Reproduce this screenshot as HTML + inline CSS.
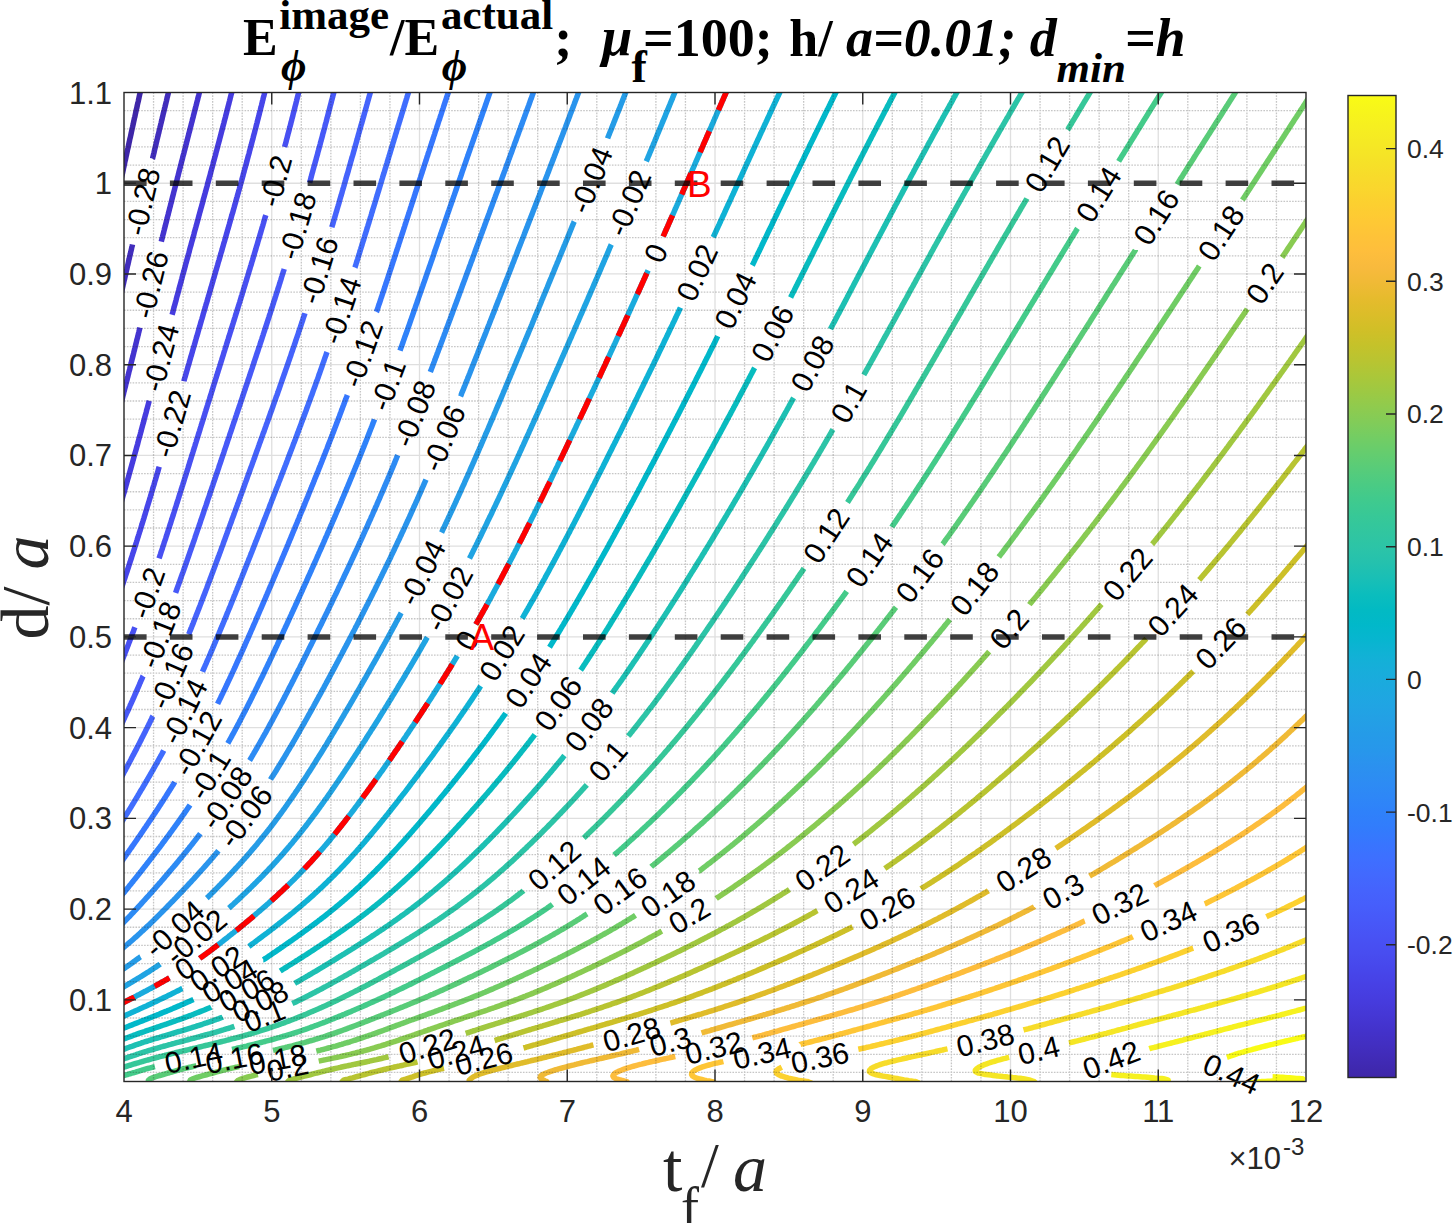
<!DOCTYPE html><html><head><meta charset="utf-8"><style>html,body{margin:0;padding:0;background:#fff;overflow:hidden;}svg{display:block;}.s{font-family:"Liberation Sans",sans-serif;}.r{font-family:"Liberation Serif",serif;}</style></head><body>
<svg width="1455" height="1223" viewBox="0 0 1455 1223">
<rect width="1455" height="1223" fill="#fff"/>
<defs><clipPath id="ax"><rect x="124.0" y="92.5" width="1182.0" height="989.0"/></clipPath>
<linearGradient id="cb" x1="0" y1="0" x2="0" y2="1"><stop offset="0.0000" stop-color="#f9fb15"/><stop offset="0.0159" stop-color="#f7f51b"/><stop offset="0.0317" stop-color="#f6ef20"/><stop offset="0.0476" stop-color="#f5e924"/><stop offset="0.0635" stop-color="#f5e327"/><stop offset="0.0794" stop-color="#f7dc2a"/><stop offset="0.0952" stop-color="#fad62d"/><stop offset="0.1111" stop-color="#fccf30"/><stop offset="0.1270" stop-color="#fec934"/><stop offset="0.1429" stop-color="#fec338"/><stop offset="0.1587" stop-color="#febe3c"/><stop offset="0.1746" stop-color="#f8ba3d"/><stop offset="0.1905" stop-color="#f0ba36"/><stop offset="0.2063" stop-color="#e6bb2d"/><stop offset="0.2222" stop-color="#dcbd29"/><stop offset="0.2381" stop-color="#d1bf27"/><stop offset="0.2540" stop-color="#c5c22a"/><stop offset="0.2698" stop-color="#b9c431"/><stop offset="0.2857" stop-color="#abc739"/><stop offset="0.3016" stop-color="#9dc943"/><stop offset="0.3175" stop-color="#8fcb4e"/><stop offset="0.3333" stop-color="#81cc59"/><stop offset="0.3492" stop-color="#72cd64"/><stop offset="0.3651" stop-color="#64cd6f"/><stop offset="0.3810" stop-color="#57cc7a"/><stop offset="0.3968" stop-color="#4acb84"/><stop offset="0.4127" stop-color="#3fca8e"/><stop offset="0.4286" stop-color="#37c897"/><stop offset="0.4444" stop-color="#31c69f"/><stop offset="0.4603" stop-color="#2cc4a7"/><stop offset="0.4762" stop-color="#24c1ae"/><stop offset="0.4921" stop-color="#19bfb6"/><stop offset="0.5079" stop-color="#0bbdbd"/><stop offset="0.5238" stop-color="#02bac3"/><stop offset="0.5397" stop-color="#01b8ca"/><stop offset="0.5556" stop-color="#08b5d0"/><stop offset="0.5714" stop-color="#12b1d6"/><stop offset="0.5873" stop-color="#18addb"/><stop offset="0.6032" stop-color="#1ca9df"/><stop offset="0.6190" stop-color="#20a5e3"/><stop offset="0.6349" stop-color="#23a0e5"/><stop offset="0.6508" stop-color="#259be8"/><stop offset="0.6667" stop-color="#2797eb"/><stop offset="0.6825" stop-color="#2b91ef"/><stop offset="0.6984" stop-color="#2d8cf3"/><stop offset="0.7143" stop-color="#2e87f7"/><stop offset="0.7302" stop-color="#2f81fa"/><stop offset="0.7460" stop-color="#327cfc"/><stop offset="0.7619" stop-color="#3875fe"/><stop offset="0.7778" stop-color="#3e6fff"/><stop offset="0.7937" stop-color="#4269fe"/><stop offset="0.8095" stop-color="#4563fd"/><stop offset="0.8254" stop-color="#465efb"/><stop offset="0.8413" stop-color="#4758f8"/><stop offset="0.8571" stop-color="#4852f4"/><stop offset="0.8730" stop-color="#484df0"/><stop offset="0.8889" stop-color="#4747eb"/><stop offset="0.9048" stop-color="#4741e5"/><stop offset="0.9206" stop-color="#463cde"/><stop offset="0.9365" stop-color="#4537d5"/><stop offset="0.9524" stop-color="#4332cb"/><stop offset="0.9683" stop-color="#422ec0"/><stop offset="0.9841" stop-color="#402ab4"/><stop offset="1.0000" stop-color="#3e26a8"/></linearGradient></defs>
<g clip-path="url(#ax)" fill="none" stroke-width="5.5" stroke-linecap="butt" stroke-linejoin="round"><path d="M114.0 212.5L114.2 211.5L114.5 210.1L114.8 208.6L115.1 207.2L115.5 205.8L115.8 204.3L116.1 202.9L116.4 201.5L116.4 201.3L116.7 200.0L117.0 198.6L117.3 197.2L117.6 195.7L117.9 194.3L118.2 192.9L118.5 191.4L118.8 190.1L118.8 190.0L119.2 188.6L119.5 187.1L119.8 185.7L120.1 184.3L120.4 182.8L120.7 181.4L121.0 180.0L121.2 179.0L121.3 178.5L121.6 177.1L121.9 175.7L122.3 174.2L122.6 172.8L122.9 171.4L123.2 169.9L123.5 168.5L123.6 167.8L123.8 167.1L124.1 165.6L124.4 164.2L124.7 162.8L125.0 161.3L125.4 159.9L125.7 158.5L126.0 157.0L126.0 156.7L126.3 155.6L126.6 154.2L126.9 152.7L127.2 151.3L127.5 149.9L127.9 148.4L128.2 147.0L128.5 145.7L128.5 145.6L128.8 144.1L129.1 142.7L129.4 141.3L129.7 139.8L130.0 138.4L130.4 137.0L130.7 135.5L130.9 134.6L131.0 134.1L131.3 132.7L131.6 131.2L131.9 129.8L132.2 128.4L132.6 126.9L132.9 125.5L133.2 124.1L133.3 123.7L133.5 122.6L133.8 121.2L134.1 119.8L134.4 118.3L134.8 116.9L135.1 115.5L135.4 114.0L135.7 112.7L135.7 112.6L136.0 111.2L136.3 109.7L136.7 108.3L137.0 106.9L137.3 105.4L137.6 104.0L137.9 102.6L138.1 101.9L138.3 101.1L138.6 99.7L138.9 98.3L139.2 96.8L139.5 95.4L139.8 94.0L140.2 92.5L140.5 91.1L140.5 91.0L140.8 89.7L141.1 88.2L141.4 86.8L141.8 85.4L142.1 83.9L142.4 82.5" stroke="#3e26a8"/><path d="M114.0 324.6L114.3 323.3L114.6 321.9L115.0 320.5L115.3 319.0L115.6 317.6L116.0 316.2L116.3 314.7L116.4 314.2L116.6 313.3L117.0 311.9L117.3 310.4L117.6 309.0L118.0 307.6L118.3 306.1L118.6 304.7L118.8 303.8L118.9 303.3L119.3 301.8L119.6 300.4L119.9 299.0L120.3 297.5L120.6 296.1L120.9 294.7L121.2 293.4L121.3 293.2L121.6 291.8L121.9 290.4L122.3 288.9L122.6 287.5L122.9 286.1L123.2 284.6L123.6 283.2L123.6 282.9L123.9 281.8L124.2 280.3L124.6 278.9L124.9 277.5L125.2 276.0L125.6 274.6L125.9 273.2L126.0 272.4L126.2 271.7L126.5 270.3L126.9 268.9L127.2 267.4L127.5 266.0L127.9 264.6L128.2 263.1L128.5 262.0L128.5 261.7L128.8 260.3L129.2 258.8L129.5 257.4L129.8 256.0L130.2 254.5L130.5 253.1L130.8 251.7L130.9 251.5L131.2 250.2L131.5 248.8L131.8 247.3L132.2 245.9L132.5 244.5M152.5 158.7L152.6 158.5L152.9 157.0L153.3 155.6L153.6 154.2L154.0 152.7L154.3 151.3L154.6 149.9L154.9 148.5L155.0 148.4L155.3 147.0L155.7 145.6L156.0 144.1L156.3 142.7L156.7 141.3L157.0 139.8L157.4 138.5L157.4 138.4L157.7 137.0L158.1 135.5L158.4 134.1L158.8 132.7L159.1 131.2L159.4 129.8L159.8 128.4L159.8 128.4L160.1 126.9L160.5 125.5L160.8 124.1L161.2 122.6L161.5 121.2L161.9 119.8L162.2 118.4L162.2 118.3L162.5 116.9L162.9 115.5L163.2 114.0L163.6 112.6L163.9 111.2L164.3 109.7L164.6 108.4L164.6 108.3L165.0 106.9L165.3 105.4L165.7 104.0L166.0 102.6L166.4 101.1L166.7 99.7L167.0 98.5L167.0 98.3L167.4 96.8L167.7 95.4L168.1 94.0L168.4 92.5L168.8 91.1L169.1 89.7L169.4 88.6L169.5 88.2L169.8 86.8L170.2 85.4L170.5 83.9L170.9 82.5" stroke="#412dbc"/><path d="M114.0 431.0L114.0 430.8L114.4 429.4L114.8 428.0L115.2 426.5L115.5 425.1L115.9 423.7L116.3 422.2L116.4 421.7L116.6 420.8L117.0 419.4L117.4 417.9L117.7 416.5L118.1 415.1L118.5 413.6L118.8 412.3L118.8 412.2L119.2 410.8L119.6 409.3L119.9 407.9L120.3 406.5L120.7 405.0L121.0 403.6L121.2 402.8L121.4 402.2L121.8 400.7L122.1 399.3L122.5 397.9L122.8 396.4L123.2 395.0L123.6 393.6L123.6 393.3L123.9 392.1L124.3 390.7L124.6 389.3L125.0 387.8L125.4 386.4L125.7 385.0L126.0 383.7L126.1 383.5L126.4 382.1L126.8 380.7L127.2 379.2L127.5 377.8L127.9 376.4L128.2 374.9L128.5 374.0L128.6 373.5L128.9 372.1L129.3 370.6L129.7 369.2L130.0 367.8L130.4 366.3L130.7 364.9L130.9 364.3L131.1 363.5L131.4 362.0L131.8 360.6L132.1 359.2L132.5 357.7L132.9 356.3L133.2 354.9L133.3 354.6L133.6 353.4L133.9 352.0L134.3 350.6L134.6 349.1L135.0 347.7L135.3 346.3L135.7 344.9L135.7 344.8L136.0 343.4L136.4 342.0L136.7 340.5L137.1 339.1L137.5 337.7L137.8 336.2L138.1 335.1L138.2 334.8L138.5 333.4L138.9 331.9L139.2 330.5L139.6 329.1L139.9 327.6M161.3 241.6L161.6 240.2L162.0 238.7L162.2 238.1L162.4 237.3L162.7 235.9L163.1 234.4L163.5 233.0L163.8 231.6L164.2 230.1L164.5 228.7L164.6 228.5L164.9 227.3L165.3 225.8L165.6 224.4L166.0 223.0L166.4 221.5L166.7 220.1L167.0 219.0L167.1 218.7L167.4 217.2L167.8 215.8L168.2 214.4L168.5 212.9L168.9 211.5L169.3 210.1L169.4 209.5L169.6 208.6L170.0 207.2L170.4 205.8L170.7 204.3L171.1 202.9L171.5 201.5L171.8 200.1L171.8 200.0L172.2 198.6L172.5 197.2L172.9 195.7L173.3 194.3L173.6 192.9L174.0 191.4L174.2 190.6L174.4 190.0L174.7 188.6L175.1 187.1L175.5 185.7L175.8 184.3L176.2 182.8L176.6 181.4L176.6 181.2L177.0 180.0L177.3 178.5L177.7 177.1L178.1 175.7L178.4 174.2L178.8 172.8L179.0 171.8L179.2 171.4L179.5 169.9L179.9 168.5L180.3 167.1L180.6 165.6L181.0 164.2L181.4 162.8L181.4 162.5L181.7 161.3L182.1 159.9L182.5 158.5L182.8 157.0L183.2 155.6L183.6 154.2L183.9 153.1L184.0 152.7L184.3 151.3L184.7 149.9L185.1 148.4L185.4 147.0L185.8 145.6L186.2 144.1L186.3 143.8L186.5 142.7L186.9 141.3L187.3 139.8L187.6 138.4L188.0 137.0L188.4 135.5L188.7 134.4L188.7 134.1L189.1 132.7L189.5 131.2L189.9 129.8L190.2 128.4L190.6 126.9L191.0 125.5L191.1 125.0L191.3 124.1L191.7 122.6L192.1 121.2L192.4 119.8L192.8 118.3L193.2 116.9L193.5 115.6L193.5 115.5L193.9 114.0L194.3 112.6L194.6 111.2L195.0 109.7L195.4 108.3L195.7 106.9L195.9 106.2L196.1 105.4L196.5 104.0L196.8 102.6L197.2 101.1L197.6 99.7L197.9 98.3L198.3 96.8L198.3 96.8L198.7 95.4L199.0 94.0L199.4 92.5L199.8 91.1L200.1 89.7L200.5 88.2L200.7 87.3L200.8 86.8L201.2 85.4L201.6 83.9L201.9 82.5" stroke="#4434cf"/><path d="M114.0 526.7L114.4 525.4L114.8 524.0L115.2 522.6L115.7 521.1L116.1 519.7L116.4 518.7L116.5 518.3L116.9 516.8L117.4 515.4L117.8 514.0L118.2 512.5L118.6 511.1L118.8 510.5L119.1 509.7L119.5 508.2L119.9 506.8L120.3 505.4L120.7 503.9L121.2 502.5L121.2 502.3L121.6 501.1L122.0 499.6L122.4 498.2L122.8 496.8L123.2 495.3L123.6 493.9L123.6 493.9L124.1 492.5L124.5 491.0L124.9 489.6L125.3 488.2L125.7 486.7L126.0 485.5L126.1 485.3L126.5 483.9L126.9 482.4L127.3 481.0L127.7 479.6L128.1 478.1L128.5 477.0L128.5 476.7L128.9 475.3L129.3 473.8L129.7 472.4L130.1 471.0L130.5 469.5L130.9 468.4L130.9 468.1L131.3 466.7L131.7 465.2L132.1 463.8L132.5 462.4L132.9 460.9L133.3 459.7L133.3 459.5L133.7 458.1L134.1 456.6L134.5 455.2L134.9 453.8L135.3 452.3L135.7 451.0L135.7 450.9L136.1 449.5L136.5 448.0L136.9 446.6L137.3 445.2L137.7 443.7L138.0 442.3L138.1 442.1L138.4 440.9L138.8 439.4L139.2 438.0L139.6 436.6L140.0 435.1L140.4 433.7L140.5 433.3L140.8 432.3L141.2 430.8L141.5 429.4L141.9 428.0L142.3 426.5L142.7 425.1L142.9 424.3L143.1 423.7L143.5 422.2L143.9 420.8L144.2 419.4L144.6 417.9L145.0 416.5L145.3 415.4L145.4 415.1L145.8 413.6L146.2 412.2L146.5 410.8L146.9 409.3L147.3 407.9L147.7 406.5L147.7 406.4L148.1 405.0L148.5 403.6L148.8 402.2L149.2 400.7M172.1 314.7L172.5 313.3L172.9 311.9L173.3 310.4L173.6 309.0L174.0 307.6L174.2 306.8L174.4 306.1L174.8 304.7L175.2 303.3L175.6 301.8L176.0 300.4L176.3 299.0L176.6 297.9L176.7 297.5L177.1 296.1L177.5 294.7L177.9 293.2L178.3 291.8L178.7 290.4L179.0 288.9L179.0 288.9L179.4 287.5L179.8 286.1L180.2 284.6L180.6 283.2L181.0 281.8L181.4 280.3L181.4 280.0L181.8 278.9L182.1 277.5L182.5 276.0L182.9 274.6L183.3 273.2L183.7 271.7L183.9 271.1L184.1 270.3L184.5 268.9L184.9 267.4L185.3 266.0L185.6 264.6L186.0 263.1L186.3 262.3L186.4 261.7L186.8 260.3L187.2 258.8L187.6 257.4L188.0 256.0L188.4 254.5L188.7 253.4L188.8 253.1L189.2 251.7L189.5 250.2L189.9 248.8L190.3 247.3L190.7 245.9L191.1 244.6L191.1 244.5L191.5 243.0L191.9 241.6L192.3 240.2L192.7 238.7L193.1 237.3L193.5 235.9L193.5 235.8L193.9 234.4L194.2 233.0L194.6 231.6L195.0 230.1L195.4 228.7L195.8 227.3L195.9 227.0L196.2 225.8L196.6 224.4L197.0 223.0L197.4 221.5L197.8 220.1L198.2 218.7L198.3 218.1L198.6 217.2L198.9 215.8L199.3 214.4L199.7 212.9L200.1 211.5L200.5 210.1L200.7 209.3L200.9 208.6L201.3 207.2L201.7 205.8L202.1 204.3L202.5 202.9L202.9 201.5L203.1 200.5L203.2 200.0L203.6 198.6L204.0 197.2L204.4 195.7L204.8 194.3L205.2 192.9L205.5 191.7L205.6 191.4L206.0 190.0L206.4 188.6L206.8 187.1L207.2 185.7L207.5 184.3L207.9 182.8L207.9 182.8L208.3 181.4L208.7 180.0L209.1 178.5L209.5 177.1L209.9 175.7L210.3 174.2L210.4 173.9L210.6 172.8L211.0 171.4L211.4 169.9L211.8 168.5L212.2 167.1L212.6 165.6L212.8 165.0L213.0 164.2L213.3 162.8L213.7 161.3L214.1 159.9L214.5 158.5L214.9 157.0L215.2 156.0L215.3 155.6L215.7 154.2L216.0 152.7L216.4 151.3L216.8 149.9L217.2 148.4L217.6 147.0L217.6 146.9L217.9 145.6L218.3 144.1L218.7 142.7L219.1 141.3L219.5 139.8L219.8 138.4L220.0 137.8L220.2 137.0L220.6 135.5L221.0 134.1L221.3 132.7L221.7 131.2L222.1 129.8L222.4 128.7L222.5 128.4L222.8 126.9L223.2 125.5L223.6 124.1L224.0 122.6L224.3 121.2L224.7 119.8L224.8 119.4L225.1 118.3L225.5 116.9L225.8 115.5L226.2 114.0L226.6 112.6L226.9 111.2L227.2 110.0L227.3 109.7L227.7 108.3L228.0 106.9L228.4 105.4L228.8 104.0L229.1 102.6L229.5 101.1L229.6 100.6L229.9 99.7L230.2 98.3L230.6 96.8L230.9 95.4L231.3 94.0L231.7 92.5L232.0 91.1L232.0 91.1L232.4 89.7L232.7 88.2L233.1 86.8L233.5 85.4L233.8 83.9L234.2 82.5" stroke="#463cdf"/><path d="M114.0 609.9L114.5 608.6L115.0 607.2L115.5 605.7L116.0 604.3L116.4 603.0L116.4 602.9L116.9 601.4L117.4 600.0L117.9 598.6L118.4 597.1L118.8 595.9L118.9 595.7L119.4 594.3L119.9 592.8L120.4 591.4L120.9 590.0L121.2 588.8L121.3 588.5L121.8 587.1L122.3 585.7L122.8 584.2L123.3 582.8L123.6 581.7L123.7 581.3L124.2 579.9L124.7 578.5L125.2 577.0L125.6 575.6L126.0 574.4L126.1 574.2L126.6 572.7L127.1 571.3L127.5 569.9L128.0 568.4L128.5 567.1L128.5 567.0L128.9 565.6L129.4 564.1L129.9 562.7L130.3 561.3L130.8 559.8L130.9 559.6L131.3 558.4L131.7 557.0L132.2 555.5L132.6 554.1L133.1 552.7L133.3 552.1L133.6 551.2L134.0 549.8L134.5 548.4L134.9 546.9L135.4 545.5L135.7 544.6L135.8 544.1L136.3 542.6L136.7 541.2L137.2 539.8L137.6 538.3L138.1 536.9L138.1 536.9L138.5 535.5L139.0 534.0L139.4 532.6L139.9 531.2L140.3 529.7L140.5 529.2L140.8 528.3L141.2 526.9L141.6 525.4L142.1 524.0L142.5 522.6L142.9 521.4L143.0 521.1L143.4 519.7L143.9 518.3L144.3 516.8L144.7 515.4L145.2 514.0L145.3 513.5L145.6 512.5L146.0 511.1L146.5 509.7L146.9 508.2L147.3 506.8L147.7 505.5L147.8 505.4L148.2 503.9L148.6 502.5L149.1 501.1L149.5 499.6L149.9 498.2L150.1 497.5L150.4 496.8L150.8 495.3L151.2 493.9L151.6 492.5L152.1 491.0L152.5 489.6L152.5 489.4L152.9 488.2L153.3 486.7L153.8 485.3L154.2 483.9L154.6 482.4L154.9 481.3L155.0 481.0L155.5 479.6L155.9 478.1L156.3 476.7L156.7 475.3L157.1 473.8L157.4 473.1L157.6 472.4L158.0 471.0L158.4 469.5L158.8 468.1L159.2 466.7M183.9 381.2L184.0 380.7L184.4 379.2L184.8 377.8L185.3 376.4L185.7 374.9L186.1 373.5L186.3 372.9L186.5 372.1L186.9 370.6L187.3 369.2L187.7 367.8L188.1 366.3L188.6 364.9L188.7 364.5L189.0 363.5L189.4 362.0L189.8 360.6L190.2 359.2L190.6 357.7L191.0 356.3L191.1 356.2L191.5 354.9L191.9 353.4L192.3 352.0L192.7 350.6L193.1 349.1L193.5 347.8L193.5 347.7L193.9 346.3L194.4 344.8L194.8 343.4L195.2 342.0L195.6 340.5L195.9 339.5L196.0 339.1L196.4 337.7L196.9 336.2L197.3 334.8L197.7 333.4L198.1 331.9L198.3 331.2L198.5 330.5L198.9 329.1L199.3 327.6L199.8 326.2L200.2 324.8L200.6 323.3L200.7 322.9L201.0 321.9L201.4 320.5L201.9 319.0L202.3 317.6L202.7 316.2L203.1 314.7L203.1 314.6L203.5 313.3L203.9 311.9L204.4 310.4L204.8 309.0L205.2 307.6L205.5 306.4L205.6 306.1L206.0 304.7L206.4 303.3L206.9 301.8L207.3 300.4L207.7 299.0L207.9 298.1L208.1 297.5L208.5 296.1L209.0 294.7L209.4 293.2L209.8 291.8L210.2 290.4L210.4 289.8L210.6 288.9L211.0 287.5L211.5 286.1L211.9 284.6L212.3 283.2L212.7 281.8L212.8 281.6L213.1 280.3L213.5 278.9L214.0 277.5L214.4 276.0L214.8 274.6L215.2 273.3L215.2 273.2L215.6 271.7L216.0 270.3L216.5 268.9L216.9 267.4L217.3 266.0L217.6 265.0L217.7 264.6L218.1 263.1L218.5 261.7L219.0 260.3L219.4 258.8L219.8 257.4L220.0 256.7L220.2 256.0L220.6 254.5L221.0 253.1L221.5 251.7L221.9 250.2L222.3 248.8L222.4 248.4L222.7 247.3L223.1 245.9L223.5 244.5L223.9 243.0L224.4 241.6L224.8 240.2L224.8 240.0L225.2 238.7L225.6 237.3L226.0 235.9L226.4 234.4L226.8 233.0L227.2 231.7L227.2 231.6L227.6 230.1L228.1 228.7L228.5 227.3L228.9 225.8L229.3 224.4L229.6 223.2L229.7 223.0L230.1 221.5L230.5 220.1L230.9 218.7L231.3 217.2L231.7 215.8L232.0 214.8L232.1 214.4L232.6 212.9L233.0 211.5L233.4 210.1L233.8 208.6L234.2 207.2L234.4 206.3L234.6 205.8L235.0 204.3L235.4 202.9L235.8 201.5L236.2 200.0L236.6 198.6L236.8 197.7L237.0 197.2L237.4 195.7L237.8 194.3L238.2 192.9L238.6 191.4L239.0 190.0L239.3 189.1L239.4 188.6L239.8 187.1L240.2 185.7L240.6 184.3L241.0 182.8L241.4 181.4L241.7 180.3L241.8 180.0L242.2 178.5L242.6 177.1L243.0 175.7L243.3 174.2L243.7 172.8L244.1 171.6L244.1 171.4L244.5 169.9L244.9 168.5L245.3 167.1L245.7 165.6L246.1 164.2L246.5 162.8L246.5 162.7L246.9 161.3L247.2 159.9L247.6 158.5L248.0 157.0L248.4 155.6L248.8 154.2L248.9 153.8L249.2 152.7L249.5 151.3L249.9 149.9L250.3 148.4L250.7 147.0L251.1 145.6L251.3 144.7L251.5 144.1L251.8 142.7L252.2 141.3L252.6 139.8L253.0 138.4L253.3 137.0L253.7 135.6L253.7 135.5L254.1 134.1L254.5 132.7L254.8 131.2L255.2 129.8L255.6 128.4L256.0 126.9L256.1 126.3L256.3 125.5L256.7 124.1L257.1 122.6L257.4 121.2L257.8 119.8L258.2 118.3L258.5 117.0L258.5 116.9L258.9 115.5L259.3 114.0L259.6 112.6L260.0 111.2L260.4 109.7L260.7 108.3L260.9 107.5L261.1 106.9L261.5 105.4L261.8 104.0L262.2 102.6L262.5 101.1L262.9 99.7L263.2 98.3L263.3 97.9L263.6 96.8L264.0 95.4L264.3 94.0L264.7 92.5L265.0 91.1L265.4 89.7L265.7 88.2L265.8 88.1L266.1 86.8L266.4 85.4L266.8 83.9L267.1 82.5" stroke="#4746ea"/><path d="M114.0 680.7L114.2 680.3L114.8 678.8L115.4 677.4L115.9 676.0L116.4 674.8L116.5 674.5L117.1 673.1L117.7 671.7L118.2 670.2L118.8 668.8L118.8 668.8L119.4 667.4L120.0 665.9L120.5 664.5L121.1 663.1L121.2 662.8L121.7 661.6L122.2 660.2L122.8 658.8L123.4 657.3L123.6 656.6L123.9 655.9L124.5 654.5L125.0 653.0L125.6 651.6L126.0 650.5L126.2 650.2L126.7 648.7L127.3 647.3L127.8 645.9L128.4 644.4L128.5 644.2L128.9 643.0L129.5 641.6L130.0 640.1L130.6 638.7L130.9 637.9L131.1 637.3L131.6 635.8L132.2 634.4L132.7 633.0L133.3 631.5L133.3 631.5L133.8 630.1L134.3 628.7L134.9 627.2M159.0 558.4L159.5 557.0L159.8 556.2L160.0 555.5L160.5 554.1L160.9 552.7L161.4 551.2L161.9 549.8L162.2 548.9L162.4 548.4L162.8 546.9L163.3 545.5L163.8 544.1L164.2 542.6L164.6 541.6L164.7 541.2L165.2 539.8L165.7 538.3L166.1 536.9L166.6 535.5L167.0 534.2L167.1 534.0L167.5 532.6L168.0 531.2L168.4 529.7L168.9 528.3L169.4 526.9L169.4 526.8L169.8 525.4L170.3 524.0L170.8 522.6L171.2 521.1L171.7 519.7L171.8 519.3L172.1 518.3L172.6 516.8L173.1 515.4L173.5 514.0L174.0 512.5L174.2 511.8L174.4 511.1L174.9 509.7L175.3 508.2L175.8 506.8L176.3 505.4L176.6 504.2L176.7 503.9L177.2 502.5L177.6 501.1L178.1 499.6L178.5 498.2L179.0 496.8L179.0 496.6L179.4 495.3L179.9 493.9L180.3 492.5L180.8 491.0L181.2 489.6L181.4 488.9L181.7 488.2L182.1 486.7L182.6 485.3L183.0 483.9L183.5 482.4L183.9 481.2L183.9 481.0L184.4 479.6L184.8 478.1L185.3 476.7L185.7 475.3L186.2 473.8L186.3 473.5L186.6 472.4L187.1 471.0L187.5 469.5L188.0 468.1L188.4 466.7L188.7 465.8L188.9 465.2L189.3 463.8L189.7 462.4L190.2 460.9L190.6 459.5L191.1 458.1L191.1 458.1L191.5 456.6L192.0 455.2L192.4 453.8L192.9 452.3L193.3 450.9L193.5 450.3L193.8 449.5L194.2 448.0L194.7 446.6L195.1 445.2L195.5 443.7L195.9 442.6L196.0 442.3L196.4 440.9L196.9 439.4L197.3 438.0L197.8 436.6L198.2 435.1L198.3 434.8L198.7 433.7L199.1 432.3L199.6 430.8L200.0 429.4L200.4 428.0L200.7 427.1L200.9 426.5L201.3 425.1L201.8 423.7L202.2 422.2L202.7 420.8L203.1 419.4L203.1 419.3L203.6 417.9L204.0 416.5L204.5 415.1L204.9 413.6L205.3 412.2L205.5 411.6L205.8 410.8L206.2 409.3L206.7 407.9L207.1 406.5L207.6 405.0L207.9 403.9L208.0 403.6L208.5 402.2L208.9 400.7L209.4 399.3L209.8 397.9L210.3 396.4L210.4 396.1L210.7 395.0L211.2 393.6L211.6 392.1L212.1 390.7L212.5 389.3L212.8 388.4L212.9 387.8L213.4 386.4L213.8 385.0L214.3 383.5L214.7 382.1L215.2 380.7L215.2 380.7L215.6 379.2L216.1 377.8L216.5 376.4L217.0 374.9L217.4 373.5L217.6 373.0L217.9 372.1L218.3 370.6L218.8 369.2L219.2 367.8L219.7 366.3L220.0 365.3L220.1 364.9L220.6 363.5L221.0 362.0L221.5 360.6L221.9 359.2L222.4 357.7L222.4 357.6L222.8 356.3L223.3 354.9L223.7 353.4L224.1 352.0L224.6 350.6L224.8 349.9L225.0 349.1L225.5 347.7L225.9 346.3L226.4 344.8L226.8 343.4L227.2 342.2L227.3 342.0L227.7 340.5L228.2 339.1L228.6 337.7L229.1 336.2L229.5 334.8L229.6 334.5L230.0 333.4L230.4 331.9L230.9 330.5L231.3 329.1L231.8 327.6L232.0 326.7L232.2 326.2L232.6 324.8L233.1 323.3L233.5 321.9L234.0 320.5L234.4 319.0L234.4 319.0L234.9 317.6L235.3 316.2L235.8 314.7L236.2 313.3L236.7 311.9L236.8 311.2L237.1 310.4L237.5 309.0L238.0 307.6L238.4 306.1L238.9 304.7L239.3 303.5L239.3 303.3L239.8 301.8L240.2 300.4L240.7 299.0L241.1 297.5L241.5 296.1L241.7 295.7L242.0 294.7L242.4 293.2L242.9 291.8L243.3 290.4L243.7 288.9L244.1 287.8L244.2 287.5L244.6 286.1L245.1 284.6L245.5 283.2L245.9 281.8L246.4 280.3L246.5 279.9L246.8 278.9L247.2 277.5L247.7 276.0L248.1 274.6L248.6 273.2L248.9 272.0L249.0 271.7L249.4 270.3L249.9 268.9L250.3 267.4L250.7 266.0L251.2 264.6L251.3 264.1L251.6 263.1L252.0 261.7L252.5 260.3L252.9 258.8L253.3 257.4L253.7 256.1L253.8 256.0L254.2 254.5L254.6 253.1L255.0 251.7L255.5 250.2L255.9 248.8L256.1 248.0L256.3 247.3L256.7 245.9L257.2 244.5L257.6 243.0L258.0 241.6L258.4 240.2L258.5 239.9L258.9 238.7L259.3 237.3L259.7 235.9L260.1 234.4L260.6 233.0L260.9 231.7L261.0 231.6L261.4 230.1L261.8 228.7L262.2 227.3L262.7 225.8L263.1 224.4L263.3 223.5L263.5 223.0L263.9 221.5L264.3 220.1L264.7 218.7L265.2 217.2L265.6 215.8L265.8 215.2M284.6 147.0L285.0 145.6L285.0 145.6L285.4 144.1L285.8 142.7L286.2 141.3L286.5 139.8L286.9 138.4L287.3 137.0L287.4 136.4L287.7 135.5L288.0 134.1L288.4 132.7L288.8 131.2L289.2 129.8L289.5 128.4L289.8 127.2L289.9 126.9L290.3 125.5L290.7 124.1L291.0 122.6L291.4 121.2L291.8 119.8L292.1 118.3L292.3 117.8L292.5 116.9L292.9 115.5L293.2 114.0L293.6 112.6L294.0 111.2L294.3 109.7L294.7 108.4L294.7 108.3L295.0 106.9L295.4 105.4L295.8 104.0L296.1 102.6L296.5 101.1L296.8 99.7L297.1 98.8L297.2 98.3L297.6 96.8L297.9 95.4L298.3 94.0L298.6 92.5L299.0 91.1L299.3 89.7L299.5 89.1L299.7 88.2L300.1 86.8L300.4 85.4L300.8 83.9L301.1 82.5" stroke="#4850f2"/><path d="M114.0 740.2L114.6 739.0L115.3 737.6L115.9 736.2L116.4 735.2L116.6 734.7L117.3 733.3L118.0 731.9L118.7 730.4L118.8 730.1L119.3 729.0L120.0 727.6L120.7 726.1L121.2 724.9L121.3 724.7L122.0 723.3L122.7 721.8L123.3 720.4L123.6 719.8L124.0 719.0L124.7 717.5L125.3 716.1L126.0 714.7L126.0 714.5L126.6 713.2L127.3 711.8L128.0 710.4L128.5 709.3L128.6 708.9L129.3 707.5L129.9 706.1L130.5 704.6L130.9 703.9L131.2 703.2L131.8 701.8L132.5 700.3L133.1 698.9L133.3 698.5L133.8 697.5L134.4 696.0L135.0 694.6L135.6 693.2L135.7 693.1L136.3 691.7L136.9 690.3L137.5 688.9L138.1 687.6L138.2 687.4L138.8 686.0L139.4 684.6L140.0 683.1L140.5 682.0L140.6 681.7L141.2 680.3L141.9 678.8L142.5 677.4L142.9 676.3L143.1 676.0M175.6 592.8L176.1 591.4L176.6 590.0L176.6 589.9L177.1 588.5L177.6 587.1L178.1 585.7L178.7 584.2L179.0 583.2L179.2 582.8L179.7 581.3L180.2 579.9L180.7 578.5L181.2 577.0L181.4 576.4L181.7 575.6L182.2 574.2L182.8 572.7L183.3 571.3L183.8 569.9L183.9 569.6L184.3 568.4L184.8 567.0L185.3 565.6L185.8 564.1L186.3 562.8L186.3 562.7L186.8 561.3L187.3 559.8L187.8 558.4L188.3 557.0L188.7 555.9L188.8 555.5L189.3 554.1L189.8 552.7L190.3 551.2L190.8 549.8L191.1 549.0L191.3 548.4L191.8 546.9L192.3 545.5L192.8 544.1L193.3 542.6L193.5 542.0L193.8 541.2L194.3 539.8L194.8 538.3L195.2 536.9L195.7 535.5L195.9 535.0L196.2 534.0L196.7 532.6L197.2 531.2L197.7 529.7L198.2 528.3L198.3 528.0L198.7 526.9L199.2 525.4L199.7 524.0L200.2 522.6L200.6 521.1L200.7 520.9L201.1 519.7L201.6 518.3L202.1 516.8L202.6 515.4L203.1 514.0L203.1 513.8L203.6 512.5L204.0 511.1L204.5 509.7L205.0 508.2L205.5 506.8L205.5 506.7L206.0 505.4L206.5 503.9L207.0 502.5L207.4 501.1L207.9 499.6L207.9 499.6L208.4 498.2L208.9 496.8L209.4 495.3L209.9 493.9L210.3 492.5L210.4 492.5L210.8 491.0L211.3 489.6L211.8 488.2L212.3 486.7L212.8 485.3L212.8 485.3L213.2 483.9L213.7 482.4L214.2 481.0L214.7 479.6L215.2 478.2L215.2 478.1L215.7 476.7L216.1 475.3L216.6 473.8L217.1 472.4L217.6 471.0L217.6 471.0L218.1 469.5L218.6 468.1L219.0 466.7L219.5 465.2L220.0 463.8L220.0 463.8L220.5 462.4L221.0 460.9L221.4 459.5L221.9 458.1L222.4 456.7L222.4 456.6L222.9 455.2L223.4 453.8L223.9 452.3L224.3 450.9L224.8 449.5L224.8 449.5L225.3 448.0L225.8 446.6L226.3 445.2L226.8 443.7L227.2 442.4L227.2 442.3L227.7 440.9L228.2 439.4L228.7 438.0L229.2 436.6L229.6 435.2L229.6 435.1L230.1 433.7L230.6 432.3L231.1 430.8L231.6 429.4L232.0 428.0L232.1 428.0L232.5 426.5L233.0 425.1L233.5 423.7L234.0 422.2L234.4 420.9L234.5 420.8L235.0 419.4L235.4 417.9L235.9 416.5L236.4 415.1L236.8 413.7L236.9 413.6L237.4 412.2L237.8 410.8L238.3 409.3L238.8 407.9L239.3 406.6L239.3 406.5L239.8 405.0L240.3 403.6L240.7 402.2L241.2 400.7L241.7 399.4L241.7 399.3L242.2 397.9L242.7 396.4L243.1 395.0L243.6 393.6L244.1 392.2L244.1 392.1L244.6 390.7L245.1 389.3L245.5 387.8L246.0 386.4L246.5 385.0L246.5 385.0L247.0 383.5L247.5 382.1L247.9 380.7L248.4 379.2L248.9 377.8L248.9 377.8L249.4 376.4L249.9 374.9L250.3 373.5L250.8 372.1L251.3 370.6L251.3 370.6L251.8 369.2L252.3 367.8L252.7 366.3L253.2 364.9L253.7 363.5L253.7 363.4L254.2 362.0L254.6 360.6L255.1 359.2L255.6 357.7L256.1 356.3L256.1 356.1L256.5 354.9L257.0 353.4L257.5 352.0L258.0 350.6L258.4 349.1L258.5 348.9L258.9 347.7L259.4 346.3L259.9 344.8L260.3 343.4L260.8 342.0L260.9 341.6L261.3 340.5L261.8 339.1L262.2 337.7L262.7 336.2L263.2 334.8L263.3 334.2L263.6 333.4L264.1 331.9L264.6 330.5L265.0 329.1L265.5 327.6L265.8 326.9L266.0 326.2L266.4 324.8L266.9 323.3L267.4 321.9L267.8 320.5L268.2 319.5L268.3 319.0L268.8 317.6L269.2 316.2L269.7 314.7L270.2 313.3L270.6 312.0L270.6 311.9L271.1 310.4L271.5 309.0L272.0 307.6L272.5 306.1L272.9 304.7L273.0 304.5L273.4 303.3L273.8 301.8L274.3 300.4L274.8 299.0L275.2 297.5L275.4 297.0L275.7 296.1L276.1 294.7L276.6 293.2L277.0 291.8L277.5 290.4L277.8 289.4L277.9 288.9L278.4 287.5L278.9 286.1L279.3 284.6L279.8 283.2L280.2 281.8L280.2 281.7L280.7 280.3L281.1 278.9L281.5 277.5L282.0 276.0L282.4 274.6L282.6 274.0L282.9 273.2L283.3 271.7L283.8 270.3L284.2 268.9M309.6 182.8L310.0 181.4L310.4 180.0L310.8 178.5L311.2 177.1L311.5 175.8L311.5 175.7L311.9 174.2L312.3 172.8L312.7 171.4L313.1 169.9L313.5 168.5L313.9 167.1L313.9 167.0L314.3 165.6L314.7 164.2L315.1 162.8L315.5 161.3L315.9 159.9L316.3 158.5L316.3 158.3L316.7 157.0L317.1 155.6L317.5 154.2L317.8 152.7L318.2 151.3L318.6 149.9L318.7 149.4L319.0 148.4L319.4 147.0L319.8 145.6L320.2 144.1L320.5 142.7L320.9 141.3L321.2 140.4L321.3 139.8L321.7 138.4L322.1 137.0L322.5 135.5L322.8 134.1L323.2 132.7L323.6 131.4L323.6 131.2L324.0 129.8L324.4 128.4L324.8 126.9L325.1 125.5L325.5 124.1L325.9 122.6L326.0 122.3L326.3 121.2L326.7 119.8L327.0 118.3L327.4 116.9L327.8 115.5L328.2 114.0L328.4 113.2L328.5 112.6L328.9 111.2L329.3 109.7L329.7 108.3L330.0 106.9L330.4 105.4L330.8 104.0L330.8 104.0L331.2 102.6L331.5 101.1L331.9 99.7L332.3 98.3L332.7 96.8L333.0 95.4L333.2 94.8L333.4 94.0L333.8 92.5L334.2 91.1L334.5 89.7L334.9 88.2L335.3 86.8L335.6 85.5L335.6 85.4L336.0 83.9L336.4 82.5" stroke="#4759f8"/><path d="M114.0 790.8L114.1 790.6L114.9 789.2L115.7 787.8L116.4 786.4L116.5 786.3L117.2 784.9L118.0 783.5L118.8 782.0L118.8 782.0L119.6 780.6L120.4 779.2L121.1 777.7L121.2 777.6L121.9 776.3L122.7 774.9L123.5 773.4L123.6 773.1L124.2 772.0L125.0 770.6L125.8 769.1L126.0 768.7L126.6 767.7L127.3 766.3L128.1 764.8L128.5 764.1L128.8 763.4L129.6 762.0L130.4 760.5L130.9 759.6L131.1 759.1L131.9 757.7L132.6 756.2L133.3 755.0L133.4 754.8L134.1 753.4L134.9 751.9L135.6 750.5L135.7 750.4L136.4 749.1L137.1 747.6L137.8 746.2L138.1 745.7L138.6 744.8L139.3 743.3L140.1 741.9L140.5 741.0L140.8 740.5L141.5 739.0L142.2 737.6L142.9 736.3L143.0 736.2L143.7 734.7L144.4 733.3L145.1 731.9L145.3 731.5L145.8 730.4L146.5 729.0L147.3 727.6L147.7 726.6L148.0 726.1L148.7 724.7L149.4 723.3L150.1 721.8L150.1 721.7L150.8 720.4L151.5 719.0L152.2 717.5L152.5 716.7L152.9 716.1M188.7 634.4L188.7 634.4L189.3 633.0L189.8 631.5L190.4 630.1L191.0 628.7L191.1 628.4L191.6 627.2L192.1 625.8L192.7 624.4L193.3 622.9L193.5 622.3L193.8 621.5L194.4 620.1L195.0 618.6L195.5 617.2L195.9 616.2L196.1 615.8L196.6 614.3L197.2 612.9L197.8 611.5L198.3 610.0L198.3 610.0L198.9 608.6L199.4 607.2L200.0 605.7L200.5 604.3L200.7 603.8L201.1 602.9L201.6 601.4L202.2 600.0L202.7 598.6L203.1 597.5L203.3 597.1L203.8 595.7L204.4 594.3L204.9 592.8L205.5 591.4L205.5 591.2L206.0 590.0L206.6 588.5L207.1 587.1L207.6 585.7L207.9 584.8L208.2 584.2L208.7 582.8L209.3 581.3L209.8 579.9L210.3 578.5L210.4 578.4L210.9 577.0L211.4 575.6L211.9 574.2L212.5 572.7L212.8 572.0L213.0 571.3L213.5 569.9L214.1 568.4L214.6 567.0L215.1 565.6L215.2 565.5L215.7 564.1L216.2 562.7L216.7 561.3L217.3 559.8L217.6 559.0L217.8 558.4L218.3 557.0L218.9 555.5L219.4 554.1L219.9 552.7L220.0 552.5L220.5 551.2L221.0 549.8L221.5 548.4L222.0 546.9L222.4 546.0L222.6 545.5L223.1 544.1L223.6 542.6L224.1 541.2L224.7 539.8L224.8 539.4L225.2 538.3L225.7 536.9L226.2 535.5L226.8 534.0L227.2 532.8L227.3 532.6L227.8 531.2L228.3 529.7L228.9 528.3L229.4 526.9L229.6 526.2L229.9 525.4L230.4 524.0L231.0 522.6L231.5 521.1L232.0 519.7L232.0 519.6L232.5 518.3L233.1 516.8L233.6 515.4L234.1 514.0L234.4 513.0L234.6 512.5L235.1 511.1L235.7 509.7L236.2 508.2L236.7 506.8L236.8 506.4L237.2 505.4L237.7 503.9L238.3 502.5L238.8 501.1L239.3 499.8L239.3 499.6L239.8 498.2L240.3 496.8L240.9 495.3L241.4 493.9L241.7 493.1L241.9 492.5L242.4 491.0L242.9 489.6L243.5 488.2L244.0 486.7L244.1 486.5L244.5 485.3L245.0 483.9L245.5 482.4L246.1 481.0L246.5 479.8L246.6 479.6L247.1 478.1L247.6 476.7L248.1 475.3L248.7 473.8L248.9 473.2L249.2 472.4L249.7 471.0L250.2 469.5L250.7 468.1L251.2 466.7L251.3 466.5L251.8 465.2L252.3 463.8L252.8 462.4L253.3 460.9L253.7 459.9L253.8 459.5L254.4 458.1L254.9 456.6L255.4 455.2L255.9 453.8L256.1 453.2L256.4 452.3L256.9 450.9L257.5 449.5L258.0 448.0L258.5 446.6L258.5 446.5L259.0 445.2L259.5 443.7L260.0 442.3L260.6 440.9L260.9 439.8L261.1 439.4L261.6 438.0L262.1 436.6L262.6 435.1L263.1 433.7L263.3 433.1L263.7 432.3L264.2 430.8L264.7 429.4L265.2 428.0L265.7 426.5L265.8 426.4L266.2 425.1L266.7 423.7L267.3 422.2L267.8 420.8L268.2 419.7L268.3 419.4L268.8 417.9L269.3 416.5L269.8 415.1L270.3 413.6L270.6 412.9L270.8 412.2L271.4 410.8L271.9 409.3L272.4 407.9L272.9 406.5L273.0 406.2L273.4 405.0L273.9 403.6L274.4 402.2L274.9 400.7L275.4 399.4L275.4 399.3L275.9 397.9L276.4 396.4L277.0 395.0L277.5 393.6L277.8 392.6L278.0 392.1L278.5 390.7L279.0 389.3L279.5 387.8L280.0 386.4L280.2 385.8L280.5 385.0L281.0 383.5L281.5 382.1L282.0 380.7L282.5 379.2L282.6 378.9L283.0 377.8L283.5 376.4L284.0 374.9L284.5 373.5L285.0 372.1L285.0 372.0L285.5 370.6L286.0 369.2L286.5 367.8L287.0 366.3L287.4 365.1L287.5 364.9L288.0 363.5L288.5 362.0L289.0 360.6L289.5 359.2L289.8 358.1L290.0 357.7L290.5 356.3L291.0 354.9L291.4 353.4L291.9 352.0L292.3 351.1L292.4 350.6L292.9 349.1L293.4 347.7L293.9 346.3L294.4 344.8L294.7 344.0L294.9 343.4L295.4 342.0L295.8 340.5L296.3 339.1L296.8 337.7L297.1 336.9L297.3 336.2L297.8 334.8L298.3 333.4L298.7 331.9L299.2 330.5L299.5 329.7L299.7 329.1L300.2 327.6L300.7 326.2L301.1 324.8L301.6 323.3L301.9 322.5L302.1 321.9L302.6 320.5L303.0 319.0L303.5 317.6L304.0 316.2L304.3 315.2L304.5 314.7L304.9 313.3M331.8 227.3L332.2 225.8L332.7 224.4L333.1 223.0L333.2 222.6L333.5 221.5L333.9 220.1L334.4 218.7L334.8 217.2L335.2 215.8L335.6 214.4L335.6 214.4L336.0 212.9L336.5 211.5L336.9 210.1L337.3 208.6L337.7 207.2L338.0 206.2L338.1 205.8L338.6 204.3L339.0 202.9L339.4 201.5L339.8 200.0L340.2 198.6L340.4 197.9L340.6 197.2L341.1 195.7L341.5 194.3L341.9 192.9L342.3 191.4L342.7 190.0L342.8 189.6L343.1 188.6L343.6 187.1L344.0 185.7L344.4 184.3L344.8 182.8L345.2 181.4L345.2 181.2L345.6 180.0L346.0 178.5L346.4 177.1L346.8 175.7L347.3 174.2L347.7 172.8L347.7 172.8L348.1 171.4L348.5 169.9L348.9 168.5L349.3 167.1L349.7 165.6L350.1 164.4L350.1 164.2L350.5 162.8L350.9 161.3L351.3 159.9L351.7 158.5L352.1 157.0L352.5 155.9L352.6 155.6L353.0 154.2L353.4 152.7L353.8 151.3L354.2 149.9L354.6 148.4L354.9 147.4L355.0 147.0L355.4 145.6L355.8 144.1L356.2 142.7L356.6 141.3L357.0 139.8L357.3 138.8L357.4 138.4L357.8 137.0L358.2 135.5L358.6 134.1L359.0 132.7L359.4 131.2L359.7 130.3L359.8 129.8L360.2 128.4L360.6 126.9L361.0 125.5L361.4 124.1L361.9 122.6L362.1 121.7L362.3 121.2L362.7 119.8L363.1 118.3L363.5 116.9L363.9 115.5L364.3 114.0L364.5 113.2L364.7 112.6L365.1 111.2L365.5 109.7L365.9 108.3L366.3 106.9L366.7 105.4L366.9 104.6L367.1 104.0L367.5 102.6L367.9 101.1L368.3 99.7L368.7 98.3L369.1 96.8L369.3 96.0L369.5 95.4L369.9 94.0L370.3 92.5L370.7 91.1L371.1 89.7L371.5 88.2L371.7 87.5L371.9 86.8L372.3 85.4L372.7 83.9L373.2 82.5" stroke="#4563fc"/><path d="M114.0 834.4L114.5 833.6L115.4 832.2L116.3 830.8L116.4 830.6L117.2 829.3L118.1 827.9L118.8 826.7L119.0 826.5L119.9 825.0L120.7 823.6L121.2 822.8L121.6 822.2L122.5 820.7L123.4 819.3L123.6 818.9L124.3 817.9L125.2 816.4L126.0 815.0L126.1 815.0L127.0 813.6L127.8 812.1L128.5 811.1L128.7 810.7L129.6 809.3L130.5 807.8L130.9 807.2L131.3 806.4L132.2 805.0L133.1 803.5L133.3 803.2L134.0 802.1L134.8 800.7L135.7 799.3L135.7 799.2L136.6 797.8L137.4 796.4L138.1 795.3L138.3 794.9L139.1 793.5L140.0 792.1L140.5 791.2L140.8 790.6L141.7 789.2L142.6 787.8L142.9 787.2L143.4 786.3L144.2 784.9L145.1 783.5L145.3 783.1L145.9 782.0L146.8 780.6L147.6 779.2L147.7 779.0L148.4 777.7L149.3 776.3L150.1 774.9L150.1 774.8L150.9 773.4L151.7 772.0L152.5 770.6L152.6 770.6L153.4 769.1L154.2 767.7L154.9 766.4L155.0 766.3L155.8 764.8L156.6 763.4L157.4 762.1L157.4 762.0L158.2 760.5L159.0 759.1L159.8 757.7L159.8 757.7L160.6 756.2L161.4 754.8L162.2 753.4L162.2 753.4L163.0 751.9L163.7 750.5M202.5 671.7L203.1 670.2L203.1 670.2L203.8 668.8L204.4 667.4L205.0 665.9L205.5 664.8L205.7 664.5L206.3 663.1L206.9 661.6L207.5 660.2L207.9 659.3L208.2 658.8L208.8 657.3L209.4 655.9L210.0 654.5L210.4 653.7L210.6 653.0L211.3 651.6L211.9 650.2L212.5 648.7L212.8 648.1L213.1 647.3L213.7 645.9L214.3 644.4L214.9 643.0L215.2 642.4L215.5 641.6L216.1 640.1L216.7 638.7L217.3 637.3L217.6 636.7L217.9 635.8L218.5 634.4L219.1 633.0L219.7 631.5L220.0 630.9L220.3 630.1L220.9 628.7L221.5 627.2L222.1 625.8L222.4 625.1L222.7 624.4L223.3 622.9L223.9 621.5L224.5 620.1L224.8 619.3L225.1 618.6L225.7 617.2L226.3 615.8L226.8 614.3L227.2 613.4L227.4 612.9L228.0 611.5L228.6 610.0L229.2 608.6L229.6 607.5L229.8 607.2L230.4 605.7L230.9 604.3L231.5 602.9L232.0 601.6L232.1 601.4L232.7 600.0L233.3 598.6L233.8 597.1L234.4 595.7L234.4 595.6L235.0 594.3L235.6 592.8L236.1 591.4L236.7 590.0L236.8 589.6L237.3 588.5L237.9 587.1L238.4 585.7L239.0 584.2L239.3 583.6L239.6 582.8L240.2 581.3L240.7 579.9L241.3 578.5L241.7 577.5L241.9 577.0L242.4 575.6L243.0 574.2L243.6 572.7L244.1 571.5L244.1 571.3L244.7 569.9L245.3 568.4L245.8 567.0L246.4 565.6L246.5 565.4L247.0 564.1L247.5 562.7L248.1 561.3L248.7 559.8L248.9 559.3L249.2 558.4L249.8 557.0L250.4 555.5L250.9 554.1L251.3 553.2L251.5 552.7L252.1 551.2L252.6 549.8L253.2 548.4L253.7 547.1L253.8 546.9L254.3 545.5L254.9 544.1L255.4 542.6L256.0 541.2L256.1 540.9L256.6 539.8L257.1 538.3L257.7 536.9L258.3 535.5L258.5 534.8L258.8 534.0L259.4 532.6L259.9 531.2L260.5 529.7L260.9 528.6L261.1 528.3L261.6 526.9L262.2 525.4L262.7 524.0L263.3 522.6L263.3 522.4L263.8 521.1L264.4 519.7L265.0 518.3L265.5 516.8L265.8 516.2L266.1 515.4L266.6 514.0L267.2 512.5L267.8 511.1L268.2 510.1L268.3 509.7L268.9 508.2L269.4 506.8L270.0 505.4L270.5 503.9L270.6 503.8L271.1 502.5L271.6 501.1L272.2 499.6L272.8 498.2L273.0 497.6L273.3 496.8L273.9 495.3L274.4 493.9L275.0 492.5L275.4 491.4L275.5 491.0L276.1 489.6L276.6 488.2L277.2 486.7L277.7 485.3L277.8 485.2L278.3 483.9L278.8 482.4L279.4 481.0L280.0 479.6L280.2 478.9L280.5 478.1L281.1 476.7L281.6 475.3L282.2 473.8L282.6 472.6L282.7 472.4L283.3 471.0L283.8 469.5L284.4 468.1L284.9 466.7L285.0 466.4L285.5 465.2L286.0 463.8L286.6 462.4L287.1 460.9L287.4 460.1L287.6 459.5L288.2 458.1L288.7 456.6L289.3 455.2L289.8 453.8L289.8 453.7L290.4 452.3L290.9 450.9L291.5 449.5L292.0 448.0L292.3 447.4L292.6 446.6L293.1 445.2L293.6 443.7L294.2 442.3L294.7 441.0L294.7 440.9L295.3 439.4L295.8 438.0L296.4 436.6L296.9 435.1L297.1 434.7L297.4 433.7L298.0 432.3L298.5 430.8L299.0 429.4L299.5 428.2L299.6 428.0L300.1 426.5L300.7 425.1L301.2 423.7L301.7 422.2L301.9 421.8L302.3 420.8L302.8 419.4L303.3 417.9L303.9 416.5L304.3 415.3L304.4 415.1L304.9 413.6L305.5 412.2L306.0 410.8L306.5 409.3L306.7 408.8L307.0 407.9L307.6 406.5L308.1 405.0L308.6 403.6L309.1 402.3L309.1 402.2L309.7 400.7L310.2 399.3L310.7 397.9L311.2 396.4L311.5 395.7L311.8 395.0L312.3 393.6L312.8 392.1L313.3 390.7L313.8 389.3L313.9 389.0L314.4 387.8L314.9 386.4L315.4 385.0L315.9 383.5L316.3 382.3L316.4 382.1L316.9 380.7L317.5 379.2L318.0 377.8L318.5 376.4L318.7 375.6L319.0 374.9L319.5 373.5L320.0 372.1L320.5 370.6L321.0 369.2L321.2 368.8L321.5 367.8L322.0 366.3L322.5 364.9L323.0 363.5L323.5 362.0L323.6 362.0L324.0 360.6L324.5 359.2L325.0 357.7L325.5 356.3L326.0 355.1L326.0 354.9L326.5 353.4L327.0 352.0M354.9 267.6L355.0 267.4L355.4 266.0L355.9 264.6L356.3 263.1L356.8 261.7L357.2 260.3L357.3 260.0L357.7 258.8L358.1 257.4L358.6 256.0L359.0 254.5L359.5 253.1L359.7 252.3L359.9 251.7L360.3 250.2L360.8 248.8L361.2 247.3L361.7 245.9L362.1 244.6L362.1 244.5L362.6 243.0L363.0 241.6L363.5 240.2L363.9 238.7L364.4 237.3L364.5 236.8L364.8 235.9L365.2 234.4L365.7 233.0L366.1 231.6L366.6 230.1L366.9 229.0L367.0 228.7L367.4 227.3L367.9 225.8L368.3 224.4L368.8 223.0L369.2 221.5L369.3 221.1L369.6 220.1L370.1 218.7L370.5 217.2L371.0 215.8L371.4 214.4L371.7 213.2L371.8 212.9L372.3 211.5L372.7 210.1L373.1 208.6L373.6 207.2L374.0 205.8L374.2 205.3L374.5 204.3L374.9 202.9L375.3 201.5L375.8 200.0L376.2 198.6L376.6 197.4L376.6 197.2L377.1 195.7L377.5 194.3L377.9 192.9L378.4 191.4L378.8 190.0L379.0 189.5L379.2 188.6L379.7 187.1L380.1 185.7L380.5 184.3L381.0 182.8L381.4 181.5L381.4 181.4L381.8 180.0L382.3 178.5L382.7 177.1L383.1 175.7L383.6 174.2L383.8 173.6L384.0 172.8L384.5 171.4L384.9 169.9L385.3 168.5L385.8 167.1L386.2 165.6L386.2 165.6L386.6 164.2L387.1 162.8L387.5 161.3L387.9 159.9L388.4 158.5L388.6 157.6L388.8 157.0L389.2 155.6L389.7 154.2L390.1 152.7L390.5 151.3L391.0 149.9L391.0 149.7L391.4 148.4L391.8 147.0L392.3 145.6L392.7 144.1L393.1 142.7L393.4 141.7L393.6 141.3L394.0 139.8L394.4 138.4L394.9 137.0L395.3 135.5L395.7 134.1L395.8 133.8L396.2 132.7L396.6 131.2L397.0 129.8L397.5 128.4L397.9 126.9L398.2 125.8L398.3 125.5L398.8 124.1L399.2 122.6L399.7 121.2L400.1 119.8L400.5 118.3L400.6 117.9L401.0 116.9L401.4 115.5L401.8 114.0L402.3 112.6L402.7 111.2L403.1 110.0L403.1 109.7L403.6 108.3L404.0 106.9L404.5 105.4L404.9 104.0L405.3 102.6L405.5 102.2L405.8 101.1L406.2 99.7L406.7 98.3L407.1 96.8L407.5 95.4L407.9 94.3L408.0 94.0L408.4 92.5L408.9 91.1L409.3 89.7L409.7 88.2L410.2 86.8L410.3 86.5L410.6 85.4L411.1 83.9L411.5 82.5" stroke="#406dfe"/><path d="M114.0 872.1L114.9 870.9L115.9 869.5L116.4 868.8L116.9 868.0L118.0 866.6L118.8 865.4L119.0 865.2L120.0 863.7L121.0 862.3L121.2 862.1L122.1 860.9L123.1 859.4L123.6 858.7L124.1 858.0L125.1 856.6L126.0 855.2L126.1 855.1L127.1 853.7L128.1 852.3L128.5 851.8L129.1 850.8L130.1 849.4L130.9 848.4L131.1 848.0L132.2 846.5L133.1 845.1L133.3 844.9L134.1 843.7L135.1 842.2L135.7 841.5L136.1 840.8L137.1 839.4L138.1 838.0L138.1 837.9L139.1 836.5L140.1 835.1L140.5 834.5L141.1 833.6L142.1 832.2L142.9 831.0L143.0 830.8L144.0 829.3L145.0 827.9L145.3 827.4L146.0 826.5L146.9 825.0L147.7 823.9L147.9 823.6L148.9 822.2L149.8 820.7L150.1 820.3L150.8 819.3L151.8 817.9L152.5 816.7L152.7 816.4L153.7 815.0L154.6 813.6L154.9 813.1L155.6 812.1L156.5 810.7L157.4 809.4L157.5 809.3L158.4 807.8L159.3 806.4L159.8 805.7L160.3 805.0L161.2 803.5L162.1 802.1L162.2 802.0L163.0 800.7L164.0 799.2L164.6 798.3L164.9 797.8L165.8 796.4L166.7 794.9L167.0 794.5L167.6 793.5L168.5 792.1L169.4 790.7L169.4 790.6L170.3 789.2L171.2 787.8L171.8 786.8L172.1 786.3L173.0 784.9L173.9 783.5L174.2 782.9L174.7 782.0M217.6 703.9L217.9 703.2L218.6 701.8L219.3 700.3L220.0 699.0L220.0 698.9L220.7 697.5L221.4 696.0L222.1 694.6L222.4 694.0L222.8 693.2L223.5 691.7L224.2 690.3L224.8 689.0L224.9 688.9L225.5 687.4L226.2 686.0L226.9 684.6L227.2 683.9L227.6 683.1L228.2 681.7L228.9 680.3L229.6 678.8L229.6 678.7L230.3 677.4L230.9 676.0L231.6 674.5L232.0 673.6L232.2 673.1L232.9 671.7L233.6 670.2L234.2 668.8L234.4 668.3L234.9 667.4L235.5 665.9L236.2 664.5L236.8 663.1L236.8 663.0L237.5 661.6L238.1 660.2L238.8 658.8L239.3 657.7L239.4 657.3L240.1 655.9L240.7 654.5L241.4 653.0L241.7 652.4L242.0 651.6L242.7 650.2L243.3 648.7L243.9 647.3L244.1 647.0L244.6 645.9L245.2 644.4L245.8 643.0L246.5 641.6L246.5 641.6L247.1 640.1L247.8 638.7L248.4 637.3L248.9 636.1L249.0 635.8L249.6 634.4L250.3 633.0L250.9 631.5L251.3 630.6L251.5 630.1L252.2 628.7L252.8 627.2L253.4 625.8L253.7 625.1L254.0 624.4L254.7 622.9L255.3 621.5L255.9 620.1L256.1 619.6L256.5 618.6L257.1 617.2L257.8 615.8L258.4 614.3L258.5 614.0L259.0 612.9L259.6 611.5L260.2 610.0L260.9 608.6L260.9 608.4L261.5 607.2L262.1 605.7L262.7 604.3L263.3 602.9L263.3 602.8L263.9 601.4L264.6 600.0L265.2 598.6L265.8 597.2L265.8 597.1L266.4 595.7L267.0 594.3L267.6 592.8L268.2 591.5L268.2 591.4L268.8 590.0L269.4 588.5L270.1 587.1L270.6 585.9L270.7 585.7L271.3 584.2L271.9 582.8L272.5 581.3L273.0 580.2L273.1 579.9L273.7 578.5L274.3 577.0L274.9 575.6L275.4 574.5L275.5 574.2L276.1 572.7L276.7 571.3L277.3 569.9L277.8 568.8L277.9 568.4L278.5 567.0L279.2 565.6L279.8 564.1L280.2 563.1L280.4 562.7L281.0 561.3L281.6 559.8L282.2 558.4L282.6 557.3L282.8 557.0L283.4 555.5L284.0 554.1L284.6 552.7L285.0 551.6L285.2 551.2L285.8 549.8L286.4 548.4L287.0 546.9L287.4 545.8L287.6 545.5L288.2 544.1L288.8 542.6L289.4 541.2L289.8 540.0L290.0 539.8L290.6 538.3L291.2 536.9L291.7 535.5L292.3 534.3L292.3 534.0L292.9 532.6L293.5 531.2L294.1 529.7L294.7 528.5L294.7 528.3L295.3 526.9L295.9 525.4L296.5 524.0L297.1 522.6L297.1 522.6L297.7 521.1L298.3 519.7L298.9 518.3L299.5 516.8L299.5 516.8L300.0 515.4L300.6 514.0L301.2 512.5L301.8 511.1L301.9 510.9L302.4 509.7L303.0 508.2L303.6 506.8L304.2 505.4L304.3 505.1L304.8 503.9L305.3 502.5L305.9 501.1L306.5 499.6L306.7 499.2L307.1 498.2L307.7 496.8L308.3 495.3L308.8 493.9L309.1 493.2L309.4 492.5L310.0 491.0L310.6 489.6L311.2 488.2L311.5 487.3L311.7 486.7L312.3 485.3L312.9 483.9L313.5 482.4L313.9 481.3L314.1 481.0L314.6 479.6L315.2 478.1L315.8 476.7L316.3 475.3L316.4 475.3L316.9 473.8L317.5 472.4L318.1 471.0L318.7 469.5L318.7 469.3L319.2 468.1L319.8 466.7L320.4 465.2L320.9 463.8L321.2 463.2L321.5 462.4L322.1 460.9L322.6 459.5L323.2 458.1L323.6 457.2L323.8 456.6L324.3 455.2L324.9 453.8L325.5 452.3L326.0 451.0L326.0 450.9L326.6 449.5L327.2 448.0L327.7 446.6L328.3 445.2L328.4 444.9L328.8 443.7L329.4 442.3L329.9 440.9L330.5 439.4L330.8 438.7L331.1 438.0L331.6 436.6L332.2 435.1L332.7 433.7L333.2 432.4L333.3 432.3L333.8 430.8L334.4 429.4L334.9 428.0L335.5 426.5L335.6 426.2L336.0 425.1L336.6 423.7L337.1 422.2L337.7 420.8L338.0 419.8L338.2 419.4L338.7 417.9L339.3 416.5L339.8 415.1L340.4 413.6L340.4 413.4L340.9 412.2L341.4 410.8L342.0 409.3L342.5 407.9L342.8 407.0L343.0 406.5L343.6 405.0L344.1 403.6L344.6 402.2L345.2 400.7L345.2 400.6L345.7 399.3L346.2 397.9L346.8 396.4L347.3 395.0M376.5 311.9L376.6 311.7L377.0 310.4L377.5 309.0L378.0 307.6L378.4 306.1L378.9 304.7L379.0 304.5L379.4 303.3L379.9 301.8L380.4 300.4L380.8 299.0L381.3 297.5L381.4 297.3L381.8 296.1L382.3 294.7L382.8 293.2L383.2 291.8L383.7 290.4L383.8 290.1L384.2 288.9L384.7 287.5L385.1 286.1L385.6 284.6L386.1 283.2L386.2 282.8L386.5 281.8L387.0 280.3L387.5 278.9L388.0 277.5L388.4 276.0L388.6 275.5L388.9 274.6L389.4 273.2L389.8 271.7L390.3 270.3L390.8 268.9L391.0 268.2L391.3 267.4L391.7 266.0L392.2 264.6L392.7 263.1L393.1 261.7L393.4 260.8L393.6 260.3L394.1 258.8L394.5 257.4L395.0 256.0L395.5 254.5L395.8 253.4L395.9 253.1L396.4 251.7L396.9 250.2L397.3 248.8L397.8 247.3L398.2 246.0L398.3 245.9L398.7 244.5L399.2 243.0L399.7 241.6L400.1 240.2L400.6 238.7L400.6 238.6L401.1 237.3L401.5 235.9L402.0 234.4L402.5 233.0L402.9 231.6L403.1 231.2L403.4 230.1L403.9 228.7L404.3 227.3L404.8 225.8L405.2 224.4L405.5 223.7L405.7 223.0L406.2 221.5L406.6 220.1L407.1 218.7L407.6 217.2L407.9 216.3L408.0 215.8L408.5 214.4L409.0 212.9L409.4 211.5L409.9 210.1L410.3 208.8L410.3 208.6L410.8 207.2L411.3 205.8L411.7 204.3L412.2 202.9L412.7 201.5L412.7 201.4L413.1 200.0L413.6 198.6L414.1 197.2L414.5 195.7L415.0 194.3L415.1 193.9L415.4 192.9L415.9 191.4L416.4 190.0L416.8 188.6L417.3 187.1L417.5 186.5L417.8 185.7L418.2 184.3L418.7 182.8L419.2 181.4L419.6 180.0L419.9 179.1L420.1 178.5L420.6 177.1L421.0 175.7L421.5 174.2L422.0 172.8L422.3 171.7L422.4 171.4L422.9 169.9L423.4 168.5L423.8 167.1L424.3 165.6L424.7 164.2L424.7 164.2L425.2 162.8L425.7 161.3L426.2 159.9L426.6 158.5L427.1 157.0L427.1 156.8L427.6 155.6L428.0 154.2L428.5 152.7L429.0 151.3L429.4 149.9L429.6 149.5L429.9 148.4L430.4 147.0L430.8 145.6L431.3 144.1L431.8 142.7L432.0 142.1L432.2 141.3L432.7 139.8L433.2 138.4L433.6 137.0L434.1 135.5L434.4 134.7L434.6 134.1L435.0 132.7L435.5 131.2L436.0 129.8L436.5 128.4L436.8 127.4L436.9 126.9L437.4 125.5L437.9 124.1L438.3 122.6L438.8 121.2L439.2 120.0L439.3 119.8L439.8 118.3L440.2 116.9L440.7 115.5L441.2 114.0L441.6 112.7L441.6 112.6L442.1 111.2L442.6 109.7L443.1 108.3L443.5 106.9L444.0 105.4L444.0 105.4L444.5 104.0L444.9 102.6L445.4 101.1L445.9 99.7L446.4 98.3L446.4 98.1L446.8 96.8L447.3 95.4L447.8 94.0L448.3 92.5L448.7 91.1L448.8 90.8L449.2 89.7L449.7 88.2L450.2 86.8L450.6 85.4L451.1 83.9L451.2 83.5L451.6 82.5" stroke="#3677fe"/><path d="M114.0 904.4L114.5 903.9L115.7 902.4L116.4 901.6L116.9 901.0L118.1 899.6L118.8 898.8L119.3 898.1L120.5 896.7L121.2 895.9L121.7 895.3L122.9 893.8L123.6 893.0L124.1 892.4L125.3 891.0L126.0 890.0L126.4 889.5L127.6 888.1L128.5 887.1L128.8 886.7L129.9 885.2L130.9 884.1L131.1 883.8L132.2 882.4L133.3 881.1L133.4 880.9L134.5 879.5L135.7 878.1L135.7 878.1L136.8 876.6L138.0 875.2L138.1 875.1L139.1 873.8L140.2 872.3L140.5 872.0L141.4 870.9L142.5 869.5L142.9 869.0L143.6 868.0L144.7 866.6L145.3 865.9L145.9 865.2L147.0 863.7L147.7 862.8L148.1 862.3L149.2 860.9L150.1 859.7L150.3 859.4L151.4 858.0L152.5 856.6L152.5 856.6L153.6 855.1L154.7 853.7L154.9 853.4L155.8 852.3L156.9 850.8L157.4 850.3L158.0 849.4L159.1 848.0L159.8 847.1L160.2 846.5L161.3 845.1L162.2 843.9L162.3 843.7L163.4 842.2L164.5 840.8L164.6 840.7L165.5 839.4L166.6 837.9L167.0 837.4L167.7 836.5L168.7 835.1L169.4 834.2L169.8 833.6L170.8 832.2L171.8 830.9L171.9 830.8L172.9 829.3L174.0 827.9L174.2 827.5L175.0 826.5L176.0 825.0L176.6 824.2L177.1 823.6L178.1 822.2L179.0 820.8L179.1 820.7L180.1 819.3L181.1 817.9L181.4 817.4L182.1 816.4L183.1 815.0L183.9 814.0L184.1 813.6L185.1 812.1L186.1 810.7L186.3 810.5L187.1 809.3L188.1 807.8L188.7 807.0L189.1 806.4L190.0 805.0M227.8 743.3L228.6 741.9L229.4 740.5L229.6 740.1L230.2 739.0L231.0 737.6L231.8 736.2L232.0 735.7L232.6 734.7L233.3 733.3L234.1 731.9L234.4 731.2L234.9 730.4L235.6 729.0L236.4 727.6L236.8 726.7L237.2 726.1L237.9 724.7L238.7 723.3L239.3 722.2L239.4 721.8L240.2 720.4L240.9 719.0L241.7 717.6L241.7 717.5L242.4 716.1L243.2 714.7L243.9 713.2L244.1 712.9L244.7 711.8L245.4 710.4L246.1 708.9L246.5 708.2L246.9 707.5L247.6 706.1L248.3 704.6L248.9 703.5L249.0 703.2L249.8 701.8L250.5 700.3L251.2 698.9L251.3 698.7L251.9 697.5L252.6 696.0L253.3 694.6L253.7 693.9L254.1 693.2L254.8 691.7L255.5 690.3L256.1 689.0L256.2 688.9L256.9 687.4L257.6 686.0L258.3 684.6L258.5 684.1L259.0 683.1L259.7 681.7L260.4 680.3L260.9 679.1L261.1 678.8L261.8 677.4L262.5 676.0L263.2 674.5L263.3 674.2L263.9 673.1L264.6 671.7L265.2 670.2L265.8 669.2L265.9 668.8L266.6 667.4L267.3 665.9L268.0 664.5L268.2 664.1L268.7 663.1L269.4 661.6L270.0 660.2L270.6 659.0L270.7 658.8L271.4 657.3L272.1 655.9L272.7 654.5L273.0 654.0L273.4 653.0L274.1 651.6L274.8 650.2L275.4 648.8L275.4 648.7L276.1 647.3L276.8 645.9L277.5 644.4L277.8 643.7L278.1 643.0L278.8 641.6L279.5 640.1L280.1 638.7L280.2 638.5L280.8 637.3L281.5 635.8L282.1 634.4L282.6 633.4L282.8 633.0L283.5 631.5L284.1 630.1L284.8 628.7L285.0 628.1L285.5 627.2L286.1 625.8L286.8 624.4L287.4 622.9L287.4 622.9L288.1 621.5L288.8 620.1L289.4 618.6L289.8 617.7L290.1 617.2L290.7 615.8L291.4 614.3L292.0 612.9L292.3 612.4L292.7 611.5L293.4 610.0L294.0 608.6L294.7 607.2L294.7 607.2L295.3 605.7L296.0 604.3L296.6 602.9L297.1 601.9L297.3 601.4L297.9 600.0L298.6 598.6L299.2 597.1L299.5 596.6L299.9 595.7L300.5 594.3L301.2 592.8L301.8 591.4L301.9 591.3L302.5 590.0L303.1 588.5L303.8 587.1L304.3 585.9L304.4 585.7L305.1 584.2L305.7 582.8L306.4 581.3L306.7 580.6L307.0 579.9L307.6 578.5L308.3 577.0L308.9 575.6L309.1 575.2L309.6 574.2L310.2 572.7L310.9 571.3L311.5 569.9L311.5 569.8L312.1 568.4L312.8 567.0L313.4 565.6L313.9 564.4L314.1 564.1L314.7 562.7L315.3 561.3L316.0 559.8L316.3 559.0L316.6 558.4L317.2 557.0L317.9 555.5L318.5 554.1L318.7 553.6L319.1 552.7L319.8 551.2L320.4 549.8L321.0 548.4L321.2 548.1L321.7 546.9L322.3 545.5L322.9 544.1L323.6 542.6L323.6 542.6L324.2 541.2L324.8 539.8L325.4 538.3L326.0 537.1L326.1 536.9L326.7 535.5L327.3 534.0L327.9 532.6L328.4 531.6L328.6 531.2L329.2 529.7L329.8 528.3L330.4 526.9L330.8 526.1L331.1 525.4L331.7 524.0L332.3 522.6L332.9 521.1L333.2 520.5L333.5 519.7L334.2 518.3L334.8 516.8L335.4 515.4L335.6 514.9L336.0 514.0L336.6 512.5L337.2 511.1L337.8 509.7L338.0 509.2L338.4 508.2L339.1 506.8L339.7 505.4L340.3 503.9L340.4 503.6L340.9 502.5L341.5 501.1L342.1 499.6L342.7 498.2L342.8 497.9L343.3 496.8L343.9 495.3L344.5 493.9L345.1 492.5L345.2 492.2L345.7 491.0L346.3 489.6L346.9 488.2L347.5 486.7L347.7 486.4L348.1 485.3L348.7 483.9L349.3 482.4L349.9 481.0L350.1 480.6L350.5 479.6L351.1 478.1L351.7 476.7L352.3 475.3L352.5 474.8L352.9 473.8L353.4 472.4L354.0 471.0L354.6 469.5L354.9 468.9L355.2 468.1L355.8 466.7L356.4 465.2L357.0 463.8L357.3 463.0L357.5 462.4L358.1 460.9L358.7 459.5L359.3 458.1L359.7 457.0L359.9 456.6L360.4 455.2L361.0 453.8L361.6 452.3L362.1 451.0L362.2 450.9L362.7 449.5L363.3 448.0L363.9 446.6L364.4 445.2L364.5 445.0L365.0 443.7L365.6 442.3L366.1 440.9L366.7 439.4L366.9 438.9L367.3 438.0L367.8 436.6L368.4 435.1L369.0 433.7L369.3 432.7L369.5 432.3L370.1 430.8L370.6 429.4L371.2 428.0L371.7 426.6L371.8 426.5L372.3 425.1L372.9 423.7L373.4 422.2L374.0 420.8L374.2 420.3L374.5 419.4M400.0 350.6L400.5 349.1L400.6 348.8L401.0 347.7L401.6 346.3L402.1 344.8L402.6 343.4L403.1 342.1L403.1 342.0L403.6 340.5L404.1 339.1L404.6 337.7L405.1 336.2L405.5 335.3L405.6 334.8L406.2 333.4L406.7 331.9L407.2 330.5L407.7 329.1L407.9 328.5L408.2 327.6L408.7 326.2L409.2 324.8L409.7 323.3L410.2 321.9L410.3 321.6L410.7 320.5L411.2 319.0L411.7 317.6L412.2 316.2L412.7 314.8L412.7 314.7L413.2 313.3L413.7 311.9L414.2 310.4L414.7 309.0L415.1 307.9L415.2 307.6L415.7 306.1L416.2 304.7L416.7 303.3L417.2 301.8L417.5 301.0L417.7 300.4L418.2 299.0L418.7 297.5L419.2 296.1L419.7 294.7L419.9 294.1L420.2 293.2L420.7 291.8L421.2 290.4L421.7 288.9L422.2 287.5L422.3 287.2L422.7 286.1L423.2 284.6L423.7 283.2L424.2 281.8L424.7 280.3L424.7 280.2L425.2 278.9L425.7 277.5L426.2 276.0L426.7 274.6L427.1 273.3L427.2 273.2L427.7 271.7L428.2 270.3L428.7 268.9L429.2 267.4L429.6 266.3L429.7 266.0L430.2 264.6L430.7 263.1L431.2 261.7L431.7 260.3L432.0 259.4L432.2 258.8L432.7 257.4L433.2 256.0L433.7 254.5L434.1 253.1L434.4 252.4L434.6 251.7L435.1 250.2L435.6 248.8L436.1 247.3L436.6 245.9L436.8 245.5L437.1 244.5L437.6 243.0L438.1 241.6L438.6 240.2L439.1 238.7L439.2 238.5L439.6 237.3L440.1 235.9L440.6 234.4L441.1 233.0L441.6 231.6L441.6 231.5L442.1 230.1L442.6 228.7L443.1 227.3L443.6 225.8L444.0 224.6L444.1 224.4L444.6 223.0L445.1 221.5L445.6 220.1L446.0 218.7L446.4 217.6L446.5 217.2L447.0 215.8L447.5 214.4L448.0 212.9L448.5 211.5L448.8 210.7L449.0 210.1L449.5 208.6L450.0 207.2L450.5 205.8L451.0 204.3L451.2 203.7L451.5 202.9L452.0 201.5L452.5 200.0L453.0 198.6L453.5 197.2L453.6 196.7L454.0 195.7L454.5 194.3L455.0 192.9L455.5 191.4L456.0 190.0L456.1 189.8L456.5 188.6L457.0 187.1L457.5 185.7L458.0 184.3L458.5 182.9L458.5 182.8L459.0 181.4L459.5 180.0L460.0 178.5L460.5 177.1L460.9 175.9L461.0 175.7L461.5 174.2L461.9 172.8L462.4 171.4L462.9 169.9L463.3 169.0L463.4 168.5L463.9 167.1L464.4 165.6L464.9 164.2L465.4 162.8L465.7 162.1L465.9 161.3L466.4 159.9L466.9 158.5L467.4 157.0L467.9 155.6L468.1 155.1L468.4 154.2L468.9 152.7L469.4 151.3L469.9 149.9L470.4 148.4L470.5 148.2L470.9 147.0L471.4 145.6L471.9 144.1L472.4 142.7L472.9 141.3L472.9 141.3L473.4 139.8L473.9 138.4L474.4 137.0L474.9 135.5L475.3 134.4L475.4 134.1L475.9 132.7L476.4 131.2L476.9 129.8L477.4 128.4L477.7 127.5L477.9 126.9L478.4 125.5L478.9 124.1L479.4 122.6L479.9 121.2L480.1 120.5L480.4 119.8L480.9 118.3L481.4 116.9L481.9 115.5L482.4 114.0L482.5 113.6L482.9 112.6L483.4 111.2L483.9 109.7L484.4 108.3L484.9 106.9L485.0 106.7L485.4 105.4L485.9 104.0L486.4 102.6L486.9 101.1L487.4 99.8L487.4 99.7L487.9 98.3L488.4 96.8L488.9 95.4L489.4 94.0L489.8 92.9L489.9 92.5L490.4 91.1L490.9 89.7L491.4 88.2L491.9 86.8L492.2 86.0L492.4 85.4L492.9 83.9L493.4 82.5" stroke="#2f82fa"/><path d="M114.0 931.8L114.8 931.1L116.2 929.7L116.4 929.5L117.7 928.3L118.8 927.2L119.2 926.8L120.6 925.4L121.2 924.8L122.1 924.0L123.5 922.5L123.6 922.4L124.9 921.1L126.0 919.9L126.3 919.7L127.7 918.2L128.5 917.4L129.1 916.8L130.5 915.3L130.9 914.9L131.8 913.9L133.2 912.5L133.3 912.4L134.5 911.0L135.7 909.8L135.9 909.6L137.2 908.2L138.1 907.2L138.5 906.7L139.8 905.3L140.5 904.6L141.1 903.9L142.4 902.4L142.9 901.9L143.7 901.0L145.0 899.6L145.3 899.3L146.3 898.1L147.6 896.7L147.7 896.6L148.9 895.3L150.1 893.9L150.2 893.8L151.5 892.4L152.5 891.2L152.7 891.0L154.0 889.5L154.9 888.5L155.3 888.1L156.5 886.7L157.4 885.7L157.8 885.2L159.0 883.8L159.8 883.0L160.3 882.4L161.5 880.9L162.2 880.2L162.8 879.5L164.0 878.1L164.6 877.4L165.2 876.6L166.5 875.2L167.0 874.6L167.7 873.8L168.9 872.3L169.4 871.8L170.1 870.9L171.3 869.5L171.8 868.9L172.5 868.0L173.8 866.6L174.2 866.1L175.0 865.2L176.2 863.7L176.6 863.2L177.4 862.3L178.5 860.9L179.0 860.3L179.7 859.4L180.9 858.0L181.4 857.4L182.1 856.6L183.3 855.1L183.9 854.4L184.4 853.7L185.6 852.3L186.3 851.5L186.8 850.8L187.9 849.4L188.7 848.5L189.1 848.0L190.2 846.5L191.1 845.5L191.4 845.1L192.5 843.7L193.5 842.4L193.6 842.2L194.8 840.8L195.9 839.4L195.9 839.4L197.0 837.9L198.1 836.5L198.3 836.3L199.2 835.1L200.3 833.6M249.6 760.5L250.5 759.1L251.3 757.7L251.3 757.7L252.1 756.2L253.0 754.8L253.7 753.5L253.8 753.4L254.6 751.9L255.5 750.5L256.1 749.4L256.3 749.1L257.1 747.6L257.9 746.2L258.5 745.2L258.8 744.8L259.6 743.3L260.4 741.9L260.9 740.9L261.2 740.5L262.0 739.0L262.8 737.6L263.3 736.6L263.6 736.2L264.4 734.7L265.2 733.3L265.8 732.3L266.0 731.9L266.8 730.4L267.6 729.0L268.2 727.9L268.4 727.6L269.1 726.1L269.9 724.7L270.6 723.5L270.7 723.3L271.5 721.8L272.3 720.4L273.0 719.0L273.0 719.0L273.8 717.5L274.6 716.1L275.3 714.7L275.4 714.6L276.1 713.2L276.9 711.8L277.6 710.4L277.8 710.0L278.4 708.9L279.1 707.5L279.9 706.1L280.2 705.5L280.6 704.6L281.4 703.2L282.2 701.8L282.6 700.9L282.9 700.3L283.7 698.9L284.4 697.5L285.0 696.3L285.1 696.0L285.9 694.6L286.6 693.2L287.4 691.7L287.4 691.6L288.1 690.3L288.8 688.9L289.6 687.4L289.8 686.9L290.3 686.0L291.1 684.6L291.8 683.1L292.3 682.2L292.5 681.7L293.3 680.3L294.0 678.8L294.7 677.5L294.7 677.4L295.4 676.0L296.2 674.5L296.9 673.1L297.1 672.8L297.6 671.7L298.3 670.2L299.1 668.8L299.5 668.0L299.8 667.4L300.5 665.9L301.2 664.5L301.9 663.2L302.0 663.1L302.7 661.6L303.4 660.2L304.1 658.8L304.3 658.4L304.8 657.3L305.5 655.9L306.3 654.5L306.7 653.6L307.0 653.0L307.7 651.6L308.4 650.2L309.1 648.7L309.1 648.7L309.8 647.3L310.5 645.9L311.3 644.4L311.5 643.9L312.0 643.0L312.7 641.6L313.4 640.1L313.9 639.0L314.1 638.7L314.8 637.3L315.5 635.8L316.2 634.4L316.3 634.1L316.9 633.0L317.6 631.5L318.3 630.1L318.7 629.2L319.0 628.7L319.7 627.2L320.4 625.8L321.1 624.4L321.2 624.3L321.8 622.9L322.5 621.5L323.2 620.1L323.6 619.4L323.9 618.6L324.6 617.2L325.3 615.8L326.0 614.4L326.0 614.3L326.7 612.9L327.4 611.5L328.1 610.0L328.4 609.4L328.8 608.6L329.5 607.2L330.2 605.7L330.8 604.4L330.9 604.3L331.6 602.9L332.2 601.4L332.9 600.0L333.2 599.4L333.6 598.6L334.3 597.1L335.0 595.7L335.6 594.4L335.7 594.3L336.4 592.8L337.1 591.4L337.7 590.0L338.0 589.4L338.4 588.5L339.1 587.1L339.8 585.7L340.4 584.3L340.5 584.2L341.1 582.8L341.8 581.3L342.5 579.9L342.8 579.2L343.2 578.5L343.9 577.0L344.5 575.6L345.2 574.2L345.2 574.1L345.9 572.7L346.6 571.3L347.2 569.9L347.7 569.0L347.9 568.4L348.6 567.0L349.2 565.6L349.9 564.1L350.1 563.8L350.6 562.7L351.2 561.3L351.9 559.8L352.5 558.6L352.6 558.4L353.2 557.0L353.9 555.5L354.6 554.1L354.9 553.4L355.2 552.7L355.9 551.2L356.5 549.8L357.2 548.4L357.3 548.2L357.9 546.9L358.5 545.5L359.2 544.1L359.7 542.9L359.8 542.6L360.5 541.2L361.1 539.8L361.8 538.3L362.1 537.6L362.4 536.9L363.1 535.5L363.7 534.0L364.4 532.6L364.5 532.3L365.0 531.2L365.7 529.7L366.3 528.3L366.9 526.9L367.0 526.9L367.6 525.4L368.2 524.0L368.9 522.6L369.3 521.6L369.5 521.1L370.2 519.7L370.8 518.3L371.4 516.8L371.7 516.1L372.1 515.4L372.7 514.0L373.3 512.5L374.0 511.1L374.2 510.7L374.6 509.7L375.2 508.2L375.8 506.8L376.5 505.4L376.6 505.2L377.1 503.9L377.7 502.5L378.3 501.1L379.0 499.6L379.0 499.6L379.6 498.2L380.2 496.8L380.8 495.3L381.4 494.1L381.4 493.9L382.1 492.5L382.7 491.0L383.3 489.6L383.8 488.4L383.9 488.2L384.5 486.7L385.1 485.3L385.7 483.9L386.2 482.8L386.3 482.4L387.0 481.0L387.6 479.6L388.2 478.1L388.6 477.1L388.8 476.7L389.4 475.3L390.0 473.8L390.6 472.4L391.0 471.4L391.2 471.0L391.8 469.5L392.4 468.1L393.0 466.7L393.4 465.6L393.6 465.2L394.2 463.8L394.8 462.4L395.3 460.9L395.8 459.8L395.9 459.5L396.5 458.1L397.1 456.6L397.7 455.2M430.3 372.1L430.9 370.6L431.4 369.2L431.9 367.8L432.0 367.7L432.5 366.3L433.0 364.9L433.6 363.5L434.1 362.0L434.4 361.3L434.6 360.6L435.2 359.2L435.7 357.7L436.3 356.3L436.8 354.9L436.8 354.9L437.3 353.4L437.9 352.0L438.4 350.6L439.0 349.1L439.2 348.5L439.5 347.7L440.0 346.3L440.6 344.8L441.1 343.4L441.6 342.0L441.6 342.0L442.2 340.5L442.7 339.1L443.2 337.7L443.8 336.2L444.0 335.6L444.3 334.8L444.8 333.4L445.4 331.9L445.9 330.5L446.4 329.1L446.4 329.1L447.0 327.6L447.5 326.2L448.0 324.8L448.6 323.3L448.8 322.6L449.1 321.9L449.6 320.5L450.2 319.0L450.7 317.6L451.2 316.2L451.2 316.1L451.8 314.7L452.3 313.3L452.8 311.9L453.3 310.4L453.6 309.6L453.9 309.0L454.4 307.6L454.9 306.1L455.5 304.7L456.0 303.3L456.1 303.1L456.5 301.8L457.1 300.4L457.6 299.0L458.1 297.5L458.5 296.6L458.6 296.1L459.2 294.7L459.7 293.2L460.2 291.8L460.8 290.4L460.9 290.1L461.3 288.9L461.8 287.5L462.3 286.1L462.9 284.6L463.3 283.5L463.4 283.2L463.9 281.8L464.5 280.3L465.0 278.9L465.5 277.5L465.7 277.0L466.0 276.0L466.6 274.6L467.1 273.2L467.6 271.7L468.1 270.4L468.2 270.3L468.7 268.9L469.2 267.4L469.7 266.0L470.3 264.6L470.5 263.9L470.8 263.1L471.3 261.7L471.9 260.3L472.4 258.8L472.9 257.4L472.9 257.4L473.4 256.0L474.0 254.5L474.5 253.1L475.0 251.7L475.3 250.8L475.5 250.2L476.1 248.8L476.6 247.3L477.1 245.9L477.7 244.5L477.7 244.3L478.2 243.0L478.7 241.6L479.2 240.2L479.8 238.7L480.1 237.7L480.3 237.3L480.8 235.9L481.3 234.4L481.9 233.0L482.4 231.6L482.5 231.2L482.9 230.1L483.5 228.7L484.0 227.3L484.5 225.8L485.0 224.6L485.0 224.4L485.6 223.0L486.1 221.5L486.6 220.1L487.1 218.7L487.4 218.1L487.7 217.2L488.2 215.8L488.7 214.4L489.3 212.9L489.8 211.5L489.8 211.5L490.3 210.1L490.8 208.6L491.4 207.2L491.9 205.8L492.2 205.0L492.4 204.3L492.9 202.9L493.5 201.5L494.0 200.0L494.5 198.6L494.6 198.4L495.1 197.2L495.6 195.7L496.1 194.3L496.6 192.9L497.0 191.9L497.2 191.4L497.7 190.0L498.2 188.6L498.7 187.1L499.3 185.7L499.4 185.3L499.8 184.3L500.3 182.8L500.9 181.4L501.4 180.0L501.8 178.8L501.9 178.5L502.4 177.1L503.0 175.7L503.5 174.2L504.0 172.8L504.2 172.2L504.5 171.4L505.1 169.9L505.6 168.5L506.1 167.1L506.6 165.7L506.6 165.6L507.2 164.2L507.7 162.8L508.2 161.3L508.7 159.9L509.0 159.1L509.3 158.5L509.8 157.0L510.3 155.6L510.8 154.2L511.4 152.7L511.5 152.5L511.9 151.3L512.4 149.9L512.9 148.4L513.5 147.0L513.9 145.9L514.0 145.6L514.5 144.1L515.0 142.7L515.6 141.3L516.1 139.8L516.3 139.4L516.6 138.4L517.1 137.0L517.7 135.5L518.2 134.1L518.7 132.8L518.7 132.7L519.2 131.2L519.8 129.8L520.3 128.4L520.8 126.9L521.1 126.2L521.3 125.5L521.9 124.1L522.4 122.6L522.9 121.2L523.4 119.8L523.5 119.6L524.0 118.3L524.5 116.9L525.0 115.5L525.5 114.0L525.9 113.0L526.0 112.6L526.6 111.2L527.1 109.7L527.6 108.3L528.1 106.9L528.3 106.4L528.7 105.4L529.2 104.0L529.7 102.6L530.2 101.1L530.7 99.7L530.7 99.7L531.3 98.3L531.8 96.8L532.3 95.4L532.8 94.0L533.1 93.1L533.3 92.5L533.9 91.1L534.4 89.7L534.9 88.2L535.4 86.8L535.5 86.4L535.9 85.4L536.5 83.9L537.0 82.5" stroke="#2d8bf4"/><path d="M114.0 955.2L115.5 954.1L116.4 953.3L117.3 952.6L118.8 951.4L119.1 951.2L120.8 949.8L121.2 949.4L122.6 948.3L123.6 947.5L124.3 946.9L126.0 945.5L126.1 945.5L127.8 944.0L128.5 943.4L129.4 942.6L130.9 941.4L131.1 941.2L132.8 939.7L133.3 939.3L134.4 938.3L135.7 937.1L136.0 936.9L137.6 935.4L138.1 935.0L139.2 934.0L140.5 932.8L140.7 932.6L142.3 931.1L142.9 930.6L143.8 929.7L145.3 928.3L145.4 928.3L146.9 926.8L147.7 926.0L148.4 925.4L149.9 924.0L150.1 923.7L151.4 922.5L152.5 921.4L152.9 921.1L154.3 919.7L154.9 919.0L155.8 918.2L157.2 916.8L157.4 916.7L158.7 915.3L159.8 914.3L160.1 913.9L161.5 912.5L162.2 911.8L163.0 911.0L164.4 909.6L164.6 909.4L165.8 908.2L167.0 907.0L167.2 906.7L168.6 905.3L169.4 904.5L170.0 903.9L171.4 902.4L171.8 902.0L172.8 901.0L174.2 899.6L174.2 899.5L175.6 898.1L176.6 897.0L176.9 896.7L178.3 895.3L179.0 894.5L179.7 893.8L181.1 892.4L181.4 892.0L182.4 891.0L183.8 889.5L183.9 889.4L185.1 888.1L186.3 886.9L186.5 886.7L187.8 885.2L188.7 884.3L189.1 883.8L190.5 882.4L191.1 881.7L191.8 880.9L193.1 879.5L193.5 879.1L194.4 878.1L195.7 876.6L195.9 876.5L197.0 875.2L198.3 873.8L198.3 873.8L199.6 872.3L200.7 871.1L200.9 870.9L202.2 869.5L203.1 868.5L203.5 868.0L204.8 866.6L205.5 865.7L206.0 865.2L207.3 863.7L207.9 863.0L208.5 862.3L209.8 860.9L210.4 860.2L211.0 859.4L212.3 858.0L212.8 857.4L213.5 856.6L214.7 855.1L215.2 854.6L215.9 853.7L217.2 852.3L217.6 851.8L218.4 850.8M270.6 779.4L270.7 779.2L271.6 777.7L272.5 776.3L273.0 775.6L273.5 774.9L274.4 773.4L275.3 772.0L275.4 771.8L276.2 770.6L277.0 769.1L277.8 767.9L277.9 767.7L278.8 766.3L279.7 764.8L280.2 764.0L280.6 763.4L281.5 762.0L282.3 760.5L282.6 760.0L283.2 759.1L284.1 757.7L284.9 756.2L285.0 756.1L285.8 754.8L286.6 753.4L287.4 752.0L287.5 751.9L288.3 750.5L289.2 749.1L289.8 748.0L290.0 747.6L290.9 746.2L291.7 744.8L292.3 743.9L292.6 743.3L293.4 741.9L294.2 740.5L294.7 739.7L295.1 739.0L295.9 737.6L296.7 736.2L297.1 735.5L297.5 734.7L298.4 733.3L299.2 731.9L299.5 731.3L300.0 730.4L300.8 729.0L301.6 727.6L301.9 727.1L302.4 726.1L303.3 724.7L304.1 723.3L304.3 722.9L304.9 721.8L305.7 720.4L306.5 719.0L306.7 718.6L307.3 717.5L308.1 716.1L308.9 714.7L309.1 714.3L309.7 713.2L310.5 711.8L311.3 710.4L311.5 709.9L312.1 708.9L312.9 707.5L313.7 706.1L313.9 705.6L314.5 704.6L315.2 703.2L316.0 701.8L316.3 701.2L316.8 700.3L317.6 698.9L318.4 697.5L318.7 696.8L319.2 696.0L320.0 694.6L320.7 693.2L321.2 692.4L321.5 691.7L322.3 690.3L323.1 688.9L323.6 688.0L323.9 687.4L324.6 686.0L325.4 684.6L326.0 683.5L326.2 683.1L327.0 681.7L327.7 680.3L328.4 679.0L328.5 678.8L329.3 677.4L330.0 676.0L330.8 674.6L330.8 674.5L331.6 673.1L332.4 671.7L333.1 670.2L333.2 670.1L333.9 668.8L334.7 667.4L335.4 665.9L335.6 665.6L336.2 664.5L336.9 663.1L337.7 661.6L338.0 661.0L338.5 660.2L339.2 658.8L340.0 657.3L340.4 656.5L340.7 655.9L341.5 654.5L342.3 653.0L342.8 651.9L343.0 651.6L343.8 650.2L344.5 648.7L345.2 647.3L345.3 647.3L346.0 645.9L346.8 644.4L347.5 643.0L347.7 642.8L348.3 641.6L349.0 640.1L349.8 638.7L350.1 638.1L350.5 637.3L351.3 635.8L352.0 634.4L352.5 633.5L352.8 633.0L353.5 631.5L354.3 630.1L354.9 628.9L355.0 628.7L355.7 627.2L356.5 625.8L357.2 624.4L357.3 624.2L358.0 622.9L358.7 621.5L359.4 620.1L359.7 619.5L360.2 618.6L360.9 617.2L361.6 615.8L362.1 614.8L362.4 614.3L363.1 612.9L363.8 611.5L364.5 610.1L364.6 610.0L365.3 608.6L366.0 607.2L366.7 605.7L366.9 605.3L367.5 604.3L368.2 602.9L368.9 601.4L369.3 600.6L369.6 600.0L370.4 598.6L371.1 597.1L371.7 595.8L371.8 595.7L372.5 594.3L373.2 592.8L373.9 591.4L374.2 591.0L374.7 590.0L375.4 588.5L376.1 587.1L376.6 586.1L376.8 585.7L377.5 584.2L378.2 582.8L378.9 581.3L379.0 581.2L379.6 579.9L380.3 578.5L381.0 577.0L381.4 576.3L381.7 575.6L382.4 574.2L383.1 572.7L383.8 571.4L383.8 571.3L384.5 569.9L385.2 568.4L385.9 567.0L386.2 566.4L386.6 565.6L387.3 564.1L388.0 562.7L388.6 561.5L388.7 561.3L389.4 559.8L390.1 558.4L390.8 557.0L391.0 556.4L391.4 555.5L392.1 554.1L392.8 552.7L393.4 551.4L393.5 551.2L394.2 549.8L394.8 548.4L395.5 546.9L395.8 546.3L396.2 545.5L396.9 544.1L397.5 542.6L398.2 541.2L398.2 541.2L398.9 539.8L399.6 538.3L400.2 536.9L400.6 536.0L400.9 535.5L401.6 534.0L402.2 532.6L402.9 531.2L403.1 530.8L403.6 529.7L404.2 528.3L404.9 526.9L405.5 525.6L405.5 525.4L406.2 524.0L406.9 522.6L407.5 521.1L407.9 520.3L408.2 519.7L408.8 518.3L409.5 516.8L410.1 515.4L410.3 515.0L410.8 514.0L411.4 512.5L412.1 511.1L412.7 509.7L412.7 509.7L413.3 508.2L414.0 506.8L414.6 505.4L415.1 504.3L415.3 503.9L415.9 502.5L416.5 501.1L417.2 499.6L417.5 498.9L417.8 498.2L418.5 496.8L419.1 495.3L419.7 493.9L419.9 493.5L420.4 492.5L421.0 491.0L421.6 489.6L422.2 488.2L422.3 488.0L422.9 486.7L423.5 485.3L424.1 483.9L424.7 482.4L424.7 482.4L425.4 481.0L426.0 479.6M460.5 396.4L460.9 395.5L461.1 395.0L461.6 393.6L462.2 392.1L462.8 390.7L463.3 389.5L463.4 389.3L463.9 387.8L464.5 386.4L465.1 385.0L465.7 383.5L465.7 383.4L466.2 382.1L466.8 380.7L467.4 379.2L467.9 377.8L468.1 377.4L468.5 376.4L469.1 374.9L469.7 373.5L470.2 372.1L470.5 371.4L470.8 370.6L471.4 369.2L471.9 367.8L472.5 366.3L472.9 365.3L473.1 364.9L473.6 363.5L474.2 362.0L474.8 360.6L475.3 359.2L475.3 359.2L475.9 357.7L476.5 356.3L477.0 354.9L477.6 353.4L477.7 353.1L478.2 352.0L478.7 350.6L479.3 349.1L479.9 347.7L480.1 347.0L480.4 346.3L481.0 344.8L481.6 343.4L482.1 342.0L482.5 340.9L482.7 340.5L483.3 339.1L483.8 337.7L484.4 336.2L485.0 334.8L485.0 334.8L485.5 333.4L486.1 331.9L486.6 330.5L487.2 329.1L487.4 328.6L487.8 327.6L488.3 326.2L488.9 324.8L489.5 323.3L489.8 322.5L490.0 321.9L490.6 320.5L491.1 319.0L491.7 317.6L492.2 316.4L492.3 316.2L492.8 314.7L493.4 313.3L494.0 311.9L494.5 310.4L494.6 310.2L495.1 309.0L495.6 307.6L496.2 306.1L496.8 304.7L497.0 304.1L497.3 303.3L497.9 301.8L498.4 300.4L499.0 299.0L499.4 297.9L499.6 297.5L500.1 296.1L500.7 294.7L501.3 293.2L501.8 291.8L501.8 291.8L502.4 290.4L502.9 288.9L503.5 287.5L504.1 286.1L504.2 285.6L504.6 284.6L505.2 283.2L505.7 281.8L506.3 280.3L506.6 279.4L506.9 278.9L507.4 277.5L508.0 276.0L508.5 274.6L509.0 273.3L509.1 273.2L509.7 271.7L510.2 270.3L510.8 268.9L511.3 267.4L511.5 267.1L511.9 266.0L512.4 264.6L513.0 263.1L513.6 261.7L513.9 260.9L514.1 260.3L514.7 258.8L515.2 257.4L515.8 256.0L516.3 254.7L516.4 254.5L516.9 253.1L517.5 251.7L518.0 250.2L518.6 248.8L518.7 248.5L519.1 247.3L519.7 245.9L520.3 244.5L520.8 243.0L521.1 242.4L521.4 241.6L521.9 240.2L522.5 238.7L523.1 237.3L523.5 236.2L523.6 235.9L524.2 234.4L524.7 233.0L525.3 231.6L525.8 230.1L525.9 230.0L526.4 228.7L527.0 227.3L527.5 225.8L528.1 224.4L528.3 223.8L528.6 223.0L529.2 221.5L529.7 220.1L530.3 218.7L530.7 217.6L530.8 217.2L531.4 215.8L532.0 214.4L532.5 212.9L533.1 211.5L533.1 211.3L533.6 210.1L534.2 208.6L534.7 207.2L535.3 205.8L535.5 205.1L535.8 204.3L536.4 202.9L536.9 201.5L537.5 200.0L538.0 198.9L538.1 198.6L538.6 197.2L539.2 195.7L539.7 194.3L540.3 192.9L540.4 192.6L540.8 191.4L541.4 190.0L541.9 188.6L542.5 187.1L542.8 186.4L543.0 185.7L543.6 184.3L544.1 182.8L544.7 181.4L545.2 180.2L545.2 180.0L545.8 178.5L546.4 177.1L546.9 175.7L547.5 174.2L547.6 173.9L548.0 172.8L548.6 171.4L549.1 169.9L549.7 168.5L550.0 167.6L550.2 167.1L550.8 165.6L551.3 164.2L551.9 162.8L552.4 161.4L552.4 161.3L553.0 159.9L553.5 158.5L554.1 157.0L554.6 155.6L554.8 155.1L555.2 154.2L555.7 152.7L556.3 151.3L556.8 149.9L557.2 148.8L557.3 148.4L557.9 147.0L558.4 145.6L559.0 144.1L559.5 142.7L559.6 142.5L560.1 141.3L560.6 139.8L561.2 138.4L561.7 137.0L562.0 136.2L562.3 135.5L562.8 134.1L563.4 132.7L563.9 131.2L564.4 129.8L564.5 129.8L565.0 128.4L565.6 126.9L566.1 125.5L566.6 124.1L566.9 123.5L567.2 122.6L567.7 121.2L568.3 119.8L568.8 118.3L569.3 117.2L569.4 116.9L569.9 115.5L570.4 114.0L571.0 112.6L571.5 111.2L571.7 110.8L572.1 109.7L572.6 108.3L573.2 106.9L573.7 105.4L574.1 104.4L574.2 104.0L574.8 102.6L575.3 101.1L575.9 99.7L576.4 98.3L576.5 98.1L577.0 96.8L577.5 95.4L578.0 94.0L578.6 92.5L578.9 91.7L579.1 91.1L579.7 89.7L580.2 88.2L580.7 86.8L581.3 85.4L581.3 85.3L581.8 83.9L582.4 82.5" stroke="#2994ed"/><path d="M114.0 975.3L115.7 974.1L116.4 973.7L117.9 972.7L118.8 972.0L120.0 971.3L121.2 970.4L122.1 969.8L123.6 968.8L124.2 968.4L126.0 967.1L126.3 967.0L128.4 965.5L128.5 965.5L130.4 964.1L130.9 963.8L132.4 962.7L133.3 962.1L134.4 961.2L135.7 960.3L136.4 959.8L138.1 958.6L138.4 958.4L140.3 956.9L140.5 956.8M206.8 898.1L207.9 897.1L208.3 896.7L209.7 895.3L210.4 894.7L211.2 893.8L212.6 892.4L212.8 892.3L214.1 891.0L215.2 889.9L215.5 889.5L216.9 888.1L217.6 887.4L218.3 886.7L219.7 885.2L220.0 885.0L221.1 883.8L222.4 882.5L222.5 882.4L223.9 880.9L224.8 880.0L225.3 879.5L226.7 878.1L227.2 877.5L228.0 876.6L229.4 875.2L229.6 875.0L230.7 873.8L232.0 872.4L232.1 872.3L233.4 870.9L234.4 869.8L234.7 869.5L236.1 868.0L236.8 867.2L237.4 866.6L238.7 865.2L239.3 864.5L240.0 863.7L241.3 862.3L241.7 861.9L242.6 860.9L243.8 859.4L244.1 859.2L245.1 858.0L246.4 856.6L246.5 856.4L247.6 855.1L248.9 853.7L248.9 853.7L250.1 852.3L251.3 850.9L251.3 850.8L252.5 849.4L253.7 848.0L253.8 848.0L255.0 846.5L256.1 845.2L256.2 845.1L257.4 843.7L258.5 842.2L258.5 842.2L259.7 840.8L260.9 839.4L260.9 839.3L262.0 837.9L263.2 836.5L263.3 836.3L264.3 835.1L265.5 833.6L265.8 833.3L266.6 832.2L267.7 830.8L268.2 830.2L268.9 829.3L270.0 827.9L270.6 827.1L271.1 826.5L272.2 825.0L273.0 824.0L273.3 823.6L274.4 822.2L275.4 820.8L275.4 820.7L276.5 819.3L277.6 817.9L277.8 817.6L278.6 816.4L279.7 815.0L280.2 814.3L280.7 813.6L281.8 812.1L282.6 811.0L282.8 810.7L283.8 809.3L284.9 807.8L285.0 807.6L285.9 806.4L286.9 805.0L287.4 804.2L287.9 803.5L288.9 802.1L289.8 800.8L289.9 800.7L290.9 799.2L291.9 797.8L292.3 797.3L292.9 796.4L293.9 794.9L294.7 793.8L294.9 793.5L295.8 792.1L296.8 790.6L297.1 790.3L297.8 789.2L298.7 787.8L299.5 786.7L299.7 786.3L300.6 784.9L301.6 783.5L301.9 783.0L302.5 782.0L303.5 780.6L304.3 779.4L304.4 779.2L305.4 777.7L306.3 776.3L306.7 775.7L307.2 774.9L308.1 773.4L309.1 772.0L309.1 771.9L310.0 770.6L310.9 769.1L311.5 768.2L311.8 767.7L312.7 766.3L313.6 764.8L313.9 764.4L314.5 763.4L315.4 762.0L316.3 760.5L316.3 760.5L317.2 759.1L318.1 757.7L318.7 756.7L319.0 756.2L319.9 754.8L320.8 753.4L321.2 752.8L321.7 751.9L322.6 750.5L323.5 749.1L323.6 748.9L324.3 747.6L325.2 746.2L326.0 745.0L326.1 744.8L327.0 743.3L327.8 741.9L328.4 741.0L328.7 740.5L329.6 739.0L330.4 737.6L330.8 737.0L331.3 736.2L332.2 734.7L333.0 733.3L333.2 733.0L333.9 731.9L334.8 730.4L335.6 729.0L335.6 729.0L336.5 727.6L337.3 726.1L338.0 724.9L338.2 724.7L339.0 723.3L339.9 721.8L340.4 720.9L340.7 720.4L341.6 719.0L342.4 717.5L342.8 716.8L343.3 716.1L344.1 714.7L344.9 713.2L345.2 712.7L345.8 711.8L346.6 710.4L347.5 708.9L347.7 708.6L348.3 707.5L349.1 706.1L350.0 704.6L350.1 704.5L350.8 703.2L351.6 701.8L352.5 700.3L352.5 700.3L353.3 698.9L354.1 697.5L354.9 696.2L355.0 696.0L355.8 694.6L356.6 693.2L357.3 692.0L357.4 691.7L358.3 690.3L359.1 688.9L359.7 687.8L359.9 687.4L360.7 686.0L361.6 684.6L362.1 683.6L362.4 683.1L363.2 681.7L364.0 680.3L364.5 679.4L364.8 678.8L365.7 677.4L366.5 676.0L366.9 675.1L367.3 674.5L368.1 673.1L368.9 671.7L369.3 670.9L369.7 670.2L370.5 668.8L371.3 667.4L371.7 666.6L372.1 665.9L372.9 664.5L373.8 663.1L374.2 662.3L374.6 661.6L375.4 660.2L376.2 658.8L376.6 658.0L377.0 657.3L377.8 655.9L378.6 654.5L379.0 653.7L379.4 653.0L380.2 651.6L381.0 650.2L381.4 649.4L381.7 648.7L382.5 647.3L383.3 645.9L383.8 645.0L384.1 644.4L384.9 643.0L385.7 641.6L386.2 640.6L386.5 640.1L387.3 638.7L388.1 637.3L388.6 636.2L388.8 635.8L389.6 634.4L390.4 633.0L391.0 631.8L391.2 631.5L392.0 630.1L392.7 628.7L393.4 627.4L393.5 627.2L394.3 625.8L395.1 624.4L395.8 622.9L395.8 622.9L396.6 621.5L397.4 620.1L398.1 618.6L398.2 618.4L398.9 617.2L399.7 615.8L400.4 614.3L400.6 613.9L401.2 612.9M441.5 532.6L441.6 532.4L442.2 531.2L442.9 529.7L443.5 528.3L444.0 527.3L444.2 526.9L444.9 525.4L445.6 524.0L446.2 522.6L446.4 522.2L446.9 521.1L447.6 519.7L448.2 518.3L448.8 517.0L448.9 516.8L449.6 515.4L450.2 514.0L450.9 512.5L451.2 511.8L451.6 511.1L452.2 509.7L452.9 508.2L453.6 506.8L453.6 506.6L454.2 505.4L454.9 503.9L455.5 502.5L456.1 501.4L456.2 501.1L456.8 499.6L457.5 498.2L458.1 496.8L458.5 496.1L458.8 495.3L459.4 493.9L460.1 492.5L460.7 491.0L460.9 490.7L461.4 489.6L462.0 488.2L462.7 486.7L463.3 485.4L463.3 485.3L464.0 483.9L464.6 482.4L465.2 481.0L465.7 480.0L465.9 479.6L466.5 478.1L467.2 476.7L467.8 475.3L468.1 474.6L468.4 473.8L469.1 472.4L469.7 471.0L470.3 469.5L470.5 469.1L471.0 468.1L471.6 466.7L472.2 465.2L472.9 463.8L472.9 463.7L473.5 462.4L474.1 460.9L474.7 459.5L475.3 458.2L475.4 458.1L476.0 456.6L476.6 455.2L477.2 453.8L477.7 452.7L477.9 452.3L478.5 450.9L479.1 449.5L479.7 448.0L480.1 447.1L480.4 446.6L481.0 445.2L481.6 443.7L482.2 442.3L482.5 441.5L482.8 440.9L483.5 439.4L484.1 438.0L484.7 436.6L485.0 436.0L485.3 435.1L485.9 433.7L486.5 432.3L487.2 430.8L487.4 430.4L487.8 429.4L488.4 428.0L489.0 426.5L489.6 425.1L489.8 424.7L490.2 423.7L490.8 422.2L491.5 420.8L492.1 419.4L492.2 419.1L492.7 417.9L493.3 416.5L493.9 415.1L494.5 413.6L494.6 413.4L495.1 412.2L495.7 410.8L496.3 409.3L496.9 407.9L497.0 407.8L497.5 406.5L498.2 405.0L498.8 403.6L499.4 402.2L499.4 402.1L500.0 400.7L500.6 399.3L501.2 397.9L501.8 396.4L501.8 396.4L502.4 395.0L503.0 393.6L503.6 392.1L504.2 390.7L504.2 390.7L504.8 389.3L505.4 387.8L506.0 386.4L506.6 385.0L506.6 384.9L507.2 383.5L507.8 382.1L508.4 380.7L509.0 379.2L509.0 379.2L509.6 377.8L510.2 376.4L510.8 374.9L511.4 373.5L511.5 373.5L512.0 372.1L512.6 370.6L513.2 369.2L513.8 367.8L513.9 367.7L514.4 366.3L515.0 364.9L515.6 363.5L516.2 362.0L516.3 361.9L516.8 360.6L517.4 359.2L518.0 357.7L518.6 356.3L518.7 356.2L519.2 354.9L519.8 353.4L520.4 352.0L521.0 350.6L521.1 350.4L521.6 349.1L522.2 347.7L522.8 346.3L523.4 344.8L523.5 344.6L524.0 343.4L524.6 342.0L525.2 340.5L525.8 339.1L525.9 338.8L526.4 337.7L527.0 336.2L527.6 334.8L528.2 333.4L528.3 333.0L528.8 331.9L529.4 330.5L530.0 329.1L530.6 327.6L530.7 327.2L531.2 326.2L531.8 324.8L532.4 323.3L532.9 321.9L533.1 321.4L533.5 320.5L534.1 319.0L534.7 317.6L535.3 316.2L535.5 315.6L535.9 314.7L536.5 313.3L537.1 311.9L537.7 310.4L538.0 309.8L538.3 309.0L538.9 307.6L539.5 306.1L540.1 304.7L540.4 304.0L540.7 303.3L541.3 301.8L541.8 300.4L542.4 299.0L542.8 298.2L543.0 297.5L543.6 296.1L544.2 294.7L544.8 293.2L545.2 292.3L545.4 291.8L546.0 290.4L546.6 288.9L547.2 287.5L547.6 286.5L547.8 286.1L548.4 284.6L548.9 283.2L549.5 281.8L550.0 280.6L550.1 280.3L550.7 278.9L551.3 277.5L551.9 276.0L552.4 274.8L552.5 274.6L553.1 273.2L553.7 271.7L554.2 270.3L554.8 268.9L554.8 268.9L555.4 267.4L556.0 266.0L556.6 264.6L557.2 263.1L557.2 263.0L557.8 261.7L558.4 260.3L559.0 258.8L559.5 257.4L559.6 257.2L560.1 256.0L560.7 254.5L561.3 253.1L561.9 251.7L562.0 251.3L562.5 250.2L563.1 248.8L563.6 247.3L564.2 245.9L564.4 245.4L564.8 244.5L565.4 243.0L566.0 241.6L566.6 240.2L566.9 239.5L567.2 238.7L567.7 237.3L568.3 235.9L568.9 234.4L569.3 233.6L569.5 233.0L570.1 231.6L570.7 230.1L571.2 228.7L571.7 227.7L571.8 227.3L572.4 225.8L573.0 224.4L573.6 223.0L574.1 221.7L574.2 221.5M607.6 138.4L607.8 137.8L608.1 137.0L608.7 135.5L609.3 134.1L609.8 132.7L610.2 131.7L610.4 131.2L611.0 129.8L611.6 128.4L612.1 126.9L612.6 125.7L612.7 125.5L613.3 124.1L613.8 122.6L614.4 121.2L615.0 119.8L615.0 119.6L615.5 118.3L616.1 116.9L616.7 115.5L617.2 114.0L617.4 113.5L617.8 112.6L618.4 111.2L618.9 109.7L619.5 108.3L619.9 107.4L620.1 106.9L620.6 105.4L621.2 104.0L621.7 102.6L622.3 101.3L622.3 101.1L622.9 99.7L623.4 98.3L624.0 96.8L624.6 95.4L624.7 95.1L625.1 94.0L625.7 92.5L626.3 91.1L626.8 89.7L627.1 89.0L627.4 88.2L627.9 86.8L628.5 85.4L629.1 83.9L629.5 82.9L629.6 82.5" stroke="#259ce7"/><path d="M114.0 992.6L116.2 991.3L116.4 991.2L118.6 989.9L118.8 989.8L121.0 988.5L121.2 988.3L123.5 987.0L123.6 986.9L125.9 985.6L126.0 985.5L128.3 984.2L128.5 984.1L130.7 982.7L130.9 982.6L133.1 981.3L133.3 981.2L135.5 979.9L135.7 979.8L137.9 978.4L138.1 978.3L140.2 977.0L140.5 976.8L142.5 975.6L142.9 975.3L144.8 974.1L145.3 973.8L147.1 972.7L147.7 972.3L149.4 971.3L150.1 970.8L151.6 969.8L152.5 969.2L153.8 968.4L154.9 967.6L156.0 967.0L157.4 966.0L158.1 965.5L159.8 964.4L160.2 964.1M228.9 908.2L229.6 907.6L230.5 906.7L232.0 905.4L232.1 905.3L233.6 903.9L234.4 903.1L235.2 902.4L236.7 901.0L236.8 900.9L238.3 899.6L239.3 898.7L239.8 898.1L241.3 896.7L241.7 896.4L242.8 895.3L244.1 894.1L244.4 893.8L245.9 892.4L246.5 891.8L247.3 891.0L248.8 889.5L248.9 889.5L250.3 888.1L251.3 887.1L251.8 886.7L253.2 885.2L253.7 884.8L254.7 883.8L256.1 882.4L256.1 882.4L257.5 880.9L258.5 879.9L259.0 879.5L260.4 878.1L260.9 877.5L261.8 876.6L263.2 875.2L263.3 875.0L264.5 873.8L265.8 872.5L265.9 872.3L267.3 870.9L268.2 870.0L268.6 869.5L270.0 868.0L270.6 867.4L271.3 866.6L272.7 865.2L273.0 864.8L274.0 863.7L275.3 862.3L275.4 862.2L276.6 860.9L277.8 859.5L277.9 859.4L279.2 858.0L280.2 856.8L280.4 856.6L281.7 855.1L282.6 854.1L283.0 853.7L284.2 852.3L285.0 851.3L285.5 850.8L286.7 849.4L287.4 848.5L287.9 848.0L289.1 846.5L289.8 845.7L290.3 845.1L291.5 843.7L292.3 842.8L292.7 842.2L293.9 840.8L294.7 839.9L295.1 839.4L296.3 837.9L297.1 837.0L297.4 836.5L298.6 835.1L299.5 834.0L299.7 833.6L300.9 832.2L301.9 831.0L302.0 830.8L303.2 829.3L304.3 827.9L304.3 827.9L305.4 826.5L306.5 825.0L306.7 824.8L307.6 823.6L308.7 822.2L309.1 821.6L309.8 820.7L310.9 819.3L311.5 818.5L312.0 817.9L313.0 816.4L313.9 815.2L314.1 815.0L315.2 813.6L316.2 812.1L316.3 812.0L317.3 810.7L318.3 809.3L318.7 808.7L319.4 807.8L320.4 806.4L321.2 805.4L321.5 805.0L322.5 803.5L323.5 802.1L323.6 802.0L324.5 800.7L325.6 799.2L326.0 798.6L326.6 797.8L327.6 796.4L328.4 795.2L328.6 794.9L329.6 793.5L330.6 792.1L330.8 791.8L331.6 790.6L332.6 789.2L333.2 788.3L333.6 787.8L334.6 786.3L335.5 784.9L335.6 784.8L336.5 783.5L337.5 782.0L338.0 781.3L338.5 780.6L339.4 779.2L340.4 777.7L340.4 777.7L341.4 776.3L342.3 774.9L342.8 774.1L343.3 773.4L344.3 772.0L345.2 770.6L345.2 770.5L346.2 769.1L347.1 767.7L347.7 766.9L348.1 766.3L349.0 764.8L350.0 763.4L350.1 763.3L350.9 762.0L351.9 760.5L352.5 759.6L352.8 759.1L353.7 757.7L354.7 756.2L354.9 755.9L355.6 754.8L356.5 753.4L357.3 752.2L357.5 751.9L358.4 750.5L359.3 749.1L359.7 748.5L360.3 747.6L361.2 746.2L362.1 744.8L362.1 744.8L363.0 743.3L363.9 741.9L364.5 741.0L364.9 740.5L365.8 739.0L366.7 737.6L366.9 737.2L367.6 736.2L368.5 734.7L369.3 733.4L369.4 733.3L370.3 731.9L371.2 730.4L371.7 729.6L372.2 729.0L373.1 727.6L374.0 726.1L374.2 725.8L374.9 724.7L375.8 723.3L376.6 722.0L376.7 721.8L377.6 720.4L378.5 719.0L379.0 718.2L379.4 717.5L380.3 716.1L381.1 714.7L381.4 714.3L382.0 713.2L382.9 711.8L383.8 710.4L383.8 710.4L384.7 708.9L385.6 707.5L386.2 706.5L386.5 706.1L387.4 704.6L388.2 703.2L388.6 702.6L389.1 701.8L390.0 700.3L390.9 698.9L391.0 698.7L391.8 697.5L392.6 696.0L393.4 694.8L393.5 694.6L394.4 693.2L395.3 691.7L395.8 690.8L396.1 690.3L397.0 688.9L397.9 687.4L398.2 686.8L398.7 686.0L399.6 684.6L400.5 683.1L400.6 682.8L401.3 681.7L402.2 680.3L403.1 678.8L403.1 678.8L403.9 677.4L404.8 676.0L405.5 674.8L405.6 674.5L406.5 673.1L407.3 671.7L407.9 670.8L408.2 670.2L409.0 668.8L409.9 667.4L410.3 666.7L410.7 665.9L411.6 664.5L412.4 663.1L412.7 662.6L413.3 661.6L414.1 660.2L415.0 658.8L415.1 658.5L415.8 657.3L416.6 655.9L417.5 654.5L417.5 654.4L418.3 653.0L419.1 651.6L419.9 650.2L420.0 650.2L420.8 648.7L421.6 647.3L422.3 646.0L422.4 645.9L423.3 644.4L424.1 643.0L424.7 641.8L424.9 641.6L425.7 640.1L426.5 638.7L427.1 637.6L427.3 637.3M469.5 558.4L470.2 557.0L470.5 556.4L471.0 555.5L471.7 554.1L472.4 552.7L472.9 551.6L473.1 551.2L473.8 549.8L474.5 548.4L475.2 546.9L475.3 546.8L476.0 545.5L476.7 544.1L477.4 542.6L477.7 541.9L478.1 541.2L478.8 539.8L479.5 538.3L480.1 537.0L480.2 536.9L480.9 535.5L481.6 534.0L482.3 532.6L482.5 532.1L483.0 531.2L483.7 529.7L484.4 528.3L485.0 527.1L485.1 526.9L485.8 525.4L486.5 524.0L487.2 522.6L487.4 522.1L487.8 521.1L488.5 519.7L489.2 518.3L489.8 517.1L489.9 516.8L490.6 515.4L491.3 514.0L492.0 512.5L492.2 512.1L492.6 511.1L493.3 509.7L494.0 508.2L494.6 507.0L494.7 506.8L495.4 505.4L496.0 503.9L496.7 502.5L497.0 501.9L497.4 501.1L498.1 499.6L498.8 498.2L499.4 496.8L499.4 496.8L500.1 495.3L500.8 493.9L501.4 492.5L501.8 491.7L502.1 491.0L502.8 489.6L503.4 488.2L504.1 486.7L504.2 486.5L504.8 485.3L505.4 483.9L506.1 482.4L506.6 481.3L506.8 481.0L507.4 479.6L508.1 478.1L508.8 476.7L509.0 476.1L509.4 475.3L510.1 473.8L510.7 472.4L511.4 471.0L511.5 470.9L512.1 469.5L512.7 468.1L513.4 466.7L513.9 465.6L514.0 465.2L514.7 463.8L515.4 462.4L516.0 460.9L516.3 460.4L516.7 459.5L517.3 458.1L518.0 456.6L518.6 455.2L518.7 455.1L519.3 453.8L519.9 452.3L520.6 450.9L521.1 449.8L521.2 449.5L521.9 448.0L522.5 446.6L523.2 445.2L523.5 444.5L523.8 443.7L524.5 442.3L525.1 440.9L525.8 439.4L525.9 439.1L526.4 438.0L527.1 436.6L527.7 435.1L528.3 433.8L528.4 433.7L529.0 432.3L529.6 430.8L530.3 429.4L530.7 428.4L530.9 428.0L531.6 426.5L532.2 425.1L532.9 423.7L533.1 423.1L533.5 422.2L534.2 420.8L534.8 419.4L535.4 417.9L535.5 417.7L536.1 416.5L536.7 415.1L537.4 413.6L538.0 412.3L538.0 412.2L538.6 410.8L539.3 409.3L539.9 407.9L540.4 406.9L540.6 406.5L541.2 405.0L541.8 403.6L542.5 402.2L542.8 401.5L543.1 400.7L543.8 399.3L544.4 397.9L545.0 396.4L545.2 396.1L545.7 395.0L546.3 393.6L546.9 392.1L547.6 390.7L547.6 390.7L548.2 389.3L548.8 387.8L549.5 386.4L550.0 385.2L550.1 385.0L550.8 383.5L551.4 382.1L552.0 380.7L552.4 379.8L552.7 379.2L553.3 377.8L553.9 376.4L554.6 374.9L554.8 374.4L555.2 373.5L555.8 372.1L556.5 370.6L557.1 369.2L557.2 368.9L557.7 367.8L558.4 366.3L559.0 364.9L559.6 363.5L559.6 363.4L560.3 362.0L560.9 360.6L561.5 359.2L562.0 358.0L562.1 357.7L562.8 356.3L563.4 354.9L564.0 353.4L564.4 352.5L564.7 352.0L565.3 350.6L565.9 349.1L566.6 347.7L566.9 347.0L567.2 346.3L567.8 344.8L568.4 343.4L569.1 342.0L569.3 341.5L569.7 340.5L570.3 339.1L571.0 337.7L571.6 336.2L571.7 336.0L572.2 334.8L572.8 333.4L573.5 331.9L574.1 330.5L574.1 330.5L574.7 329.1L575.3 327.6L576.0 326.2L576.5 325.0L576.6 324.8L577.2 323.3L577.8 321.9L578.5 320.5L578.9 319.5L579.1 319.0L579.7 317.6L580.3 316.2L581.0 314.7L581.3 313.9L581.6 313.3L582.2 311.9L582.8 310.4L583.5 309.0L583.7 308.4L584.1 307.6L584.7 306.1L585.3 304.7L586.0 303.3L586.1 302.9L586.6 301.8L587.2 300.4L587.8 299.0L588.4 297.5L588.5 297.3L589.1 296.1L589.7 294.7L590.3 293.2L590.9 291.8L590.9 291.7L591.5 290.4L592.2 288.9L592.8 287.5L593.4 286.2L593.4 286.1L594.0 284.6L594.6 283.2L595.3 281.8L595.8 280.6L595.9 280.3L596.5 278.9L597.1 277.5L597.7 276.0L598.2 275.0L598.3 274.6L599.0 273.2L599.6 271.7L600.2 270.3L600.6 269.4L600.8 268.9L601.4 267.4L602.0 266.0L602.7 264.6L603.0 263.8L603.3 263.1L603.9 261.7L604.5 260.3L605.1 258.8L605.4 258.2L605.7 257.4L606.4 256.0L607.0 254.5L607.6 253.1L607.8 252.5L608.2 251.7L608.8 250.2L609.4 248.8L610.0 247.3L610.2 246.9L610.6 245.9L611.3 244.5M646.3 161.3L646.3 161.3L646.9 159.9L647.5 158.5L648.1 157.0L648.7 155.6L648.8 155.5L649.3 154.2L649.9 152.7L650.5 151.3L651.1 149.9L651.2 149.7L651.7 148.4L652.3 147.0L652.9 145.6L653.5 144.1L653.6 143.9L654.1 142.7L654.7 141.3L655.3 139.8L655.9 138.4L656.0 138.1L656.5 137.0L657.0 135.5L657.6 134.1L658.2 132.7L658.4 132.3L658.8 131.2L659.4 129.8L660.0 128.4L660.6 126.9L660.8 126.5L661.2 125.5L661.8 124.1L662.4 122.6L663.0 121.2L663.2 120.6L663.6 119.8L664.2 118.3L664.8 116.9L665.4 115.5L665.6 114.8L665.9 114.0L666.5 112.6L667.1 111.2L667.7 109.7L668.0 109.0L668.3 108.3L668.9 106.9L669.5 105.4L670.1 104.0L670.4 103.2L670.7 102.6L671.3 101.1L671.9 99.7L672.5 98.3L672.8 97.3L673.0 96.8L673.6 95.4L674.2 94.0L674.8 92.5L675.3 91.5L675.4 91.1L676.0 89.7L676.6 88.2L677.2 86.8L677.7 85.7L677.8 85.4L678.4 83.9L679.0 82.5" stroke="#20a4e3"/><path d="M114.0 1007.6L115.0 1007.1L116.4 1006.3L117.7 1005.7L118.8 1005.1L120.5 1004.2L121.2 1003.8L123.2 1002.8L123.6 1002.6L126.0 1001.4L126.0 1001.3L128.5 1000.1L128.8 999.9L130.9 998.8L131.5 998.5L133.3 997.6L134.3 997.1L135.7 996.3L137.0 995.6L138.1 995.1L139.8 994.2L140.5 993.8L142.5 992.8L142.9 992.5L145.2 991.3L145.3 991.3L147.7 990.0L147.9 989.9L150.1 988.7L150.6 988.5L152.5 987.4L153.2 987.0L154.9 986.1L155.8 985.6L157.4 984.7L158.4 984.2L159.8 983.4L161.0 982.7L162.2 982.0L163.5 981.3L164.6 980.7L166.0 979.9L167.0 979.3L168.5 978.4L169.4 977.9M199.7 958.4L200.7 957.6L201.7 956.9L203.1 955.9L203.7 955.5L205.5 954.2L205.7 954.1L207.6 952.6L207.9 952.4L209.6 951.2L210.4 950.6L211.5 949.8L212.8 948.8L213.4 948.3L215.2 947.0L215.3 946.9L217.2 945.5L217.6 945.1L219.1 944.0L220.0 943.3L220.9 942.6L222.4 941.4L222.8 941.2L224.6 939.7L224.8 939.5L226.4 938.3L227.2 937.7L228.2 936.9L229.6 935.7L230.0 935.4L231.8 934.0L232.0 933.8L233.6 932.6L234.4 931.9L235.4 931.1L236.8 930.0L237.2 929.7L239.0 928.3L239.3 928.0L240.7 926.8L241.7 926.0L242.5 925.4L244.1 924.1L244.2 924.0L245.9 922.5L246.5 922.1L247.7 921.1L248.9 920.1L249.4 919.7L251.1 918.2L251.3 918.1L252.8 916.8L253.7 916.0L254.5 915.3L256.1 914.0L256.2 913.9L257.9 912.5L258.5 911.9L259.6 911.0L260.9 909.9L261.2 909.6L262.9 908.2L263.3 907.8L264.5 906.7L265.8 905.7L266.2 905.3L267.8 903.9L268.2 903.6L269.4 902.4L270.6 901.4L271.0 901.0L272.6 899.6L273.0 899.3L274.2 898.1L275.4 897.1L275.8 896.7L277.4 895.3L277.8 894.9L278.9 893.8L280.2 892.6L280.4 892.4L282.0 891.0L282.6 890.4L283.5 889.5L285.0 888.1L285.0 888.1L286.5 886.7L287.4 885.8L288.0 885.2L289.5 883.8L289.8 883.5L290.9 882.4L292.3 881.1L292.4 880.9L293.9 879.5L294.7 878.7L295.3 878.1L296.7 876.6L297.1 876.3L298.1 875.2L299.5 873.8L299.5 873.8L300.9 872.3L301.9 871.3L302.3 870.9L303.7 869.5L304.3 868.8L305.0 868.0L306.4 866.6L306.7 866.3L307.7 865.2L309.1 863.7L309.1 863.7L310.4 862.3L311.5 861.1L311.7 860.9L313.0 859.4L313.9 858.4L314.3 858.0L315.6 856.6L316.3 855.7L316.9 855.1L318.1 853.7L318.7 853.0L319.4 852.3L320.6 850.8L321.2 850.2L321.9 849.4L323.1 848.0L323.6 847.4L324.3 846.5L325.6 845.1L326.0 844.6L326.8 843.7L328.0 842.2L328.4 841.7L329.2 840.8L330.4 839.4L330.8 838.8L331.5 837.9L332.7 836.5L333.2 835.9L333.9 835.1L335.1 833.6L335.6 833.0L336.2 832.2L337.4 830.8L338.0 830.0L338.5 829.3L339.7 827.9L340.4 826.9L340.8 826.5L341.9 825.0L342.8 823.9L343.0 823.6L344.2 822.2L345.2 820.8L345.3 820.7L346.4 819.3L347.5 817.9L347.7 817.7L348.6 816.4L349.7 815.0L350.1 814.5L350.8 813.6L351.9 812.1L352.5 811.4L353.0 810.7L354.1 809.3L354.9 808.2L355.1 807.8L356.2 806.4L357.3 805.0L357.3 805.0L358.4 803.5L359.4 802.1L359.7 801.7L360.5 800.7L361.5 799.2L362.1 798.5L362.6 797.8L363.6 796.4L364.5 795.2L364.7 794.9L365.7 793.5L366.8 792.1L366.9 791.9L367.8 790.6L368.9 789.2L369.3 788.6L369.9 787.8L370.9 786.3L371.7 785.2L372.0 784.9L373.0 783.5L374.0 782.0L374.2 781.9L375.0 780.6L376.1 779.2L376.6 778.5L377.1 777.7L378.1 776.3L379.0 775.1L379.1 774.9L380.1 773.4L381.1 772.0L381.4 771.7L382.2 770.6L383.2 769.1L383.8 768.2L384.2 767.7L385.2 766.3L386.2 764.8L386.2 764.8L387.2 763.4L388.2 762.0L388.6 761.3L389.2 760.5L390.2 759.1L391.0 757.9L391.2 757.7L392.2 756.2L393.1 754.8L393.4 754.4L394.1 753.4L395.1 751.9L395.8 750.9L396.1 750.5L397.1 749.1L398.1 747.6L398.2 747.4L399.0 746.2L400.0 744.8L400.6 743.9L401.0 743.3L402.0 741.9L403.0 740.5L403.1 740.3L403.9 739.0L404.9 737.6L405.5 736.8L405.9 736.2L406.8 734.7L407.8 733.3L407.9 733.2L408.8 731.9L409.7 730.4L410.3 729.6L410.7 729.0L411.6 727.6L412.6 726.1L412.7 726.0L413.6 724.7L414.5 723.3L415.1 722.4L415.5 721.8L416.4 720.4L417.4 719.0L417.5 718.7L418.3 717.5L419.3 716.1L419.9 715.1L420.2 714.7L421.2 713.2L422.1 711.8L422.3 711.4L423.0 710.4L424.0 708.9L424.7 707.8L424.9 707.5L425.8 706.1L426.8 704.6L427.1 704.1L427.7 703.2L428.6 701.8L429.6 700.3L429.6 700.3L430.5 698.9L431.4 697.5L432.0 696.6L432.3 696.0L433.3 694.6L434.2 693.2L434.4 692.9L435.1 691.7L436.0 690.3L436.8 689.1L436.9 688.9L437.8 687.4L438.7 686.0L439.2 685.3L439.6 684.6L440.5 683.1L441.5 681.7L441.6 681.5L442.4 680.3L443.2 678.8L444.0 677.6L444.1 677.4L445.0 676.0L445.9 674.5L446.4 673.7L446.8 673.1L447.7 671.7L448.6 670.2L448.8 669.9L449.5 668.8L450.4 667.4L451.2 665.9L451.2 665.9L452.1 664.5L453.0 663.1L453.6 662.0L453.9 661.6L454.7 660.2L455.6 658.8L456.1 658.0L456.5 657.3L457.3 655.9M475.8 624.4L476.7 622.9L477.5 621.5L477.7 621.0L478.3 620.1L479.1 618.6L479.9 617.2L480.1 616.8L480.7 615.8L481.5 614.3L482.3 612.9L482.5 612.5L483.1 611.5L483.9 610.0L484.7 608.6L485.0 608.2L485.5 607.2L486.3 605.7L487.1 604.3L487.4 603.8L487.9 602.9L488.7 601.4L489.5 600.0L489.8 599.4L490.3 598.6L491.1 597.1L491.8 595.7L492.2 595.0L492.6 594.3L493.4 592.8L494.2 591.4L494.6 590.6L494.9 590.0L495.7 588.5L496.5 587.1L497.0 586.1L497.3 585.7L498.0 584.2L498.8 582.8L499.4 581.6L499.6 581.3L500.3 579.9L501.1 578.5L501.8 577.1L501.9 577.0L502.6 575.6L503.4 574.2L504.1 572.7L504.2 572.6L504.9 571.3L505.6 569.9L506.4 568.4L506.6 568.0L507.1 567.0L507.9 565.6L508.6 564.1L509.0 563.4L509.4 562.7L510.1 561.3L510.9 559.8L511.5 558.7L511.6 558.4L512.4 557.0L513.1 555.5L513.8 554.1L513.9 554.1L514.6 552.7L515.3 551.2L516.0 549.8L516.3 549.4L516.8 548.4L517.5 546.9L518.2 545.5L518.7 544.6L519.0 544.1L519.7 542.6L520.4 541.2L521.1 539.9L521.2 539.8L521.9 538.3L522.6 536.9L523.3 535.5L523.5 535.1L524.1 534.0L524.8 532.6L525.5 531.2L525.9 530.4L526.2 529.7L526.9 528.3L527.6 526.9L528.3 525.5L528.4 525.4L529.1 524.0L529.8 522.6L530.5 521.1L530.7 520.7L531.2 519.7L531.9 518.3L532.6 516.8L533.1 515.9L533.4 515.4L534.1 514.0L534.8 512.5L535.5 511.1L535.5 511.0L536.2 509.7L536.9 508.2L537.6 506.8L538.0 506.1L538.3 505.4L539.0 503.9L539.7 502.5L540.4 501.2L540.4 501.1L541.1 499.6L541.8 498.2L542.5 496.8L542.8 496.3L543.2 495.3L543.9 493.9L544.6 492.5L545.2 491.3L545.3 491.0L546.0 489.6L546.7 488.2L547.4 486.7L547.6 486.3L548.1 485.3L548.8 483.9L549.5 482.4L550.0 481.4L550.2 481.0L550.9 479.6L551.6 478.1L552.2 476.7L552.4 476.4L552.9 475.3L553.6 473.8L554.3 472.4L554.8 471.4L555.0 471.0L555.7 469.5L556.4 468.1L557.1 466.7L557.2 466.4L557.8 465.2L558.4 463.8L559.1 462.4L559.6 461.3L559.8 460.9L560.5 459.5L561.2 458.1L561.9 456.6L562.0 456.3L562.6 455.2L563.2 453.8L563.9 452.3L564.4 451.2L564.6 450.9L565.3 449.5L566.0 448.0L566.7 446.6L566.9 446.2L567.3 445.2L568.0 443.7L568.7 442.3L569.3 441.1L569.4 440.9L570.1 439.4L570.7 438.0L571.4 436.6L571.7 436.0L572.1 435.1L572.8 433.7L573.5 432.3L574.1 430.9L574.1 430.8L574.8 429.4L575.5 428.0L576.2 426.5L576.5 425.8L576.8 425.1L577.5 423.7L578.2 422.2L578.9 420.8L578.9 420.7L579.5 419.4L580.2 417.9L580.9 416.5L581.3 415.6L581.6 415.1L582.2 413.6L582.9 412.2L583.6 410.8L583.7 410.5L584.3 409.3L584.9 407.9L585.6 406.5L586.1 405.4L586.3 405.0L587.0 403.6L587.6 402.2L588.3 400.7L588.5 400.2L589.0 399.3L589.6 397.9L590.3 396.4L590.9 395.1L591.0 395.0L591.6 393.6L592.3 392.1L593.0 390.7L593.4 389.9L593.7 389.3L594.3 387.8L595.0 386.4L595.7 385.0L595.8 384.7L596.3 383.5L597.0 382.1L597.7 380.7L598.2 379.6L598.3 379.2L599.0 377.8L599.7 376.4L600.3 374.9L600.6 374.4L601.0 373.5L601.7 372.1L602.3 370.6L603.0 369.2L603.0 369.2L603.6 367.8L604.3 366.3L605.0 364.9L605.4 364.0L605.6 363.5L606.3 362.0L607.0 360.6L607.6 359.2L607.8 358.8L608.3 357.7L609.0 356.3L609.6 354.9L610.2 353.6L610.3 353.4L610.9 352.0L611.6 350.6L612.3 349.1L612.6 348.3L612.9 347.7L613.6 346.3L614.2 344.8L614.9 343.4L615.0 343.1L615.6 342.0L616.2 340.5L616.9 339.1L617.4 337.8L617.5 337.7L618.2 336.2L618.8 334.8L619.5 333.4L619.9 332.6L620.2 331.9L620.8 330.5L621.5 329.1L622.1 327.6L622.3 327.3L622.8 326.2L623.4 324.8L624.1 323.3L624.7 322.1L624.7 321.9L625.4 320.5L626.1 319.0L626.7 317.6L627.1 316.8L627.4 316.2L628.0 314.7L628.7 313.3L629.3 311.9L629.5 311.5L630.0 310.4L630.6 309.0L631.3 307.6L631.9 306.2L631.9 306.1L632.6 304.7L633.2 303.3L633.9 301.8L634.3 300.9L634.5 300.4L635.2 299.0L635.8 297.5L636.5 296.1L636.7 295.6L637.1 294.7L637.8 293.2L638.4 291.8L639.1 290.4L639.1 290.2L639.7 288.9L640.4 287.5L641.0 286.1L641.5 284.9L641.7 284.6L642.3 283.2L642.9 281.8L643.6 280.3L643.9 279.5L644.2 278.9L644.9 277.5L645.5 276.0L646.2 274.6L646.3 274.2L646.8 273.2L647.5 271.7L648.1 270.3M663.2 236.4L663.4 235.9L664.1 234.4L664.7 233.0L665.3 231.6L665.6 230.9L666.0 230.1L666.6 228.7L667.2 227.3L667.9 225.8L668.0 225.5L668.5 224.4L669.1 223.0L669.8 221.5L670.4 220.1L670.4 220.0L671.0 218.7L671.7 217.2L672.3 215.8L672.8 214.6L672.9 214.4L673.6 212.9L674.2 211.5L674.8 210.1L675.3 209.1L675.4 208.6L676.1 207.2L676.7 205.8L677.3 204.3L677.7 203.6L678.0 202.9L678.6 201.5L679.2 200.0L679.9 198.6L680.1 198.1L680.5 197.2L681.1 195.7L681.7 194.3L682.4 192.9L682.5 192.6L683.0 191.4L683.6 190.0L684.2 188.6L684.9 187.1L684.9 187.1L685.5 185.7L686.1 184.3L686.8 182.8L687.3 181.6L687.4 181.4L688.0 180.0L688.6 178.5L689.3 177.1L689.7 176.1L689.9 175.7L690.5 174.2L691.1 172.8L691.8 171.4L692.1 170.6L692.4 169.9L693.0 168.5L693.6 167.1L694.3 165.6L694.5 165.0L694.9 164.2L695.5 162.8L696.1 161.3L696.8 159.9L696.9 159.5L697.4 158.5L698.0 157.0L698.6 155.6L699.3 154.2L699.3 154.0L699.9 152.7L700.5 151.3L701.1 149.9L701.7 148.4L701.8 148.4L702.4 147.0L703.0 145.6L703.6 144.1L704.2 142.9L704.2 142.7L704.9 141.3L705.5 139.8L706.1 138.4L706.6 137.4L706.7 137.0L707.4 135.5L708.0 134.1L708.6 132.7L709.0 131.8L709.2 131.2L709.9 129.8L710.5 128.4L711.1 126.9L711.4 126.3L711.7 125.5L712.3 124.1L713.0 122.6L713.6 121.2L713.8 120.7L714.2 119.8L714.8 118.3L715.5 116.9L716.1 115.5L716.2 115.2L716.7 114.0L717.3 112.6L718.0 111.2L718.6 109.7L718.6 109.7L719.2 108.3L719.8 106.9L720.5 105.4L721.0 104.1L721.1 104.0L721.7 102.6L722.3 101.1L723.0 99.7L723.4 98.6L723.6 98.3L724.2 96.8L724.8 95.4L725.5 94.0L725.8 93.1L726.1 92.5L726.7 91.1L727.3 89.7L728.0 88.2L728.2 87.6L728.6 86.8L729.2 85.4L729.9 83.9L730.5 82.5" stroke="#1aabdd"/><path d="M114.0 1020.6L115.4 1020.0L116.4 1019.5L118.5 1018.6L118.8 1018.4L121.2 1017.3L121.7 1017.1L123.6 1016.2L124.8 1015.7L126.0 1015.1L128.0 1014.3L128.5 1014.0L130.9 1013.0L131.1 1012.8L133.3 1011.9L134.3 1011.4L135.7 1010.8L137.5 1010.0L138.1 1009.7L140.5 1008.6L140.6 1008.5L142.9 1007.5L143.8 1007.1L145.3 1006.4L146.9 1005.7L147.7 1005.3L150.0 1004.2L150.1 1004.2L152.5 1003.0L153.1 1002.8L154.9 1001.9L156.1 1001.4L157.4 1000.8L159.2 999.9L159.8 999.6L162.2 998.5L162.2 998.5L164.6 997.3L165.2 997.1L167.0 996.2L168.1 995.6L169.4 995.0L171.1 994.2L171.8 993.8L173.9 992.8L174.2 992.6L176.6 991.4L176.8 991.3L179.0 990.2L179.6 989.9L181.4 988.9L182.4 988.5M248.9 946.4L250.2 945.5L251.3 944.6L252.1 944.0L253.7 942.9L254.1 942.6L256.0 941.2L256.1 941.1L257.9 939.7L258.5 939.3L259.9 938.3L260.9 937.5L261.8 936.9L263.3 935.7L263.7 935.4L265.6 934.0L265.8 933.9L267.5 932.6L268.2 932.0L269.4 931.1L270.6 930.2L271.2 929.7L273.0 928.3L273.1 928.3L274.9 926.8L275.4 926.5L276.8 925.4L277.8 924.6L278.6 924.0L280.2 922.7L280.5 922.5L282.3 921.1L282.6 920.8L284.1 919.7L285.0 918.9L285.9 918.2L287.4 917.0L287.7 916.8L289.5 915.3L289.8 915.0L291.2 913.9L292.3 913.1L293.0 912.5L294.7 911.1L294.7 911.0L296.4 909.6L297.1 909.1L298.2 908.2L299.5 907.1L299.9 906.7L301.6 905.3L301.9 905.0L303.2 903.9L304.3 903.0L304.9 902.4L306.6 901.0L306.7 900.9L308.2 899.6L309.1 898.8L309.8 898.1L311.4 896.7L311.5 896.6L313.0 895.3L313.9 894.5L314.6 893.8L316.2 892.4L316.3 892.3L317.7 891.0L318.7 890.0L319.3 889.5L320.8 888.1L321.2 887.8L322.3 886.7L323.6 885.5L323.8 885.2L325.3 883.8L326.0 883.2L326.8 882.4L328.3 880.9L328.4 880.8L329.7 879.5L330.8 878.5L331.2 878.1L332.6 876.6L333.2 876.1L334.1 875.2L335.5 873.8L335.6 873.6L336.9 872.3L338.0 871.2L338.3 870.9L339.7 869.5L340.4 868.7L341.0 868.0L342.4 866.6L342.8 866.1L343.8 865.2L345.1 863.7L345.2 863.6L346.4 862.3L347.7 861.0L347.8 860.9L349.1 859.4L350.1 858.4L350.4 858.0L351.7 856.6L352.5 855.7L353.0 855.1L354.3 853.7L354.9 853.1L355.6 852.3L356.9 850.8L357.3 850.3L358.1 849.4L359.4 848.0L359.7 847.6L360.6 846.5L361.9 845.1L362.1 844.8L363.1 843.7L364.4 842.2L364.5 842.1L365.6 840.8L366.8 839.4L366.9 839.2L368.0 837.9L369.2 836.5L369.3 836.4L370.4 835.1L371.7 833.6L371.7 833.5L372.8 832.2L374.0 830.8L374.2 830.6L375.2 829.3L376.4 827.9L376.6 827.7L377.6 826.5L378.8 825.0L379.0 824.8L379.9 823.6L381.1 822.2L381.4 821.8L382.3 820.7L383.4 819.3L383.8 818.9L384.6 817.9L385.7 816.4L386.2 815.9L386.9 815.0L388.0 813.6L388.6 812.8L389.2 812.1L390.3 810.7L391.0 809.8L391.4 809.3L392.6 807.8L393.4 806.8L393.7 806.4L394.8 805.0L395.8 803.7L396.0 803.5L397.1 802.1L398.2 800.7L398.2 800.6L399.3 799.2L400.4 797.8L400.6 797.5L401.5 796.4L402.6 794.9L403.1 794.4L403.8 793.5L404.9 792.1L405.5 791.3L406.0 790.6L407.1 789.2L407.9 788.1L408.2 787.8L409.3 786.3L410.3 785.0L410.4 784.9L411.4 783.5L412.5 782.0L412.7 781.8L413.6 780.6L414.7 779.2L415.1 778.6L415.8 777.7L416.9 776.3L417.5 775.5L418.0 774.9L419.0 773.4L419.9 772.2L420.1 772.0L421.2 770.6L422.2 769.1L422.3 769.0L423.3 767.7L424.4 766.3L424.7 765.8L425.5 764.8L426.5 763.4L427.1 762.6L427.6 762.0L428.6 760.5L429.6 759.3L429.7 759.1L430.8 757.7L431.8 756.2L432.0 756.0L432.9 754.8L433.9 753.4L434.4 752.7L435.0 751.9L436.0 750.5L436.8 749.4L437.0 749.1L438.1 747.6L439.1 746.2L439.2 746.1L440.2 744.8L441.2 743.3L441.6 742.8L442.2 741.9L443.3 740.5L444.0 739.4L444.3 739.0L445.3 737.6L446.3 736.2L446.4 736.1L447.4 734.7L448.4 733.3L448.8 732.7L449.4 731.9L450.4 730.4L451.2 729.3L451.4 729.0L452.4 727.6L453.4 726.1L453.6 725.9L454.5 724.7L455.5 723.3L456.1 722.4L456.5 721.8L457.5 720.4L458.5 719.0L458.5 719.0L459.4 717.5L460.4 716.1L460.9 715.5L461.4 714.7L462.4 713.2L463.3 712.0L463.4 711.8L464.4 710.4L465.4 708.9L465.7 708.5L466.3 707.5L467.3 706.1L468.1 704.9L468.3 704.6L469.3 703.2L470.2 701.8L470.5 701.3L471.2 700.3L472.2 698.9L472.9 697.8L473.1 697.5L474.1 696.0L475.0 694.6L475.3 694.2L476.0 693.2L476.9 691.7L477.7 690.5L477.9 690.3L478.8 688.9L479.8 687.4L480.1 686.9L480.7 686.0M522.1 618.6L523.0 617.2L523.5 616.2L523.8 615.8L524.6 614.3L525.4 612.9L525.9 612.0L526.2 611.5L527.1 610.0L527.9 608.6L528.3 607.8L528.7 607.2L529.5 605.7L530.3 604.3L530.7 603.6L531.1 602.9L531.9 601.4L532.8 600.0L533.1 599.3L533.6 598.6L534.4 597.1L535.2 595.7L535.5 595.0L536.0 594.3L536.8 592.8L537.6 591.4L538.0 590.7L538.4 590.0L539.2 588.5L539.9 587.1L540.4 586.3L540.7 585.7L541.5 584.2L542.3 582.8L542.8 581.9L543.1 581.3L543.9 579.9L544.7 578.5L545.2 577.5L545.5 577.0L546.2 575.6L547.0 574.2L547.6 573.1L547.8 572.7L548.6 571.3L549.3 569.9L550.0 568.7L550.1 568.4L550.9 567.0L551.7 565.6L552.4 564.2L552.4 564.1L553.2 562.7L554.0 561.3L554.7 559.8L554.8 559.7L555.5 558.4L556.3 557.0L557.0 555.5L557.2 555.2L557.8 554.1L558.6 552.7L559.3 551.2L559.6 550.7L560.1 549.8L560.8 548.4L561.6 546.9L562.0 546.1L562.4 545.5L563.1 544.1L563.9 542.6L564.4 541.6L564.6 541.2L565.4 539.8L566.1 538.3L566.9 537.0L566.9 536.9L567.6 535.5L568.4 534.0L569.1 532.6L569.3 532.4L569.9 531.2L570.6 529.7L571.4 528.3L571.7 527.7L572.1 526.9L572.9 525.4L573.6 524.0L574.1 523.1L574.4 522.6L575.1 521.1L575.8 519.7L576.5 518.5L576.6 518.3L577.3 516.8L578.1 515.4L578.8 514.0L578.9 513.8L579.5 512.5L580.3 511.1L581.0 509.7L581.3 509.1L581.8 508.2L582.5 506.8L583.2 505.4L583.7 504.4L584.0 503.9L584.7 502.5L585.4 501.1L586.1 499.7L586.2 499.6L586.9 498.2L587.6 496.8L588.4 495.3L588.5 495.0L589.1 493.9L589.8 492.5L590.6 491.0L590.9 490.3L591.3 489.6L592.0 488.2L592.7 486.7L593.4 485.5L593.5 485.3L594.2 483.9L594.9 482.4L595.6 481.0L595.8 480.8L596.4 479.6L597.1 478.1L597.8 476.7L598.2 476.0L598.5 475.3L599.3 473.8L600.0 472.4L600.6 471.2L600.7 471.0L601.4 469.5L602.2 468.1L602.9 466.7L603.0 466.4L603.6 465.2L604.3 463.8L605.0 462.4L605.4 461.6L605.8 460.9L606.5 459.5L607.2 458.1L607.8 456.8L607.9 456.6L608.6 455.2L609.3 453.8L610.1 452.3L610.2 452.0L610.8 450.9L611.5 449.5L612.2 448.0L612.6 447.2L612.9 446.6L613.6 445.2L614.4 443.7L615.0 442.4L615.1 442.3L615.8 440.9L616.5 439.4L617.2 438.0L617.4 437.5L617.9 436.6L618.6 435.1L619.4 433.7L619.9 432.7L620.1 432.3L620.8 430.8L621.5 429.4L622.2 428.0L622.3 427.8L622.9 426.5L623.6 425.1L624.3 423.7L624.7 423.0L625.0 422.2L625.7 420.8L626.5 419.4L627.1 418.1L627.2 417.9L627.9 416.5L628.6 415.1L629.3 413.6L629.5 413.2L630.0 412.2L630.7 410.8L631.4 409.3L631.9 408.3L632.1 407.9L632.8 406.5L633.5 405.0L634.2 403.6L634.3 403.4L634.9 402.2L635.6 400.7L636.3 399.3L636.7 398.5L637.0 397.9L637.7 396.4L638.4 395.0L639.1 393.6L639.1 393.6L639.8 392.1L640.5 390.7L641.2 389.3L641.5 388.7L641.9 387.8L642.6 386.4L643.3 385.0L643.9 383.8L644.0 383.5L644.7 382.1L645.4 380.7L646.1 379.2L646.3 378.8L646.8 377.8L647.5 376.4L648.2 374.9L648.8 373.8L648.9 373.5L649.6 372.1L650.3 370.6L651.0 369.2L651.2 368.9L651.7 367.8L652.4 366.3L653.1 364.9L653.6 363.9L653.8 363.5L654.5 362.0L655.2 360.6L655.9 359.2L656.0 358.9L656.6 357.7L657.3 356.3L657.9 354.9L658.4 353.9L658.6 353.4L659.3 352.0L660.0 350.6L660.7 349.1L660.8 348.9L661.4 347.7L662.1 346.3L662.8 344.8L663.2 343.9L663.5 343.4L664.1 342.0L664.8 340.5L665.5 339.1L665.6 338.9L666.2 337.7L666.9 336.2L667.6 334.8L668.0 333.8L668.3 333.4L668.9 331.9L669.6 330.5L670.3 329.1L670.4 328.8L671.0 327.6L671.7 326.2L672.4 324.8L672.8 323.7L673.0 323.3L673.7 321.9L674.4 320.5L675.1 319.0L675.3 318.6L675.8 317.6L676.4 316.2L677.1 314.7L677.7 313.6L677.8 313.3L678.5 311.9L679.1 310.4L679.8 309.0L680.1 308.5L680.5 307.6M713.2 237.3L713.8 236.1L713.9 235.9L714.5 234.4L715.2 233.0L715.9 231.6L716.2 230.8L716.5 230.1L717.2 228.7L717.8 227.3L718.5 225.8L718.6 225.6L719.2 224.4L719.8 223.0L720.5 221.5L721.0 220.3L721.1 220.1L721.8 218.7L722.4 217.2L723.1 215.8L723.4 215.1L723.8 214.4L724.4 212.9L725.1 211.5L725.7 210.1L725.8 209.8L726.4 208.6L727.0 207.2L727.7 205.8L728.2 204.6L728.3 204.3L729.0 202.9L729.7 201.5L730.3 200.0L730.7 199.3L731.0 198.6L731.6 197.2L732.3 195.7L732.9 194.3L733.1 194.0L733.6 192.9L734.2 191.4L734.9 190.0L735.5 188.8L735.6 188.6L736.2 187.1L736.9 185.7L737.5 184.3L737.9 183.5L738.2 182.8L738.8 181.4L739.5 180.0L740.1 178.5L740.3 178.2L740.8 177.1L741.5 175.7L742.1 174.2L742.7 172.9L742.8 172.8L743.4 171.4L744.1 169.9L744.7 168.5L745.1 167.7L745.4 167.1L746.0 165.6L746.7 164.2L747.3 162.8L747.5 162.4L748.0 161.3L748.7 159.9L749.3 158.5L749.9 157.1L750.0 157.0L750.6 155.6L751.3 154.2L751.9 152.7L752.3 151.9L752.6 151.3L753.2 149.9L753.9 148.4L754.6 147.0L754.7 146.6L755.2 145.6L755.9 144.1L756.5 142.7L757.2 141.3L757.2 141.3L757.8 139.8L758.5 138.4L759.2 137.0L759.6 136.1L759.8 135.5L760.5 134.1L761.1 132.7L761.8 131.2L762.0 130.9L762.5 129.8L763.1 128.4L763.8 126.9L764.4 125.6L764.4 125.5L765.1 124.1L765.8 122.6L766.4 121.2L766.8 120.4L767.1 119.8L767.7 118.3L768.4 116.9L769.1 115.5L769.2 115.2L769.7 114.0L770.4 112.6L771.0 111.2L771.6 110.0L771.7 109.7L772.4 108.3L773.0 106.9L773.7 105.4L774.0 104.8L774.4 104.0L775.0 102.6L775.7 101.1L776.4 99.7L776.4 99.6L777.0 98.3L777.7 96.8L778.4 95.4L778.8 94.4L779.0 94.0L779.7 92.5L780.4 91.1L781.0 89.7L781.2 89.2L781.7 88.2L782.4 86.8L783.0 85.4L783.7 84.1L783.7 83.9L784.4 82.5" stroke="#0fb2d5"/><path d="M114.0 1032.2L115.7 1031.5L116.4 1031.2L118.8 1030.2L119.1 1030.0L121.2 1029.2L122.6 1028.6L123.6 1028.2L126.0 1027.2L126.2 1027.2L128.5 1026.3L129.8 1025.7L130.9 1025.3L133.3 1024.4L133.5 1024.3L135.7 1023.4L137.1 1022.9L138.1 1022.5L140.5 1021.5L140.8 1021.4L142.9 1020.6L144.4 1020.0L145.3 1019.6L147.7 1018.7L148.1 1018.6L150.1 1017.7L151.7 1017.1L152.5 1016.8L154.9 1015.8L155.3 1015.7L157.4 1014.9L158.9 1014.3L159.8 1013.9L162.2 1012.9L162.4 1012.8L164.6 1011.9L165.9 1011.4L167.0 1010.9L169.4 1010.0L169.4 1010.0L171.8 1008.9L172.8 1008.5L174.2 1007.9L176.2 1007.1L176.6 1006.9L179.0 1005.9L179.5 1005.7L181.4 1004.8L182.8 1004.2L183.9 1003.8L186.0 1002.8L186.3 1002.7L188.7 1001.6L189.2 1001.4L191.1 1000.5L192.4 999.9L193.5 999.4M263.3 959.8L263.4 959.8L265.5 958.4L265.8 958.2L267.7 956.9L268.2 956.6L269.8 955.5L270.6 955.0L271.9 954.1L273.0 953.3L274.0 952.6L275.4 951.7L276.1 951.2L277.8 950.0L278.2 949.8L280.2 948.4L280.3 948.3L282.4 946.9L282.6 946.7L284.4 945.5L285.0 945.0L286.5 944.0L287.4 943.4L288.6 942.6L289.8 941.7L290.6 941.2L292.3 940.0L292.6 939.7L294.7 938.3L294.7 938.3L296.7 936.9L297.1 936.6L298.7 935.4L299.5 934.8L300.7 934.0L301.9 933.1L302.7 932.6L304.3 931.4L304.6 931.1L306.6 929.7L306.7 929.6L308.6 928.3L309.1 927.9L310.5 926.8L311.5 926.1L312.4 925.4L313.9 924.3L314.4 924.0L316.3 922.5L316.3 922.5L318.2 921.1L318.7 920.6L320.0 919.7L321.2 918.8L321.9 918.2L323.6 916.9L323.8 916.8L325.6 915.3L326.0 915.1L327.4 913.9L328.4 913.1L329.2 912.5L330.8 911.2L331.0 911.0L332.8 909.6L333.2 909.3L334.6 908.2L335.6 907.3L336.3 906.7L338.0 905.3L338.0 905.3L339.7 903.9L340.4 903.3L341.4 902.4L342.8 901.3L343.1 901.0L344.8 899.6L345.2 899.2L346.4 898.1L347.7 897.1L348.1 896.7L349.7 895.3L350.1 895.0L351.3 893.8L352.5 892.8L352.9 892.4L354.5 891.0L354.9 890.6L356.1 889.5L357.3 888.4L357.6 888.1L359.2 886.7L359.7 886.2L360.7 885.2L362.1 884.0L362.3 883.8L363.8 882.4L364.5 881.7L365.3 880.9L366.8 879.5L366.9 879.4L368.2 878.1L369.3 877.0L369.7 876.6L371.2 875.2L371.7 874.7L372.6 873.8L374.1 872.3L374.2 872.3L375.5 870.9L376.6 869.8L376.9 869.5L378.3 868.0L379.0 867.4L379.7 866.6L381.1 865.2L381.4 864.9L382.5 863.7L383.8 862.4L383.9 862.3L385.3 860.9L386.2 859.9L386.6 859.4L388.0 858.0L388.6 857.4L389.4 856.6L390.7 855.1L391.0 854.8L392.0 853.7L393.4 852.3L393.4 852.2L394.7 850.8L395.8 849.6L396.0 849.4L397.3 848.0L398.2 847.0L398.6 846.5L399.9 845.1L400.6 844.3L401.2 843.7L402.5 842.2L403.1 841.6L403.8 840.8L405.1 839.4L405.5 838.9L406.4 837.9L407.6 836.5L407.9 836.2L408.9 835.1L410.1 833.6L410.3 833.5L411.4 832.2L412.7 830.8L412.7 830.7L413.9 829.3L415.1 828.0L415.2 827.9L416.4 826.5L417.5 825.2L417.6 825.0L418.9 823.6L419.9 822.4L420.1 822.2L421.3 820.7L422.3 819.6L422.6 819.3L423.8 817.9L424.7 816.8L425.0 816.4L426.2 815.0L427.1 813.9L427.4 813.6L428.7 812.1L429.6 811.1L429.9 810.7L431.1 809.3L432.0 808.2L432.3 807.8L433.5 806.4L434.4 805.3L434.7 805.0L435.9 803.5L436.8 802.4L437.1 802.1L438.3 800.7L439.2 799.5L439.4 799.2L440.6 797.8L441.6 796.6L441.8 796.4L443.0 794.9L444.0 793.7L444.2 793.5L445.3 792.1L446.4 790.8L446.5 790.6L447.7 789.2L448.8 787.8L448.8 787.8L450.0 786.3L451.2 784.9L451.2 784.8L452.3 783.5L453.5 782.0L453.6 781.8L454.6 780.6L455.8 779.2L456.1 778.8L456.9 777.7L458.1 776.3L458.5 775.8L459.2 774.9L460.4 773.4L460.9 772.8L461.5 772.0L462.6 770.6L463.3 769.8L463.8 769.1L464.9 767.7L465.7 766.7L466.0 766.3L467.1 764.8L468.1 763.6L468.3 763.4L469.4 762.0L470.5 760.5L470.5 760.5L471.6 759.1L472.7 757.7L472.9 757.4L473.8 756.2L474.9 754.8L475.3 754.3L476.0 753.4L477.1 751.9L477.7 751.2L478.2 750.5L479.3 749.1L480.1 748.0L480.4 747.6L481.5 746.2L482.5 744.8L482.6 744.8L483.7 743.3L484.7 741.9L485.0 741.6L485.8 740.5L486.9 739.0L487.4 738.4L488.0 737.6L489.0 736.2L489.8 735.2L490.1 734.7L491.2 733.3L492.2 731.9L492.2 731.9L493.3 730.4L494.3 729.0L494.6 728.6L495.4 727.6L496.4 726.1L497.0 725.3L497.5 724.7L498.5 723.3L499.4 722.0L499.5 721.8L500.6 720.4L501.6 719.0L501.8 718.7L502.6 717.5L503.7 716.1L504.2 715.3L504.7 714.7L505.7 713.2M549.5 647.3L550.0 646.5L550.4 645.9L551.3 644.4L552.1 643.0L552.4 642.6L553.0 641.6L553.9 640.1L554.8 638.7L554.8 638.6L555.7 637.3L556.5 635.8L557.2 634.7L557.4 634.4L558.3 633.0L559.2 631.5L559.6 630.7L560.0 630.1L560.9 628.7L561.8 627.2L562.0 626.7L562.6 625.8L563.5 624.4L564.3 622.9L564.4 622.7L565.2 621.5L566.0 620.1L566.9 618.7L566.9 618.6L567.7 617.2L568.6 615.8L569.3 614.6L569.4 614.3L570.3 612.9L571.1 611.5L571.7 610.5L572.0 610.0L572.8 608.6L573.7 607.2L574.1 606.4L574.5 605.7L575.3 604.3L576.2 602.9L576.5 602.3L577.0 601.4L577.8 600.0L578.7 598.6L578.9 598.1L579.5 597.1L580.3 595.7L581.1 594.3L581.3 594.0L582.0 592.8L582.8 591.4L583.6 590.0L583.7 589.8L584.4 588.5L585.3 587.1L586.1 585.7L586.1 585.6L586.9 584.2L587.7 582.8L588.5 581.3L588.5 581.3L589.3 579.9L590.2 578.5L590.9 577.1L591.0 577.0L591.8 575.6L592.6 574.2L593.4 572.8L593.4 572.7L594.2 571.3L595.0 569.9L595.8 568.5L595.8 568.4L596.6 567.0L597.4 565.6L598.2 564.2L598.2 564.1L599.0 562.7L599.8 561.3L600.6 559.9L600.6 559.8L601.4 558.4L602.2 557.0L603.0 555.6L603.0 555.5L603.8 554.1L604.6 552.7L605.4 551.2L605.4 551.2L606.2 549.8L607.0 548.4L607.8 546.9L607.8 546.9L608.6 545.5L609.3 544.1L610.1 542.6L610.2 542.5L610.9 541.2L611.7 539.8L612.5 538.3L612.6 538.1L613.3 536.9L614.1 535.5L614.8 534.0L615.0 533.7L615.6 532.6L616.4 531.2L617.2 529.7L617.4 529.3L618.0 528.3L618.8 526.9L619.5 525.4L619.9 524.9L620.3 524.0L621.1 522.6L621.9 521.1L622.3 520.4L622.6 519.7L623.4 518.3L624.2 516.8L624.7 516.0L625.0 515.4L625.7 514.0L626.5 512.5L627.1 511.5L627.3 511.1L628.1 509.7L628.8 508.2L629.5 507.0L629.6 506.8L630.4 505.4L631.2 503.9L631.9 502.6L631.9 502.5L632.7 501.1L633.5 499.6L634.2 498.2L634.3 498.1L635.0 496.8L635.8 495.3L636.5 493.9L636.7 493.6L637.3 492.5L638.1 491.0L638.8 489.6L639.1 489.0L639.6 488.2L640.4 486.7L641.1 485.3L641.5 484.5L641.9 483.9L642.6 482.4L643.4 481.0L643.9 480.0L644.2 479.6L644.9 478.1L645.7 476.7L646.3 475.4L646.4 475.3L647.2 473.8L648.0 472.4L648.7 471.0L648.8 470.9L649.5 469.5L650.2 468.1L651.0 466.7L651.2 466.3L651.7 465.2L652.5 463.8L653.3 462.4L653.6 461.8L654.0 460.9L654.8 459.5L655.5 458.1L656.0 457.2L656.3 456.6L657.0 455.2L657.8 453.8L658.4 452.6L658.5 452.3L659.3 450.9L660.0 449.5L660.8 448.0L660.8 448.0L661.5 446.6L662.3 445.2L663.0 443.7L663.2 443.4L663.8 442.3L664.5 440.9L665.3 439.4L665.6 438.8L666.0 438.0L666.8 436.6L667.5 435.1L668.0 434.2L668.3 433.7L669.0 432.3L669.8 430.8L670.4 429.5L670.5 429.4L671.2 428.0L672.0 426.5L672.7 425.1L672.8 424.9L673.5 423.7L674.2 422.2L675.0 420.8L675.3 420.2L675.7 419.4L676.4 417.9L677.2 416.5L677.7 415.5L677.9 415.1L678.7 413.6L679.4 412.2L680.1 410.9L680.1 410.8L680.9 409.3L681.6 407.9L682.3 406.5L682.5 406.2L683.1 405.0L683.8 403.6L684.5 402.2L684.9 401.5L685.3 400.7L686.0 399.3L686.7 397.9L687.3 396.8L687.5 396.4L688.2 395.0L688.9 393.6L689.7 392.1L689.7 392.0L690.4 390.7L691.1 389.3L691.9 387.8L692.1 387.3L692.6 386.4L693.3 385.0L694.0 383.5L694.5 382.6L694.8 382.1L695.5 380.7L696.2 379.2L696.9 377.8L696.9 377.8L697.7 376.4L698.4 374.9L699.1 373.5L699.3 373.0L699.8 372.1L700.6 370.6L701.3 369.2L701.8 368.3L702.0 367.8L702.7 366.3L703.4 364.9L704.2 363.5L704.2 363.5L704.9 362.0L705.6 360.6L706.3 359.2L706.6 358.7L707.0 357.7L707.8 356.3L708.5 354.9L709.0 353.8L709.2 353.4L709.9 352.0L710.6 350.6L711.3 349.1L711.4 349.0L712.0 347.7L712.8 346.3L713.5 344.8L713.8 344.2L714.2 343.4L714.9 342.0L715.6 340.5L716.2 339.3L716.3 339.1L717.0 337.7L717.7 336.2M752.3 265.3L752.7 264.6L753.4 263.1L754.1 261.7L754.7 260.3L754.8 260.3L755.4 258.8L756.1 257.4L756.8 256.0L757.2 255.3L757.5 254.5L758.2 253.1L758.9 251.7L759.6 250.3L759.6 250.2L760.3 248.8L761.0 247.3L761.6 245.9L762.0 245.2L762.3 244.5L763.0 243.0L763.7 241.6L764.4 240.2L764.4 240.2L765.1 238.7L765.8 237.3L766.5 235.9L766.8 235.2L767.1 234.4L767.8 233.0L768.5 231.6L769.2 230.2L769.2 230.1L769.9 228.7L770.6 227.3L771.3 225.8L771.6 225.1L772.0 224.4L772.6 223.0L773.3 221.5L774.0 220.1L774.0 220.1L774.7 218.7L775.4 217.2L776.1 215.8L776.4 215.1L776.8 214.4L777.4 212.9L778.1 211.5L778.8 210.1L778.8 210.0L779.5 208.6L780.2 207.2L780.9 205.8L781.2 205.0L781.6 204.3L782.2 202.9L782.9 201.5L783.6 200.0L783.7 200.0L784.3 198.6L785.0 197.2L785.7 195.7L786.1 195.0L786.4 194.3L787.1 192.9L787.7 191.4L788.4 190.0L788.5 189.9L789.1 188.6L789.8 187.1L790.5 185.7L790.9 184.9L791.2 184.3L791.9 182.8L792.6 181.4L793.2 180.0L793.3 179.9L793.9 178.5L794.6 177.1L795.3 175.7L795.7 174.9L796.0 174.2L796.7 172.8L797.4 171.4L798.1 169.9L798.1 169.9L798.8 168.5L799.5 167.1L800.1 165.6L800.5 164.9L800.8 164.2L801.5 162.8L802.2 161.3L802.9 159.9L802.9 159.9L803.6 158.5L804.3 157.0L805.0 155.6L805.3 154.9L805.7 154.2L806.4 152.7L807.1 151.3L807.7 149.9L807.8 149.9L808.5 148.4L809.1 147.0L809.8 145.6L810.1 144.9L810.5 144.1L811.2 142.7L811.9 141.3L812.6 140.0L812.6 139.8L813.3 138.4L814.0 137.0L814.7 135.5L815.0 135.0L815.4 134.1L816.1 132.7L816.8 131.2L817.4 130.1L817.5 129.8L818.2 128.4L818.9 126.9L819.6 125.5L819.8 125.2L820.3 124.1L821.0 122.6L821.7 121.2L822.2 120.2L822.4 119.8L823.1 118.3L823.8 116.9L824.5 115.5L824.6 115.3L825.2 114.0L825.9 112.6L826.6 111.2L827.0 110.4L827.3 109.7L828.1 108.3L828.8 106.9L829.4 105.5L829.5 105.4L830.2 104.0L830.9 102.6L831.6 101.1L831.8 100.7L832.3 99.7L833.0 98.3L833.7 96.8L834.2 95.8L834.4 95.4L835.1 94.0L835.9 92.5L836.6 91.1L836.6 91.0L837.3 89.7L838.0 88.2L838.7 86.8L839.1 86.1L839.4 85.4L840.1 83.9L840.9 82.5" stroke="#01b8ca"/><path d="M114.0 1042.9L116.4 1041.9L117.4 1041.5L118.8 1040.9L120.9 1040.1L121.2 1039.9L123.6 1039.0L124.6 1038.6L126.0 1038.1L128.4 1037.2L128.5 1037.2L130.9 1036.3L132.4 1035.8L133.3 1035.4L135.7 1034.6L136.4 1034.3L138.1 1033.7L140.5 1032.9L140.5 1032.9L142.9 1032.1L144.6 1031.5L145.3 1031.2L147.7 1030.4L148.9 1030.0L150.1 1029.6L152.5 1028.8L153.1 1028.6L154.9 1028.0L157.3 1027.2L157.4 1027.1L159.8 1026.3L161.5 1025.7L162.2 1025.5L164.6 1024.7L165.7 1024.3L167.0 1023.9L169.4 1023.0L169.9 1022.9L171.8 1022.2L174.0 1021.4L174.2 1021.3L176.6 1020.5L178.0 1020.0L179.0 1019.6L181.4 1018.8L182.0 1018.6L183.9 1017.9L185.9 1017.1L186.3 1017.0L188.7 1016.1L189.8 1015.7L191.1 1015.2L193.5 1014.3L193.5 1014.3L195.9 1013.3L197.2 1012.8L198.3 1012.4L200.7 1011.4L200.8 1011.4L203.1 1010.5L204.4 1010.0L205.5 1009.5L207.8 1008.5L207.9 1008.5L210.4 1007.5L211.2 1007.1M280.2 971.0L282.1 969.8L282.6 969.5L284.5 968.4L285.0 968.0L286.8 967.0L287.4 966.5L289.0 965.5L289.8 965.0L291.3 964.1L292.3 963.5L293.6 962.7L294.7 962.0L295.8 961.2L297.1 960.4L298.1 959.8L299.5 958.9L300.3 958.4L301.9 957.4L302.6 956.9L304.3 955.8L304.8 955.5L306.7 954.3L307.0 954.1L309.1 952.7L309.2 952.6L311.4 951.2L311.5 951.1L313.6 949.8L313.9 949.6L315.8 948.3L316.3 948.0L318.0 946.9L318.7 946.4L320.2 945.5L321.2 944.8L322.3 944.0L323.6 943.2L324.5 942.6L326.0 941.6L326.6 941.2L328.4 940.0L328.8 939.7L330.8 938.4L330.9 938.3L333.0 936.9L333.2 936.7L335.1 935.4L335.6 935.1L337.2 934.0L338.0 933.4L339.3 932.6L340.4 931.7L341.3 931.1L342.8 930.1L343.4 929.7L345.2 928.4L345.4 928.3L347.4 926.8L347.7 926.6L349.4 925.4L350.1 924.9L351.4 924.0L352.5 923.2L353.4 922.5L354.9 921.4L355.3 921.1L357.3 919.7L357.3 919.7L359.2 918.2L359.7 917.9L361.1 916.8L362.1 916.0L363.0 915.3L364.5 914.2L364.9 913.9L366.8 912.5L366.9 912.4L368.6 911.0L369.3 910.5L370.5 909.6L371.7 908.6L372.3 908.2L374.1 906.7L374.2 906.7L375.9 905.3L376.6 904.7L377.6 903.9L379.0 902.8L379.4 902.4L381.1 901.0L381.4 900.8L382.8 899.6L383.8 898.8L384.5 898.1L386.2 896.8L386.2 896.7L387.9 895.3L388.6 894.7L389.6 893.8L391.0 892.6L391.2 892.4L392.9 891.0L393.4 890.5L394.5 889.5L395.8 888.4L396.1 888.1L397.7 886.7L398.2 886.2L399.3 885.2L400.6 884.0L400.9 883.8L402.5 882.4L403.1 881.9L404.0 880.9L405.5 879.6L405.6 879.5L407.1 878.1L407.9 877.4L408.7 876.6L410.2 875.2L410.3 875.1L411.7 873.8L412.7 872.8L413.2 872.3L414.7 870.9L415.1 870.5L416.2 869.5L417.5 868.2L417.7 868.0L419.1 866.6L419.9 865.9L420.6 865.2L422.1 863.7L422.3 863.5L423.5 862.3L424.7 861.1L425.0 860.9L426.4 859.4L427.1 858.7L427.8 858.0L429.2 856.6L429.6 856.3L430.7 855.1L432.0 853.8L432.1 853.7L433.5 852.3L434.4 851.4L434.9 850.8L436.3 849.4L436.8 848.9L437.7 848.0L439.0 846.5L439.2 846.4L440.4 845.1L441.6 843.9L441.8 843.7L443.1 842.2L444.0 841.3L444.5 840.8L445.9 839.4L446.4 838.8L447.2 837.9L448.5 836.5L448.8 836.2L449.9 835.1L451.2 833.6L451.2 833.6L452.6 832.2L453.6 831.0L453.9 830.8L455.2 829.3L456.1 828.4L456.5 827.9L457.8 826.5L458.5 825.8L459.1 825.0L460.5 823.6L460.9 823.1L461.8 822.2L463.1 820.7L463.3 820.5L464.3 819.3L465.6 817.9L465.7 817.8L466.9 816.4L468.1 815.1L468.2 815.0L469.5 813.6L470.5 812.4L470.8 812.1L472.0 810.7L472.9 809.7L473.3 809.3L474.6 807.8L475.3 807.0L475.8 806.4L477.1 805.0L477.7 804.3L478.4 803.5L479.6 802.1L480.1 801.5L480.9 800.7L482.1 799.2L482.5 798.7L483.4 797.8L484.6 796.4L485.0 796.0L485.8 794.9L487.1 793.5L487.4 793.2L488.3 792.1L489.5 790.6L489.8 790.4L490.8 789.2L492.0 787.8L492.2 787.5L493.2 786.3L494.4 784.9L494.6 784.7L495.6 783.5L496.8 782.0L497.0 781.8L498.0 780.6L499.2 779.2L499.4 779.0L500.4 777.7L501.6 776.3L501.8 776.1L502.8 774.9L504.0 773.4L504.2 773.2L505.2 772.0L506.4 770.6L506.6 770.2L507.5 769.1L508.7 767.7L509.0 767.3L509.9 766.3L511.1 764.8L511.5 764.3L512.2 763.4L513.4 762.0L513.9 761.4L514.5 760.5L515.7 759.1L516.3 758.4L516.8 757.7L518.0 756.2L518.7 755.4L519.1 754.8L520.3 753.4L521.1 752.3L521.4 751.9L522.5 750.5L523.5 749.3L523.7 749.1L524.8 747.6L525.9 746.2L525.9 746.2L527.0 744.8L528.1 743.3L528.3 743.1L529.3 741.9L530.4 740.5L530.7 740.0L531.5 739.0L532.6 737.6L533.1 736.9L533.7 736.2L534.8 734.7M580.6 670.2L581.3 669.2L581.6 668.8L582.6 667.4L583.5 665.9L583.7 665.6L584.4 664.5L585.4 663.1L586.1 661.9L586.3 661.6L587.3 660.2L588.2 658.8L588.5 658.2L589.1 657.3L590.1 655.9L590.9 654.5L591.0 654.5L591.9 653.0L592.9 651.6L593.4 650.8L593.8 650.2L594.7 648.7L595.6 647.3L595.8 647.1L596.5 645.9L597.4 644.4L598.2 643.3L598.4 643.0L599.3 641.6L600.2 640.1L600.6 639.5L601.1 638.7L602.0 637.3L602.9 635.8L603.0 635.7L603.8 634.4L604.7 633.0L605.4 631.8L605.6 631.5L606.5 630.1L607.4 628.7L607.8 628.0L608.3 627.2L609.2 625.8L610.1 624.4L610.2 624.1L611.0 622.9L611.8 621.5L612.6 620.2L612.7 620.1L613.6 618.6L614.5 617.2L615.0 616.3L615.4 615.8L616.3 614.3L617.1 612.9L617.4 612.4L618.0 611.5L618.9 610.0L619.8 608.6L619.9 608.4L620.6 607.2L621.5 605.7L622.3 604.5L622.4 604.3L623.2 602.9L624.1 601.4L624.7 600.5L625.0 600.0L625.8 598.6L626.7 597.1L627.1 596.5L627.6 595.7L628.4 594.3L629.3 592.8L629.5 592.5L630.1 591.4L631.0 590.0L631.9 588.5L631.9 588.5L632.7 587.1L633.6 585.7L634.3 584.4L634.4 584.2L635.3 582.8L636.1 581.3L636.7 580.4L637.0 579.9L637.8 578.5L638.7 577.0L639.1 576.3L639.5 575.6L640.4 574.2L641.2 572.7L641.5 572.2L642.1 571.3L642.9 569.9L643.7 568.4L643.9 568.1L644.6 567.0L645.4 565.6L646.3 564.1L646.3 564.0L647.1 562.7L647.9 561.3L648.8 559.9L648.8 559.8L649.6 558.4L650.5 557.0L651.2 555.8L651.3 555.5L652.1 554.1L653.0 552.7L653.6 551.6L653.8 551.2L654.6 549.8L655.4 548.4L656.0 547.5L656.3 546.9L657.1 545.5L657.9 544.1L658.4 543.3L658.8 542.6L659.6 541.2L660.4 539.8L660.8 539.1L661.2 538.3L662.1 536.9L662.9 535.5L663.2 534.9L663.7 534.0L664.5 532.6L665.4 531.2L665.6 530.7L666.2 529.7L667.0 528.3L667.8 526.9L668.0 526.5L668.6 525.4L669.5 524.0L670.3 522.6L670.4 522.3L671.1 521.1L671.9 519.7L672.7 518.3L672.8 518.0L673.5 516.8L674.3 515.4L675.2 514.0L675.3 513.8L676.0 512.5L676.8 511.1L677.6 509.7L677.7 509.6L678.4 508.2L679.2 506.8L680.0 505.4L680.1 505.3L680.8 503.9L681.6 502.5L682.4 501.1L682.5 501.0L683.3 499.6L684.1 498.2L684.9 496.8L684.9 496.7L685.7 495.3L686.5 493.9L687.3 492.5L687.3 492.4L688.1 491.0L688.9 489.6L689.7 488.2L689.7 488.1L690.5 486.7L691.3 485.3L692.1 483.9L692.1 483.8L692.9 482.4L693.7 481.0L694.5 479.6L694.5 479.5L695.3 478.1L696.1 476.7L696.9 475.3L696.9 475.2L697.7 473.8L698.5 472.4L699.3 471.0L699.3 470.8L700.1 469.5L700.9 468.1L701.6 466.7L701.8 466.5L702.4 465.2L703.2 463.8L704.0 462.4L704.2 462.1L704.8 460.9L705.6 459.5L706.4 458.1L706.6 457.7L707.2 456.6L708.0 455.2L708.7 453.8L709.0 453.3L709.5 452.3L710.3 450.9L711.1 449.5L711.4 448.9L711.9 448.0L712.7 446.6L713.4 445.2L713.8 444.5L714.2 443.7L715.0 442.3L715.8 440.9L716.2 440.1L716.6 439.4L717.4 438.0L718.1 436.6L718.6 435.7L718.9 435.1L719.7 433.7L720.5 432.3L721.0 431.2L721.2 430.8L722.0 429.4L722.8 428.0L723.4 426.8L723.6 426.5L724.3 425.1L725.1 423.7L725.8 422.3L725.9 422.2L726.6 420.8L727.4 419.4L728.2 417.9L728.2 417.8L728.9 416.5L729.7 415.1L730.5 413.6L730.7 413.3L731.2 412.2L732.0 410.8L732.8 409.3L733.1 408.8L733.5 407.9L734.3 406.5L735.1 405.0L735.5 404.3L735.8 403.6L736.6 402.2L737.4 400.7L737.9 399.7L738.1 399.3L738.9 397.9L739.6 396.4L740.3 395.2L740.4 395.0L741.1 393.6L741.9 392.1L742.7 390.7L742.7 390.6L743.4 389.3L744.2 387.8L744.9 386.4L745.1 386.0L745.7 385.0L746.4 383.5L747.2 382.1L747.5 381.4L747.9 380.7L748.7 379.2L749.4 377.8L749.9 376.8L750.2 376.4L750.9 374.9L751.7 373.5L752.3 372.2L752.4 372.1L753.2 370.6L753.9 369.2L754.7 367.8M790.6 297.5L790.9 296.9L791.3 296.1L792.0 294.7L792.7 293.2L793.3 292.1L793.5 291.8L794.2 290.4L794.9 288.9L795.6 287.5L795.7 287.4L796.3 286.1L797.1 284.6L797.8 283.2L798.1 282.6L798.5 281.8L799.2 280.3L800.0 278.9L800.5 277.8L800.7 277.5L801.4 276.0L802.1 274.6L802.8 273.2L802.9 273.0L803.5 271.7L804.3 270.3L805.0 268.9L805.3 268.2L805.7 267.4L806.4 266.0L807.1 264.6L807.7 263.4L807.9 263.1L808.6 261.7L809.3 260.3L810.0 258.8L810.1 258.6L810.7 257.4L811.5 256.0L812.2 254.5L812.6 253.8L812.9 253.1L813.6 251.7L814.3 250.2L815.0 248.9L815.0 248.8L815.8 247.3L816.5 245.9L817.2 244.5L817.4 244.1L817.9 243.0L818.6 241.6L819.4 240.2L819.8 239.3L820.1 238.7L820.8 237.3L821.5 235.9L822.2 234.5L822.2 234.4L822.9 233.0L823.7 231.6L824.4 230.1L824.6 229.7L825.1 228.7L825.8 227.3L826.5 225.8L827.0 224.9L827.3 224.4L828.0 223.0L828.7 221.5L829.4 220.1L829.4 220.1L830.1 218.7L830.9 217.2L831.6 215.8L831.8 215.3L832.3 214.4L833.0 212.9L833.7 211.5L834.2 210.5L834.5 210.1L835.2 208.6L835.9 207.2L836.6 205.8L836.6 205.7L837.3 204.3L838.1 202.9L838.8 201.5L839.1 201.0L839.5 200.0L840.2 198.6L841.0 197.2L841.5 196.2L841.7 195.7L842.4 194.3L843.1 192.9L843.9 191.4L843.9 191.4L844.6 190.0L845.3 188.6L846.0 187.1L846.3 186.6L846.8 185.7L847.5 184.3L848.2 182.8L848.7 181.9L848.9 181.4L849.7 180.0L850.4 178.5L851.1 177.1L851.1 177.1L851.8 175.7L852.6 174.2L853.3 172.8L853.5 172.4L854.0 171.4L854.8 169.9L855.5 168.5L855.9 167.7L856.2 167.1L856.9 165.6L857.7 164.2L858.3 162.9L858.4 162.8L859.1 161.3L859.9 159.9L860.6 158.5L860.7 158.2L861.3 157.0L862.1 155.6L862.8 154.2L863.1 153.5L863.5 152.7L864.3 151.3L865.0 149.9L865.6 148.8L865.7 148.4L866.5 147.0L867.2 145.6L868.0 144.1L868.0 144.1L868.7 142.7L869.4 141.3L870.2 139.8L870.4 139.5L870.9 138.4L871.6 137.0L872.4 135.5L872.8 134.8L873.1 134.1L873.9 132.7L874.6 131.2L875.2 130.1L875.4 129.8L876.1 128.4L876.8 126.9L877.6 125.5L877.6 125.5L878.3 124.1L879.1 122.6L879.8 121.2L880.0 120.8L880.6 119.8L881.3 118.3L882.1 116.9L882.4 116.2L882.8 115.5L883.6 114.0L884.3 112.6L884.8 111.6L885.1 111.2L885.8 109.7L886.6 108.3L887.2 107.0L887.3 106.9L888.1 105.4L888.8 104.0L889.6 102.6L889.6 102.4L890.3 101.1L891.1 99.7L891.8 98.3L892.0 97.8L892.6 96.8L893.3 95.4L894.1 94.0L894.5 93.3L894.8 92.5L895.6 91.1L896.4 89.7L896.9 88.7L897.1 88.2L897.9 86.8L898.6 85.4L899.3 84.2L899.4 83.9L900.2 82.5" stroke="#08bcbf"/><path d="M114.0 1053.3L114.9 1053.0L116.4 1052.3L118.3 1051.5L118.8 1051.3L121.2 1050.3L121.8 1050.1L123.6 1049.4L125.5 1048.7L126.0 1048.4L128.5 1047.5L129.3 1047.2L130.9 1046.7L133.3 1045.8L133.3 1045.8L135.7 1044.9L137.4 1044.4L138.1 1044.1L140.5 1043.3L141.6 1042.9L142.9 1042.5L145.3 1041.7L146.0 1041.5L147.7 1041.0L150.1 1040.2L150.6 1040.1L152.5 1039.4L154.9 1038.7L155.2 1038.6L157.4 1038.0L159.8 1037.3L160.0 1037.2L162.2 1036.5L164.6 1035.8L164.8 1035.8L167.0 1035.1L169.4 1034.4L169.6 1034.3L171.8 1033.7L174.2 1033.0L174.4 1032.9L176.6 1032.2L179.0 1031.5L179.2 1031.5L181.4 1030.8L183.9 1030.1L184.0 1030.0L186.3 1029.3L188.7 1028.6L188.7 1028.6L191.1 1027.9L193.3 1027.2L193.5 1027.1L195.9 1026.4L197.9 1025.7L198.3 1025.6L200.7 1024.8L202.3 1024.3L203.1 1024.0L205.5 1023.2L206.6 1022.9L207.9 1022.4L210.4 1021.6L210.8 1021.4L212.8 1020.8L214.9 1020.0L215.2 1019.9L217.6 1019.0L218.9 1018.6L220.0 1018.2L222.4 1017.3L222.8 1017.1M294.7 983.4L295.8 982.7L297.1 982.0L298.3 981.3L299.5 980.6L300.8 979.9L301.9 979.2L303.3 978.4L304.3 977.9L305.8 977.0L306.7 976.4L308.2 975.6L309.1 975.0L310.7 974.1L311.5 973.6L313.1 972.7L313.9 972.2L315.5 971.3L316.3 970.8L317.9 969.8L318.7 969.3L320.3 968.4L321.2 967.9L322.7 967.0L323.6 966.4L325.0 965.5L326.0 965.0L327.4 964.1L328.4 963.5L329.8 962.7L330.8 962.0L332.1 961.2L333.2 960.6L334.5 959.8L335.6 959.1L336.8 958.4L338.0 957.6L339.2 956.9L340.4 956.1L341.5 955.5L342.8 954.7L343.8 954.1L345.2 953.2L346.2 952.6L347.7 951.7L348.5 951.2L350.1 950.2L350.8 949.8L352.5 948.7L353.1 948.3L354.9 947.2L355.3 946.9L357.3 945.7L357.6 945.5L359.7 944.1L359.9 944.0L362.1 942.6L362.1 942.6L364.4 941.2L364.5 941.1L366.6 939.7L366.9 939.5L368.8 938.3L369.3 938.0L371.0 936.9L371.7 936.4L373.2 935.4L374.2 934.8L375.4 934.0L376.6 933.2L377.6 932.6L379.0 931.6L379.7 931.1L381.4 930.0L381.9 929.7L383.8 928.4L384.0 928.3L386.1 926.8L386.2 926.8L388.2 925.4L388.6 925.1L390.3 924.0L391.0 923.4L392.3 922.5L393.4 921.8L394.4 921.1L395.8 920.1L396.4 919.7L398.2 918.3L398.4 918.2L400.4 916.8L400.6 916.6L402.4 915.3L403.1 914.9L404.4 913.9L405.5 913.1L406.3 912.5L407.9 911.3L408.2 911.0L410.2 909.6L410.3 909.5L412.1 908.2L412.7 907.7L413.9 906.7L415.1 905.9L415.8 905.3L417.5 904.0L417.7 903.9L419.5 902.4L419.9 902.1L421.3 901.0L422.3 900.2L423.1 899.6L424.7 898.3L424.9 898.1L426.7 896.7L427.1 896.3L428.4 895.3L429.6 894.4L430.2 893.8L431.9 892.4L432.0 892.4L433.7 891.0L434.4 890.4L435.4 889.5L436.8 888.4L437.1 888.1L438.8 886.7L439.2 886.3L440.4 885.2L441.6 884.3L442.1 883.8L443.8 882.4L444.0 882.2L445.4 880.9L446.4 880.1L447.0 879.5L448.7 878.1L448.8 877.9L450.3 876.6L451.2 875.8L451.9 875.2L453.5 873.8L453.6 873.6L455.1 872.3L456.1 871.4L456.6 870.9L458.2 869.5L458.5 869.2L459.8 868.0L460.9 867.0L461.3 866.6L462.8 865.2L463.3 864.8L464.4 863.7L465.7 862.5L465.9 862.3L467.4 860.9L468.1 860.2L468.9 859.4L470.4 858.0L470.5 857.9L471.9 856.6L472.9 855.6L473.4 855.1L474.9 853.7L475.3 853.3L476.3 852.3L477.7 850.9L477.8 850.8L479.3 849.4L480.1 848.5L480.7 848.0L482.2 846.5L482.5 846.1L483.6 845.1L485.0 843.7L485.0 843.7L486.4 842.2L487.4 841.3L487.9 840.8L489.3 839.4L489.8 838.9L490.7 837.9L492.1 836.5L492.2 836.4L493.5 835.1L494.6 833.9L494.9 833.6L496.3 832.2L497.0 831.5L497.7 830.8L499.0 829.3L499.4 829.0L500.4 827.9L501.8 826.5L501.8 826.4L503.2 825.0L504.2 823.9L504.5 823.6L505.9 822.2L506.6 821.4L507.2 820.7L508.6 819.3L509.0 818.8L509.9 817.9L511.3 816.4L511.5 816.2L512.6 815.0L513.9 813.6L513.9 813.6L515.3 812.1L516.3 811.0L516.6 810.7L517.9 809.3L518.7 808.4L519.2 807.8L520.5 806.4L521.1 805.8L521.8 805.0L523.1 803.5L523.5 803.1L524.4 802.1L525.7 800.7L525.9 800.5L527.0 799.2L528.3 797.8L528.3 797.8L529.6 796.4L530.7 795.1L530.9 794.9L532.2 793.5L533.1 792.4L533.4 792.1L534.7 790.6L535.5 789.7L536.0 789.2L537.2 787.8L538.0 786.9L538.5 786.3L539.7 784.9L540.4 784.2L541.0 783.5L542.2 782.0L542.8 781.4L543.5 780.6L544.7 779.2L545.2 778.6L545.9 777.7L547.1 776.3L547.6 775.8L548.4 774.9L549.6 773.4L550.0 773.0L550.8 772.0L552.0 770.6L552.4 770.1L553.2 769.1L554.4 767.7L554.8 767.3L555.6 766.3L556.8 764.8L557.2 764.4L558.0 763.4L559.2 762.0L559.6 761.5L560.4 760.5L561.6 759.1L562.0 758.5L562.8 757.7L563.9 756.2L564.4 755.6M612.2 693.2L612.6 692.6L613.2 691.7L614.3 690.3L615.0 689.2L615.3 688.9L616.3 687.4L617.3 686.0L617.4 685.8L618.3 684.6L619.4 683.1L619.9 682.4L620.4 681.7L621.4 680.3L622.3 679.0L622.4 678.8L623.4 677.4L624.4 676.0L624.7 675.5L625.4 674.5L626.4 673.1L627.1 672.0L627.3 671.7L628.3 670.2L629.3 668.8L629.5 668.6L630.3 667.4L631.3 665.9L631.9 665.0L632.3 664.5L633.2 663.1L634.2 661.6L634.3 661.5L635.2 660.2L636.2 658.8L636.7 658.0L637.1 657.3L638.1 655.9L639.1 654.5L639.1 654.4L640.0 653.0L641.0 651.6L641.5 650.8L642.0 650.2L642.9 648.7L643.9 647.3L643.9 647.2L644.8 645.9L645.8 644.4L646.3 643.6L646.7 643.0L647.7 641.6L648.6 640.1L648.8 639.9L649.6 638.7L650.5 637.3L651.2 636.3L651.5 635.8L652.4 634.4L653.3 633.0L653.6 632.6L654.3 631.5L655.2 630.1L656.0 628.9L656.1 628.7L657.1 627.2L658.0 625.8L658.4 625.2L658.9 624.4L659.9 622.9L660.8 621.5L660.8 621.5L661.7 620.1L662.6 618.6L663.2 617.7L663.6 617.2L664.5 615.8L665.4 614.3L665.6 614.0L666.3 612.9L667.3 611.5L668.0 610.2L668.2 610.0L669.1 608.6L670.0 607.2L670.4 606.5L670.9 605.7L671.8 604.3L672.7 602.9L672.8 602.7L673.6 601.4L674.6 600.0L675.3 598.9L675.5 598.6L676.4 597.1L677.3 595.7L677.7 595.1L678.2 594.3L679.1 592.8L680.0 591.4L680.1 591.2L680.9 590.0L681.8 588.5L682.5 587.4L682.7 587.1L683.6 585.7L684.5 584.2L684.9 583.6L685.4 582.8L686.3 581.3L687.2 579.9L687.3 579.7L688.1 578.5L688.9 577.0L689.7 575.8L689.8 575.6L690.7 574.2L691.6 572.7L692.1 571.9L692.5 571.3L693.4 569.9L694.3 568.4L694.5 568.1L695.2 567.0L696.1 565.6L696.9 564.1L696.9 564.1L697.8 562.7L698.7 561.3L699.3 560.2L699.6 559.8L700.5 558.4L701.3 557.0L701.8 556.3L702.2 555.5L703.1 554.1L704.0 552.7L704.2 552.4L704.8 551.2L705.7 549.8L706.6 548.4L706.6 548.4L707.5 546.9L708.3 545.5L709.0 544.5L709.2 544.1L710.1 542.6L711.0 541.2L711.4 540.5L711.8 539.8L712.7 538.3L713.6 536.9L713.8 536.5L714.4 535.5L715.3 534.0L716.2 532.6L716.2 532.5L717.0 531.2L717.9 529.7L718.6 528.5L718.7 528.3L719.6 526.9L720.5 525.4L721.0 524.5L721.3 524.0L722.2 522.6L723.0 521.1L723.4 520.5L723.9 519.7L724.8 518.3L725.6 516.8L725.8 516.5L726.5 515.4L727.3 514.0L728.2 512.5L728.2 512.4L729.0 511.1L729.9 509.7L730.7 508.4L730.7 508.2L731.6 506.8L732.4 505.4L733.1 504.3L733.3 503.9L734.1 502.5L735.0 501.1L735.5 500.2L735.8 499.6L736.7 498.2L737.5 496.8L737.9 496.1L738.3 495.3L739.2 493.9L740.0 492.5L740.3 492.0L740.9 491.0L741.7 489.6L742.5 488.2L742.7 487.9L743.4 486.7L744.2 485.3L745.0 483.9L745.1 483.8L745.9 482.4L746.7 481.0L747.5 479.6L747.5 479.6L748.4 478.1L749.2 476.7L749.9 475.5L750.0 475.3L750.9 473.8L751.7 472.4L752.3 471.3L752.5 471.0L753.4 469.5L754.2 468.1L754.7 467.1L755.0 466.7L755.8 465.2L756.7 463.8L757.2 462.9L757.5 462.4L758.3 460.9L759.1 459.5L759.6 458.7L759.9 458.1L760.8 456.6L761.6 455.2L762.0 454.5L762.4 453.8L763.2 452.3L764.0 450.9L764.4 450.3L764.8 449.5L765.7 448.0L766.5 446.6L766.8 446.0L767.3 445.2L768.1 443.7L768.9 442.3L769.2 441.8L769.7 440.9L770.5 439.4L771.3 438.0L771.6 437.5L772.1 436.6L772.9 435.1L773.7 433.7L774.0 433.2L774.5 432.3L775.3 430.8L776.1 429.4L776.4 428.9L776.9 428.0L777.7 426.5L778.5 425.1L778.8 424.6L779.3 423.7L780.1 422.2L780.9 420.8L781.2 420.2L781.7 419.4L782.5 417.9L783.3 416.5L783.7 415.9L784.1 415.1L784.9 413.6L785.7 412.2L786.1 411.5L786.5 410.8L787.3 409.3L788.1 407.9L788.5 407.2L788.9 406.5L789.6 405.0L790.4 403.6L790.9 402.8L791.2 402.2L792.0 400.7L792.8 399.3L793.3 398.4L793.6 397.9M830.5 329.1L831.2 327.6L831.8 326.5L832.0 326.2L832.7 324.8L833.5 323.3L834.2 321.9L834.3 321.9L835.0 320.5L835.8 319.0L836.5 317.6L836.6 317.4L837.3 316.2L838.0 314.7L838.8 313.3L839.1 312.8L839.5 311.9L840.3 310.4L841.0 309.0L841.5 308.2L841.8 307.6L842.6 306.1L843.3 304.7L843.9 303.6L844.1 303.3L844.8 301.8L845.6 300.4L846.3 299.0L846.3 299.0L847.1 297.5L847.8 296.1L848.6 294.7L848.7 294.4L849.3 293.2L850.1 291.8L850.8 290.4L851.1 289.8L851.6 288.9L852.3 287.5L853.1 286.1L853.5 285.3L853.8 284.6L854.6 283.2L855.3 281.8L855.9 280.7L856.1 280.3L856.8 278.9L857.6 277.5L858.3 276.1L858.3 276.0L859.1 274.6L859.9 273.2L860.6 271.7L860.7 271.5L861.4 270.3L862.1 268.9L862.9 267.4L863.1 266.9L863.6 266.0L864.4 264.6L865.1 263.1L865.6 262.3L865.9 261.7L866.6 260.3L867.4 258.8L868.0 257.7L868.1 257.4L868.9 256.0L869.6 254.5L870.4 253.1L870.4 253.1L871.1 251.7L871.9 250.2L872.6 248.8L872.8 248.5L873.4 247.3L874.2 245.9L874.9 244.5L875.2 243.9L875.7 243.0L876.4 241.6L877.2 240.2L877.6 239.4L877.9 238.7L878.7 237.3L879.4 235.9L880.0 234.8L880.2 234.4L880.9 233.0L881.7 231.6L882.4 230.2L882.5 230.1L883.2 228.7L884.0 227.3L884.7 225.8L884.8 225.7L885.5 224.4L886.2 223.0L887.0 221.5L887.2 221.1L887.8 220.1L888.5 218.7L889.3 217.2L889.6 216.5L890.0 215.8L890.8 214.4L891.5 212.9L892.0 212.0L892.3 211.5L893.1 210.1L893.8 208.6L894.5 207.5L894.6 207.2L895.3 205.8L896.1 204.3L896.9 202.9L896.9 202.9L897.6 201.5L898.4 200.0L899.2 198.6L899.3 198.4L899.9 197.2L900.7 195.7L901.4 194.3L901.7 193.9L902.2 192.9L903.0 191.4L903.7 190.0L904.1 189.4L904.5 188.6L905.3 187.1L906.0 185.7L906.5 184.8L906.8 184.3L907.6 182.8L908.3 181.4L908.9 180.3L909.1 180.0L909.9 178.5L910.6 177.1L911.3 175.9L911.4 175.7L912.2 174.2L913.0 172.8L913.7 171.4L913.7 171.4L914.5 169.9L915.3 168.5L916.0 167.1L916.1 166.9L916.8 165.6L917.6 164.2L918.4 162.8L918.5 162.4L919.1 161.3L919.9 159.9L920.7 158.5L921.0 158.0L921.5 157.0L922.2 155.6L923.0 154.2L923.4 153.5L923.8 152.7L924.6 151.3L925.3 149.9L925.8 149.1L926.1 148.4L926.9 147.0L927.7 145.6L928.2 144.6L928.4 144.1L929.2 142.7L930.0 141.3L930.6 140.2L930.8 139.8L931.6 138.4L932.4 137.0L933.0 135.8L933.1 135.5L933.9 134.1L934.7 132.7L935.4 131.4L935.5 131.2L936.3 129.8L937.1 128.4L937.8 127.0L937.8 126.9L938.6 125.5L939.4 124.1L940.2 122.6L940.2 122.6L941.0 121.2L941.8 119.8L942.6 118.3L942.6 118.2L943.3 116.9L944.1 115.5L944.9 114.0L945.0 113.8L945.7 112.6L946.5 111.2L947.3 109.7L947.5 109.5L948.1 108.3L948.9 106.9L949.7 105.4L949.9 105.1L950.5 104.0L951.3 102.6L952.1 101.1L952.3 100.7L952.8 99.7L953.6 98.3L954.4 96.8L954.7 96.4L955.2 95.4L956.0 94.0L956.8 92.5L957.1 92.1L957.6 91.1L958.4 89.7L959.2 88.2L959.5 87.7L960.0 86.8L960.8 85.4L961.6 83.9L961.9 83.4L962.4 82.5" stroke="#1dc0b3"/><path d="M114.0 1062.4L116.4 1061.6L116.4 1061.6L118.8 1060.7L120.3 1060.1L121.2 1059.8L123.6 1058.9L124.2 1058.7L126.0 1058.0L128.3 1057.3L128.5 1057.2L130.9 1056.4L132.5 1055.8L133.3 1055.6L135.7 1054.8L136.8 1054.4L138.1 1054.0L140.5 1053.2L141.2 1053.0L142.9 1052.4L145.3 1051.7L145.8 1051.5L147.7 1050.9L150.1 1050.2L150.5 1050.1L152.5 1049.5L154.9 1048.8L155.3 1048.7L157.4 1048.1L159.8 1047.4L160.3 1047.2L162.2 1046.7L164.6 1046.0L165.4 1045.8L167.0 1045.4L169.4 1044.7L170.6 1044.4L171.8 1044.0L174.2 1043.4L175.9 1042.9L176.6 1042.7L179.0 1042.1L181.3 1041.5L181.4 1041.5L183.9 1040.8L186.3 1040.2L186.7 1040.1L188.7 1039.5L191.1 1038.9L192.1 1038.6L193.5 1038.3L195.9 1037.6L197.5 1037.2L198.3 1037.0L200.7 1036.3L202.8 1035.8L203.1 1035.7L205.5 1035.0L207.9 1034.3L208.0 1034.3L210.4 1033.7L212.8 1033.0L213.1 1032.9L215.2 1032.3L217.6 1031.6L218.1 1031.5L220.0 1030.9L222.4 1030.2L222.9 1030.0L224.8 1029.4L227.2 1028.7L227.6 1028.6L229.6 1028.0L232.0 1027.2L232.1 1027.2L234.4 1026.4M292.3 1003.5L293.8 1002.8L294.7 1002.4L296.8 1001.4L297.1 1001.2L299.5 1000.1L299.8 999.9L301.9 998.9L302.7 998.5L304.3 997.7L305.6 997.1L306.7 996.5L308.4 995.6L309.1 995.3L311.2 994.2L311.5 994.0L313.9 992.8L314.0 992.8L316.3 991.5L316.8 991.3L318.7 990.3L319.5 989.9L321.2 989.0L322.2 988.5L323.6 987.7L324.8 987.0L326.0 986.4L327.5 985.6L328.4 985.1L330.1 984.2L330.8 983.8L332.7 982.7L333.2 982.4L335.3 981.3L335.6 981.1L337.9 979.9L338.0 979.8L340.4 978.4L340.4 978.4L342.8 977.1L343.0 977.0L345.2 975.7L345.5 975.6L347.7 974.3L348.0 974.1L350.1 973.0L350.5 972.7L352.5 971.6L353.1 971.3L354.9 970.2L355.6 969.8L357.3 968.8L358.0 968.4L359.7 967.4L360.5 967.0L362.1 966.0L363.0 965.5L364.5 964.7L365.5 964.1L366.9 963.3L368.0 962.7L369.3 961.9L370.5 961.2L371.7 960.5L372.9 959.8L374.2 959.1L375.4 958.4L376.6 957.7L377.9 956.9L379.0 956.3L380.3 955.5L381.4 954.9L382.8 954.1L383.8 953.5L385.2 952.6L386.2 952.0L387.6 951.2L388.6 950.6L390.1 949.8L391.0 949.2L392.5 948.3L393.4 947.8L394.9 946.9L395.8 946.3L397.3 945.5L398.2 944.9L399.7 944.0L400.6 943.4L402.0 942.6L403.1 942.0L404.4 941.2L405.5 940.5L406.8 939.7L407.9 939.0L409.1 938.3L410.3 937.6L411.4 936.9L412.7 936.1L413.7 935.4L415.1 934.6L416.0 934.0L417.5 933.1L418.3 932.6L419.9 931.5L420.6 931.1L422.3 930.0L422.8 929.7L424.7 928.5L425.1 928.3L427.1 926.9L427.3 926.8L429.5 925.4L429.6 925.3L431.7 924.0L432.0 923.8L433.9 922.5L434.4 922.2L436.0 921.1L436.8 920.6L438.2 919.7L439.2 919.0L440.3 918.2L441.6 917.3L442.4 916.8L444.0 915.7L444.5 915.3L446.4 914.0L446.5 913.9L448.6 912.5L448.8 912.3L450.6 911.0L451.2 910.6L452.7 909.6L453.6 908.9L454.6 908.2L456.1 907.2L456.6 906.7L458.5 905.4L458.6 905.3L460.5 903.9L460.9 903.6L462.5 902.4L463.3 901.8L464.4 901.0L465.7 900.0L466.3 899.6L468.1 898.2L468.1 898.1L470.0 896.7L470.5 896.3L471.8 895.3L472.9 894.4L473.7 893.8L475.3 892.5L475.5 892.4L477.3 891.0L477.7 890.6L479.1 889.5L480.1 888.7L480.8 888.1L482.5 886.7L482.6 886.7L484.3 885.2L485.0 884.7L486.1 883.8L487.4 882.7L487.8 882.4L489.5 880.9L489.8 880.7L491.2 879.5L492.2 878.7L492.9 878.1L494.6 876.6L494.6 876.6L496.2 875.2L497.0 874.5L497.9 873.8L499.4 872.4L499.5 872.3L501.1 870.9L501.8 870.3L502.8 869.5L504.2 868.2L504.4 868.0L506.0 866.6L506.6 866.0L507.6 865.2L509.0 863.8L509.2 863.7L510.7 862.3L511.5 861.7L512.3 860.9L513.9 859.4L513.9 859.4L515.4 858.0L516.3 857.2L517.0 856.6L518.5 855.1L518.7 855.0L520.0 853.7L521.1 852.7L521.5 852.3L523.0 850.8L523.5 850.4L524.6 849.4L525.9 848.1L526.1 848.0L527.5 846.5L528.3 845.8L529.0 845.1L530.5 843.7L530.7 843.5L532.0 842.2L533.1 841.1L533.4 840.8L534.9 839.4L535.5 838.7L536.4 837.9L537.8 836.5L538.0 836.4L539.2 835.1L540.4 834.0L540.7 833.6L542.1 832.2L542.8 831.5L543.5 830.8L545.0 829.3L545.2 829.1L546.4 827.9L547.6 826.7L547.8 826.5L549.2 825.0L550.0 824.2L550.6 823.6L552.0 822.2L552.4 821.7L553.4 820.7L554.8 819.3L554.8 819.3L556.2 817.9L557.2 816.8L557.5 816.4L558.9 815.0L559.6 814.2L560.3 813.6L561.6 812.1L562.0 811.7L563.0 810.7L564.4 809.3L564.4 809.2L565.7 807.8L566.9 806.6L567.1 806.4L568.4 805.0L569.3 804.1L569.8 803.5L571.1 802.1L571.7 801.5L572.4 800.7L573.7 799.2L574.1 798.9L575.1 797.8L576.4 796.4L576.5 796.3L577.7 794.9L578.9 793.6L579.0 793.5L580.3 792.1L581.3 791.0L581.6 790.6L582.9 789.2L583.7 788.3L584.2 787.8L585.5 786.3L586.1 785.7L586.8 784.9M628.3 736.2L629.4 734.7L629.5 734.7L630.6 733.3L631.7 731.9L631.9 731.7L632.9 730.4L634.0 729.0L634.3 728.6L635.2 727.6L636.3 726.1L636.7 725.6L637.4 724.7L638.6 723.3L639.1 722.5L639.7 721.8L640.8 720.4L641.5 719.5L641.9 719.0L643.1 717.5L643.9 716.4L644.2 716.1L645.3 714.7L646.3 713.3L646.4 713.2L647.5 711.8L648.6 710.4L648.8 710.1L649.7 708.9L650.8 707.5L651.2 707.0L651.9 706.1L653.0 704.6L653.6 703.8L654.1 703.2L655.2 701.8L656.0 700.7L656.2 700.3L657.3 698.9L658.4 697.5L658.4 697.5L659.5 696.0L660.5 694.6L660.8 694.2L661.6 693.2L662.7 691.7L663.2 691.0L663.7 690.3L664.8 688.9L665.6 687.8L665.9 687.4L666.9 686.0L668.0 684.6L668.0 684.5L669.0 683.1L670.1 681.7L670.4 681.2L671.1 680.3L672.2 678.8L672.8 677.9L673.2 677.4L674.3 676.0L675.3 674.6L675.3 674.5L676.3 673.1L677.4 671.7L677.7 671.3L678.4 670.2L679.4 668.8L680.1 667.9L680.5 667.4L681.5 665.9L682.5 664.5L682.5 664.5L683.5 663.1L684.6 661.6L684.9 661.2L685.6 660.2L686.6 658.8L687.3 657.8L687.6 657.3L688.6 655.9L689.6 654.5L689.7 654.4L690.6 653.0L691.7 651.6L692.1 650.9L692.7 650.2L693.7 648.7L694.5 647.5L694.7 647.3L695.7 645.9L696.7 644.4L696.9 644.0L697.7 643.0L698.7 641.6L699.3 640.6L699.7 640.1L700.7 638.7L701.6 637.3L701.8 637.1L702.6 635.8L703.6 634.4L704.2 633.6L704.6 633.0L705.6 631.5L706.6 630.1L706.6 630.1L707.6 628.7L708.5 627.2L709.0 626.6L709.5 625.8L710.5 624.4L711.4 623.1L711.5 622.9L712.5 621.5L713.4 620.1L713.8 619.5L714.4 618.6L715.4 617.2L716.2 616.0L716.3 615.8L717.3 614.3L718.3 612.9L718.6 612.4L719.3 611.5L720.2 610.0L721.0 608.8L721.2 608.6L722.1 607.2L723.1 605.7L723.4 605.2L724.1 604.3L725.0 602.9L725.8 601.6L726.0 601.4L726.9 600.0L727.9 598.6L728.2 598.0L728.9 597.1L729.8 595.7L730.7 594.4L730.8 594.3L731.7 592.8L732.7 591.4L733.1 590.8L733.6 590.0L734.6 588.5L735.5 587.1L735.5 587.1L736.4 585.7L737.4 584.2L737.9 583.5L738.3 582.8L739.3 581.3L740.2 579.9L740.3 579.8L741.2 578.5L742.1 577.0L742.7 576.1L743.0 575.6L744.0 574.2L744.9 572.7L745.1 572.4L745.8 571.3L746.8 569.9L747.5 568.7L747.7 568.4L748.6 567.0L749.6 565.6L749.9 565.0L750.5 564.1L751.4 562.7L752.3 561.3L752.3 561.3L753.3 559.8L754.2 558.4L754.7 557.6L755.1 557.0L756.0 555.5L757.0 554.1L757.2 553.8L757.9 552.7L758.8 551.2L759.6 550.1L759.7 549.8L760.6 548.4L761.6 546.9L762.0 546.3L762.5 545.5L763.4 544.1L764.3 542.6L764.4 542.5L765.2 541.2L766.1 539.8L766.8 538.7L767.0 538.3L767.9 536.9L768.8 535.5L769.2 534.9L769.7 534.0L770.6 532.6L771.6 531.2L771.6 531.1L772.5 529.7L773.4 528.3L774.0 527.3L774.3 526.9L775.2 525.4L776.1 524.0L776.4 523.4L777.0 522.6L777.8 521.1L778.7 519.7L778.8 519.6L779.6 518.3L780.5 516.8L781.2 515.7L781.4 515.4L782.3 514.0L783.2 512.5L783.7 511.8L784.1 511.1L785.0 509.7L785.9 508.2L786.1 507.9L786.8 506.8L787.6 505.4L788.5 504.0L788.5 503.9L789.4 502.5L790.3 501.1L790.9 500.1L791.2 499.6L792.0 498.2L792.9 496.8L793.3 496.2L793.8 495.3L794.7 493.9L795.6 492.5L795.7 492.2L796.4 491.0L797.3 489.6L798.1 488.3L798.2 488.2L799.0 486.7L799.9 485.3L800.5 484.3L800.8 483.9L801.6 482.4L802.5 481.0L802.9 480.3L803.4 479.6L804.2 478.1L805.1 476.7L805.3 476.3L806.0 475.3L806.8 473.8L807.7 472.4L807.7 472.3L808.5 471.0L809.4 469.5L810.1 468.3L810.3 468.1L811.1 466.7L812.0 465.2L812.6 464.2L812.8 463.8L813.7 462.4L814.5 460.9L815.0 460.2L815.4 459.5L816.2 458.1L817.1 456.6L817.4 456.1L817.9 455.2L818.8 453.8L819.6 452.3L819.8 452.0L820.4 450.9L821.3 449.5L822.1 448.0L822.2 447.9L823.0 446.6L823.8 445.2L824.6 443.8L824.6 443.7L825.5 442.3L826.3 440.9L827.0 439.7L827.2 439.4L828.0 438.0L828.8 436.6L829.4 435.5L829.7 435.1L830.5 433.7L831.3 432.3L831.8 431.4L832.1 430.8L833.0 429.4M863.8 374.9L864.6 373.5L865.4 372.1L865.6 371.9L866.2 370.6L867.0 369.2L867.8 367.8L868.0 367.6L868.6 366.3L869.4 364.9L870.2 363.5L870.4 363.2L871.0 362.0L871.8 360.6L872.6 359.2L872.8 358.9L873.4 357.7L874.2 356.3L875.0 354.9L875.2 354.5L875.8 353.4L876.6 352.0L877.4 350.6L877.6 350.2L878.2 349.1L879.0 347.7L879.8 346.3L880.0 345.8L880.6 344.8L881.3 343.4L882.1 342.0L882.4 341.5L882.9 340.5L883.7 339.1L884.5 337.7L884.8 337.1L885.3 336.2L886.1 334.8L886.9 333.4L887.2 332.7L887.7 331.9L888.5 330.5L889.2 329.1L889.6 328.3L890.0 327.6L890.8 326.2L891.6 324.8L892.0 324.0L892.4 323.3L893.2 321.9L894.0 320.5L894.5 319.6L894.8 319.0L895.6 317.6L896.3 316.2L896.9 315.2L897.1 314.7L897.9 313.3L898.7 311.9L899.3 310.8L899.5 310.4L900.3 309.0L901.1 307.6L901.7 306.4L901.9 306.1L902.6 304.7L903.4 303.3L904.1 302.1L904.2 301.8L905.0 300.4L905.8 299.0L906.5 297.7L906.6 297.5L907.4 296.1L908.2 294.7L908.9 293.3L908.9 293.2L909.7 291.8L910.5 290.4L911.3 288.9L911.3 288.9L912.1 287.5L912.9 286.1L913.7 284.6L913.7 284.5L914.5 283.2L915.3 281.8L916.0 280.3L916.1 280.1L916.8 278.9L917.6 277.5L918.4 276.0L918.5 275.8L919.2 274.6L920.0 273.2L920.8 271.7L921.0 271.4L921.6 270.3L922.4 268.9L923.1 267.4L923.4 267.0L923.9 266.0L924.7 264.6L925.5 263.1L925.8 262.6L926.3 261.7L927.1 260.3L927.9 258.8L928.2 258.3L928.7 257.4L929.5 256.0L930.3 254.5L930.6 253.9L931.0 253.1L931.8 251.7L932.6 250.2L933.0 249.6L933.4 248.8L934.2 247.3L935.0 245.9L935.4 245.2L935.8 244.5L936.6 243.0L937.4 241.6L937.8 240.8L938.2 240.2L939.0 238.7L939.8 237.3L940.2 236.5L940.6 235.9L941.4 234.4L942.2 233.0L942.6 232.1L942.9 231.6L943.7 230.1L944.5 228.7L945.0 227.8L945.3 227.3L946.1 225.8L946.9 224.4L947.5 223.5L947.7 223.0L948.5 221.5L949.3 220.1L949.9 219.1L950.1 218.7L950.9 217.2L951.7 215.8L952.3 214.8L952.5 214.4L953.3 212.9L954.1 211.5L954.7 210.5L954.9 210.1L955.7 208.6L956.5 207.2L957.1 206.2L957.3 205.8L958.1 204.3L958.9 202.9L959.5 201.9L959.7 201.5L960.5 200.0L961.3 198.6L961.9 197.6L962.1 197.2L962.9 195.7L963.7 194.3L964.3 193.3L964.5 192.9L965.4 191.4L966.2 190.0L966.7 189.0L967.0 188.6L967.8 187.1L968.6 185.7L969.1 184.7L969.4 184.3L970.2 182.8L971.0 181.4L971.5 180.4L971.8 180.0L972.6 178.5L973.4 177.1L973.9 176.2L974.2 175.7L975.0 174.2L975.9 172.8L976.4 171.9L976.7 171.4L977.5 169.9L978.3 168.5L978.8 167.7L979.1 167.1L979.9 165.6L980.7 164.2L981.2 163.4L981.5 162.8L982.3 161.3L983.2 159.9L983.6 159.2L984.0 158.5L984.8 157.0L985.6 155.6L986.0 154.9L986.4 154.2L987.2 152.7L988.0 151.3L988.4 150.7L988.9 149.9L989.7 148.4L990.5 147.0L990.8 146.5L991.3 145.6L992.1 144.1L993.0 142.7L993.2 142.2L993.8 141.3L994.6 139.8L995.4 138.4L995.6 138.0L996.2 137.0L997.1 135.5L997.9 134.1L998.0 133.8L998.7 132.7L999.5 131.2L1000.3 129.8L1000.4 129.6L1001.2 128.4L1002.0 126.9L1002.8 125.5L1002.9 125.4L1003.6 124.1L1004.5 122.6L1005.3 121.2L1005.3 121.2L1006.1 119.8L1006.9 118.3L1007.7 117.1L1007.8 116.9L1008.6 115.5L1009.4 114.0L1010.1 112.9L1010.2 112.6L1011.1 111.2L1011.9 109.7L1012.5 108.7L1012.7 108.3L1013.6 106.9L1014.4 105.4L1014.9 104.5L1015.2 104.0L1016.0 102.6L1016.9 101.1L1017.3 100.4L1017.7 99.7L1018.5 98.3L1019.4 96.8L1019.7 96.2L1020.2 95.4L1021.0 94.0L1021.9 92.5L1022.1 92.1L1022.7 91.1L1023.5 89.7L1024.4 88.2L1024.5 87.9L1025.2 86.8L1026.0 85.4L1026.9 83.9L1026.9 83.8L1027.7 82.5" stroke="#2cc4a7"/><path d="M114.0 1070.2L114.0 1070.2L116.4 1069.4L118.7 1068.7L118.8 1068.7L121.2 1068.0L123.3 1067.3L123.6 1067.2L126.0 1066.5L127.9 1065.9L128.5 1065.7L130.9 1065.0L132.6 1064.4L133.3 1064.2L135.7 1063.5L137.3 1063.0L138.1 1062.8L140.5 1062.0L142.1 1061.6L142.9 1061.3L145.3 1060.6L147.2 1060.1L147.7 1060.0L150.1 1059.3L152.3 1058.7L152.5 1058.6L154.9 1058.0L157.4 1057.4L157.7 1057.3L159.8 1056.7L162.2 1056.1L163.2 1055.8L164.6 1055.5L167.0 1054.9L168.9 1054.4L169.4 1054.3L171.8 1053.7L174.2 1053.1L174.7 1053.0L176.6 1052.5L179.0 1051.9L180.6 1051.5L181.4 1051.3L183.9 1050.7L186.3 1050.2L186.5 1050.1L188.7 1049.6L191.1 1049.0L192.5 1048.7L193.5 1048.4L195.9 1047.9L198.3 1047.3L198.5 1047.2L200.7 1046.7L203.1 1046.1L204.5 1045.8L205.5 1045.5L207.9 1045.0L210.4 1044.4L210.4 1044.4L212.8 1043.8L215.2 1043.2L216.3 1042.9L217.6 1042.6L220.0 1042.0L222.0 1041.5L222.4 1041.4L224.8 1040.8L227.2 1040.2L227.6 1040.1L229.6 1039.5L232.0 1038.9L233.1 1038.6L234.4 1038.3L236.8 1037.6L238.5 1037.2L239.3 1037.0L241.7 1036.3L243.7 1035.8L244.1 1035.6L246.5 1035.0L248.7 1034.3L248.9 1034.3L251.3 1033.6L253.6 1032.9L253.7 1032.9L256.1 1032.1L258.3 1031.5L258.5 1031.4L260.9 1030.7L262.9 1030.0L263.3 1029.9L265.8 1029.1L267.4 1028.6L268.2 1028.3L270.6 1027.5L271.7 1027.2L273.0 1026.7L275.4 1025.9L275.9 1025.7L277.8 1025.1L279.9 1024.3L280.2 1024.2L282.6 1023.3L283.9 1022.9L285.0 1022.4L287.4 1021.5L287.8 1021.4L289.8 1020.6L291.5 1020.0L292.3 1019.7L294.7 1018.8L295.2 1018.6L297.1 1017.8L298.8 1017.1L299.5 1016.8L301.9 1015.9L302.3 1015.7L304.3 1014.9L305.8 1014.3L306.7 1013.9L309.1 1012.8L309.2 1012.8L311.5 1011.8L312.5 1011.4L313.9 1010.8L315.8 1010.0L316.3 1009.7L318.7 1008.7L319.0 1008.5L321.2 1007.6L322.2 1007.1L323.6 1006.5L325.4 1005.7L326.0 1005.4L328.4 1004.3L328.5 1004.2L330.8 1003.2L331.6 1002.8L333.2 1002.0L334.7 1001.4L335.6 1000.9L337.7 999.9L338.0 999.8L340.4 998.6L340.6 998.5L342.8 997.4L343.6 997.1L345.2 996.2L346.5 995.6L347.7 995.0L349.4 994.2L350.1 993.8L352.2 992.8L352.5 992.6L354.9 991.4L355.1 991.3L357.3 990.2L357.9 989.9L359.7 988.9L360.7 988.5L362.1 987.7L363.4 987.0L364.5 986.5L366.2 985.6L366.9 985.2L368.9 984.2L369.3 983.9L371.6 982.7L371.7 982.7L374.2 981.4L374.3 981.3L376.6 980.1L377.0 979.9L379.0 978.8L379.7 978.4L381.4 977.5L382.4 977.0L383.8 976.2L385.1 975.6L386.2 974.9L387.7 974.1L388.6 973.6L390.4 972.7L391.0 972.3L393.0 971.3L393.4 971.0L395.6 969.8L395.8 969.7L398.2 968.4L398.3 968.4L400.6 967.1L400.9 967.0L403.1 965.8L403.5 965.5L405.5 964.5L406.2 964.1L407.9 963.2L408.8 962.7L410.3 961.8L411.4 961.2L412.7 960.5L414.0 959.8L415.1 959.2L416.6 958.4L417.5 957.9L419.3 956.9L419.9 956.6L421.9 955.5L422.3 955.2L424.5 954.1L424.7 953.9L427.1 952.6L427.1 952.6L429.6 951.2L429.6 951.2L432.0 949.9L432.2 949.8L434.4 948.5L434.8 948.3L436.8 947.2L437.3 946.9L439.2 945.8L439.9 945.5L441.6 944.5L442.4 944.0L444.0 943.1L444.9 942.6L446.4 941.7L447.4 941.2L448.8 940.3L449.9 939.7L451.2 938.9L452.4 938.3L453.6 937.5L454.8 936.9L456.1 936.1L457.2 935.4L458.5 934.7L459.7 934.0L460.9 933.3L462.1 932.6L463.3 931.8L464.4 931.1L465.7 930.4L466.8 929.7L468.1 928.9L469.2 928.3L470.5 927.4L471.5 926.8L472.9 925.9L473.8 925.4L475.3 924.4L476.1 924.0L477.7 922.9L478.3 922.5L480.1 921.4L480.6 921.1L482.5 919.8L482.8 919.7L485.0 918.3L485.0 918.2L487.2 916.8L487.4 916.7L489.4 915.3L489.8 915.1L491.5 913.9L492.2 913.5L493.7 912.5L494.6 911.8L495.8 911.0L497.0 910.2L497.8 909.6L499.4 908.5L499.9 908.2L501.8 906.8L501.9 906.7L504.0 905.3L504.2 905.1L506.0 903.9L506.6 903.4L507.9 902.4L509.0 901.6L509.9 901.0L511.5 899.9L511.9 899.6L513.8 898.1L513.9 898.1L515.7 896.7L516.3 896.3L517.6 895.3L518.7 894.4L519.5 893.8L521.1 892.6L521.3 892.4L523.2 891.0L523.5 890.7M583.7 838.0L583.8 837.9L585.3 836.5L586.1 835.7L586.8 835.1L588.2 833.6L588.5 833.3L589.7 832.2L590.9 831.0L591.2 830.8L592.7 829.3L593.4 828.7L594.1 827.9L595.6 826.5L595.8 826.3L597.0 825.0L598.2 823.9L598.5 823.6L599.9 822.2L600.6 821.5L601.4 820.7L602.8 819.3L603.0 819.1L604.2 817.9L605.4 816.7L605.7 816.4L607.1 815.0L607.8 814.3L608.5 813.6L609.9 812.1L610.2 811.8L611.3 810.7L612.6 809.4L612.7 809.3L614.1 807.8L615.0 806.9L615.5 806.4L616.9 805.0L617.4 804.4L618.3 803.5L619.7 802.1L619.9 801.9L621.1 800.7L622.3 799.4L622.4 799.2L623.8 797.8L624.7 796.9L625.2 796.4L626.5 794.9L627.1 794.4L627.9 793.5L629.2 792.1L629.5 791.8L630.6 790.6L631.9 789.2L631.9 789.2L633.3 787.8L634.3 786.7L634.6 786.3L635.9 784.9L636.7 784.1L637.3 783.5L638.6 782.0L639.1 781.5L639.9 780.6L641.2 779.2L641.5 778.8L642.5 777.7L643.9 776.3L643.9 776.2L645.2 774.9L646.3 773.6L646.5 773.4L647.7 772.0L648.8 770.9L649.0 770.6L650.3 769.1L651.2 768.2L651.6 767.7L652.9 766.3L653.6 765.5L654.2 764.8L655.4 763.4L656.0 762.8L656.7 762.0L658.0 760.5L658.4 760.1L659.2 759.1L660.5 757.7L660.8 757.3L661.7 756.2L663.0 754.8L663.2 754.5L664.2 753.4L665.5 751.9L665.6 751.8L666.7 750.5L668.0 749.1L668.0 749.0L669.2 747.6L670.4 746.2L670.4 746.2L671.6 744.8L672.8 743.3L672.9 743.3L674.1 741.9L675.3 740.5L675.3 740.5L676.5 739.0L677.7 737.7L677.7 737.6L678.9 736.2L680.1 734.8L680.1 734.7L681.3 733.3L682.5 731.9L682.5 731.9L683.7 730.4L684.9 729.0L684.9 729.0L686.1 727.6L687.3 726.1L687.3 726.1L688.4 724.7L689.6 723.3L689.7 723.1L690.8 721.8L692.0 720.4L692.1 720.2L693.1 719.0L694.3 717.5L694.5 717.2L695.5 716.1L696.6 714.7L696.9 714.3L697.8 713.2L698.9 711.8L699.3 711.3L700.1 710.4L701.2 708.9L701.8 708.3L702.4 707.5L703.5 706.1L704.2 705.2L704.6 704.6L705.8 703.2L706.6 702.2L706.9 701.8L708.1 700.3L709.0 699.2L709.2 698.9L710.3 697.5L711.4 696.1L711.4 696.0L712.6 694.6L713.7 693.2L713.8 693.0L714.8 691.7L715.9 690.3L716.2 689.9L717.0 688.9L718.1 687.4L718.6 686.8L719.2 686.0L720.3 684.6L721.0 683.7L721.4 683.1L722.5 681.7L723.4 680.5L723.6 680.3L724.7 678.8L725.8 677.4L725.8 677.4L726.9 676.0L728.0 674.5L728.2 674.2L729.1 673.1L730.2 671.7L730.7 671.0L731.3 670.2L732.4 668.8L733.1 667.8L733.4 667.4L734.5 665.9L735.5 664.6L735.6 664.5L736.7 663.1L737.7 661.6L737.9 661.4L738.8 660.2L739.9 658.8L740.3 658.2L740.9 657.3L742.0 655.9L742.7 655.0L743.1 654.5L744.1 653.0L745.1 651.7L745.2 651.6L746.2 650.2L747.3 648.7L747.5 648.4L748.4 647.3L749.4 645.9L749.9 645.1L750.5 644.4L751.5 643.0L752.3 641.9L752.6 641.6L753.6 640.1L754.6 638.7L754.7 638.6L755.7 637.3L756.7 635.8L757.2 635.2L757.8 634.4L758.8 633.0L759.6 631.9L759.8 631.5L760.9 630.1L761.9 628.7L762.0 628.6L762.9 627.2L764.0 625.8L764.4 625.2L765.0 624.4L766.0 622.9L766.8 621.9L767.1 621.5L768.1 620.1L769.1 618.6L769.2 618.5L770.1 617.2L771.1 615.8L771.6 615.1L772.2 614.3L773.2 612.9L774.0 611.7L774.2 611.5L775.2 610.0L776.2 608.6L776.4 608.3L777.2 607.2L778.2 605.7L778.8 604.9L779.2 604.3L780.3 602.9L781.2 601.4L781.3 601.4L782.3 600.0L783.3 598.6L783.7 598.0L784.3 597.1L785.3 595.7L786.1 594.5L786.3 594.3L787.3 592.8L788.3 591.4L788.5 591.1L789.3 590.0L790.2 588.5L790.9 587.6L791.2 587.1L792.2 585.7L793.2 584.2L793.3 584.1L794.2 582.8L795.2 581.3L795.7 580.6L796.2 579.9L797.2 578.5L798.1 577.1L798.1 577.0L799.1 575.6L800.1 574.2L800.5 573.6L801.1 572.7L802.1 571.3L802.9 570.1L803.0 569.9L804.0 568.4M847.5 502.5L848.4 501.1L848.7 500.6L849.3 499.6L850.2 498.2L851.1 496.8L851.1 496.8L852.0 495.3L852.9 493.9L853.5 493.0L853.8 492.5L854.7 491.0L855.6 489.6L855.9 489.2L856.5 488.2L857.5 486.7L858.3 485.4L858.4 485.3L859.3 483.9L860.2 482.4L860.7 481.5L861.0 481.0L861.9 479.6L862.8 478.1L863.1 477.7L863.7 476.7L864.6 475.3L865.5 473.8L865.6 473.8L866.4 472.4L867.3 471.0L868.0 469.9L868.2 469.5L869.1 468.1L870.0 466.7L870.4 466.0L870.8 465.2L871.7 463.8L872.6 462.4L872.8 462.1L873.5 460.9L874.4 459.5L875.2 458.2L875.2 458.1L876.1 456.6L877.0 455.2L877.6 454.2L877.9 453.8L878.7 452.3L879.6 450.9L880.0 450.3L880.5 449.5L881.4 448.0L882.2 446.6L882.4 446.3L883.1 445.2L884.0 443.7L884.8 442.3L884.8 442.3L885.7 440.9L886.6 439.4L887.2 438.3L887.4 438.0L888.3 436.6L889.1 435.1L889.6 434.3L890.0 433.7L890.9 432.3L891.7 430.8L892.0 430.3L892.6 429.4L893.4 428.0L894.3 426.5L894.5 426.3L895.1 425.1L896.0 423.7L896.9 422.2L896.9 422.2L897.7 420.8L898.6 419.4L899.3 418.2L899.4 417.9L900.3 416.5L901.1 415.1L901.7 414.1L902.0 413.6L902.8 412.2L903.7 410.8L904.1 410.0L904.5 409.3L905.3 407.9L906.2 406.5L906.5 405.9L907.0 405.0L907.9 403.6L908.7 402.2L908.9 401.8L909.6 400.7L910.4 399.3L911.2 397.9L911.3 397.7L912.1 396.4L912.9 395.0L913.7 393.6L913.8 393.6L914.6 392.1L915.4 390.7L916.1 389.5L916.3 389.3L917.1 387.8L918.0 386.4L918.5 385.4L918.8 385.0L919.6 383.5L920.5 382.1L921.0 381.3L921.3 380.7L922.1 379.2L923.0 377.8L923.4 377.1L923.8 376.4L924.6 374.9L925.5 373.5L925.8 373.0L926.3 372.1L927.1 370.6L928.0 369.2L928.2 368.8L928.8 367.8L929.6 366.3L930.5 364.9L930.6 364.7L931.3 363.5L932.1 362.0L933.0 360.6L933.0 360.5L933.8 359.2L934.6 357.7L935.4 356.4L935.4 356.3L936.3 354.9L937.1 353.4L937.8 352.2L937.9 352.0L938.8 350.6L939.6 349.1L940.2 348.0L940.4 347.7L941.2 346.3L942.1 344.8L942.6 343.9L942.9 343.4L943.7 342.0L944.6 340.5L945.0 339.7L945.4 339.1L946.2 337.7L947.0 336.2L947.5 335.5L947.9 334.8L948.7 333.4L949.5 331.9L949.9 331.3L950.3 330.5L951.2 329.1L952.0 327.6L952.3 327.2L952.8 326.2L953.7 324.8L954.5 323.3L954.7 323.0L955.3 321.9L956.1 320.5L957.0 319.0L957.1 318.8L957.8 317.6L958.6 316.2L959.4 314.7L959.5 314.6L960.3 313.3L961.1 311.9L961.9 310.4L961.9 310.4L962.7 309.0L963.6 307.6L964.3 306.3L964.4 306.1L965.2 304.7L966.0 303.3L966.7 302.1L966.9 301.8L967.7 300.4L968.5 299.0L969.1 297.9L969.3 297.5L970.2 296.1L971.0 294.7L971.5 293.7L971.8 293.2L972.7 291.8L973.5 290.4L973.9 289.5L974.3 288.9L975.1 287.5L976.0 286.1L976.4 285.4L976.8 284.6L977.6 283.2L978.4 281.8L978.8 281.2L979.3 280.3L980.1 278.9L980.9 277.5L981.2 277.0L981.8 276.0L982.6 274.6L983.4 273.2L983.6 272.9L984.2 271.7L985.1 270.3L985.9 268.9L986.0 268.7L986.7 267.4L987.6 266.0L988.4 264.6L988.4 264.5L989.2 263.1L990.1 261.7L990.8 260.4L990.9 260.3L991.7 258.8L992.5 257.4L993.2 256.2L993.4 256.0L994.2 254.5L995.0 253.1L995.6 252.1L995.9 251.7L996.7 250.2L997.5 248.8L998.0 247.9L998.4 247.3L999.2 245.9L1000.0 244.5L1000.4 243.8L1000.9 243.0L1001.7 241.6L1002.5 240.2L1002.9 239.6L1003.4 238.7L1004.2 237.3L1005.0 235.9L1005.3 235.5L1005.9 234.4L1006.7 233.0L1007.5 231.6L1007.7 231.4L1008.4 230.1L1009.2 228.7L1010.1 227.3L1010.1 227.2L1010.9 225.8L1011.7 224.4L1012.5 223.1L1012.6 223.0L1013.4 221.5L1014.2 220.1L1014.9 219.0L1015.1 218.7L1015.9 217.2L1016.8 215.8L1017.3 214.9L1017.6 214.4L1018.4 212.9L1019.3 211.5L1019.7 210.7L1020.1 210.1L1020.9 208.6L1021.8 207.2L1022.1 206.6L1022.6 205.8L1023.5 204.3L1024.3 202.9L1024.5 202.5L1025.2 201.5L1026.0 200.0L1026.8 198.6L1026.9 198.4M1067.6 129.8L1067.9 129.4L1068.5 128.4L1069.3 126.9L1070.2 125.5L1070.3 125.3L1071.1 124.1L1071.9 122.6L1072.7 121.3L1072.8 121.2L1073.6 119.8L1074.5 118.3L1075.1 117.3L1075.3 116.9L1076.2 115.5L1077.1 114.0L1077.5 113.3L1077.9 112.6L1078.8 111.2L1079.6 109.7L1079.9 109.2L1080.5 108.3L1081.4 106.9L1082.2 105.4L1082.3 105.2L1083.1 104.0L1083.9 102.6L1084.8 101.2L1084.8 101.1L1085.7 99.7L1086.5 98.3L1087.2 97.2L1087.4 96.8L1088.3 95.4L1089.1 94.0L1089.6 93.2L1090.0 92.5L1090.9 91.1L1091.7 89.7L1092.0 89.2L1092.6 88.2L1093.4 86.8L1094.3 85.4L1094.4 85.2L1095.2 83.9L1096.0 82.5" stroke="#36c799"/><path d="M120.4 1084.5L120.4 1083.1L118.8 1081.8L118.6 1081.6L116.4 1080.7L115.2 1080.2L116.1 1078.8L116.4 1078.6L118.8 1077.4L118.9 1077.3L121.2 1076.5L122.9 1075.9L123.6 1075.7L126.0 1074.9L127.5 1074.5L128.5 1074.2L130.9 1073.5L132.4 1073.0L133.3 1072.8L135.7 1072.1L137.2 1071.6L138.1 1071.3L140.5 1070.6L142.1 1070.2L142.9 1069.9L145.3 1069.2L147.0 1068.7L147.7 1068.5L150.1 1067.9L152.2 1067.3L152.5 1067.2L154.9 1066.6M232.0 1049.4L234.4 1048.9L235.3 1048.7L236.8 1048.3L239.3 1047.8L241.6 1047.2L241.7 1047.2L244.1 1046.6L246.5 1046.1L247.6 1045.8L248.9 1045.5L251.3 1044.9L253.5 1044.4L253.7 1044.3L256.1 1043.7L258.5 1043.1L259.3 1042.9L260.9 1042.5L263.3 1041.9L264.8 1041.5L265.8 1041.2L268.2 1040.6L270.2 1040.1L270.6 1040.0L273.0 1039.3L275.4 1038.6L275.4 1038.6L277.8 1037.9L280.2 1037.3L280.4 1037.2L282.6 1036.5L285.0 1035.8L285.3 1035.8L287.4 1035.1L289.8 1034.4L290.0 1034.3L292.3 1033.6L294.5 1032.9L294.7 1032.9L297.1 1032.1L298.9 1031.5L299.5 1031.3L301.9 1030.5L303.2 1030.0L304.3 1029.7L306.7 1028.8L307.4 1028.6L309.1 1028.0L311.4 1027.2L311.5 1027.1L313.9 1026.2L315.3 1025.7L316.3 1025.4L318.7 1024.5L319.2 1024.3L321.2 1023.5L322.9 1022.9L323.6 1022.6L326.0 1021.7L326.6 1021.4L328.4 1020.7L330.3 1020.0L330.8 1019.8L333.2 1018.8L333.9 1018.6L335.6 1017.8L337.4 1017.1L338.0 1016.9L340.4 1015.9L340.9 1015.7L342.8 1014.9L344.3 1014.3L345.2 1013.9L347.7 1012.9L347.8 1012.8L350.1 1011.9L351.2 1011.4L352.5 1010.8L354.5 1010.0L354.9 1009.8L357.3 1008.8L357.9 1008.5L359.7 1007.7L361.2 1007.1L362.1 1006.7L364.4 1005.7L364.5 1005.6L366.9 1004.6L367.7 1004.2L369.3 1003.5L370.9 1002.8L371.7 1002.4L374.1 1001.4L374.2 1001.3L376.6 1000.2L377.3 999.9L379.0 999.1L380.4 998.5L381.4 998.0L383.5 997.1L383.8 996.9L386.2 995.8L386.6 995.6L388.6 994.7L389.6 994.2L391.0 993.5L392.7 992.8L393.4 992.4L395.7 991.3L395.8 991.2L398.2 990.1L398.6 989.9L400.6 988.9L401.6 988.5L403.1 987.7L404.5 987.0L405.5 986.6L407.5 985.6L407.9 985.4L410.3 984.2L410.4 984.2L412.7 983.0L413.3 982.7L415.1 981.8L416.1 981.3L417.5 980.6L419.0 979.9L419.9 979.4L421.9 978.4L422.3 978.2L424.7 977.0L424.7 977.0L427.1 975.8L427.6 975.6L429.6 974.5L430.4 974.1L432.0 973.3L433.2 972.7L434.4 972.1L436.0 971.3L436.8 970.9L438.9 969.8L439.2 969.7L441.6 968.4L441.7 968.4L444.0 967.2L444.5 967.0L446.4 966.0L447.3 965.5L448.8 964.7L450.0 964.1L451.2 963.5L452.8 962.7L453.6 962.2L455.6 961.2L456.1 961.0L458.4 959.8L458.5 959.8L460.9 958.5L461.2 958.4L463.3 957.3L463.9 956.9L465.7 956.0L466.7 955.5L468.1 954.7L469.4 954.1L470.5 953.5L472.1 952.6L472.9 952.2L474.8 951.2L475.3 950.9L477.5 949.8L477.7 949.6L480.1 948.4L480.2 948.3L482.5 947.1L482.9 946.9L485.0 945.8L485.5 945.5L487.4 944.4L488.2 944.0L489.8 943.1L490.8 942.6L492.2 941.8L493.4 941.2L494.6 940.5L495.9 939.7L497.0 939.1L498.5 938.3L499.4 937.8L501.0 936.9L501.8 936.4L503.5 935.4L504.2 935.0L506.0 934.0L506.6 933.6L508.5 932.6L509.0 932.2L510.9 931.1L511.5 930.8L513.4 929.7L513.9 929.4L515.8 928.3L516.3 928.0L518.2 926.8L518.7 926.5L520.5 925.4L521.1 925.0L522.9 924.0L523.5 923.6L525.2 922.5L525.9 922.1L527.5 921.1L528.3 920.5L529.7 919.7L530.7 919.0L532.0 918.2L533.1 917.5L534.2 916.8L535.5 915.9L536.4 915.3L538.0 914.3L538.6 913.9L540.4 912.7L540.7 912.5L542.8 911.1L542.9 911.0L545.0 909.6L545.2 909.5L547.1 908.2L547.6 907.8L549.1 906.7L550.0 906.1L551.2 905.3L552.4 904.4M614.1 855.1L615.0 854.3L615.7 853.7L617.4 852.3L617.4 852.2L619.0 850.8L619.9 850.1L620.6 849.4L622.2 848.0L622.3 847.9L623.8 846.5L624.7 845.8L625.4 845.1L627.0 843.7L627.1 843.6L628.5 842.2L629.5 841.4L630.1 840.8L631.7 839.4L631.9 839.2L633.3 837.9L634.3 837.0L634.8 836.5L636.4 835.1L636.7 834.7L637.9 833.6L639.1 832.5L639.4 832.2L641.0 830.8L641.5 830.3L642.5 829.3L643.9 828.0L644.0 827.9L645.6 826.5L646.3 825.7L647.1 825.0L648.6 823.6L648.8 823.4L650.1 822.2L651.2 821.1L651.6 820.7L653.1 819.3L653.6 818.8L654.6 817.9L656.0 816.5L656.1 816.4L657.6 815.0L658.4 814.2L659.0 813.6L660.5 812.1L660.8 811.8L662.0 810.7L663.2 809.5L663.4 809.3L664.9 807.8L665.6 807.1L666.3 806.4L667.8 805.0L668.0 804.7L669.2 803.5L670.4 802.3L670.7 802.1L672.1 800.7L672.8 799.9L673.5 799.2L675.0 797.8L675.3 797.5L676.4 796.4L677.7 795.1L677.8 794.9L679.2 793.5L680.1 792.6L680.6 792.1L682.0 790.6L682.5 790.2L683.4 789.2L684.8 787.8L684.9 787.7L686.2 786.3L687.3 785.2L687.6 784.9L689.0 783.5L689.7 782.7L690.4 782.0L691.7 780.6L692.1 780.2L693.1 779.2L694.5 777.7L694.5 777.7L695.8 776.3L696.9 775.1L697.2 774.9L698.5 773.4L699.3 772.6L699.9 772.0L701.2 770.6L701.8 770.0L702.6 769.1L703.9 767.7L704.2 767.4L705.2 766.3L706.6 764.8L706.6 764.8L707.9 763.4L709.0 762.2L709.2 762.0L710.5 760.5L711.4 759.6L711.8 759.1L713.2 757.7L713.8 757.0L714.5 756.2L715.8 754.8L716.2 754.3L717.1 753.4L718.4 751.9L718.6 751.6L719.6 750.5L720.9 749.1L721.0 749.0L722.2 747.6L723.4 746.3L723.5 746.2L724.8 744.8L725.8 743.6L726.0 743.3L727.3 741.9L728.2 740.8L728.6 740.5L729.8 739.0L730.7 738.1L731.1 737.6L732.4 736.2L733.1 735.4L733.6 734.7L734.9 733.3L735.5 732.6L736.1 731.9L737.4 730.4L737.9 729.8L738.6 729.0L739.8 727.6L740.3 727.0L741.1 726.1L742.3 724.7L742.7 724.2L743.5 723.3L744.8 721.8L745.1 721.4L746.0 720.4L747.2 719.0L747.5 718.6L748.4 717.5L749.6 716.1L749.9 715.7L750.8 714.7L752.0 713.2L752.3 712.9L753.2 711.8L754.5 710.4L754.7 710.0L755.7 708.9L756.8 707.5L757.2 707.1L758.0 706.1L759.2 704.6L759.6 704.2L760.4 703.2L761.6 701.8L762.0 701.3L762.8 700.3L764.0 698.9L764.4 698.4L765.2 697.5L766.3 696.0L766.8 695.5L767.5 694.6L768.7 693.2L769.2 692.5L769.8 691.7L771.0 690.3L771.6 689.6L772.2 688.9L773.3 687.4L774.0 686.6L774.5 686.0L775.6 684.6L776.4 683.6L776.8 683.1L778.0 681.7L778.8 680.6L779.1 680.3L780.3 678.8L781.2 677.6L781.4 677.4L782.5 676.0L783.7 674.6L783.7 674.5L784.8 673.1L786.0 671.7L786.1 671.5L787.1 670.2L788.2 668.8L788.5 668.5L789.4 667.4L790.5 665.9L790.9 665.4L791.6 664.5L792.7 663.1L793.3 662.4L793.9 661.6L795.0 660.2L795.7 659.3L796.1 658.8L797.2 657.3L798.1 656.2L798.3 655.9L799.5 654.5L800.5 653.1L800.6 653.0L801.7 651.6L802.8 650.2L802.9 650.0L803.9 648.7L805.0 647.3L805.3 646.8L806.1 645.9L807.2 644.4L807.7 643.7L808.3 643.0L809.4 641.6L810.1 640.6L810.5 640.1L811.6 638.7L812.6 637.4L812.7 637.3L813.8 635.8L814.8 634.4L815.0 634.2L815.9 633.0L817.0 631.5L817.4 631.0L818.1 630.1L819.2 628.7L819.8 627.9L820.3 627.2L821.3 625.8L822.2 624.6L822.4 624.4L823.5 622.9L824.6 621.5L824.6 621.4L825.6 620.1L826.7 618.6L827.0 618.2L827.8 617.2L828.8 615.8L829.4 615.0L829.9 614.3L831.0 612.9L831.8 611.7L832.0 611.5L833.1 610.0L834.1 608.6L834.2 608.5L835.2 607.2L836.3 605.7L836.6 605.2L837.3 604.3L838.4 602.9L839.1 601.9L839.4 601.4L840.5 600.0L841.5 598.6L841.5 598.6L842.6 597.1L843.6 595.7L843.9 595.3L844.6 594.3L845.7 592.8L846.3 592.0L846.7 591.4M891.9 526.9L892.0 526.7L892.9 525.4L893.8 524.0L894.5 523.1L894.8 522.6L895.8 521.1L896.8 519.7L896.9 519.5L897.7 518.3L898.7 516.8L899.3 516.0L899.6 515.4L900.6 514.0L901.6 512.5L901.7 512.4L902.5 511.1L903.5 509.7L904.1 508.7L904.4 508.2L905.4 506.8L906.3 505.4L906.5 505.1L907.3 503.9L908.2 502.5L908.9 501.5L909.2 501.1L910.1 499.6L911.1 498.2L911.3 497.8L912.0 496.8L913.0 495.3L913.7 494.2L913.9 493.9L914.9 492.5L915.8 491.0L916.1 490.5L916.7 489.6L917.7 488.2L918.5 486.8L918.6 486.7L919.5 485.3L920.5 483.9L921.0 483.1L921.4 482.4L922.3 481.0L923.3 479.6L923.4 479.4L924.2 478.1L925.1 476.7L925.8 475.7L926.1 475.3L927.0 473.8L927.9 472.4L928.2 472.0L928.8 471.0L929.8 469.5L930.6 468.2L930.7 468.1L931.6 466.7L932.5 465.2L933.0 464.5L933.4 463.8L934.3 462.4L935.3 460.9L935.4 460.7L936.2 459.5L937.1 458.1L937.8 456.9L938.0 456.6L938.9 455.2L939.8 453.8L940.2 453.1L940.7 452.3L941.6 450.9L942.5 449.5L942.6 449.3L943.5 448.0L944.4 446.6L945.0 445.5L945.3 445.2L946.2 443.7L947.1 442.3L947.5 441.7L948.0 440.9L948.9 439.4L949.8 438.0L949.9 437.8L950.7 436.6L951.6 435.1L952.3 434.0L952.5 433.7L953.3 432.3L954.2 430.8L954.7 430.1L955.1 429.4L956.0 428.0L956.9 426.5L957.1 426.3L957.8 425.1L958.7 423.7L959.5 422.4L959.6 422.2L960.5 420.8L961.4 419.4L961.9 418.5L962.3 417.9L963.1 416.5L964.0 415.1L964.3 414.6L964.9 413.6L965.8 412.2L966.7 410.8L966.7 410.7L967.6 409.3L968.5 407.9L969.1 406.8L969.3 406.5L970.2 405.0L971.1 403.6L971.5 402.9L972.0 402.2L972.9 400.7L973.7 399.3L973.9 399.0L974.6 397.9L975.5 396.4L976.4 395.0L976.4 395.0L977.3 393.6L978.1 392.1L978.8 391.1L979.0 390.7L979.9 389.3L980.8 387.8L981.2 387.2L981.6 386.4L982.5 385.0L983.4 383.5L983.6 383.2L984.3 382.1L985.1 380.7L986.0 379.3L986.0 379.2L986.9 377.8L987.8 376.4L988.4 375.3L988.6 374.9L989.5 373.5L990.4 372.1L990.8 371.3L991.2 370.6L992.1 369.2L993.0 367.8L993.2 367.4L993.9 366.3L994.7 364.9L995.6 363.5L995.6 363.4L996.5 362.0L997.3 360.6L998.0 359.4L998.2 359.2L999.1 357.7L999.9 356.3L1000.4 355.5L1000.8 354.9L1001.7 353.4L1002.6 352.0L1002.9 351.5L1003.4 350.6L1004.3 349.1L1005.2 347.7L1005.3 347.5L1006.0 346.3L1006.9 344.8L1007.7 343.6L1007.8 343.4L1008.6 342.0L1009.5 340.5L1010.1 339.6L1010.4 339.1L1011.2 337.7L1012.1 336.2L1012.5 335.6L1013.0 334.8L1013.8 333.4L1014.7 331.9L1014.9 331.6L1015.6 330.5L1016.4 329.1L1017.3 327.6L1017.3 327.6L1018.2 326.2L1019.0 324.8L1019.7 323.6L1019.9 323.3L1020.8 321.9L1021.6 320.5L1022.1 319.7L1022.5 319.0L1023.4 317.6L1024.2 316.2L1024.5 315.7L1025.1 314.7L1026.0 313.3L1026.8 311.9L1026.9 311.7L1027.7 310.4L1028.6 309.0L1029.4 307.7L1029.4 307.6L1030.3 306.1L1031.2 304.7L1031.8 303.7L1032.1 303.3L1032.9 301.8L1033.8 300.4L1034.2 299.8L1034.7 299.0L1035.5 297.5L1036.4 296.1L1036.6 295.8L1037.3 294.7L1038.1 293.2L1039.0 291.8L1039.0 291.8L1039.9 290.4L1040.7 288.9L1041.4 287.8L1041.6 287.5L1042.5 286.1L1043.3 284.6L1043.8 283.8L1044.2 283.2L1045.1 281.8L1045.9 280.3L1046.2 279.9L1046.8 278.9L1047.7 277.5L1048.5 276.0L1048.6 275.9L1049.4 274.6L1050.3 273.2L1051.0 271.9L1051.2 271.7L1052.0 270.3L1052.9 268.9L1053.4 268.0L1053.8 267.4L1054.6 266.0L1055.5 264.6L1055.8 264.0L1056.4 263.1L1057.2 261.7L1058.1 260.3L1058.3 260.0L1059.0 258.8L1059.9 257.4L1060.7 256.1L1060.7 256.0L1061.6 254.5L1062.5 253.1L1063.1 252.1L1063.3 251.7L1064.2 250.2L1065.1 248.8L1065.5 248.1L1066.0 247.3L1066.8 245.9L1067.7 244.5L1067.9 244.2L1068.6 243.0L1069.5 241.6L1070.3 240.2L1070.3 240.2L1071.2 238.7L1072.1 237.3L1072.7 236.3L1073.0 235.9L1073.8 234.4L1074.7 233.0L1075.1 232.3L1075.6 231.6L1076.4 230.1L1077.3 228.7L1077.5 228.4M1118.7 161.3L1119.5 159.9L1120.4 158.5L1120.9 157.7L1121.3 157.0L1122.2 155.6L1123.1 154.2L1123.3 153.8L1124.0 152.7L1124.8 151.3L1125.7 149.9L1125.7 149.9L1126.6 148.4L1127.5 147.0L1128.1 146.0L1128.4 145.6L1129.3 144.1L1130.2 142.7L1130.5 142.1L1131.0 141.3L1131.9 139.8L1132.8 138.4L1132.9 138.2L1133.7 137.0L1134.6 135.5L1135.3 134.3L1135.5 134.1L1136.4 132.7L1137.2 131.2L1137.7 130.4L1138.1 129.8L1139.0 128.4L1139.9 126.9L1140.2 126.5L1140.8 125.5L1141.7 124.1L1142.6 122.6L1142.6 122.6L1143.4 121.2L1144.3 119.8L1145.0 118.7L1145.2 118.3L1146.1 116.9L1147.0 115.5L1147.4 114.8L1147.9 114.0L1148.8 112.6L1149.7 111.2L1149.8 110.9L1150.5 109.7L1151.4 108.3L1152.2 107.1L1152.3 106.9L1153.2 105.4L1154.1 104.0L1154.6 103.2L1155.0 102.6L1155.9 101.1L1156.8 99.7L1157.0 99.3L1157.6 98.3L1158.5 96.8L1159.4 95.4L1159.4 95.4L1160.3 94.0L1161.2 92.5L1161.8 91.5L1162.1 91.1L1163.0 89.7L1163.9 88.2L1164.2 87.6L1164.8 86.8L1165.6 85.4L1166.5 83.9L1166.7 83.7L1167.4 82.5" stroke="#44cb8a"/><path d="M150.6 1084.5L150.6 1083.1L150.1 1082.2L149.9 1081.6L148.5 1080.2L150.1 1078.8L150.2 1078.8L152.5 1077.8L153.8 1077.3L154.9 1077.0L157.4 1076.2L158.3 1075.9L159.8 1075.5L162.2 1074.8L163.2 1074.5L164.6 1074.1L167.0 1073.4L168.1 1073.0L169.4 1072.7L171.8 1072.0L173.1 1071.6L174.2 1071.3L176.6 1070.6L178.2 1070.2L179.0 1069.9L181.4 1069.3L183.6 1068.7L183.9 1068.7L186.3 1068.1L188.7 1067.5L189.6 1067.3L191.1 1067.0L193.5 1066.4L195.9 1065.9L196.0 1065.9M273.0 1050.4L274.3 1050.1L275.4 1049.9L277.8 1049.3L280.2 1048.7L280.5 1048.7L282.6 1048.2L285.0 1047.6L286.4 1047.2L287.4 1047.0L289.8 1046.4L292.2 1045.8L292.3 1045.8L294.7 1045.1L297.1 1044.5L297.7 1044.4L299.5 1043.9L301.9 1043.2L303.0 1042.9L304.3 1042.6L306.7 1041.9L308.0 1041.5L309.1 1041.2L311.5 1040.5L313.0 1040.1L313.9 1039.8L316.3 1039.0L317.7 1038.6L318.7 1038.3L321.2 1037.5L322.3 1037.2L323.6 1036.8L326.0 1036.0L326.7 1035.8L328.4 1035.2L330.8 1034.4L331.0 1034.3L333.2 1033.6L335.2 1032.9L335.6 1032.8L338.0 1031.9L339.3 1031.5L340.4 1031.1L342.8 1030.2L343.3 1030.0L345.2 1029.3L347.2 1028.6L347.7 1028.4L350.1 1027.5L351.1 1027.2L352.5 1026.6L354.9 1025.7L354.9 1025.7L357.3 1024.8L358.6 1024.3L359.7 1023.9L362.1 1023.0L362.4 1022.9L364.5 1022.0L366.1 1021.4L366.9 1021.1L369.3 1020.2L369.8 1020.0L371.7 1019.2L373.4 1018.6L374.2 1018.3L376.6 1017.3L377.1 1017.1L379.0 1016.4L380.7 1015.7L381.4 1015.4L383.8 1014.5L384.3 1014.3L386.2 1013.5L388.0 1012.8L388.6 1012.6L391.0 1011.6L391.6 1011.4L393.4 1010.6L395.1 1010.0L395.8 1009.7L398.2 1008.7L398.7 1008.5L400.6 1007.7L402.3 1007.1L403.1 1006.8L405.5 1005.8L405.8 1005.7L407.9 1004.8L409.3 1004.2L410.3 1003.8L412.7 1002.8L412.8 1002.8L415.1 1001.8L416.2 1001.4L417.5 1000.8L419.6 999.9L419.9 999.8L422.3 998.8L423.0 998.5L424.7 997.8L426.4 997.1L427.1 996.7L429.6 995.7L429.7 995.6L432.0 994.6L433.0 994.2L434.4 993.6L436.2 992.8L436.8 992.5L439.2 991.4L439.5 991.3L441.6 990.4L442.7 989.9L444.0 989.3L445.9 988.5L446.4 988.2L448.8 987.1L449.0 987.0L451.2 986.0L452.2 985.6L453.6 984.9L455.3 984.2L456.1 983.8L458.4 982.7L458.5 982.7L460.9 981.5L461.4 981.3L463.3 980.4L464.5 979.9L465.7 979.3L467.5 978.4L468.1 978.1L470.5 977.0L470.5 977.0L472.9 975.9L473.5 975.6L475.3 974.7L476.5 974.1L477.7 973.5L479.5 972.7L480.1 972.4L482.5 971.3L482.5 971.2L485.0 970.0L485.4 969.8L487.4 968.9L488.4 968.4L489.8 967.7L491.3 967.0L492.2 966.5L494.2 965.5L494.6 965.3L497.0 964.1L497.1 964.1L499.4 962.9L500.0 962.7L501.8 961.7L502.9 961.2L504.2 960.5L505.8 959.8L506.6 959.3L508.6 958.4L509.0 958.1L511.5 956.9L511.5 956.9L513.9 955.7L514.3 955.5L516.3 954.5L517.1 954.1L518.7 953.2L519.9 952.6L521.1 952.0L522.7 951.2L523.5 950.8L525.4 949.8L525.9 949.5L528.2 948.3L528.3 948.2L530.7 947.0L530.9 946.9L533.1 945.7L533.6 945.5L535.5 944.4L536.2 944.0L538.0 943.1L538.9 942.6L540.4 941.8L541.5 941.2L542.8 940.5L544.1 939.7L545.2 939.1L546.7 938.3L547.6 937.8L549.3 936.9L550.0 936.4L551.8 935.4L552.4 935.1L554.3 934.0L554.8 933.7L556.8 932.6L557.2 932.3L559.2 931.1L559.6 930.9L561.7 929.7L562.0 929.5L564.1 928.3L564.4 928.0L566.5 926.8L566.9 926.6L568.9 925.4L569.3 925.1L571.2 924.0L571.7 923.7L573.6 922.5L574.1 922.2L575.9 921.1L576.5 920.7L578.2 919.7L578.9 919.2L580.4 918.2L581.3 917.7L582.7 916.8L583.7 916.1L584.9 915.3L586.1 914.5L587.1 913.9M651.2 866.8L651.4 866.6L653.1 865.2L653.6 864.8L654.9 863.7L656.0 862.9L656.7 862.3L658.4 860.9L658.4 860.9L660.1 859.4L660.8 858.9L661.9 858.0L663.2 856.9L663.6 856.6L665.3 855.1L665.6 854.9L667.0 853.7L668.0 852.9L668.7 852.3L670.4 850.8L670.4 850.8L672.1 849.4L672.8 848.8L673.8 848.0L675.3 846.7L675.5 846.5L677.1 845.1L677.7 844.7L678.8 843.7L680.1 842.6L680.5 842.2L682.1 840.8L682.5 840.5L683.8 839.4L684.9 838.4L685.4 837.9L687.0 836.5L687.3 836.3L688.7 835.1L689.7 834.2L690.3 833.6L691.9 832.2L692.1 832.0L693.5 830.8L694.5 829.9L695.1 829.3L696.7 827.9L696.9 827.7L698.3 826.5L699.3 825.5L699.9 825.0L701.5 823.6L701.8 823.4L703.1 822.2L704.2 821.2L704.6 820.7L706.2 819.3L706.6 819.0L707.8 817.9L709.0 816.7L709.3 816.4L710.9 815.0L711.4 814.5L712.4 813.6L713.8 812.3L713.9 812.1L715.5 810.7L716.2 810.0L717.0 809.3L718.5 807.8L718.6 807.8L720.1 806.4L721.0 805.5L721.6 805.0L723.1 803.5L723.4 803.2L724.6 802.1L725.8 800.9L726.1 800.7L727.6 799.2L728.2 798.6L729.1 797.8L730.5 796.4L730.7 796.3L732.0 794.9L733.1 793.9L733.5 793.5L735.0 792.1L735.5 791.6L736.4 790.6L737.9 789.2L737.9 789.2L739.3 787.8L740.3 786.8L740.8 786.3L742.2 784.9L742.7 784.4L743.7 783.5L745.1 782.0L745.1 782.0L746.5 780.6L747.5 779.6L747.9 779.2L749.4 777.7L749.9 777.2L750.8 776.3L752.2 774.9L752.3 774.7L753.6 773.4L754.7 772.3L755.0 772.0L756.4 770.6L757.2 769.8L757.8 769.1L759.2 767.7L759.6 767.3L760.6 766.3L762.0 764.8L762.0 764.8L763.3 763.4L764.4 762.3L764.7 762.0L766.1 760.5L766.8 759.8L767.4 759.1L768.8 757.7L769.2 757.3L770.2 756.2L771.5 754.8L771.6 754.7L772.9 753.4L774.0 752.1L774.2 751.9L775.6 750.5L776.4 749.6L776.9 749.1L778.2 747.6L778.8 747.0L779.6 746.2L780.9 744.8L781.2 744.4L782.2 743.3L783.5 741.9L783.7 741.8L784.9 740.5L786.1 739.2L786.2 739.0L787.5 737.6L788.5 736.5L788.8 736.2L790.1 734.7L790.9 733.9L791.4 733.3L792.7 731.9L793.3 731.2L794.0 730.4L795.3 729.0L795.7 728.5L796.6 727.6L797.9 726.1L798.1 725.9L799.1 724.7L800.4 723.3L800.5 723.2L801.7 721.8L802.9 720.5L803.0 720.4L804.2 719.0L805.3 717.7L805.5 717.5L806.8 716.1L807.7 715.0L808.0 714.7L809.3 713.2L810.1 712.3L810.6 711.8L811.8 710.4L812.6 709.5L813.1 708.9L814.3 707.5L815.0 706.7L815.6 706.1L816.8 704.6L817.4 704.0L818.0 703.2L819.3 701.8L819.8 701.2L820.5 700.3L821.7 698.9L822.2 698.4L823.0 697.5L824.2 696.0L824.6 695.5L825.4 694.6L826.6 693.2L827.0 692.7L827.9 691.7L829.1 690.3L829.4 689.9L830.3 688.9L831.5 687.4L831.8 687.0L832.7 686.0L833.9 684.6L834.2 684.2L835.1 683.1L836.3 681.7L836.6 681.3L837.5 680.3L838.7 678.8L839.1 678.4L839.9 677.4L841.1 676.0L841.5 675.5L842.3 674.5L843.5 673.1L843.9 672.6L844.7 671.7L845.9 670.2L846.3 669.7L847.0 668.8L848.2 667.4L848.7 666.8L849.4 665.9L850.6 664.5L851.1 663.9L851.7 663.1L852.9 661.6L853.5 660.9L854.1 660.2L855.3 658.8L855.9 657.9L856.4 657.3L857.6 655.9L858.3 655.0L858.7 654.5L859.9 653.0L860.7 652.0L861.1 651.6L862.2 650.2L863.1 649.0L863.4 648.7L864.5 647.3L865.6 646.0L865.7 645.9L866.8 644.4L868.0 643.0L868.0 643.0L869.1 641.6L870.2 640.1L870.4 640.0L871.4 638.7L872.5 637.3L872.8 636.9L873.7 635.8L874.8 634.4L875.2 633.9L875.9 633.0L877.1 631.5L877.6 630.8L878.2 630.1L879.3 628.7L880.0 627.8L880.4 627.2L881.6 625.8L882.4 624.7L882.7 624.4L883.8 622.9L884.8 621.6L884.9 621.5L886.0 620.1L887.1 618.6L887.2 618.5L888.2 617.2L889.4 615.8L889.6 615.4L890.5 614.3L891.6 612.9L892.0 612.3L892.7 611.5L893.8 610.0L894.5 609.1L894.9 608.6L896.0 607.2M942.6 544.2L942.7 544.1L943.8 542.6L944.8 541.2L945.0 540.8L945.8 539.8L946.8 538.3L947.5 537.5L947.9 536.9L948.9 535.5L949.9 534.1L949.9 534.0L950.9 532.6L951.9 531.2L952.3 530.7L952.9 529.7L954.0 528.3L954.7 527.3L955.0 526.9L956.0 525.4L957.0 524.0L957.1 523.9L958.0 522.6L959.0 521.1L959.5 520.5L960.0 519.7L961.0 518.3L961.9 517.0L962.0 516.8L963.0 515.4L964.0 514.0L964.3 513.6L965.0 512.5L966.0 511.1L966.7 510.1L967.0 509.7L968.0 508.2L969.0 506.8L969.1 506.6L970.0 505.4L971.0 503.9L971.5 503.2L972.0 502.5L973.0 501.1L973.9 499.7L974.0 499.6L975.0 498.2L975.9 496.8L976.4 496.2L976.9 495.3L977.9 493.9L978.8 492.6L978.9 492.5L979.9 491.0L980.8 489.6L981.2 489.1L981.8 488.2L982.8 486.7L983.6 485.6L983.8 485.3L984.8 483.9L985.7 482.4L986.0 482.0L986.7 481.0L987.7 479.6L988.4 478.5L988.6 478.1L989.6 476.7L990.6 475.3L990.8 474.9L991.5 473.8L992.5 472.4L993.2 471.3L993.5 471.0L994.4 469.5L995.4 468.1L995.6 467.8L996.4 466.7L997.3 465.2L998.0 464.2L998.3 463.8L999.2 462.4L1000.2 460.9L1000.4 460.5L1001.1 459.5L1002.1 458.1L1002.9 456.9L1003.0 456.6L1004.0 455.2L1005.0 453.8L1005.3 453.3L1005.9 452.3L1006.9 450.9L1007.7 449.7L1007.8 449.5L1008.7 448.0L1009.7 446.6L1010.1 446.0L1010.6 445.2L1011.6 443.7L1012.5 442.4L1012.5 442.3L1013.5 440.9L1014.4 439.4L1014.9 438.7L1015.3 438.0L1016.3 436.6L1017.2 435.1L1017.3 435.0L1018.2 433.7L1019.1 432.3L1019.7 431.3L1020.0 430.8L1021.0 429.4L1021.9 428.0L1022.1 427.6L1022.8 426.5L1023.8 425.1L1024.5 423.9L1024.7 423.7L1025.6 422.2L1026.6 420.8L1026.9 420.2L1027.5 419.4L1028.4 417.9L1029.4 416.5L1029.4 416.5L1030.3 415.1L1031.2 413.6L1031.8 412.8L1032.1 412.2L1033.1 410.8L1034.0 409.3L1034.2 409.1L1034.9 407.9L1035.8 406.5L1036.6 405.3L1036.8 405.0L1037.7 403.6L1038.6 402.2L1039.0 401.6L1039.5 400.7L1040.5 399.3L1041.4 397.9L1041.4 397.8L1042.3 396.4L1043.2 395.0L1043.8 394.1L1044.1 393.6L1045.1 392.1L1046.0 390.7L1046.2 390.3L1046.9 389.3L1047.8 387.8L1048.6 386.6L1048.7 386.4L1049.7 385.0L1050.6 383.5L1051.0 382.8L1051.5 382.1L1052.4 380.7L1053.3 379.2L1053.4 379.1L1054.2 377.8L1055.2 376.4L1055.8 375.3L1056.1 374.9L1057.0 373.5L1057.9 372.1L1058.3 371.5L1058.8 370.6L1059.7 369.2L1060.7 367.8L1060.7 367.7L1061.6 366.3L1062.5 364.9L1063.1 364.0L1063.4 363.5L1064.3 362.0L1065.2 360.6L1065.5 360.2L1066.1 359.2L1067.0 357.7L1067.9 356.4L1068.0 356.3L1068.9 354.9L1069.8 353.4L1070.3 352.6L1070.7 352.0L1071.6 350.6L1072.5 349.1L1072.7 348.8L1073.4 347.7L1074.3 346.3L1075.1 345.0L1075.3 344.8L1076.2 343.4L1077.1 342.0L1077.5 341.2L1078.0 340.5L1078.9 339.1L1079.8 337.7L1079.9 337.5L1080.7 336.2L1081.6 334.8L1082.3 333.7L1082.5 333.4L1083.4 331.9L1084.4 330.5L1084.8 329.9L1085.3 329.1L1086.2 327.6L1087.1 326.2L1087.2 326.1L1088.0 324.8L1088.9 323.3L1089.6 322.3L1089.8 321.9L1090.7 320.5L1091.6 319.0L1092.0 318.5L1092.5 317.6L1093.5 316.2L1094.4 314.7L1094.4 314.7L1095.3 313.3L1096.2 311.9L1096.8 310.9L1097.1 310.4L1098.0 309.0L1098.9 307.6L1099.2 307.1L1099.8 306.1L1100.7 304.7L1101.6 303.3L1101.6 303.3L1102.5 301.8L1103.5 300.4L1104.0 299.5L1104.4 299.0L1105.3 297.5L1106.2 296.1L1106.4 295.7L1107.1 294.7L1108.0 293.2L1108.8 291.9L1108.9 291.8L1109.8 290.4L1110.7 288.9L1111.3 288.1L1111.6 287.5L1112.5 286.1L1113.4 284.6L1113.7 284.3L1114.4 283.2L1115.3 281.8L1116.1 280.5L1116.2 280.3L1117.1 278.9L1118.0 277.5L1118.5 276.7L1118.9 276.0L1119.8 274.6L1120.7 273.2L1120.9 272.9L1121.6 271.7L1122.5 270.3L1123.3 269.1L1123.4 268.9L1124.4 267.4L1125.3 266.0L1125.7 265.3L1126.2 264.6L1127.1 263.1L1128.0 261.7L1128.1 261.5L1128.9 260.3L1129.8 258.8L1130.5 257.7L1130.7 257.4L1131.6 256.0L1132.5 254.5L1132.9 253.9L1133.4 253.1L1134.3 251.7L1135.3 250.2L1135.3 250.1M1177.1 184.3L1178.0 182.8L1178.7 181.8L1178.9 181.4L1179.8 180.0L1180.7 178.5L1181.1 178.0L1181.7 177.1L1182.6 175.7L1183.5 174.2L1183.5 174.2L1184.4 172.8L1185.3 171.4L1185.9 170.4L1186.2 169.9L1187.1 168.5L1188.0 167.1L1188.3 166.6L1188.9 165.6L1189.8 164.2L1190.7 162.8L1190.8 162.8L1191.7 161.3L1192.6 159.9L1193.2 159.0L1193.5 158.5L1194.4 157.0L1195.3 155.6L1195.6 155.2L1196.2 154.2L1197.1 152.7L1198.0 151.4L1198.0 151.3L1198.9 149.9L1199.9 148.4L1200.4 147.6L1200.8 147.0L1201.7 145.6L1202.6 144.1L1202.8 143.8L1203.5 142.7L1204.4 141.3L1205.2 140.0L1205.3 139.8L1206.2 138.4L1207.1 137.0L1207.6 136.2L1208.0 135.5L1209.0 134.1L1209.9 132.7L1210.0 132.4L1210.8 131.2L1211.7 129.8L1212.4 128.6L1212.6 128.4L1213.5 126.9L1214.4 125.5L1214.8 124.8L1215.3 124.1L1216.2 122.6L1217.1 121.2L1217.2 121.1L1218.1 119.8L1219.0 118.3L1219.6 117.3L1219.9 116.9L1220.8 115.5L1221.7 114.0L1222.1 113.5L1222.6 112.6L1223.5 111.2L1224.4 109.7L1224.5 109.7L1225.3 108.3L1226.2 106.9L1226.9 105.9L1227.2 105.4L1228.1 104.0L1229.0 102.6L1229.3 102.1L1229.9 101.1L1230.8 99.7L1231.7 98.3L1231.7 98.3L1232.6 96.8L1233.5 95.4L1234.1 94.5L1234.4 94.0L1235.3 92.5L1236.3 91.1L1236.5 90.7L1237.2 89.7L1238.1 88.2L1238.9 86.9L1239.0 86.8L1239.9 85.4L1240.8 83.9L1241.3 83.1L1241.7 82.5" stroke="#59cc78"/><path d="M189.4 1084.5L189.4 1083.1L189.7 1081.6L190.3 1080.2L191.1 1079.7L192.7 1078.8L193.5 1078.5L195.9 1077.7L197.0 1077.3L198.3 1077.0L200.7 1076.3L202.1 1075.9L203.1 1075.6L205.5 1075.0L207.4 1074.5L207.9 1074.3L210.4 1073.7L212.7 1073.0L212.8 1073.0L215.2 1072.3L217.6 1071.7L217.9 1071.6L220.0 1071.1L222.4 1070.4L223.4 1070.2L224.8 1069.8L227.2 1069.2L229.4 1068.7L229.6 1068.7L232.0 1068.1L234.4 1067.6L235.9 1067.3L236.8 1067.1L239.3 1066.6M316.3 1051.1L318.7 1050.5L320.5 1050.1L321.2 1049.9L323.6 1049.3L326.0 1048.7L326.1 1048.7L328.4 1048.0L330.8 1047.4L331.4 1047.2L333.2 1046.7L335.6 1046.1L336.6 1045.8L338.0 1045.4L340.4 1044.7L341.5 1044.4L342.8 1044.0L345.2 1043.2L346.3 1042.9L347.7 1042.5L350.1 1041.8L350.9 1041.5L352.5 1041.0L354.9 1040.2L355.4 1040.1L357.3 1039.4L359.7 1038.6L359.7 1038.6L362.1 1037.8L364.0 1037.2L364.5 1037.0L366.9 1036.2L368.2 1035.8L369.3 1035.3L371.7 1034.5L372.2 1034.3L374.2 1033.7L376.3 1032.9L376.6 1032.8L379.0 1031.9L380.3 1031.5L381.4 1031.1L383.8 1030.2L384.2 1030.0L386.2 1029.3L388.1 1028.6L388.6 1028.4L391.0 1027.5L392.0 1027.2L393.4 1026.6L395.8 1025.8L395.9 1025.7L398.2 1024.9L399.8 1024.3L400.6 1024.0L403.1 1023.1L403.7 1022.9L405.5 1022.2L407.6 1021.4L407.9 1021.3L410.3 1020.4L411.5 1020.0L412.7 1019.6L415.1 1018.7L415.5 1018.6L417.5 1017.8L419.4 1017.1L419.9 1016.9L422.3 1016.1L423.4 1015.7L424.7 1015.2L427.1 1014.3L427.3 1014.3L429.6 1013.4L431.3 1012.8L432.0 1012.6L434.4 1011.7L435.2 1011.4L436.8 1010.8L439.1 1010.0L439.2 1009.9L441.6 1009.1L443.0 1008.5L444.0 1008.2L446.4 1007.3L446.9 1007.1L448.8 1006.4L450.8 1005.7L451.2 1005.5L453.6 1004.6L454.6 1004.2L456.1 1003.7L458.4 1002.8L458.5 1002.8L460.9 1001.8L462.1 1001.4L463.3 1000.9L465.7 1000.0L465.8 999.9L468.1 999.0L469.4 998.5L470.5 998.1L472.9 997.1L473.0 997.1L475.3 996.1L476.6 995.6L477.7 995.2L480.1 994.2L480.1 994.2L482.5 993.2L483.5 992.8L485.0 992.2L487.0 991.3L487.4 991.2L489.8 990.1L490.3 989.9L492.2 989.1L493.7 988.5L494.6 988.1L497.0 987.0L497.0 987.0L499.4 986.0L500.3 985.6L501.8 984.9L503.5 984.2L504.2 983.8L506.6 982.8L506.8 982.7L509.0 981.7L510.0 981.3L511.5 980.6L513.1 979.9L513.9 979.5L516.3 978.4L516.3 978.4L518.7 977.3L519.4 977.0L521.1 976.2L522.5 975.6L523.5 975.1L525.6 974.1L525.9 974.0L528.3 972.8L528.6 972.7L530.7 971.7L531.7 971.3L533.1 970.6L534.7 969.8L535.5 969.4L537.7 968.4L538.0 968.3L540.4 967.1L540.7 967.0L542.8 965.9L543.6 965.5L545.2 964.8L546.6 964.1L547.6 963.6L549.5 962.7L550.0 962.4L552.4 961.2L552.4 961.2L554.8 960.0L555.3 959.8L557.2 958.9L558.2 958.4L559.6 957.6L561.1 956.9L562.0 956.4L563.9 955.5L564.4 955.2L566.8 954.1L566.9 954.0L569.3 952.8L569.6 952.6L571.7 951.5L572.4 951.2L574.1 950.3L575.1 949.8L576.5 949.1L577.9 948.3L578.9 947.8L580.6 946.9L581.3 946.5L583.3 945.5L583.7 945.2L586.0 944.0L586.1 944.0L588.5 942.7L588.7 942.6L590.9 941.4L591.3 941.2L593.4 940.0L594.0 939.7L595.8 938.7L596.6 938.3L598.2 937.4L599.1 936.9L600.6 936.0L601.7 935.4L603.0 934.7L604.2 934.0L605.4 933.3L606.8 932.6L607.8 932.0L609.3 931.1L610.2 930.6L611.7 929.7L612.6 929.2L614.2 928.3L615.0 927.8L616.6 926.8L617.4 926.3L619.1 925.4L619.9 924.9L621.5 924.0L622.3 923.5L623.8 922.5L624.7 922.0L626.2 921.1L627.1 920.5L628.5 919.7L629.5 919.1L630.9 918.2L631.9 917.6L633.2 916.8L634.3 916.1L635.5 915.3M699.3 870.9L699.4 870.9L701.3 869.5L701.8 869.1L703.2 868.0L704.2 867.3L705.0 866.6L706.6 865.4L706.9 865.2L708.7 863.7L709.0 863.6L710.6 862.3L711.4 861.7L712.4 860.9L713.8 859.8L714.3 859.4L716.1 858.0L716.2 857.9L717.9 856.6L718.6 856.0L719.7 855.1L721.0 854.1L721.5 853.7L723.3 852.3L723.4 852.2L725.1 850.8L725.8 850.2L726.9 849.4L728.2 848.3L728.6 848.0L730.4 846.5L730.7 846.3L732.1 845.1L733.1 844.4L733.9 843.7L735.5 842.4L735.6 842.2L737.4 840.8L737.9 840.4L739.1 839.4L740.3 838.4L740.8 837.9L742.5 836.5L742.7 836.4L744.2 835.1L745.1 834.3L745.9 833.6L747.5 832.3L747.6 832.2L749.3 830.8L749.9 830.2L751.0 829.3L752.3 828.2L752.6 827.9L754.3 826.5L754.7 826.1L756.0 825.0L757.2 824.0L757.6 823.6L759.2 822.2L759.6 821.9L760.9 820.7L762.0 819.8L762.5 819.3L764.1 817.9L764.4 817.7L765.8 816.4L766.8 815.5L767.4 815.0L769.0 813.6L769.2 813.4L770.6 812.1L771.6 811.2L772.2 810.7L773.8 809.3L774.0 809.0L775.3 807.8L776.4 806.9L776.9 806.4L778.5 805.0L778.8 804.7L780.1 803.5L781.2 802.4L781.6 802.1L783.2 800.7L783.7 800.2L784.7 799.2L786.1 798.0L786.3 797.8L787.8 796.4L788.5 795.7L789.3 794.9L790.9 793.5L790.9 793.5L792.4 792.1L793.3 791.2L793.9 790.6L795.4 789.2L795.7 788.9L796.9 787.8L798.1 786.6L798.4 786.3L799.9 784.9L800.5 784.3L801.4 783.5L802.9 782.0L802.9 782.0L804.4 780.6L805.3 779.7L805.9 779.2L807.3 777.7L807.7 777.3L808.8 776.3L810.1 775.0L810.3 774.9L811.7 773.4L812.6 772.6L813.2 772.0L814.6 770.6L815.0 770.2L816.1 769.1L817.4 767.9L817.5 767.7L819.0 766.3L819.8 765.4L820.4 764.8L821.8 763.4L822.2 763.0L823.3 762.0L824.6 760.6L824.7 760.5L826.1 759.1L827.0 758.2L827.5 757.7L828.9 756.2L829.4 755.7L830.3 754.8L831.7 753.4L831.8 753.3L833.1 751.9L834.2 750.8L834.5 750.5L835.9 749.1L836.6 748.3L837.3 747.6L838.7 746.2L839.1 745.8L840.1 744.8L841.4 743.3L841.5 743.3L842.8 741.9L843.9 740.8L844.2 740.5L845.5 739.0L846.3 738.2L846.9 737.6L848.3 736.2L848.7 735.7L849.6 734.7L851.0 733.3L851.1 733.2L852.3 731.9L853.5 730.6L853.7 730.4L855.0 729.0L855.9 728.0L856.3 727.6L857.7 726.1L858.3 725.4L859.0 724.7L860.3 723.3L860.7 722.8L861.7 721.8L863.0 720.4L863.1 720.2L864.3 719.0L865.6 717.6L865.6 717.5L866.9 716.1L868.0 715.0L868.2 714.7L869.5 713.2L870.4 712.3L870.9 711.8L872.2 710.4L872.8 709.7L873.5 708.9L874.7 707.5L875.2 707.0L876.0 706.1L877.3 704.6L877.6 704.3L878.6 703.2L879.9 701.8L880.0 701.7L881.2 700.3L882.4 699.0L882.5 698.9L883.7 697.5L884.8 696.3L885.0 696.0L886.3 694.6L887.2 693.5L887.6 693.2L888.8 691.7L889.6 690.8L890.1 690.3L891.4 688.9L892.0 688.1L892.6 687.4L893.9 686.0L894.5 685.3L895.1 684.6L896.4 683.1L896.9 682.6L897.6 681.7L898.9 680.3L899.3 679.8L900.1 678.8L901.4 677.4L901.7 677.0L902.6 676.0L903.9 674.5L904.1 674.3L905.1 673.1L906.3 671.7L906.5 671.5L907.6 670.2L908.8 668.8L908.9 668.7L910.0 667.4L911.2 665.9L911.3 665.8L912.5 664.5L913.7 663.1L913.7 663.0L914.9 661.6L916.1 660.2L916.1 660.2L917.3 658.8L918.5 657.3L918.6 657.3L919.8 655.9L921.0 654.5L921.0 654.5L922.2 653.0L923.4 651.6L923.4 651.6L924.6 650.2L925.8 648.8L925.8 648.7L927.0 647.3L928.2 645.9L928.2 645.9L929.4 644.4L930.6 643.0L930.6 643.0L931.8 641.6L933.0 640.1L933.0 640.1L934.1 638.7L935.3 637.3L935.4 637.2L936.5 635.8L937.7 634.4L937.8 634.2L938.9 633.0L940.1 631.5L940.2 631.3L941.2 630.1L942.4 628.7L942.6 628.4L943.6 627.2L944.7 625.8L945.0 625.4L945.9 624.4L947.1 622.9L947.5 622.5L948.2 621.5L949.4 620.1L949.9 619.5M998.8 557.0L999.9 555.5L1000.4 554.9L1001.0 554.1L1002.1 552.7L1002.9 551.7L1003.2 551.2L1004.3 549.8L1005.3 548.5L1005.3 548.4L1006.4 546.9L1007.5 545.5L1007.7 545.3L1008.6 544.1L1009.7 542.6L1010.1 542.1L1010.7 541.2L1011.8 539.8L1012.5 538.9L1012.9 538.3L1013.9 536.9L1014.9 535.6L1015.0 535.5L1016.1 534.0L1017.1 532.6L1017.3 532.4L1018.2 531.2L1019.3 529.7L1019.7 529.1L1020.3 528.3L1021.4 526.9L1022.1 525.9L1022.4 525.4L1023.5 524.0L1024.5 522.6L1024.5 522.6L1025.6 521.1L1026.6 519.7L1026.9 519.3L1027.7 518.3L1028.7 516.8L1029.4 516.0L1029.8 515.4L1030.8 514.0L1031.8 512.7L1031.9 512.5L1032.9 511.1L1034.0 509.7L1034.2 509.4L1035.0 508.2L1036.0 506.8L1036.6 506.1L1037.1 505.4L1038.1 503.9L1039.0 502.7L1039.2 502.5L1040.2 501.1L1041.2 499.6L1041.4 499.4L1042.3 498.2L1043.3 496.8L1043.8 496.1L1044.3 495.3L1045.3 493.9L1046.2 492.7L1046.4 492.5L1047.4 491.0L1048.4 489.6L1048.6 489.3L1049.4 488.2L1050.5 486.7L1051.0 486.0L1051.5 485.3L1052.5 483.9L1053.4 482.6L1053.5 482.4L1054.5 481.0L1055.6 479.6L1055.8 479.2L1056.6 478.1L1057.6 476.7L1058.3 475.8L1058.6 475.3L1059.6 473.8L1060.6 472.4L1060.7 472.4L1061.6 471.0L1062.6 469.5L1063.1 468.9L1063.7 468.1L1064.7 466.7L1065.5 465.5L1065.7 465.2L1066.7 463.8L1067.7 462.4L1067.9 462.1L1068.7 460.9L1069.7 459.5L1070.3 458.6L1070.7 458.1L1071.7 456.6L1072.7 455.2L1072.7 455.1L1073.7 453.8L1074.7 452.3L1075.1 451.7L1075.7 450.9L1076.7 449.5L1077.5 448.2L1077.6 448.0L1078.6 446.6L1079.6 445.2L1079.9 444.7L1080.6 443.7L1081.6 442.3L1082.3 441.2L1082.6 440.9L1083.6 439.4L1084.6 438.0L1084.8 437.7L1085.5 436.6L1086.5 435.1L1087.2 434.2L1087.5 433.7L1088.5 432.3L1089.5 430.8L1089.6 430.7L1090.5 429.4L1091.4 428.0L1092.0 427.2L1092.4 426.5L1093.4 425.1L1094.4 423.7L1094.4 423.7L1095.4 422.2L1096.3 420.8L1096.8 420.1L1097.3 419.4L1098.3 417.9L1099.2 416.6L1099.3 416.5L1100.2 415.1L1101.2 413.6L1101.6 413.0L1102.2 412.2L1103.2 410.8L1104.0 409.5L1104.1 409.3L1105.1 407.9L1106.1 406.5L1106.4 405.9L1107.0 405.0L1108.0 403.6L1108.8 402.4L1109.0 402.2L1109.9 400.7L1110.9 399.3L1111.3 398.8L1111.9 397.9L1112.8 396.4L1113.7 395.2L1113.8 395.0L1114.8 393.6L1115.7 392.1L1116.1 391.6L1116.7 390.7L1117.7 389.3L1118.5 388.0L1118.6 387.8L1119.6 386.4L1120.5 385.0L1120.9 384.5L1121.5 383.5L1122.5 382.1L1123.3 380.9L1123.4 380.7L1124.4 379.2L1125.3 377.8L1125.7 377.3L1126.3 376.4L1127.3 374.9L1128.1 373.7L1128.2 373.5L1129.2 372.1L1130.1 370.6L1130.5 370.1L1131.1 369.2L1132.1 367.8L1132.9 366.4L1133.0 366.3L1134.0 364.9L1134.9 363.5L1135.3 362.8L1135.9 362.0L1136.8 360.6L1137.7 359.2L1137.8 359.2L1138.7 357.7L1139.7 356.3L1140.2 355.6L1140.6 354.9L1141.6 353.4L1142.6 352.0L1142.6 352.0L1143.5 350.6L1144.5 349.1L1145.0 348.3L1145.4 347.7L1146.4 346.3L1147.3 344.8L1147.4 344.7L1148.3 343.4L1149.2 342.0L1149.8 341.1L1150.2 340.5L1151.1 339.1L1152.1 337.7L1152.2 337.5L1153.0 336.2L1154.0 334.8L1154.6 333.8L1154.9 333.4L1155.9 331.9L1156.8 330.5L1157.0 330.2L1157.8 329.1L1158.7 327.6L1159.4 326.5L1159.7 326.2L1160.6 324.8L1161.5 323.3L1161.8 322.9L1162.5 321.9L1163.4 320.5L1164.2 319.2L1164.4 319.0L1165.3 317.6L1166.3 316.2L1166.7 315.6L1167.2 314.7L1168.2 313.3L1169.1 311.9L1169.1 311.9L1170.1 310.4L1171.0 309.0L1171.5 308.3L1172.0 307.6L1172.9 306.1L1173.8 304.7L1173.9 304.6L1174.8 303.3L1175.7 301.8L1176.3 301.0L1176.7 300.4L1177.6 299.0L1178.6 297.5L1178.7 297.3L1179.5 296.1L1180.5 294.7L1181.1 293.7L1181.4 293.2L1182.3 291.8L1183.3 290.4L1183.5 290.0L1184.2 288.9L1185.2 287.5L1185.9 286.3L1186.1 286.1L1187.1 284.6L1188.0 283.2L1188.3 282.7L1188.9 281.8L1189.9 280.3L1190.7 279.0L1190.8 278.9L1191.8 277.5L1192.7 276.0L1193.2 275.3L1193.6 274.6L1194.6 273.2L1195.5 271.7L1195.6 271.7L1196.5 270.3L1197.4 268.9L1198.0 268.0L1198.3 267.4L1199.3 266.0M1242.4 200.0L1243.3 198.6L1243.7 198.0L1244.2 197.2L1245.2 195.7L1246.1 194.3L1246.1 194.3L1247.1 192.9L1248.0 191.4L1248.6 190.6L1248.9 190.0L1249.9 188.6L1250.8 187.1L1251.0 186.9L1251.7 185.7L1252.6 184.3L1253.4 183.2L1253.6 182.8L1254.5 181.4L1255.4 180.0L1255.8 179.5L1256.4 178.5L1257.3 177.1L1258.2 175.8L1258.2 175.7L1259.2 174.2L1260.1 172.8L1260.6 172.1L1261.0 171.4L1262.0 169.9L1262.9 168.5L1263.0 168.4L1263.8 167.1L1264.8 165.6L1265.4 164.6L1265.7 164.2L1266.6 162.8L1267.6 161.3L1267.8 160.9L1268.5 159.9L1269.4 158.5L1270.2 157.2L1270.4 157.0L1271.3 155.6L1272.2 154.2L1272.6 153.5L1273.1 152.7L1274.1 151.3L1275.0 149.9L1275.1 149.8L1275.9 148.4L1276.9 147.0L1277.5 146.1L1277.8 145.6L1278.7 144.1L1279.7 142.7L1279.9 142.4L1280.6 141.3L1281.5 139.8L1282.3 138.7L1282.5 138.4L1283.4 137.0L1284.3 135.5L1284.7 135.0L1285.2 134.1L1286.2 132.7L1287.1 131.2L1287.1 131.2L1288.0 129.8L1289.0 128.4L1289.5 127.5L1289.9 126.9L1290.8 125.5L1291.7 124.1L1291.9 123.8L1292.7 122.6L1293.6 121.2L1294.3 120.1L1294.5 119.8L1295.5 118.3L1296.4 116.9L1296.7 116.4L1297.3 115.5L1298.3 114.0L1299.1 112.7L1299.2 112.6L1300.1 111.2L1301.0 109.7L1301.5 109.0L1302.0 108.3L1302.9 106.9L1303.8 105.4L1304.0 105.2L1304.8 104.0L1305.7 102.6L1306.4 101.5L1306.6 101.1L1307.5 99.7L1308.5 98.3L1308.8 97.8L1309.4 96.8L1310.3 95.4L1311.2 94.1L1311.3 94.0L1312.2 92.5L1313.1 91.1L1313.6 90.4L1314.1 89.7L1315.0 88.2L1315.9 86.8L1316.0 86.7" stroke="#70cd65"/><path d="M236.2 1084.5L236.2 1083.1L236.7 1081.6L236.8 1081.5L238.3 1080.2L239.3 1079.8L241.7 1078.8L241.7 1078.8L244.1 1078.1L246.5 1077.4L246.7 1077.3L248.9 1076.8L251.3 1076.2L252.3 1075.9L253.7 1075.5L256.1 1074.9L257.9 1074.5M318.7 1061.1L321.2 1060.6L323.5 1060.1L323.6 1060.1L326.0 1059.6L328.4 1059.1L330.5 1058.7L330.8 1058.6L333.2 1058.1L335.6 1057.6L337.2 1057.3L338.0 1057.1L340.4 1056.6L342.8 1056.0L343.7 1055.8L345.2 1055.5L347.7 1054.9L349.8 1054.4L350.1 1054.3L352.5 1053.7L354.9 1053.1L355.6 1053.0L357.3 1052.5L359.7 1051.9L361.1 1051.5L362.1 1051.3L364.5 1050.6L366.4 1050.1L366.9 1050.0L369.3 1049.3L371.5 1048.7L371.7 1048.6L374.2 1047.9L376.4 1047.2L376.6 1047.2L379.0 1046.4L381.1 1045.8L381.4 1045.7L383.8 1045.0L385.7 1044.4L386.2 1044.2L388.6 1043.4L390.2 1042.9L391.0 1042.6L393.4 1041.9L394.5 1041.5L395.8 1041.1L398.2 1040.3L398.8 1040.1L400.6 1039.4L403.1 1038.6L403.1 1038.6L405.5 1037.8L407.2 1037.2L407.9 1037.0L410.3 1036.1L411.4 1035.8L412.7 1035.3L415.1 1034.5L415.5 1034.3L417.5 1033.6L419.6 1032.9L419.9 1032.8L422.3 1032.0L423.8 1031.5L424.7 1031.1L427.1 1030.3L427.9 1030.0L429.6 1029.5L432.0 1028.6L432.0 1028.6L434.4 1027.8L436.2 1027.2L436.8 1027.0L439.2 1026.1L440.4 1025.7L441.6 1025.3L444.0 1024.5L444.6 1024.3L446.4 1023.7L448.8 1022.9L448.8 1022.9L451.2 1022.1L453.1 1021.4L453.6 1021.2L456.1 1020.4L457.4 1020.0L458.5 1019.6L460.9 1018.8L461.7 1018.6L463.3 1018.0L465.7 1017.2L466.0 1017.1L468.1 1016.4L470.3 1015.7L470.5 1015.6L472.9 1014.8L474.6 1014.3L475.3 1014.0L477.7 1013.2L478.9 1012.8L480.1 1012.4L482.5 1011.6L483.2 1011.4L485.0 1010.8L487.4 1010.0L487.4 1010.0L489.8 1009.1L491.6 1008.5L492.2 1008.3L494.6 1007.5L495.7 1007.1L497.0 1006.6L499.4 1005.8L499.8 1005.7L501.8 1004.9L503.8 1004.2L504.2 1004.1L506.6 1003.2L507.8 1002.8L509.0 1002.3L511.5 1001.5L511.7 1001.4L513.9 1000.6L515.6 999.9L516.3 999.7L518.7 998.8L519.4 998.5L521.1 997.8L523.1 997.1L523.5 996.9L525.9 996.0L526.8 995.6L528.3 995.0L530.4 994.2L530.7 994.1L533.1 993.1L534.0 992.8L535.5 992.1L537.5 991.3L538.0 991.1L540.4 990.1L541.0 989.9L542.8 989.1L544.4 988.5L545.2 988.1L547.6 987.1L547.8 987.0L550.0 986.1L551.1 985.6L552.4 985.0L554.4 984.2L554.8 984.0L557.2 982.9L557.7 982.7L559.6 981.9L560.9 981.3L562.0 980.8L564.2 979.9L564.4 979.7L566.9 978.6L567.3 978.4L569.3 977.6L570.5 977.0L571.7 976.5L573.6 975.6L574.1 975.4L576.5 974.2L576.8 974.1L578.9 973.1L579.8 972.7L581.3 972.0L582.9 971.3L583.7 970.9L586.0 969.8L586.1 969.7L588.5 968.6L589.0 968.4L590.9 967.5L592.0 967.0L593.4 966.3L595.0 965.5L595.8 965.2L598.0 964.1L598.2 964.0L600.6 962.8L601.0 962.7L603.0 961.7L603.9 961.2L605.4 960.5L606.9 959.8L607.8 959.3L609.8 958.4L610.2 958.1L612.6 957.0L612.7 956.9L615.0 955.8L615.6 955.5L617.4 954.6L618.5 954.1L619.9 953.4L621.3 952.6L622.3 952.1L624.2 951.2L624.7 950.9L627.0 949.8L627.1 949.7L629.5 948.5L629.8 948.3L631.9 947.2L632.6 946.9L634.3 946.0L635.3 945.5L636.7 944.7L638.1 944.0L639.1 943.5L640.8 942.6L641.5 942.2L643.5 941.2L643.9 940.9L646.2 939.7L646.3 939.6L648.8 938.3L648.8 938.3L651.2 937.0L651.5 936.9L653.6 935.7L654.1 935.4L656.0 934.4L656.7 934.0L658.4 933.1L659.3 932.6L660.8 931.7L661.9 931.1M716.2 898.5L716.7 898.1L718.6 896.9L718.9 896.7L721.0 895.3L721.1 895.3L723.2 893.8L723.4 893.7L725.4 892.4L725.8 892.1L727.5 891.0L728.2 890.5L729.7 889.5L730.7 888.9L731.8 888.1L733.1 887.3L733.9 886.7L735.5 885.6L736.0 885.2L737.9 884.0L738.1 883.8L740.2 882.4L740.3 882.3L742.3 880.9L742.7 880.6L744.3 879.5L745.1 879.0L746.4 878.1L747.5 877.3L748.4 876.6L749.9 875.6L750.4 875.2L752.3 873.8L752.4 873.8L754.4 872.3L754.7 872.1L756.4 870.9L757.2 870.4L758.4 869.5L759.6 868.6L760.4 868.0L762.0 866.9L762.3 866.6L764.3 865.2L764.4 865.1L766.2 863.7L766.8 863.3L768.2 862.3L769.2 861.5L770.1 860.9L771.6 859.7L772.0 859.4L773.9 858.0L774.0 857.9L775.8 856.6L776.4 856.1L777.7 855.1L778.8 854.2L779.5 853.7L781.2 852.4L781.4 852.3L783.3 850.8L783.7 850.5L785.1 849.4L786.1 848.7L786.9 848.0L788.5 846.8L788.8 846.5L790.6 845.1L790.9 844.9L792.4 843.7L793.3 843.0L794.2 842.2L795.7 841.1L796.0 840.8L797.8 839.4L798.1 839.1L799.6 837.9L800.5 837.2L801.4 836.5L802.9 835.2L803.1 835.1L804.9 833.6L805.3 833.3L806.6 832.2L807.7 831.3L808.4 830.8L810.1 829.3L810.1 829.3L811.8 827.9L812.6 827.3L813.6 826.5L815.0 825.3L815.3 825.0L817.0 823.6L817.4 823.3L818.7 822.2L819.8 821.2L820.4 820.7L822.1 819.3L822.2 819.2L823.7 817.9L824.6 817.1L825.4 816.4L827.0 815.1L827.1 815.0L828.7 813.6L829.4 813.0L830.4 812.1L831.8 810.9L832.1 810.7L833.7 809.3L834.2 808.8L835.3 807.8L836.6 806.7L837.0 806.4L838.6 805.0L839.1 804.6L840.2 803.5L841.5 802.4L841.8 802.1L843.4 800.7L843.9 800.3L845.0 799.2L846.3 798.1L846.6 797.8L848.2 796.4L848.7 795.9L849.8 794.9L851.1 793.8L851.4 793.5L852.9 792.1L853.5 791.6L854.5 790.6L855.9 789.4L856.1 789.2L857.6 787.8L858.3 787.1L859.2 786.3L860.7 784.9L860.7 784.9L862.3 783.5L863.1 782.7L863.8 782.0L865.4 780.6L865.6 780.4L866.9 779.2L868.0 778.2L868.4 777.7L869.9 776.3L870.4 775.9L871.4 774.9L872.8 773.6L872.9 773.4L874.5 772.0L875.2 771.3L876.0 770.6L877.5 769.1L877.6 769.0L878.9 767.7L880.0 766.7L880.4 766.3L881.9 764.8L882.4 764.4L883.4 763.4L884.8 762.0L884.9 762.0L886.3 760.5L887.2 759.7L887.8 759.1L889.3 757.7L889.6 757.3L890.7 756.2L892.0 754.9L892.2 754.8L893.6 753.4L894.5 752.6L895.1 751.9L896.5 750.5L896.9 750.2L898.0 749.1L899.3 747.8L899.4 747.6L900.9 746.2L901.7 745.4L902.3 744.8L903.7 743.3L904.1 742.9L905.1 741.9L906.5 740.5L906.6 740.5L908.0 739.0L908.9 738.1L909.4 737.6L910.8 736.2L911.3 735.6L912.2 734.7L913.6 733.3L913.7 733.2L915.0 731.9L916.1 730.7L916.4 730.4L917.8 729.0L918.5 728.2L919.2 727.6L920.6 726.1L921.0 725.7L922.0 724.7L923.3 723.3L923.4 723.2L924.7 721.8L925.8 720.7L926.1 720.4L927.5 719.0L928.2 718.2L928.8 717.5L930.2 716.1L930.6 715.7L931.6 714.7L932.9 713.2L933.0 713.2L934.3 711.8L935.4 710.6L935.7 710.4L937.0 708.9L937.8 708.1L938.4 707.5L939.7 706.1L940.2 705.5L941.1 704.6L942.4 703.2L942.6 702.9L943.7 701.8L945.0 700.4L945.1 700.3L946.4 698.9L947.5 697.8L947.7 697.5L949.1 696.0L949.9 695.2L950.4 694.6L951.7 693.2L952.3 692.6L953.0 691.7L954.4 690.3L954.7 690.0L955.7 688.9L957.0 687.4L957.1 687.3L958.3 686.0L959.5 684.7L959.6 684.6L960.9 683.1L961.9 682.1L962.2 681.7L963.5 680.3L964.3 679.4L964.8 678.8L966.1 677.4L966.7 676.8L967.4 676.0L968.7 674.5L969.1 674.1L970.0 673.1L971.3 671.7L971.5 671.4L972.6 670.2L973.9 668.8L973.9 668.7L975.2 667.4L976.4 666.0L976.5 665.9L977.7 664.5L978.8 663.3L979.0 663.1L980.3 661.6L981.2 660.6L981.6 660.2L982.8 658.8L983.6 657.9L984.1 657.3L985.4 655.9L986.0 655.2L986.6 654.5L987.9 653.0L988.4 652.5L989.2 651.6M1029.4 604.6L1029.6 604.3L1030.8 602.9L1031.8 601.7L1032.0 601.4L1033.2 600.0L1034.2 598.8L1034.4 598.6L1035.6 597.1L1036.6 595.9L1036.8 595.7L1037.9 594.3L1039.0 593.0L1039.1 592.8L1040.3 591.4L1041.4 590.1L1041.5 590.0L1042.7 588.5L1043.8 587.1L1043.8 587.1L1045.0 585.7L1046.2 584.2L1046.2 584.2L1047.3 582.8L1048.5 581.3L1048.6 581.2L1049.7 579.9L1050.8 578.5L1051.0 578.2L1052.0 577.0L1053.2 575.6L1053.4 575.3L1054.3 574.2L1055.5 572.7L1055.8 572.3L1056.6 571.3L1057.8 569.9L1058.3 569.3L1058.9 568.4L1060.1 567.0L1060.7 566.3L1061.2 565.6L1062.4 564.1L1063.1 563.3L1063.5 562.7L1064.7 561.3L1065.5 560.3L1065.8 559.8L1067.0 558.4L1067.9 557.2L1068.1 557.0L1069.2 555.5L1070.3 554.2L1070.4 554.1L1071.5 552.7L1072.6 551.2L1072.7 551.2L1073.8 549.8L1074.9 548.4L1075.1 548.1L1076.0 546.9L1077.2 545.5L1077.5 545.0L1078.3 544.1L1079.4 542.6L1079.9 542.0L1080.5 541.2L1081.7 539.8L1082.3 538.9L1082.8 538.3L1083.9 536.9L1084.8 535.8L1085.0 535.5L1086.1 534.0L1087.2 532.7L1087.2 532.6L1088.4 531.2L1089.5 529.7L1089.6 529.6L1090.6 528.3L1091.7 526.9L1092.0 526.5L1092.8 525.4L1093.9 524.0L1094.4 523.4L1095.0 522.6L1096.1 521.1L1096.8 520.2L1097.2 519.7L1098.3 518.3L1099.2 517.1L1099.4 516.8L1100.5 515.4L1101.6 514.0L1101.6 513.9L1102.7 512.5L1103.8 511.1L1104.0 510.8L1104.9 509.7L1105.9 508.2L1106.4 507.6L1107.0 506.8L1108.1 505.4L1108.8 504.4L1109.2 503.9L1110.3 502.5L1111.3 501.2L1111.4 501.1L1112.5 499.6L1113.5 498.2L1113.7 498.0L1114.6 496.8L1115.7 495.3L1116.1 494.8L1116.8 493.9L1117.8 492.5L1118.5 491.6L1118.9 491.0L1120.0 489.6L1120.9 488.4L1121.0 488.2L1122.1 486.7L1123.2 485.3L1123.3 485.2L1124.3 483.9L1125.3 482.4L1125.7 481.9L1126.4 481.0L1127.4 479.6L1128.1 478.7L1128.5 478.1L1129.6 476.7L1130.5 475.4L1130.6 475.3L1131.7 473.8L1132.7 472.4L1132.9 472.1L1133.8 471.0L1134.8 469.5L1135.3 468.9L1135.9 468.1L1136.9 466.7L1137.7 465.6L1138.0 465.2L1139.0 463.8L1140.1 462.4L1140.2 462.3L1141.1 460.9L1142.2 459.5L1142.6 459.0L1143.2 458.1L1144.3 456.6L1145.0 455.6L1145.3 455.2L1146.3 453.8L1147.4 452.3L1147.4 452.3L1148.4 450.9L1149.4 449.5L1149.8 449.0L1150.5 448.0L1151.5 446.6L1152.2 445.6L1152.5 445.2L1153.6 443.7L1154.6 442.3L1154.6 442.3L1155.6 440.9L1156.7 439.4L1157.0 438.9L1157.7 438.0L1158.7 436.6L1159.4 435.6L1159.7 435.1L1160.8 433.7L1161.8 432.3L1161.8 432.2L1162.8 430.8L1163.8 429.4L1164.2 428.8L1164.8 428.0L1165.9 426.5L1166.7 425.4L1166.9 425.1L1167.9 423.7L1168.9 422.2L1169.1 422.0L1169.9 420.8L1171.0 419.4L1171.5 418.6L1172.0 417.9L1173.0 416.5L1173.9 415.2L1174.0 415.1L1175.0 413.6L1176.0 412.2L1176.3 411.8L1177.0 410.8L1178.0 409.3L1178.7 408.4L1179.0 407.9L1180.0 406.5L1181.1 405.0L1181.1 405.0L1182.1 403.6L1183.1 402.2L1183.5 401.5L1184.1 400.7L1185.1 399.3L1185.9 398.1L1186.1 397.9L1187.1 396.4L1188.1 395.0L1188.3 394.6L1189.1 393.6L1190.1 392.1L1190.7 391.2L1191.1 390.7L1192.1 389.3L1193.1 387.8L1193.2 387.7L1194.1 386.4L1195.1 385.0L1195.6 384.3L1196.1 383.5L1197.1 382.1L1198.0 380.8L1198.1 380.7L1199.1 379.2L1200.1 377.8L1200.4 377.3L1201.1 376.4L1202.0 374.9L1202.8 373.9L1203.0 373.5L1204.0 372.1L1205.0 370.6L1205.2 370.4L1206.0 369.2L1207.0 367.8L1207.6 366.9L1208.0 366.3L1209.0 364.9L1210.0 363.5L1210.0 363.4L1211.0 362.0L1212.0 360.6L1212.4 359.9L1212.9 359.2L1213.9 357.7L1214.8 356.4L1214.9 356.3L1215.9 354.9L1216.9 353.4L1217.2 352.9L1217.9 352.0L1218.9 350.6L1219.6 349.4L1219.8 349.1L1220.8 347.7L1221.8 346.3L1222.1 345.9L1222.8 344.8L1223.8 343.4L1224.5 342.4L1224.8 342.0L1225.7 340.5L1226.7 339.1L1226.9 338.9L1227.7 337.7L1228.7 336.2L1229.3 335.4L1229.7 334.8L1230.6 333.4L1231.6 331.9L1231.7 331.8L1232.6 330.5L1233.6 329.1L1234.1 328.3L1234.6 327.6L1235.5 326.2L1236.5 324.8L1236.5 324.8L1237.5 323.3L1238.5 321.9L1238.9 321.2L1239.4 320.5L1240.4 319.0L1241.3 317.7L1241.4 317.6L1242.4 316.2L1243.4 314.7L1243.7 314.2L1244.3 313.3L1245.3 311.9L1246.1 310.6L1246.3 310.4L1247.2 309.0M1282.1 257.4L1282.3 257.1L1283.0 256.0L1284.0 254.5L1284.7 253.5L1285.0 253.1L1285.9 251.7L1286.9 250.2L1287.1 249.9L1287.8 248.8L1288.8 247.3L1289.5 246.3L1289.8 245.9L1290.7 244.5L1291.7 243.0L1291.9 242.7L1292.6 241.6L1293.6 240.2L1294.3 239.1L1294.6 238.7L1295.5 237.3L1296.5 235.9L1296.7 235.5L1297.4 234.4L1298.4 233.0L1299.1 231.9L1299.3 231.6L1300.3 230.1L1301.3 228.7L1301.5 228.3L1302.2 227.3L1303.2 225.8L1304.0 224.7L1304.1 224.4L1305.1 223.0L1306.0 221.5L1306.4 221.1L1307.0 220.1L1307.9 218.7L1308.8 217.4L1308.9 217.2L1309.9 215.8L1310.8 214.4L1311.2 213.8L1311.8 212.9L1312.7 211.5L1313.6 210.2L1313.7 210.1L1314.6 208.6L1315.6 207.2L1316.0 206.6" stroke="#89cb52"/><path d="M288.1 1084.5L288.1 1083.1L287.8 1081.6L289.5 1080.2L289.8 1080.1L292.3 1079.4L294.2 1078.8L294.7 1078.6L297.1 1078.0L299.5 1077.4L299.8 1077.3L301.9 1076.8L304.3 1076.2L305.6 1075.9L306.7 1075.6L309.1 1075.0L311.2 1074.5L311.5 1074.4L313.9 1073.7L316.3 1073.1L316.7 1073.0L318.7 1072.5L321.2 1071.9L322.2 1071.6L323.6 1071.3L326.0 1070.7L328.0 1070.2L328.4 1070.1L330.8 1069.5L333.2 1069.0L334.2 1068.7L335.6 1068.4L338.0 1067.9L340.4 1067.3L340.6 1067.3L342.8 1066.8L345.2 1066.3L347.2 1065.9L347.7 1065.8L350.1 1065.3L352.5 1064.7L353.9 1064.4L354.9 1064.2L357.3 1063.7L359.7 1063.2L360.7 1063.0L362.1 1062.7L364.5 1062.2L366.9 1061.7L367.4 1061.6L369.3 1061.2L371.7 1060.6L374.0 1060.1L374.2 1060.1L376.6 1059.6L379.0 1059.0L380.4 1058.7L381.4 1058.5L383.8 1057.9L386.2 1057.3L386.5 1057.3L388.6 1056.8M465.7 1033.4L467.2 1032.9L468.1 1032.6L470.5 1031.8L471.6 1031.5L472.9 1031.0L475.3 1030.3L476.1 1030.0L477.7 1029.5L480.1 1028.7L480.5 1028.6L482.5 1028.0L485.0 1027.2L485.0 1027.2L487.4 1026.4L489.6 1025.7L489.8 1025.7L492.2 1024.9L494.1 1024.3L494.6 1024.1L497.0 1023.4L498.7 1022.9L499.4 1022.6L501.8 1021.9L503.2 1021.4L504.2 1021.1L506.6 1020.4L507.8 1020.0L509.0 1019.6L511.5 1018.9L512.4 1018.6L513.9 1018.1L516.3 1017.3L517.0 1017.1L518.7 1016.6L521.1 1015.8L521.5 1015.7L523.5 1015.1L525.9 1014.3L526.0 1014.3L528.3 1013.5L530.5 1012.8L530.7 1012.8L533.1 1012.0L534.9 1011.4L535.5 1011.2L538.0 1010.4L539.3 1010.0L540.4 1009.6L542.8 1008.8L543.6 1008.5L545.2 1008.0L547.6 1007.2L547.9 1007.1L550.0 1006.4L552.1 1005.7L552.4 1005.5L554.8 1004.7L556.2 1004.2L557.2 1003.9L559.6 1003.0L560.3 1002.8L562.0 1002.1L564.2 1001.4L564.4 1001.3L566.9 1000.4L568.2 999.9L569.3 999.5L571.7 998.6L572.0 998.5L574.1 997.7L575.8 997.1L576.5 996.8L578.9 995.9L579.5 995.6L581.3 994.9L583.2 994.2L583.7 994.0L586.1 993.0L586.8 992.8L588.5 992.1L590.4 991.3L590.9 991.1L593.4 990.1L593.9 989.9L595.8 989.1L597.4 988.5L598.2 988.1L600.6 987.1L600.8 987.0L603.0 986.1L604.2 985.6L605.4 985.1L607.6 984.2L607.8 984.1L610.2 983.0L610.9 982.7L612.6 982.0L614.2 981.3L615.0 980.9L617.4 979.9L617.5 979.9L619.9 978.8L620.7 978.4L622.3 977.7L624.0 977.0L624.7 976.7L627.1 975.6L627.2 975.6L629.5 974.5L630.4 974.1L631.9 973.4L633.5 972.7L634.3 972.3L636.6 971.3L636.7 971.2L639.1 970.1L639.8 969.8L641.5 969.0L642.9 968.4L643.9 967.9L646.0 967.0L646.3 966.8L648.8 965.7L649.0 965.5L651.2 964.5L652.1 964.1L653.6 963.4L655.2 962.7L656.0 962.3L658.2 961.2L658.4 961.1L660.8 960.0L661.2 959.8L663.2 958.8L664.2 958.4L665.6 957.7L667.2 956.9L668.0 956.5L670.2 955.5L670.4 955.4L672.8 954.2L673.1 954.1L675.3 953.0L676.1 952.6L677.7 951.8L679.0 951.2L680.1 950.7L681.9 949.8L682.5 949.5L684.8 948.3L684.9 948.3L687.3 947.1L687.7 946.9L689.7 945.9L690.6 945.5L692.1 944.7L693.4 944.0L694.5 943.5L696.3 942.6L696.9 942.2L699.1 941.2L699.3 941.0L701.8 939.8L701.9 939.7L704.2 938.5L704.7 938.3L706.6 937.3L707.4 936.9L709.0 936.0L710.2 935.4L711.4 934.8L712.9 934.0L713.8 933.5L715.6 932.6L716.2 932.2L718.3 931.1L718.6 931.0L721.0 929.7L721.0 929.7L723.4 928.4L723.7 928.3L725.8 927.1L726.3 926.8L728.2 925.8L729.0 925.4L730.7 924.5L731.6 924.0L733.1 923.1L734.2 922.5L735.5 921.8L736.8 921.1L737.9 920.5L739.3 919.7L740.3 919.1L741.9 918.2L742.7 917.8L744.4 916.8L745.1 916.4L746.9 915.3L747.5 915.0L749.4 913.9L749.9 913.6L751.9 912.5L752.3 912.2L754.4 911.0L754.7 910.8L756.8 909.6L757.2 909.4L759.2 908.2L759.6 908.0L761.6 906.7L762.0 906.6L764.0 905.3L764.4 905.1L766.4 903.9L766.8 903.7L768.8 902.4L769.2 902.2L771.1 901.0L771.6 900.7L773.5 899.6L774.0 899.2L775.8 898.1L776.4 897.7L778.1 896.7L778.8 896.2L780.4 895.3L781.2 894.7L782.6 893.8L783.7 893.2L784.9 892.4L786.1 891.7L787.1 891.0L788.5 890.1L789.4 889.5M853.5 844.3L854.3 843.7L855.9 842.4L856.2 842.2L858.0 840.8L858.3 840.6L859.9 839.4L860.7 838.7L861.7 837.9L863.1 836.8L863.5 836.5L865.3 835.1L865.6 834.9L867.1 833.6L868.0 833.0L868.9 832.2L870.4 831.1L870.7 830.8L872.5 829.3L872.8 829.1L874.3 827.9L875.2 827.2L876.1 826.5L877.6 825.2L877.8 825.0L879.6 823.6L880.0 823.3L881.4 822.2L882.4 821.3L883.1 820.7L884.8 819.3L884.8 819.3L886.6 817.9L887.2 817.3L888.3 816.4L889.6 815.3L890.0 815.0L891.7 813.6L892.0 813.3L893.4 812.1L894.5 811.3L895.1 810.7L896.8 809.3L896.9 809.2L898.5 807.8L899.3 807.2L900.2 806.4L901.7 805.1L901.9 805.0L903.5 803.5L904.1 803.1L905.2 802.1L906.5 801.0L906.9 800.7L908.5 799.2L908.9 798.9L910.2 797.8L911.3 796.8L911.8 796.4L913.5 794.9L913.7 794.7L915.1 793.5L916.1 792.6L916.7 792.1L918.3 790.6L918.5 790.5L920.0 789.2L921.0 788.3L921.6 787.8L923.2 786.3L923.4 786.2L924.8 784.9L925.8 784.0L926.4 783.5L928.0 782.0L928.2 781.9L929.6 780.6L930.6 779.7L931.2 779.2L932.8 777.7L933.0 777.5L934.3 776.3L935.4 775.3L935.9 774.9L937.5 773.4L937.8 773.1L939.0 772.0L940.2 770.9L940.6 770.6L942.2 769.1L942.6 768.7L943.7 767.7L945.0 766.5L945.3 766.3L946.8 764.8L947.5 764.2L948.3 763.4L949.9 762.0L949.9 762.0L951.4 760.5L952.3 759.7L952.9 759.1L954.5 757.7L954.7 757.5L956.0 756.2L957.1 755.2L957.5 754.8L959.0 753.4L959.5 752.9L960.5 751.9L961.9 750.6L962.1 750.5L963.6 749.1L964.3 748.3L965.1 747.6L966.6 746.2L966.7 746.0L968.1 744.8L969.1 743.7L969.5 743.3L971.0 741.9L971.5 741.4L972.5 740.5L973.9 739.1L974.0 739.0L975.5 737.6L976.4 736.7L976.9 736.2L978.4 734.7L978.8 734.4L979.9 733.3L981.2 732.0L981.4 731.9L982.8 730.4L983.6 729.7L984.3 729.0L985.7 727.6L986.0 727.3L987.2 726.1L988.4 724.9L988.6 724.7L990.1 723.3L990.8 722.5L991.5 721.8L993.0 720.4L993.2 720.1L994.4 719.0L995.6 717.7L995.8 717.5L997.3 716.1L998.0 715.3L998.7 714.7L1000.1 713.2L1000.4 712.9L1001.6 711.8L1002.9 710.5L1003.0 710.4L1004.4 708.9L1005.3 708.1L1005.8 707.5L1007.2 706.1L1007.7 705.6L1008.6 704.6L1010.0 703.2L1010.1 703.2L1011.5 701.8L1012.5 700.7L1012.9 700.3L1014.3 698.9L1014.9 698.2L1015.7 697.5L1017.0 696.0L1017.3 695.8L1018.4 694.6L1019.7 693.3L1019.8 693.2L1021.2 691.7L1022.1 690.8L1022.6 690.3L1024.0 688.9L1024.5 688.3L1025.4 687.4L1026.7 686.0L1026.9 685.8L1028.1 684.6L1029.4 683.3L1029.5 683.1L1030.9 681.7L1031.8 680.8L1032.2 680.3L1033.6 678.8L1034.2 678.2L1035.0 677.4L1036.3 676.0L1036.6 675.7L1037.7 674.5L1039.0 673.1L1039.0 673.1L1040.4 671.7L1041.4 670.6L1041.7 670.2L1043.1 668.8L1043.8 668.0L1044.4 667.4L1045.8 665.9L1046.2 665.5L1047.1 664.5L1048.5 663.1L1048.6 662.9L1049.8 661.6L1051.0 660.3L1051.1 660.2L1052.5 658.8L1053.4 657.7L1053.8 657.3L1055.1 655.9L1055.8 655.1L1056.5 654.5L1057.8 653.0L1058.3 652.5L1059.1 651.6L1060.4 650.2L1060.7 649.9L1061.7 648.7L1063.1 647.3L1063.1 647.3L1064.4 645.9L1065.5 644.6L1065.7 644.4L1067.0 643.0L1067.9 642.0L1068.3 641.6L1069.6 640.1L1070.3 639.4L1070.9 638.7L1072.2 637.3L1072.7 636.7L1073.5 635.8L1074.8 634.4L1075.1 634.0L1076.1 633.0L1077.4 631.5L1077.5 631.4L1078.7 630.1L1079.9 628.7L1080.0 628.7L1081.3 627.2L1082.3 626.0L1082.5 625.8L1083.8 624.4L1084.8 623.3L1085.1 622.9L1086.4 621.5L1087.2 620.6L1087.7 620.1L1088.9 618.6L1089.6 617.9L1090.2 617.2L1091.5 615.8L1092.0 615.2L1092.7 614.3L1094.0 612.9L1094.4 612.4L1095.3 611.5L1096.5 610.0L1096.8 609.7L1097.8 608.6L1099.0 607.2L1099.2 607.0L1100.3 605.7L1101.5 604.3L1101.6 604.2M1152.2 544.2L1152.3 544.1L1153.4 542.6L1154.6 541.2L1154.6 541.2L1155.8 539.8L1156.9 538.3L1157.0 538.2L1158.1 536.9L1159.2 535.5L1159.4 535.2L1160.4 534.0L1161.5 532.6L1161.8 532.3L1162.7 531.2L1163.8 529.7L1164.2 529.2L1165.0 528.3L1166.1 526.9L1166.7 526.2L1167.3 525.4L1168.4 524.0L1169.1 523.2L1169.6 522.6L1170.7 521.1L1171.5 520.2L1171.8 519.7L1173.0 518.3L1173.9 517.1L1174.1 516.8L1175.2 515.4L1176.3 514.1L1176.4 514.0L1177.5 512.5L1178.6 511.1L1178.7 511.0L1179.8 509.7L1180.9 508.2L1181.1 508.0L1182.0 506.8L1183.1 505.4L1183.5 504.9L1184.2 503.9L1185.4 502.5L1185.9 501.8L1186.5 501.1L1187.6 499.6L1188.3 498.7L1188.7 498.2L1189.8 496.8L1190.7 495.6L1190.9 495.3L1192.0 493.9L1193.1 492.5L1193.2 492.5L1194.2 491.0L1195.4 489.6L1195.6 489.3L1196.5 488.2L1197.6 486.7L1198.0 486.2L1198.7 485.3L1199.8 483.9L1200.4 483.1L1200.9 482.4L1201.9 481.0L1202.8 479.9L1203.0 479.6L1204.1 478.1L1205.2 476.7L1205.2 476.7L1206.3 475.3L1207.4 473.8L1207.6 473.6L1208.5 472.4L1209.6 471.0L1210.0 470.4L1210.7 469.5L1211.8 468.1L1212.4 467.2L1212.8 466.7L1213.9 465.2L1214.8 464.0L1215.0 463.8L1216.1 462.4L1217.1 460.9L1217.2 460.8L1218.2 459.5L1219.3 458.1L1219.6 457.6L1220.4 456.6L1221.4 455.2L1222.1 454.4L1222.5 453.8L1223.6 452.3L1224.5 451.2L1224.7 450.9L1225.7 449.5L1226.8 448.0L1226.9 447.9L1227.9 446.6L1228.9 445.2L1229.3 444.7L1230.0 443.7L1231.0 442.3L1231.7 441.4L1232.1 440.9L1233.2 439.4L1234.1 438.2L1234.2 438.0L1235.3 436.6L1236.3 435.1L1236.5 434.9L1237.4 433.7L1238.4 432.3L1238.9 431.6L1239.5 430.8L1240.5 429.4L1241.3 428.3L1241.6 428.0L1242.7 426.5L1243.7 425.1L1243.7 425.1L1244.7 423.7L1245.8 422.2L1246.1 421.8L1246.8 420.8L1247.9 419.4L1248.6 418.5L1248.9 417.9L1250.0 416.5L1251.0 415.1L1251.0 415.1L1252.1 413.6L1253.1 412.2L1253.4 411.8L1254.1 410.8L1255.2 409.3L1255.8 408.5L1256.2 407.9L1257.3 406.5L1258.2 405.2L1258.3 405.0L1259.3 403.6L1260.4 402.2L1260.6 401.8L1261.4 400.7L1262.4 399.3L1263.0 398.5L1263.5 397.9L1264.5 396.4L1265.4 395.2L1265.5 395.0L1266.6 393.6L1267.6 392.1L1267.8 391.8L1268.6 390.7L1269.6 389.3L1270.2 388.4L1270.7 387.8L1271.7 386.4L1272.6 385.1L1272.7 385.0L1273.8 383.5L1274.8 382.1L1275.1 381.7L1275.8 380.7L1276.8 379.2L1277.5 378.3L1277.8 377.8L1278.9 376.4L1279.9 375.0L1279.9 374.9L1280.9 373.5L1281.9 372.1L1282.3 371.6L1282.9 370.6L1284.0 369.2L1284.7 368.2L1285.0 367.8L1286.0 366.3L1287.0 364.9L1287.1 364.8L1288.0 363.5L1289.0 362.0L1289.5 361.4L1290.1 360.6L1291.1 359.2L1291.9 358.0L1292.1 357.7L1293.1 356.3L1294.1 354.9L1294.3 354.6L1295.1 353.4L1296.1 352.0L1296.7 351.2L1297.1 350.6L1298.2 349.1L1299.1 347.7L1299.2 347.7L1300.2 346.3L1301.2 344.8L1301.5 344.3L1302.2 343.4L1303.2 342.0L1304.0 340.9L1304.2 340.5L1305.2 339.1L1306.2 337.7L1306.4 337.4L1307.2 336.2L1308.2 334.8L1308.8 334.0L1309.2 333.4L1310.2 331.9L1311.2 330.6L1311.2 330.5L1312.2 329.1L1313.2 327.6L1313.6 327.1L1314.2 326.2L1315.2 324.8L1316.0 323.7" stroke="#a1c840"/><path d="M343.4 1084.5L343.4 1083.1L342.8 1082.5L342.1 1081.6L342.8 1080.9L343.6 1080.2L345.2 1079.7L347.7 1079.1L348.8 1078.8L350.1 1078.4L352.5 1077.8L354.3 1077.3L354.9 1077.2L357.3 1076.5L359.5 1075.9L359.7 1075.8L362.1 1075.2L364.5 1074.5L364.6 1074.5L366.9 1073.8L369.3 1073.2L369.9 1073.0L371.7 1072.5L374.2 1071.9L375.4 1071.6L376.6 1071.3L379.0 1070.7L381.2 1070.2L381.4 1070.1L383.8 1069.5L386.2 1069.0L387.2 1068.7L388.6 1068.4L391.0 1067.9L393.4 1067.3L393.5 1067.3L395.8 1066.8L398.2 1066.2L399.9 1065.9L400.6 1065.7L403.1 1065.2L405.5 1064.6L406.3 1064.4L407.9 1064.1L410.3 1063.5L412.7 1063.0L412.7 1063.0L415.1 1062.5L417.5 1061.9M494.6 1040.5L495.9 1040.1L497.0 1039.7L499.4 1039.0L500.6 1038.6L501.8 1038.3L504.2 1037.5L505.3 1037.2L506.6 1036.8L509.0 1036.0L510.0 1035.8L511.5 1035.3L513.9 1034.6L514.7 1034.3L516.3 1033.8L518.7 1033.1L519.4 1032.9L521.1 1032.4L523.5 1031.6L524.1 1031.5L525.9 1030.9L528.3 1030.2L528.8 1030.0L530.7 1029.5L533.1 1028.7L533.6 1028.6L535.5 1028.0L538.0 1027.3L538.3 1027.2L540.4 1026.5L542.8 1025.8L543.1 1025.7L545.2 1025.1L547.6 1024.4L547.8 1024.3L550.0 1023.6L552.4 1022.9L552.6 1022.9L554.8 1022.2L557.2 1021.5L557.3 1021.4L559.6 1020.7L562.0 1020.0L562.0 1020.0L564.4 1019.3L566.7 1018.6L566.9 1018.5L569.3 1017.8L571.4 1017.1L571.7 1017.0L574.1 1016.3L576.1 1015.7L576.5 1015.6L578.9 1014.8L580.7 1014.3L581.3 1014.1L583.7 1013.3L585.2 1012.8L586.1 1012.5L588.5 1011.8L589.7 1011.4L590.9 1011.0L593.4 1010.2L594.1 1010.0L595.8 1009.4L598.2 1008.6L598.5 1008.5L600.6 1007.8L602.8 1007.1L603.0 1007.0L605.4 1006.2L607.1 1005.7L607.8 1005.4L610.2 1004.6L611.2 1004.2L612.6 1003.7L615.0 1002.9L615.4 1002.8L617.4 1002.1L619.4 1001.4L619.9 1001.2L622.3 1000.3L623.4 999.9L624.7 999.5L627.1 998.6L627.3 998.5L629.5 997.7L631.2 997.1L631.9 996.8L634.3 995.9L635.0 995.6L636.7 995.0L638.7 994.2L639.1 994.0L641.5 993.1L642.4 992.8L643.9 992.2L646.1 991.3L646.3 991.2L648.8 990.3L649.7 989.9L651.2 989.3L653.2 988.5L653.6 988.3L656.0 987.3L656.8 987.0L658.4 986.4L660.3 985.6L660.8 985.4L663.2 984.4L663.7 984.2L665.6 983.4L667.2 982.7L668.0 982.4L670.4 981.4L670.6 981.3L672.8 980.3L674.0 979.9L675.3 979.3L677.3 978.4L677.7 978.3L680.1 977.2L680.7 977.0L682.5 976.2L684.0 975.6L684.9 975.2L687.3 974.1L687.3 974.1L689.7 973.1L690.6 972.7L692.1 972.0L693.8 971.3L694.5 970.9L696.9 969.9L697.1 969.8L699.3 968.8L700.3 968.4L701.8 967.7L703.5 967.0L704.2 966.7L706.6 965.6L706.7 965.5L709.0 964.5L709.9 964.1L711.4 963.4L713.1 962.7L713.8 962.3L716.2 961.2L716.2 961.2L718.6 960.1L719.4 959.8L721.0 959.0L722.5 958.4L723.4 957.9L725.6 956.9L725.8 956.8L728.2 955.7L728.8 955.5L730.7 954.6L731.8 954.1L733.1 953.5L734.9 952.6L735.5 952.4L737.9 951.2L738.0 951.2L740.3 950.1L741.0 949.8L742.7 949.0L744.1 948.3L745.1 947.8L747.1 946.9L747.5 946.7L749.9 945.5L750.1 945.5L752.3 944.4L753.1 944.0L754.7 943.2L756.0 942.6L757.2 942.0L759.0 941.2L759.6 940.9L761.9 939.7L762.0 939.7L764.4 938.5L764.8 938.3L766.8 937.3L767.7 936.9L769.2 936.1L770.6 935.4L771.6 934.9L773.4 934.0L774.0 933.7L776.3 932.6L776.4 932.5L778.8 931.2L779.1 931.1L781.2 930.0L781.9 929.7L783.7 928.8L784.7 928.3L786.1 927.5L787.4 926.8L788.5 926.3L790.2 925.4L790.9 925.0L792.9 924.0L793.3 923.7L795.6 922.5L795.7 922.5L798.1 921.2L798.3 921.1L800.5 919.9L801.0 919.7L802.9 918.6L803.6 918.2L805.3 917.3L806.2 916.8L807.7 916.0L808.9 915.3L810.1 914.6L811.5 913.9L812.6 913.3L814.0 912.5L815.0 912.0L816.6 911.0L817.4 910.6M884.8 868.5L885.5 868.0L887.2 866.9L887.6 866.6L889.6 865.2L889.7 865.2L891.7 863.7L892.0 863.5L893.8 862.3L894.5 861.8L895.8 860.9L896.9 860.1L897.8 859.4L899.3 858.4L899.9 858.0L901.7 856.7L901.9 856.6L903.9 855.1L904.1 855.0L905.9 853.7L906.5 853.2L907.8 852.3L908.9 851.5L909.8 850.8L911.3 849.7L911.8 849.4L913.7 848.0L913.7 848.0L915.7 846.5L916.1 846.2L917.6 845.1L918.5 844.4L919.5 843.7L921.0 842.6L921.4 842.2L923.3 840.8L923.4 840.8L925.2 839.4L925.8 839.0L927.1 837.9L928.2 837.2L929.0 836.5L930.6 835.3L930.9 835.1L932.8 833.6L933.0 833.5L934.6 832.2L935.4 831.6L936.5 830.8L937.8 829.8L938.4 829.3L940.2 827.9L940.2 827.9L942.0 826.5L942.6 826.0L943.9 825.0L945.0 824.1L945.7 823.6L947.5 822.2L947.5 822.2L949.3 820.7L949.9 820.3L951.1 819.3L952.3 818.4L952.9 817.9L954.7 816.5L954.7 816.4L956.5 815.0L957.1 814.5L958.3 813.6L959.5 812.6L960.1 812.1L961.8 810.7L961.9 810.6L963.6 809.3L964.3 808.7L965.3 807.8L966.7 806.7L967.1 806.4L968.8 805.0L969.1 804.7L970.6 803.5L971.5 802.8L972.3 802.1L973.9 800.8L974.1 800.7L975.8 799.2L976.4 798.8L977.5 797.8L978.8 796.8L979.2 796.4L980.9 794.9L981.2 794.7L982.7 793.5L983.6 792.7L984.4 792.1L986.0 790.7L986.1 790.6L987.7 789.2L988.4 788.6L989.4 787.8L990.8 786.6L991.1 786.3L992.8 784.9L993.2 784.5L994.5 783.5L995.6 782.5L996.2 782.0L997.8 780.6L998.0 780.4L999.5 779.2L1000.4 778.3L1001.1 777.7L1002.8 776.3L1002.9 776.3L1004.5 774.9L1005.3 774.2L1006.1 773.4L1007.7 772.1L1007.7 772.0L1009.4 770.6L1010.1 770.0L1011.0 769.1L1012.5 767.8L1012.6 767.7L1014.3 766.3L1014.9 765.7L1015.9 764.8L1017.3 763.6L1017.5 763.4L1019.1 762.0L1019.7 761.5L1020.8 760.5L1022.1 759.3L1022.4 759.1L1024.0 757.7L1024.5 757.2L1025.6 756.2L1026.9 755.0L1027.2 754.8L1028.8 753.4L1029.4 752.8L1030.4 751.9L1031.8 750.7L1031.9 750.5L1033.5 749.1L1034.2 748.5L1035.1 747.6L1036.6 746.3L1036.7 746.2L1038.3 744.8L1039.0 744.1L1039.8 743.3L1041.4 741.9L1041.4 741.9L1043.0 740.5L1043.8 739.7L1044.5 739.0L1046.1 737.6L1046.2 737.5L1047.6 736.2L1048.6 735.2L1049.2 734.7L1050.7 733.3L1051.0 733.0L1052.3 731.9L1053.4 730.8L1053.8 730.4L1055.3 729.0L1055.8 728.5L1056.9 727.6L1058.3 726.3L1058.4 726.1L1059.9 724.7L1060.7 724.0L1061.5 723.3L1063.0 721.8L1063.1 721.8L1064.5 720.4L1065.5 719.5L1066.0 719.0L1067.5 717.5L1067.9 717.2L1069.1 716.1L1070.3 714.9L1070.6 714.7L1072.1 713.2L1072.7 712.6L1073.6 711.8L1075.1 710.4L1075.1 710.3L1076.6 708.9L1077.5 708.0L1078.1 707.5L1079.5 706.1L1079.9 705.7L1081.0 704.6L1082.3 703.4L1082.5 703.2L1084.0 701.8L1084.8 701.0L1085.5 700.3L1087.0 698.9L1087.2 698.7L1088.4 697.5L1089.6 696.3L1089.9 696.0L1091.4 694.6L1092.0 694.0L1092.8 693.2L1094.3 691.7L1094.4 691.6L1095.8 690.3L1096.8 689.3L1097.2 688.9L1098.7 687.4L1099.2 686.9L1100.1 686.0L1101.6 684.6L1101.6 684.5L1103.0 683.1L1104.0 682.1L1104.4 681.7L1105.9 680.3L1106.4 679.7L1107.3 678.8L1108.8 677.4L1108.8 677.3L1110.2 676.0L1111.3 674.9L1111.6 674.5L1113.0 673.1L1113.7 672.5L1114.5 671.7L1115.9 670.2L1116.1 670.0L1117.3 668.8L1118.5 667.6L1118.7 667.4L1120.1 665.9L1120.9 665.1L1121.5 664.5L1122.9 663.1L1123.3 662.7L1124.3 661.6L1125.7 660.2L1125.7 660.2L1127.1 658.8L1128.1 657.7L1128.5 657.3L1129.9 655.9L1130.5 655.2L1131.3 654.5L1132.6 653.0L1132.9 652.7L1134.0 651.6L1135.3 650.2L1135.4 650.2L1136.8 648.7L1137.7 647.7L1138.1 647.3L1139.5 645.9L1140.2 645.2L1140.9 644.4L1142.2 643.0L1142.6 642.6L1143.6 641.6L1144.9 640.1L1145.0 640.1L1146.3 638.7M1199.2 579.9L1200.4 578.6L1200.5 578.5L1201.7 577.0L1202.8 575.8L1202.9 575.6L1204.2 574.2L1205.2 573.0L1205.4 572.7L1206.6 571.3L1207.6 570.2L1207.8 569.9L1209.1 568.4L1210.0 567.3L1210.3 567.0L1211.5 565.6L1212.4 564.5L1212.7 564.1L1213.9 562.7L1214.8 561.7L1215.1 561.3L1216.4 559.8L1217.2 558.8L1217.6 558.4L1218.8 557.0L1219.6 555.9L1220.0 555.5L1221.2 554.1L1222.1 553.1L1222.4 552.7L1223.6 551.2L1224.5 550.2L1224.8 549.8L1226.0 548.4L1226.9 547.3L1227.2 546.9L1228.4 545.5L1229.3 544.4L1229.5 544.1L1230.7 542.6L1231.7 541.5L1231.9 541.2L1233.1 539.8L1234.1 538.6L1234.3 538.3L1235.5 536.9L1236.5 535.6L1236.6 535.5L1237.8 534.0L1238.9 532.7L1239.0 532.6L1240.2 531.2L1241.3 529.8L1241.3 529.7L1242.5 528.3L1243.7 526.9L1243.7 526.8L1244.8 525.4L1246.0 524.0L1246.1 523.8L1247.2 522.6L1248.3 521.1L1248.6 520.9L1249.5 519.7L1250.6 518.3L1251.0 517.9L1251.8 516.8L1253.0 515.4L1253.4 514.9L1254.1 514.0L1255.3 512.5L1255.8 511.9L1256.4 511.1L1257.6 509.7L1258.2 508.9L1258.7 508.2L1259.9 506.8L1260.6 505.9L1261.0 505.4L1262.2 503.9L1263.0 502.9L1263.3 502.5L1264.4 501.1L1265.4 499.8L1265.6 499.6L1266.7 498.2L1267.8 496.8L1267.9 496.8L1269.0 495.3L1270.1 493.9L1270.2 493.8L1271.3 492.5L1272.4 491.0L1272.6 490.7L1273.5 489.6L1274.6 488.2L1275.1 487.7L1275.8 486.7L1276.9 485.3L1277.5 484.6L1278.0 483.9L1279.1 482.4L1279.9 481.5L1280.3 481.0L1281.4 479.6L1282.3 478.4L1282.5 478.1L1283.6 476.7L1284.7 475.4L1284.7 475.3L1285.9 473.8L1287.0 472.4L1287.1 472.3L1288.1 471.0L1289.2 469.5L1289.5 469.2L1290.3 468.1L1291.4 466.7L1291.9 466.0L1292.5 465.2L1293.6 463.8L1294.3 462.9L1294.7 462.4L1295.9 460.9L1296.7 459.8L1297.0 459.5L1298.1 458.1L1299.1 456.7L1299.2 456.6L1300.3 455.2L1301.4 453.8L1301.5 453.5L1302.5 452.3L1303.5 450.9L1304.0 450.4L1304.6 449.5L1305.7 448.0L1306.4 447.2L1306.8 446.6L1307.9 445.2L1308.8 444.0L1309.0 443.7L1310.1 442.3L1311.2 440.9L1311.2 440.9L1312.3 439.4L1313.4 438.0L1313.6 437.7L1314.4 436.6L1315.5 435.1L1316.0 434.5" stroke="#b8c431"/><path d="M402.8 1084.5L402.8 1083.1L401.2 1081.6L402.1 1080.2L403.1 1079.9L405.5 1079.2L406.7 1078.8L407.9 1078.4L410.3 1077.6L411.0 1077.3L412.7 1076.8L415.1 1075.9L415.2 1075.9L417.5 1075.2L419.7 1074.5L419.9 1074.4L422.3 1073.7L424.6 1073.0L424.7 1073.0L427.1 1072.3L429.6 1071.7L429.9 1071.6L432.0 1071.1L434.4 1070.5L435.6 1070.2L436.8 1069.9L439.2 1069.3L441.6 1068.7L441.6 1068.7L444.0 1068.2M523.5 1048.0L525.9 1047.3L526.2 1047.2L528.3 1046.6L530.7 1045.9L531.2 1045.8L533.1 1045.2L535.5 1044.6L536.2 1044.4L538.0 1043.9L540.4 1043.2L541.2 1042.9L542.8 1042.5L545.2 1041.8L546.2 1041.5L547.6 1041.1L550.0 1040.4L551.2 1040.1L552.4 1039.7L554.8 1039.0L556.2 1038.6L557.2 1038.3L559.6 1037.6L561.1 1037.2L562.0 1036.9L564.4 1036.2L566.1 1035.8L566.9 1035.5L569.3 1034.8L571.0 1034.3L571.7 1034.1L574.1 1033.4L575.9 1032.9L576.5 1032.7L578.9 1032.0L580.8 1031.5L581.3 1031.3L583.7 1030.6L585.7 1030.0L586.1 1029.9L588.5 1029.2L590.6 1028.6L590.9 1028.5L593.4 1027.8L595.5 1027.2L595.8 1027.1L598.2 1026.4L600.3 1025.7L600.6 1025.7L603.0 1024.9L605.2 1024.3L605.4 1024.2L607.8 1023.5L610.0 1022.9L610.2 1022.8L612.6 1022.1L614.8 1021.4L615.0 1021.4L617.4 1020.6L619.6 1020.0L619.9 1019.9L622.3 1019.2L624.4 1018.6L624.7 1018.5L627.1 1017.7L629.1 1017.1L629.5 1017.0L631.9 1016.3L633.8 1015.7L634.3 1015.5L636.7 1014.8L638.5 1014.3L639.1 1014.1L641.5 1013.3L643.1 1012.8L643.9 1012.6L646.3 1011.8L647.7 1011.4L648.8 1011.0L651.2 1010.3L652.2 1010.0L653.6 1009.5L656.0 1008.7L656.6 1008.5L658.4 1007.9L660.8 1007.2L661.0 1007.1L663.2 1006.4L665.3 1005.7L665.6 1005.6L668.0 1004.8L669.6 1004.2L670.4 1003.9L672.8 1003.1L673.8 1002.8L675.3 1002.3L677.7 1001.5L678.0 1001.4L680.1 1000.6L682.1 999.9L682.5 999.8L684.9 998.9L686.1 998.5L687.3 998.1L689.7 997.2L690.1 997.1L692.1 996.3L694.0 995.6L694.5 995.4L696.9 994.5L697.9 994.2L699.3 993.6L701.7 992.8L701.8 992.7L704.2 991.8L705.5 991.3L706.6 990.9L709.0 990.0L709.2 989.9L711.4 989.1L712.9 988.5L713.8 988.1L716.2 987.2L716.6 987.0L718.6 986.2L720.3 985.6L721.0 985.3L723.4 984.3L723.9 984.2L725.8 983.4L727.4 982.7L728.2 982.4L730.7 981.4L731.0 981.3L733.1 980.5L734.5 979.9L735.5 979.5L737.9 978.5L738.0 978.4L740.3 977.5L741.5 977.0L742.7 976.5L745.0 975.6L745.1 975.5L747.5 974.5L748.4 974.1L749.9 973.5L751.9 972.7L752.3 972.5L754.7 971.5L755.3 971.3L757.2 970.5L758.6 969.8L759.6 969.4L762.0 968.4L762.0 968.4L764.4 967.4L765.4 967.0L766.8 966.3L768.7 965.5L769.2 965.3L771.6 964.3L772.0 964.1L774.0 963.2L775.4 962.7L776.4 962.2L778.7 961.2L778.8 961.1L781.2 960.1L781.9 959.8L783.7 959.0L785.2 958.4L786.1 958.0L788.5 956.9L788.5 956.9L790.9 955.9L791.7 955.5L793.3 954.8L794.9 954.1L795.7 953.7L798.1 952.6L798.1 952.6L800.5 951.5L801.3 951.2L802.9 950.5L804.5 949.8L805.3 949.4L807.6 948.3L807.7 948.3L810.1 947.2L810.8 946.9L812.6 946.1L813.9 945.5L815.0 945.0L817.0 944.0L817.4 943.8L819.8 942.7L820.1 942.6L822.2 941.6L823.1 941.2L824.6 940.4L826.1 939.7L827.0 939.3L829.2 938.3L829.4 938.2L831.8 937.0L832.2 936.9L834.2 935.9L835.1 935.4L836.6 934.7L838.1 934.0L839.1 933.5L841.0 932.6L841.5 932.3L843.9 931.2L843.9 931.1L846.3 930.0L846.8 929.7L848.7 928.8L849.7 928.3L851.1 927.6L852.6 926.8M921.0 888.8L922.0 888.1L923.4 887.3L924.3 886.7L925.8 885.8L926.7 885.2L928.2 884.3L928.9 883.8L930.6 882.8L931.2 882.4L933.0 881.3L933.5 880.9L935.4 879.7L935.8 879.5L937.8 878.2L938.0 878.1L940.2 876.7L940.2 876.6L942.5 875.2L942.6 875.1L944.7 873.8L945.0 873.5L946.9 872.3L947.5 872.0L949.0 870.9L949.9 870.4L951.2 869.5L952.3 868.8L953.4 868.0L954.7 867.2L955.5 866.6L957.1 865.6L957.7 865.2L959.5 864.0L959.8 863.7L961.9 862.3L961.9 862.3L964.0 860.9L964.3 860.7L966.1 859.4L966.7 859.0L968.2 858.0L969.1 857.4L970.3 856.6L971.5 855.7L972.4 855.1L973.9 854.1L974.5 853.7L976.4 852.4L976.5 852.3L978.6 850.8L978.8 850.7L980.6 849.4L981.2 849.0L982.6 848.0L983.6 847.3L984.7 846.5L986.0 845.6L986.7 845.1L988.4 843.9L988.7 843.7L990.7 842.2L990.8 842.2L992.7 840.8L993.2 840.4L994.7 839.4L995.6 838.7L996.6 837.9L998.0 836.9L998.6 836.5L1000.4 835.2L1000.6 835.1L1002.5 833.6L1002.9 833.4L1004.5 832.2L1005.3 831.6L1006.4 830.8L1007.7 829.9L1008.4 829.3L1010.1 828.1L1010.3 827.9L1012.2 826.5L1012.5 826.3L1014.2 825.0L1014.9 824.5L1016.1 823.6L1017.3 822.7L1018.0 822.2L1019.7 820.9L1019.9 820.7L1021.8 819.3L1022.1 819.1L1023.7 817.9L1024.5 817.2L1025.6 816.4L1026.9 815.4L1027.5 815.0L1029.3 813.6L1029.4 813.6L1031.2 812.1L1031.8 811.7L1033.1 810.7L1034.2 809.9L1034.9 809.3L1036.6 808.0L1036.8 807.8L1038.6 806.4L1039.0 806.1L1040.5 805.0L1041.4 804.3L1042.3 803.5L1043.8 802.4L1044.2 802.1L1046.0 800.7L1046.2 800.5L1047.8 799.2L1048.6 798.6L1049.6 797.8L1051.0 796.7L1051.5 796.4L1053.3 794.9L1053.4 794.8L1055.1 793.5L1055.8 792.9L1056.9 792.1L1058.3 791.0L1058.7 790.6L1060.5 789.2L1060.7 789.1L1062.3 787.8L1063.1 787.1L1064.1 786.3L1065.5 785.2L1065.8 784.9L1067.6 783.5L1067.9 783.2L1069.4 782.0L1070.3 781.3L1071.2 780.6L1072.7 779.3L1072.9 779.2L1074.7 777.7L1075.1 777.4L1076.4 776.3L1077.5 775.4L1078.2 774.9L1079.9 773.4L1079.9 773.4L1081.7 772.0L1082.3 771.5L1083.4 770.6L1084.8 769.5L1085.2 769.1L1086.9 767.7L1087.2 767.5L1088.6 766.3L1089.6 765.5L1090.3 764.8L1092.0 763.5L1092.1 763.4L1093.8 762.0L1094.4 761.5L1095.5 760.5L1096.8 759.4L1097.2 759.1L1098.9 757.7L1099.2 757.4L1100.6 756.2L1101.6 755.4L1102.3 754.8L1104.0 753.4L1104.0 753.3L1105.7 751.9L1106.4 751.3L1107.4 750.5L1108.8 749.2L1109.0 749.1L1110.7 747.6L1111.3 747.2L1112.4 746.2L1113.7 745.1L1114.0 744.8L1115.7 743.3L1116.1 743.0L1117.3 741.9L1118.5 740.9L1119.0 740.5L1120.6 739.0L1120.9 738.8L1122.3 737.6L1123.3 736.7L1123.9 736.2L1125.6 734.7L1125.7 734.6L1127.2 733.3L1128.1 732.5L1128.8 731.9L1130.4 730.4L1130.5 730.3L1132.0 729.0L1132.9 728.2L1133.6 727.6L1135.2 726.1L1135.3 726.0L1136.8 724.7L1137.7 723.9L1138.4 723.3L1140.0 721.8L1140.2 721.7L1141.6 720.4L1142.6 719.5L1143.2 719.0L1144.8 717.5L1145.0 717.3L1146.3 716.1L1147.4 715.1L1147.9 714.7L1149.5 713.2L1149.8 712.9L1151.0 711.8L1152.2 710.7L1152.6 710.4L1154.1 708.9L1154.6 708.5L1155.7 707.5L1157.0 706.2L1157.2 706.1L1158.7 704.6L1159.4 704.0L1160.3 703.2L1161.8 701.8L1161.8 701.7L1163.3 700.3L1164.2 699.4L1164.8 698.9L1166.3 697.5L1166.7 697.2L1167.8 696.0L1169.1 694.9L1169.3 694.6L1170.8 693.2L1171.5 692.6L1172.3 691.7L1173.8 690.3L1173.9 690.2L1175.3 688.9L1176.3 687.9L1176.8 687.4L1178.3 686.0L1178.7 685.6L1179.7 684.6L1181.1 683.2L1181.2 683.1L1182.7 681.7L1183.5 680.9L1184.1 680.3L1185.6 678.8L1185.9 678.5L1187.0 677.4L1188.3 676.1L1188.5 676.0L1189.9 674.5L1190.7 673.7L1191.4 673.1L1192.8 671.7L1193.2 671.3M1247.3 614.3L1248.6 612.9L1248.6 612.9L1249.9 611.5L1251.0 610.3L1251.2 610.0L1252.5 608.6L1253.4 607.6L1253.8 607.2L1255.1 605.7L1255.8 604.9L1256.3 604.3L1257.6 602.9L1258.2 602.2L1258.9 601.4L1260.2 600.0L1260.6 599.5L1261.5 598.6L1262.7 597.1L1263.0 596.8L1264.0 595.7L1265.3 594.3L1265.4 594.1L1266.5 592.8L1267.8 591.4L1267.8 591.3L1269.1 590.0L1270.2 588.6L1270.3 588.5L1271.6 587.1L1272.6 585.9L1272.8 585.7L1274.1 584.2L1275.1 583.1L1275.3 582.8L1276.6 581.3L1277.5 580.3L1277.8 579.9L1279.1 578.5L1279.9 577.6L1280.3 577.0L1281.6 575.6L1282.3 574.8L1282.8 574.2L1284.0 572.7L1284.7 572.0L1285.3 571.3L1286.5 569.9L1287.1 569.2L1287.7 568.4L1289.0 567.0L1289.5 566.4L1290.2 565.6L1291.4 564.1L1291.9 563.6L1292.6 562.7L1293.9 561.3L1294.3 560.8L1295.1 559.8L1296.3 558.4L1296.7 557.9L1297.5 557.0L1298.8 555.5L1299.1 555.1L1300.0 554.1L1301.2 552.7L1301.5 552.3L1302.4 551.2L1303.6 549.8L1304.0 549.4L1304.8 548.4L1306.0 546.9L1306.4 546.5L1307.2 545.5L1308.4 544.1L1308.8 543.7L1309.6 542.6L1310.8 541.2L1311.2 540.8L1312.0 539.8L1313.2 538.3L1313.6 537.9L1314.4 536.9L1315.6 535.5L1316.0 535.1" stroke="#cdc028"/><path d="M470.7 1084.5L470.7 1083.1L470.5 1082.8L469.7 1081.6L469.2 1080.2L470.5 1079.0L470.7 1078.8L472.6 1077.3L472.9 1077.2L475.3 1075.9L475.3 1075.9L477.7 1074.9L478.7 1074.5L480.1 1074.0L482.5 1073.1L482.9 1073.0L485.0 1072.4L487.4 1071.7L487.7 1071.6L489.8 1071.0L492.2 1070.4L493.0 1070.2L494.6 1069.7L497.0 1069.1L498.5 1068.7L499.4 1068.5L501.8 1067.9L504.2 1067.3L504.2 1067.3L506.6 1066.7L509.0 1066.1L510.0 1065.9L511.5 1065.5L513.9 1064.9L515.9 1064.4L516.3 1064.3L518.7 1063.8L521.1 1063.2L521.8 1063.0L523.5 1062.6L525.9 1062.0L527.8 1061.6L528.3 1061.4L530.7 1060.8L533.1 1060.3L533.7 1060.1L535.5 1059.7L538.0 1059.1L539.6 1058.7L540.4 1058.5L542.8 1057.9L545.2 1057.3L545.4 1057.3L547.6 1056.7L550.0 1056.1L551.2 1055.8L552.4 1055.5L554.8 1054.9L557.0 1054.4L557.2 1054.3L559.6 1053.7L562.0 1053.1L562.6 1053.0L564.4 1052.5L566.9 1051.9L568.2 1051.5L569.3 1051.2L571.7 1050.6L573.7 1050.1L574.1 1050.0L576.5 1049.4L578.9 1048.7L579.2 1048.7L581.3 1048.1L583.7 1047.5L584.6 1047.2L586.1 1046.8L588.5 1046.2L590.0 1045.8L590.9 1045.5L593.4 1044.9M670.4 1023.1L671.2 1022.9L672.8 1022.4L675.3 1021.7L676.1 1021.4L677.7 1021.0L680.1 1020.2L680.9 1020.0L682.5 1019.5L684.9 1018.8L685.8 1018.6L687.3 1018.1L689.7 1017.4L690.6 1017.1L692.1 1016.7L694.5 1015.9L695.4 1015.7L696.9 1015.2L699.3 1014.5L700.1 1014.3L701.8 1013.8L704.2 1013.0L704.8 1012.8L706.6 1012.3L709.0 1011.5L709.5 1011.4L711.4 1010.8L713.8 1010.1L714.1 1010.0L716.2 1009.3L718.6 1008.5L718.7 1008.5L721.0 1007.8L723.2 1007.1L723.4 1007.0L725.8 1006.2L727.6 1005.7L728.2 1005.5L730.7 1004.7L732.0 1004.2L733.1 1003.9L735.5 1003.1L736.4 1002.8L737.9 1002.3L740.3 1001.5L740.7 1001.4L742.7 1000.7L744.9 999.9L745.1 999.9L747.5 999.0L749.1 998.5L749.9 998.2L752.3 997.4L753.2 997.1L754.7 996.5L757.2 995.7L757.3 995.6L759.6 994.8L761.3 994.2L762.0 994.0L764.4 993.1L765.3 992.8L766.8 992.2L769.2 991.3L769.2 991.3L771.6 990.5L773.1 989.9L774.0 989.6L776.4 988.7L777.0 988.5L778.8 987.8L780.8 987.0L781.2 986.9L783.7 986.0L784.6 985.6L786.1 985.0L788.4 984.2L788.5 984.1L790.9 983.2L792.1 982.7L793.3 982.3L795.7 981.3L795.8 981.3L798.1 980.4L799.5 979.9L800.5 979.4L802.9 978.5L803.1 978.4L805.3 977.5L806.7 977.0L807.7 976.6L810.1 975.6L810.3 975.6L812.6 974.7L813.9 974.1L815.0 973.7L817.4 972.7L817.5 972.7L819.8 971.8L821.0 971.3L822.2 970.8L824.5 969.8L824.6 969.8L827.0 968.8L828.0 968.4L829.4 967.8L831.5 967.0L831.8 966.8L834.2 965.8L835.0 965.5L836.6 964.8L838.4 964.1L839.1 963.8L841.5 962.8L841.9 962.7L843.9 961.8L845.3 961.2L846.3 960.8L848.7 959.8L848.7 959.8L851.1 958.8L852.1 958.4L853.5 957.7L855.5 956.9L855.9 956.7L858.3 955.7L858.8 955.5L860.7 954.7L862.1 954.1L863.1 953.6L865.4 952.6L865.6 952.6L868.0 951.5L868.7 951.2L870.4 950.5L872.0 949.8L872.8 949.4L875.2 948.3L875.2 948.3L877.6 947.3L878.5 946.9L880.0 946.2L881.7 945.5L882.4 945.1L884.8 944.0L884.9 944.0L887.2 942.9L888.0 942.6L889.6 941.9L891.2 941.2L892.0 940.8L894.3 939.7L894.5 939.6L896.9 938.5L897.4 938.3L899.3 937.4L900.5 936.9L901.7 936.3L903.5 935.4L904.1 935.2L906.5 934.0L906.6 934.0L908.9 932.9L909.6 932.6L911.3 931.7L912.6 931.1L913.7 930.6L915.5 929.7L916.1 929.4L918.5 928.3L918.5 928.2L921.0 927.0L921.4 926.8L923.4 925.9L924.3 925.4L925.8 924.7L927.2 924.0L928.2 923.5L930.1 922.5L930.6 922.3L932.9 921.1L933.0 921.0L935.4 919.8L935.7 919.7L937.8 918.6L938.5 918.2L940.2 917.3L941.3 916.8L942.6 916.1L944.1 915.3L945.0 914.8L946.8 913.9L947.5 913.6L949.5 912.5L949.9 912.3L952.2 911.0L952.3 911.0L954.7 909.7L954.9 909.6L957.1 908.4L957.6 908.2L959.5 907.1L960.2 906.7L961.9 905.8L962.8 905.3L964.3 904.5L965.4 903.9L966.7 903.2L968.0 902.4L969.1 901.8L970.6 901.0L971.5 900.5L973.1 899.6L973.9 899.1L975.6 898.1L976.4 897.7L978.2 896.7L978.8 896.4L980.7 895.3L981.2 895.0L983.1 893.8L983.6 893.6L985.6 892.4L986.0 892.2L988.1 891.0L988.4 890.8M1055.8 848.4L1056.4 848.0L1058.3 846.7L1058.6 846.5L1060.7 845.1L1060.7 845.1L1062.8 843.7L1063.1 843.5L1065.0 842.2L1065.5 841.9L1067.1 840.8L1067.9 840.3L1069.2 839.4L1070.3 838.6L1071.3 837.9L1072.7 837.0L1073.4 836.5L1075.1 835.3L1075.5 835.1L1077.5 833.7L1077.6 833.6L1079.6 832.2L1079.9 832.0L1081.7 830.8L1082.3 830.3L1083.8 829.3L1084.8 828.7L1085.9 827.9L1087.2 827.0L1087.9 826.5L1089.6 825.3L1090.0 825.0L1092.0 823.6L1092.0 823.6L1094.1 822.2L1094.4 821.9L1096.1 820.7L1096.8 820.2L1098.1 819.3L1099.2 818.5L1100.1 817.9L1101.6 816.8L1102.2 816.4L1104.0 815.1L1104.2 815.0L1106.2 813.6L1106.4 813.4L1108.2 812.1L1108.8 811.7L1110.2 810.7L1111.3 809.9L1112.2 809.3L1113.7 808.2L1114.1 807.8L1116.1 806.4L1116.1 806.4L1118.1 805.0L1118.5 804.7L1120.0 803.5L1120.9 802.9L1122.0 802.1L1123.3 801.2L1123.9 800.7L1125.7 799.4L1125.9 799.2L1127.8 797.8L1128.1 797.6L1129.8 796.4L1130.5 795.8L1131.7 794.9L1132.9 794.0L1133.6 793.5L1135.3 792.2L1135.5 792.1L1137.4 790.6L1137.7 790.4L1139.3 789.2L1140.2 788.6L1141.2 787.8L1142.6 786.7L1143.1 786.3L1144.9 784.9L1145.0 784.9L1146.8 783.5L1147.4 783.0L1148.7 782.0L1149.8 781.2L1150.5 780.6L1152.2 779.3L1152.4 779.2L1154.2 777.7L1154.6 777.4L1156.0 776.3L1157.0 775.5L1157.9 774.9L1159.4 773.6L1159.7 773.4L1161.5 772.0L1161.8 771.7L1163.3 770.6L1164.2 769.8L1165.1 769.1L1166.7 767.9L1166.9 767.7L1168.7 766.3L1169.1 765.9L1170.4 764.8L1171.5 764.0L1172.2 763.4L1173.9 762.0L1174.0 762.0L1175.7 760.5L1176.3 760.1L1177.5 759.1L1178.7 758.1L1179.2 757.7L1180.9 756.2L1181.1 756.1L1182.7 754.8L1183.5 754.1L1184.4 753.4L1185.9 752.1L1186.1 751.9L1187.8 750.5L1188.3 750.0L1189.5 749.1L1190.7 748.0L1191.2 747.6L1192.9 746.2L1193.2 746.0L1194.5 744.8L1195.6 743.9L1196.2 743.3L1197.9 741.9L1198.0 741.8L1199.5 740.5L1200.4 739.7L1201.2 739.0L1202.8 737.6L1202.8 737.6L1204.5 736.2L1205.2 735.5L1206.1 734.7L1207.6 733.4L1207.7 733.3L1209.3 731.9L1210.0 731.3L1210.9 730.4L1212.4 729.1L1212.5 729.0L1214.1 727.6L1214.8 726.9L1215.7 726.1L1217.2 724.8L1217.3 724.7L1218.9 723.3L1219.6 722.6L1220.5 721.8L1222.0 720.4L1222.1 720.4L1223.6 719.0L1224.5 718.2L1225.2 717.5L1226.7 716.1L1226.9 715.9L1228.2 714.7L1229.3 713.7L1229.8 713.2L1231.3 711.8L1231.7 711.4L1232.8 710.4L1234.1 709.2L1234.4 708.9L1235.9 707.5L1236.5 706.9L1237.4 706.1L1238.9 704.6L1238.9 704.6L1240.4 703.2L1241.3 702.3L1241.9 701.8L1243.4 700.3L1243.7 700.0L1244.9 698.9L1246.1 697.7L1246.3 697.5L1247.8 696.0L1248.6 695.3L1249.3 694.6L1250.8 693.2L1251.0 693.0L1252.2 691.7L1253.4 690.6L1253.7 690.3L1255.1 688.9L1255.8 688.2L1256.6 687.4L1258.0 686.0L1258.2 685.8L1259.4 684.6L1260.6 683.4L1260.9 683.1L1262.3 681.7L1263.0 681.0L1263.7 680.3L1265.2 678.8L1265.4 678.6L1266.6 677.4L1267.8 676.1L1268.0 676.0L1269.4 674.5L1270.2 673.7L1270.8 673.1L1272.2 671.7L1272.6 671.2L1273.6 670.2L1275.0 668.8L1275.1 668.7L1276.4 667.4L1277.5 666.3L1277.8 665.9L1279.2 664.5L1279.9 663.8L1280.5 663.1L1281.9 661.6L1282.3 661.2L1283.3 660.2L1284.7 658.8L1284.7 658.7L1286.0 657.3L1287.1 656.2L1287.4 655.9L1288.8 654.5L1289.5 653.7L1290.1 653.0L1291.5 651.6L1291.9 651.1L1292.8 650.2L1294.2 648.7L1294.3 648.6L1295.5 647.3L1296.7 646.0L1296.9 645.9L1298.2 644.4L1299.1 643.4L1299.5 643.0L1300.9 641.6L1301.5 640.8L1302.2 640.1L1303.5 638.7L1304.0 638.2L1304.9 637.3L1306.2 635.8L1306.4 635.6L1307.5 634.4L1308.8 633.0L1308.8 633.0L1310.1 631.5L1311.2 630.4L1311.5 630.1L1312.8 628.7L1313.6 627.8L1314.1 627.2L1315.4 625.8L1316.0 625.1" stroke="#e0bc2a"/><path d="M546.7 1084.5L546.7 1083.1L546.7 1081.6L545.2 1080.9L543.8 1080.2L542.8 1079.7L541.0 1078.8L540.4 1077.7L540.1 1077.3L540.4 1076.8L540.8 1075.9L542.8 1074.6L542.9 1074.5L545.2 1073.4L546.1 1073.0L547.6 1072.5L550.0 1071.6L550.0 1071.6L552.4 1070.8L554.4 1070.2L554.8 1070.0L557.2 1069.3L559.3 1068.7L559.6 1068.6L562.0 1068.0L564.4 1067.3L564.4 1067.3L566.9 1066.7L569.3 1066.0L569.9 1065.9L571.7 1065.4L574.1 1064.8L575.5 1064.4L576.5 1064.2L578.9 1063.6L581.3 1063.0L581.4 1063.0L583.7 1062.4L586.1 1061.9L587.4 1061.6L588.5 1061.3L590.9 1060.7L593.4 1060.2L593.6 1060.1L595.8 1059.6L598.2 1059.1L599.8 1058.7L600.6 1058.5L603.0 1058.0L605.4 1057.4L606.0 1057.3L607.8 1056.9L610.2 1056.3L612.3 1055.8L612.6 1055.7L615.0 1055.2L617.4 1054.6L618.4 1054.4L619.9 1054.1L622.3 1053.5L624.5 1053.0L624.7 1052.9L627.1 1052.3L629.5 1051.8L630.5 1051.5L631.9 1051.2L634.3 1050.6L636.4 1050.1L636.7 1050.0L639.1 1049.4M701.5 1032.9L701.8 1032.8L704.2 1032.1L706.5 1031.5L706.6 1031.4L709.0 1030.8L711.4 1030.1L711.5 1030.0L713.8 1029.4L716.2 1028.7L716.5 1028.6L718.6 1028.0L721.0 1027.3L721.5 1027.2L723.4 1026.6L725.8 1025.9L726.5 1025.7L728.2 1025.2L730.7 1024.5L731.5 1024.3L733.1 1023.8L735.5 1023.1L736.4 1022.9L737.9 1022.4L740.3 1021.8L741.4 1021.4L742.7 1021.1L745.1 1020.4L746.4 1020.0L747.5 1019.7L749.9 1019.0L751.3 1018.6L752.3 1018.3L754.7 1017.6L756.3 1017.1L757.2 1016.9L759.6 1016.2L761.2 1015.7L762.0 1015.5L764.4 1014.7L766.0 1014.3L766.8 1014.0L769.2 1013.3L770.9 1012.8L771.6 1012.6L774.0 1011.9L775.7 1011.4L776.4 1011.2L778.8 1010.4L780.4 1010.0L781.2 1009.7L783.7 1009.0L785.1 1008.5L786.1 1008.2L788.5 1007.5L789.8 1007.1L790.9 1006.7L793.3 1006.0L794.4 1005.7L795.7 1005.2L798.1 1004.5L798.9 1004.2L800.5 1003.7L802.9 1002.9L803.4 1002.8L805.3 1002.2L807.7 1001.4L807.8 1001.4L810.1 1000.6L812.2 999.9L812.6 999.8L815.0 999.0L816.5 998.5L817.4 998.2L819.8 997.4L820.8 997.1L822.2 996.6L824.6 995.7L825.0 995.6L827.0 994.9L829.1 994.2L829.4 994.1L831.8 993.2L833.2 992.8L834.2 992.4L836.6 991.5L837.3 991.3L839.1 990.7L841.3 989.9L841.5 989.8L843.9 989.0L845.3 988.5L846.3 988.1L848.7 987.2L849.2 987.0L851.1 986.3L853.2 985.6L853.5 985.5L855.9 984.6L857.0 984.2L858.3 983.7L860.7 982.8L860.9 982.7L863.1 981.9L864.7 981.3L865.6 981.0L868.0 980.1L868.5 979.9L870.4 979.2L872.3 978.4L872.8 978.2L875.2 977.3L876.0 977.0L877.6 976.4L879.8 975.6L880.0 975.5L882.4 974.5L883.5 974.1L884.8 973.6L887.1 972.7L887.2 972.7L889.6 971.7L890.8 971.3L892.0 970.8L894.4 969.8L894.5 969.8L896.9 968.9L898.1 968.4L899.3 967.9L901.7 967.0L901.7 966.9L904.1 966.0L905.2 965.5L906.5 965.0L908.8 964.1L908.9 964.0L911.3 963.1L912.4 962.7L913.7 962.1L915.9 961.2L916.1 961.1L918.5 960.1L919.4 959.8L921.0 959.2L922.9 958.4L923.4 958.2L925.8 957.2L926.4 956.9L928.2 956.2L929.8 955.5L930.6 955.2L933.0 954.2L933.3 954.1L935.4 953.2L936.7 952.6L937.8 952.1L940.1 951.2L940.2 951.1L942.6 950.1L943.4 949.8L945.0 949.1L946.8 948.3L947.5 948.0L949.9 947.0L950.1 946.9L952.3 945.9L953.4 945.5L954.7 944.9L956.7 944.0L957.1 943.8L959.5 942.8L960.0 942.6L961.9 941.7L963.2 941.2L964.3 940.7L966.4 939.7L966.7 939.6L969.1 938.5L969.6 938.3L971.5 937.4L972.8 936.9L973.9 936.3L975.9 935.4L976.4 935.2L978.8 934.1L979.1 934.0L981.2 933.0L982.2 932.6L983.6 931.9L985.2 931.1L986.0 930.8L988.3 929.7L988.4 929.6L990.8 928.5L991.3 928.3L993.2 927.4L994.4 926.8L995.6 926.2L997.4 925.4L998.0 925.1L1000.3 924.0L1000.4 923.9L1002.9 922.7L1003.3 922.5L1005.3 921.5L1006.2 921.1L1007.7 920.4L1009.1 919.7L1010.1 919.2L1012.0 918.2L1012.5 918.0L1014.9 916.8L1014.9 916.8L1017.3 915.6L1017.7 915.3L1019.7 914.3L1020.6 913.9L1022.1 913.1L1023.4 912.5L1024.5 911.9L1026.2 911.0L1026.9 910.7L1029.0 909.6L1029.4 909.4L1031.7 908.2L1031.8 908.2L1034.2 906.9L1034.4 906.7M1089.6 876.1L1091.1 875.2L1092.0 874.7L1093.6 873.8L1094.4 873.3L1096.0 872.3L1096.8 871.9L1098.4 870.9L1099.2 870.5L1100.9 869.5L1101.6 869.0L1103.3 868.0L1104.0 867.6L1105.7 866.6L1106.4 866.2L1108.1 865.2L1108.8 864.7L1110.5 863.7L1111.3 863.3L1112.8 862.3L1113.7 861.8L1115.2 860.9L1116.1 860.4L1117.6 859.4L1118.5 858.9L1119.9 858.0L1120.9 857.4L1122.3 856.6L1123.3 856.0L1124.6 855.1L1125.7 854.5L1126.9 853.7L1128.1 853.0L1129.3 852.3L1130.5 851.5L1131.6 850.8L1132.9 850.0L1133.9 849.4L1135.3 848.5L1136.2 848.0L1137.7 847.0L1138.5 846.5L1140.2 845.5L1140.8 845.1L1142.6 844.0L1143.0 843.7L1145.0 842.4L1145.3 842.2L1147.4 840.9L1147.5 840.8L1149.8 839.4L1149.8 839.4L1152.0 837.9L1152.2 837.8L1154.2 836.5L1154.6 836.3L1156.5 835.1L1157.0 834.7L1158.7 833.6L1159.4 833.1L1160.9 832.2L1161.8 831.6L1163.0 830.8L1164.2 830.0L1165.2 829.3L1166.7 828.4L1167.4 827.9L1169.1 826.8L1169.5 826.5L1171.5 825.2L1171.7 825.0L1173.8 823.6L1173.9 823.6L1176.0 822.2L1176.3 822.0L1178.1 820.7L1178.7 820.3L1180.2 819.3L1181.1 818.7L1182.3 817.9L1183.5 817.0L1184.4 816.4L1185.9 815.4L1186.4 815.0L1188.3 813.7L1188.5 813.6L1190.6 812.1L1190.7 812.0L1192.6 810.7L1193.2 810.3L1194.6 809.3L1195.6 808.6L1196.7 807.8L1198.0 806.9L1198.7 806.4L1200.4 805.2L1200.7 805.0L1202.7 803.5L1202.8 803.4L1204.6 802.1L1205.2 801.7L1206.6 800.7L1207.6 799.9L1208.6 799.2L1210.0 798.2L1210.5 797.8L1212.4 796.4L1212.4 796.4L1214.4 794.9L1214.8 794.6L1216.3 793.5L1217.2 792.8L1218.2 792.1L1219.6 791.0L1220.1 790.6L1222.0 789.2L1222.1 789.1L1223.8 787.8L1224.5 787.3L1225.7 786.3L1226.9 785.4L1227.6 784.9L1229.3 783.6L1229.4 783.5L1231.2 782.0L1231.7 781.7L1233.1 780.6L1234.1 779.8L1234.9 779.2L1236.5 777.9L1236.7 777.7L1238.5 776.3L1238.9 775.9L1240.2 774.9L1241.3 774.0L1242.0 773.4L1243.7 772.0L1243.8 772.0L1245.5 770.6L1246.1 770.1L1247.3 769.1L1248.6 768.1L1249.0 767.7L1250.7 766.3L1251.0 766.1L1252.5 764.8L1253.4 764.1L1254.2 763.4L1255.8 762.0L1255.9 762.0L1257.6 760.5L1258.2 760.0L1259.2 759.1L1260.6 757.9L1260.9 757.7L1262.6 756.2L1263.0 755.9L1264.2 754.8L1265.4 753.8L1265.9 753.4L1267.5 751.9L1267.8 751.7L1269.2 750.5L1270.2 749.6L1270.8 749.1L1272.4 747.6L1272.6 747.4L1274.0 746.2L1275.1 745.3L1275.6 744.8L1277.2 743.3L1277.5 743.1L1278.8 741.9L1279.9 740.9L1280.4 740.5L1281.9 739.0L1282.3 738.7L1283.5 737.6L1284.7 736.5L1285.1 736.2L1286.6 734.7L1287.1 734.3L1288.2 733.3L1289.5 732.0L1289.7 731.9L1291.2 730.4L1291.9 729.8L1292.7 729.0L1294.3 727.6L1294.3 727.5L1295.8 726.1L1296.7 725.2L1297.3 724.7L1298.8 723.3L1299.1 722.9L1300.3 721.8L1301.5 720.6L1301.8 720.4L1303.3 719.0L1304.0 718.3L1304.7 717.5L1306.2 716.1L1306.4 715.9L1307.7 714.7L1308.8 713.6L1309.1 713.2L1310.6 711.8L1311.2 711.2L1312.0 710.4L1313.5 708.9L1313.6 708.8L1314.9 707.5L1316.0 706.4" stroke="#f0ba36"/><path d="M627.5 1084.5L627.5 1083.1L627.1 1082.1L626.9 1081.6L624.7 1081.1L622.3 1080.4L621.4 1080.2L619.9 1079.8L617.4 1079.1L616.3 1078.8L615.0 1078.1L613.6 1077.3L612.9 1075.9L613.6 1074.5L615.0 1073.3L615.4 1073.0L617.4 1071.9L618.0 1071.6L619.9 1070.8L621.3 1070.2L622.3 1069.8L624.7 1068.9L625.2 1068.7L627.1 1068.1L629.5 1067.4L629.7 1067.3L631.9 1066.7L634.3 1066.0L634.7 1065.9L636.7 1065.3L639.1 1064.7L640.1 1064.4L641.5 1064.1L643.9 1063.5L646.0 1063.0L646.3 1062.9L648.8 1062.3L651.2 1061.8L652.1 1061.6L653.6 1061.2L656.0 1060.7L658.4 1060.2L658.6 1060.1L660.8 1059.6L663.2 1059.1L665.1 1058.7L665.6 1058.6L668.0 1058.1L670.4 1057.6L671.8 1057.3L672.8 1057.0L675.3 1056.5M752.3 1037.9L754.7 1037.2L754.9 1037.2L757.2 1036.6L759.6 1035.9L760.1 1035.8L762.0 1035.3L764.4 1034.6L765.3 1034.3L766.8 1033.9L769.2 1033.3L770.5 1032.9L771.6 1032.6L774.0 1031.9L775.7 1031.5L776.4 1031.3L778.8 1030.6L780.8 1030.0L781.2 1029.9L783.7 1029.2L785.9 1028.6L786.1 1028.6L788.5 1027.9L790.9 1027.2L791.0 1027.2L793.3 1026.5L795.7 1025.8L796.1 1025.7L798.1 1025.2L800.5 1024.5L801.2 1024.3L802.9 1023.8L805.3 1023.1L806.3 1022.9L807.7 1022.4L810.1 1021.8L811.4 1021.4L812.6 1021.1L815.0 1020.4L816.4 1020.0L817.4 1019.7L819.8 1019.0L821.5 1018.6L822.2 1018.4L824.6 1017.7L826.5 1017.1L827.0 1017.0L829.4 1016.3L831.6 1015.7L831.8 1015.6L834.2 1014.9L836.5 1014.3L836.6 1014.2L839.1 1013.5L841.5 1012.8L841.5 1012.8L843.9 1012.1L846.3 1011.4L846.4 1011.4L848.7 1010.7L851.1 1010.0L851.2 1010.0L853.5 1009.3L855.9 1008.6L856.0 1008.5L858.3 1007.8L860.7 1007.1L860.8 1007.1L863.1 1006.4L865.5 1005.7L865.6 1005.6L868.0 1004.9L870.1 1004.2L870.4 1004.1L872.8 1003.4L874.7 1002.8L875.2 1002.6L877.6 1001.9L879.2 1001.4L880.0 1001.1L882.4 1000.3L883.7 999.9L884.8 999.5L887.2 998.8L888.1 998.5L889.6 998.0L892.0 997.2L892.4 997.1L894.5 996.4L896.7 995.6L896.9 995.6L899.3 994.8L901.0 994.2L901.7 994.0L904.1 993.1L905.2 992.8L906.5 992.3L908.9 991.5L909.4 991.3L911.3 990.7L913.5 989.9L913.7 989.8L916.1 989.0L917.6 988.5L918.5 988.1L921.0 987.3L921.7 987.0L923.4 986.4L925.8 985.6L925.8 985.6L928.2 984.7L929.8 984.2L930.6 983.9L933.0 983.0L933.8 982.7L935.4 982.1L937.7 981.3L937.8 981.3L940.2 980.4L941.7 979.9L942.6 979.5L945.0 978.6L945.6 978.4L947.5 977.7L949.5 977.0L949.9 976.8L952.3 976.0L953.3 975.6L954.7 975.1L957.1 974.2L957.2 974.1L959.5 973.3L961.0 972.7L961.9 972.4L964.3 971.4L964.8 971.3L966.7 970.5L968.6 969.8L969.1 969.6L971.5 968.7L972.4 968.4L973.9 967.8L976.1 967.0L976.4 966.9L978.8 965.9L979.8 965.5L981.2 965.0L983.6 964.1L983.6 964.1L986.0 963.1L987.2 962.7L988.4 962.2L990.8 961.3L990.9 961.2L993.2 960.3L994.6 959.8L995.6 959.4L998.0 958.4L998.2 958.4L1000.4 957.5L1001.8 956.9L1002.9 956.5L1005.3 955.5L1005.4 955.5L1007.7 954.6L1008.9 954.1L1010.1 953.6L1012.5 952.6L1012.5 952.6L1014.9 951.6L1016.0 951.2L1017.3 950.6L1019.5 949.8L1019.7 949.6L1022.1 948.7L1022.9 948.3L1024.5 947.7L1026.4 946.9L1026.9 946.6L1029.4 945.6L1029.8 945.5L1031.8 944.6L1033.2 944.0L1034.2 943.6L1036.6 942.6L1036.6 942.6L1039.0 941.5L1039.9 941.2L1041.4 940.5L1043.2 939.7L1043.8 939.5L1046.2 938.4L1046.5 938.3L1048.6 937.4L1049.8 936.9L1051.0 936.3L1053.1 935.4L1053.4 935.3L1055.8 934.2L1056.3 934.0L1058.3 933.1L1059.5 932.6L1060.7 932.0L1062.7 931.1L1063.1 931.0L1065.5 929.9L1065.9 929.7L1067.9 928.8L1069.0 928.3L1070.3 927.7L1072.2 926.8L1072.7 926.6L1075.1 925.5L1075.3 925.4L1077.5 924.3L1078.4 924.0L1079.9 923.2L1081.4 922.5L1082.3 922.1L1084.5 921.1L1084.8 921.0M1154.6 885.7L1155.4 885.2L1157.0 884.4L1158.0 883.8L1159.4 883.1L1160.7 882.4L1161.8 881.7L1163.3 880.9L1164.2 880.4L1165.9 879.5L1166.7 879.1L1168.5 878.1L1169.1 877.8L1171.1 876.6L1171.5 876.5L1173.7 875.2L1173.9 875.1L1176.3 873.8L1176.3 873.8L1178.7 872.4L1178.9 872.3L1181.1 871.1L1181.4 870.9L1183.5 869.7L1183.9 869.5L1185.9 868.4L1186.5 868.0L1188.3 867.0L1189.0 866.6L1190.7 865.6L1191.5 865.2L1193.2 864.2L1194.0 863.7L1195.6 862.8L1196.4 862.3L1198.0 861.4L1198.9 860.9L1200.4 860.0L1201.4 859.4L1202.8 858.6L1203.8 858.0L1205.2 857.2L1206.2 856.6L1207.6 855.7L1208.6 855.1L1210.0 854.3L1211.0 853.7L1212.4 852.9L1213.4 852.3L1214.8 851.4L1215.8 850.8L1217.2 849.9L1218.1 849.4L1219.6 848.5L1220.5 848.0L1222.1 847.0L1222.8 846.5L1224.5 845.5L1225.1 845.1L1226.9 844.0L1227.4 843.7L1229.3 842.5L1229.7 842.2L1231.7 841.0L1231.9 840.8L1234.1 839.4L1234.2 839.4L1236.4 837.9L1236.5 837.9L1238.7 836.5L1238.9 836.3L1240.9 835.1L1241.3 834.8L1243.1 833.6L1243.7 833.2L1245.2 832.2L1246.1 831.6L1247.4 830.8L1248.6 830.0L1249.6 829.3L1251.0 828.4L1251.7 827.9L1253.4 826.8L1253.8 826.5L1255.8 825.1L1255.9 825.0L1258.0 823.6L1258.2 823.5L1260.1 822.2L1260.6 821.8L1262.2 820.7L1263.0 820.1L1264.2 819.3L1265.4 818.5L1266.2 817.9L1267.8 816.7L1268.2 816.4L1270.2 815.0L1270.3 815.0L1272.2 813.6L1272.6 813.3L1274.2 812.1L1275.1 811.5L1276.2 810.7L1277.5 809.8L1278.1 809.3L1279.9 808.0L1280.0 807.8L1282.0 806.4L1282.3 806.2L1283.9 805.0L1284.7 804.3L1285.8 803.5L1287.1 802.5L1287.6 802.1L1289.5 800.7L1289.5 800.7L1291.3 799.2L1291.9 798.8L1293.2 797.8L1294.3 796.9L1295.0 796.4L1296.7 795.0L1296.8 794.9L1298.6 793.5L1299.1 793.1L1300.4 792.1L1301.5 791.1L1302.2 790.6L1303.9 789.2L1304.0 789.2L1305.7 787.8L1306.4 787.2L1307.4 786.3L1308.8 785.2L1309.1 784.9L1310.9 783.5L1311.2 783.2L1312.6 782.0L1313.6 781.2L1314.3 780.6L1316.0 779.2L1316.0 779.1" stroke="#fdbd3d"/><path d="M714.8 1084.5L714.8 1083.1L713.8 1082.4L712.8 1081.6L711.4 1081.4L709.0 1081.0L706.6 1080.6L704.6 1080.2L704.2 1080.1L701.8 1079.5L699.3 1078.9L698.6 1078.8L696.9 1078.2L694.7 1077.3L694.5 1077.2L692.5 1075.9L692.1 1075.3L691.6 1074.5L691.8 1073.0L692.1 1072.6L692.9 1071.6L694.5 1070.4L694.9 1070.2L696.9 1069.2L697.8 1068.7L699.3 1068.1L701.5 1067.3L701.8 1067.2L704.2 1066.4L705.9 1065.9L706.6 1065.7L709.0 1065.0L711.1 1064.4L711.4 1064.3L713.8 1063.7L716.2 1063.1L716.8 1063.0L718.6 1062.6L721.0 1062.0L723.0 1061.6L723.4 1061.5M800.4 1044.4L800.5 1044.3L802.9 1043.7L805.3 1043.2L806.2 1042.9L807.7 1042.6L810.1 1042.0L812.0 1041.5L812.6 1041.3L815.0 1040.7L817.4 1040.1L817.6 1040.1L819.8 1039.5L822.2 1038.9L823.2 1038.6L824.6 1038.3L827.0 1037.6L828.7 1037.2L829.4 1037.0L831.8 1036.4L834.1 1035.8L834.2 1035.7L836.6 1035.1L839.1 1034.4L839.4 1034.3L841.5 1033.8L843.9 1033.1L844.7 1032.9L846.3 1032.5L848.7 1031.8L850.0 1031.5L851.1 1031.2L853.5 1030.5L855.3 1030.0L855.9 1029.8L858.3 1029.2L860.5 1028.6L860.7 1028.5L863.1 1027.9L865.6 1027.2L865.7 1027.2L868.0 1026.5L870.4 1025.9L870.9 1025.7L872.8 1025.2L875.2 1024.5L876.1 1024.3L877.6 1023.9L880.0 1023.2L881.2 1022.9L882.4 1022.5L884.8 1021.9L886.4 1021.4L887.2 1021.2L889.6 1020.5L891.6 1020.0L892.0 1019.9L894.5 1019.2L896.7 1018.6L896.9 1018.5L899.3 1017.8L901.7 1017.2L901.8 1017.1L904.1 1016.5L906.5 1015.8L906.9 1015.7L908.9 1015.1L911.3 1014.4L911.9 1014.3L913.7 1013.7L916.1 1013.0L916.9 1012.8L918.5 1012.4L921.0 1011.7L921.8 1011.4L923.4 1010.9L925.8 1010.2L926.7 1010.0L928.2 1009.5L930.6 1008.8L931.6 1008.5L933.0 1008.1L935.4 1007.4L936.4 1007.1L937.8 1006.7L940.2 1005.9L941.2 1005.7L942.6 1005.2L945.0 1004.5L945.9 1004.2L947.5 1003.7L949.9 1003.0L950.5 1002.8L952.3 1002.2L954.7 1001.5L955.1 1001.4L957.1 1000.7L959.5 1000.0L959.7 999.9L961.9 999.2L964.2 998.5L964.3 998.5L966.7 997.7L968.7 997.1L969.1 996.9L971.5 996.1L973.1 995.6L973.9 995.4L976.4 994.6L977.5 994.2L978.8 993.8L981.2 993.0L981.9 992.8L983.6 992.2L986.0 991.4L986.2 991.3L988.4 990.6L990.5 989.9L990.8 989.8L993.2 989.0L994.8 988.5L995.6 988.2L998.0 987.4L999.1 987.0L1000.4 986.6L1002.9 985.7L1003.3 985.6L1005.3 984.9L1007.5 984.2L1007.7 984.1L1010.1 983.3L1011.7 982.7L1012.5 982.4L1014.9 981.6L1015.8 981.3L1017.3 980.8L1019.7 979.9L1019.9 979.9L1022.1 979.1L1024.0 978.4L1024.5 978.2L1026.9 977.4L1028.1 977.0L1029.4 976.5L1031.8 975.7L1032.2 975.6L1034.2 974.8L1036.2 974.1L1036.6 974.0L1039.0 973.1L1040.2 972.7L1041.4 972.3L1043.8 971.4L1044.2 971.3L1046.2 970.5L1048.1 969.8L1048.6 969.6L1051.0 968.8L1052.1 968.4L1053.4 967.9L1055.8 967.0L1056.0 967.0L1058.3 966.1L1059.9 965.5L1060.7 965.2L1063.1 964.3L1063.8 964.1L1065.5 963.4L1067.6 962.7L1067.9 962.5L1070.3 961.6L1071.4 961.2L1072.7 960.7L1075.1 959.8L1075.2 959.8L1077.5 958.9L1079.0 958.4L1079.9 958.0L1082.3 957.1L1082.7 956.9L1084.8 956.1L1086.5 955.5L1087.2 955.2L1089.6 954.3L1090.2 954.1L1092.0 953.3L1093.8 952.6L1094.4 952.4L1096.8 951.5L1097.5 951.2L1099.2 950.5L1101.1 949.8L1101.6 949.5L1104.0 948.6L1104.7 948.3L1106.4 947.6L1108.3 946.9L1108.8 946.7L1111.3 945.7L1111.8 945.5L1113.7 944.7L1115.3 944.0L1116.1 943.7L1118.5 942.7L1118.8 942.6L1120.9 941.7L1122.3 941.2L1123.3 940.7L1125.7 939.7L1125.7 939.7L1128.1 938.7L1129.1 938.3L1130.5 937.7L1132.5 936.9L1132.9 936.7M1204.7 903.9L1205.2 903.7L1207.6 902.5L1207.6 902.4L1210.0 901.3L1210.5 901.0L1212.4 900.1L1213.4 899.6L1214.8 898.9L1216.3 898.1L1217.2 897.7L1219.1 896.7L1219.6 896.5L1222.0 895.3L1222.1 895.2L1224.5 894.0L1224.8 893.8L1226.9 892.8L1227.6 892.4L1229.3 891.5L1230.4 891.0L1231.7 890.3L1233.2 889.5L1234.1 889.1L1235.9 888.1L1236.5 887.8L1238.6 886.7L1238.9 886.5L1241.3 885.3L1241.4 885.2L1243.7 884.0L1244.1 883.8L1246.1 882.7L1246.7 882.4L1248.6 881.4L1249.4 880.9L1251.0 880.1L1252.0 879.5L1253.4 878.8L1254.7 878.1L1255.8 877.5L1257.3 876.6L1258.2 876.1L1259.9 875.2L1260.6 874.8L1262.4 873.8L1263.0 873.5L1265.0 872.3L1265.4 872.1L1267.5 870.9L1267.8 870.7L1270.0 869.5L1270.2 869.4L1272.5 868.0L1272.6 868.0L1275.0 866.6L1275.1 866.6L1277.5 865.2L1277.5 865.2L1279.9 863.8L1279.9 863.7L1282.3 862.4L1282.3 862.3L1284.7 860.9L1284.7 860.9L1287.1 859.5L1287.1 859.4L1289.5 858.0L1289.5 858.0L1291.8 856.6L1291.9 856.5L1294.2 855.1L1294.3 855.0L1296.5 853.7L1296.7 853.5L1298.8 852.3L1299.1 852.0L1301.0 850.8L1301.5 850.5L1303.3 849.4L1304.0 849.0L1305.5 848.0L1306.4 847.4L1307.7 846.5L1308.8 845.8L1309.9 845.1L1311.2 844.3L1312.1 843.7L1313.6 842.7L1314.2 842.2L1316.0 841.0" stroke="#fec636"/><path d="M811.2 1084.5L811.2 1083.1L810.1 1082.6L808.1 1081.6L807.7 1081.6L805.3 1081.2L802.9 1080.9L800.5 1080.6L798.1 1080.2L798.0 1080.2L795.7 1079.7L793.3 1079.2L791.1 1078.8L790.9 1078.7L788.5 1078.1L786.1 1077.4L785.7 1077.3L783.7 1076.7L781.3 1075.9L781.2 1075.9L778.8 1074.8L778.1 1074.5L776.4 1073.1L776.4 1073.0L776.0 1071.6L776.4 1070.9L776.9 1070.2L778.8 1068.8L778.9 1068.7L781.2 1067.6L781.8 1067.3M858.3 1049.3L860.7 1048.8L861.1 1048.7L863.1 1048.2L865.6 1047.7L867.5 1047.2L868.0 1047.1L870.4 1046.6L872.8 1046.0L873.7 1045.8L875.2 1045.5L877.6 1044.9L879.8 1044.4L880.0 1044.3L882.4 1043.8L884.8 1043.2L885.9 1042.9L887.2 1042.6L889.6 1042.0L891.8 1041.5L892.0 1041.4L894.5 1040.8L896.9 1040.2L897.6 1040.1L899.3 1039.6L901.7 1039.0L903.3 1038.6L904.1 1038.4L906.5 1037.8L908.9 1037.2L908.9 1037.2L911.3 1036.6L913.7 1035.9L914.4 1035.8L916.1 1035.3L918.5 1034.7L919.9 1034.3L921.0 1034.0L923.4 1033.4L925.3 1032.9L925.8 1032.8L928.2 1032.1L930.6 1031.5L930.6 1031.5L933.0 1030.8L935.4 1030.2L935.9 1030.0L937.8 1029.5L940.2 1028.9L941.2 1028.6L942.6 1028.2L945.0 1027.6L946.5 1027.2L947.5 1026.9L949.9 1026.2L951.7 1025.7L952.3 1025.6L954.7 1024.9L956.9 1024.3L957.1 1024.2L959.5 1023.6L961.9 1022.9L962.1 1022.9L964.3 1022.3L966.7 1021.6L967.3 1021.4L969.1 1020.9L971.5 1020.3L972.5 1020.0L973.9 1019.6L976.4 1018.9L977.6 1018.6L978.8 1018.2L981.2 1017.6L982.7 1017.1L983.6 1016.9L986.0 1016.2L987.8 1015.7L988.4 1015.5L990.8 1014.9L992.9 1014.3L993.2 1014.2L995.6 1013.5L997.9 1012.8L998.0 1012.8L1000.4 1012.1L1002.9 1011.4L1002.9 1011.4L1005.3 1010.7L1007.7 1010.0L1007.9 1010.0L1010.1 1009.3L1012.5 1008.6L1012.8 1008.5L1014.9 1007.9L1017.3 1007.2L1017.7 1007.1L1019.7 1006.5L1022.1 1005.8L1022.6 1005.7L1024.5 1005.1L1026.9 1004.4L1027.4 1004.2L1029.4 1003.6L1031.8 1002.9L1032.2 1002.8L1034.2 1002.2L1036.6 1001.5L1037.0 1001.4L1039.0 1000.7L1041.4 1000.0L1041.7 999.9L1043.8 999.3L1046.2 998.5L1046.4 998.5L1048.6 997.8L1051.0 997.1L1051.0 997.1L1053.4 996.3L1055.7 995.6L1055.8 995.6L1058.3 994.8L1060.3 994.2L1060.7 994.1L1063.1 993.3L1064.9 992.8L1065.5 992.6L1067.9 991.8L1069.4 991.3L1070.3 991.0L1072.7 990.3L1073.9 989.9L1075.1 989.5L1077.5 988.7L1078.4 988.5L1079.9 988.0L1082.3 987.2L1082.9 987.0L1084.8 986.4L1087.2 985.7L1087.4 985.6L1089.6 984.9L1091.8 984.2L1092.0 984.1L1094.4 983.3L1096.2 982.7L1096.8 982.5L1099.2 981.7L1100.5 981.3L1101.6 980.9L1104.0 980.1L1104.9 979.9L1106.4 979.3L1108.8 978.5L1109.2 978.4L1111.3 977.7L1113.5 977.0L1113.7 976.9L1116.1 976.1L1117.7 975.6L1118.5 975.3L1120.9 974.5L1122.0 974.1L1123.3 973.7L1125.7 972.8L1126.1 972.7L1128.1 972.0L1130.3 971.3L1130.5 971.2L1132.9 970.3L1134.4 969.8L1135.3 969.5L1137.7 968.7L1138.5 968.4L1140.2 967.8L1142.6 967.0L1142.6 967.0L1145.0 966.1L1146.6 965.5L1147.4 965.3L1149.8 964.4L1150.6 964.1L1152.2 963.5L1154.6 962.7L1154.6 962.7L1157.0 961.8L1158.5 961.2L1159.4 960.9L1161.8 960.0L1162.5 959.8L1164.2 959.1L1166.3 958.4L1166.7 958.2L1169.1 957.3L1170.2 956.9L1171.5 956.4L1173.9 955.5L1174.0 955.5L1176.3 954.6L1177.8 954.1L1178.7 953.7L1181.1 952.8L1181.5 952.6L1183.5 951.8L1185.2 951.2L1185.9 950.9L1188.3 950.0L1188.9 949.8L1190.7 949.0L1192.6 948.3L1193.2 948.1M1266.4 916.8L1267.8 916.1L1269.5 915.3L1270.2 915.0L1272.6 913.9L1272.6 913.9L1275.1 912.8L1275.7 912.5L1277.5 911.6L1278.7 911.0L1279.9 910.5L1281.7 909.6L1282.3 909.3L1284.7 908.2L1284.7 908.2L1287.1 907.0L1287.6 906.7L1289.5 905.8L1290.5 905.3L1291.9 904.6L1293.5 903.9L1294.3 903.5L1296.4 902.4L1296.7 902.3L1299.1 901.1L1299.2 901.0L1301.5 899.8L1302.1 899.6L1304.0 898.6L1304.9 898.1L1306.4 897.4L1307.7 896.7L1308.8 896.1L1310.5 895.3L1311.2 894.9L1313.2 893.8L1313.6 893.6L1315.9 892.4L1316.0 892.4" stroke="#fcd12f"/><path d="M919.1 1084.5L919.1 1083.1L918.5 1082.8L916.1 1081.9L915.6 1081.6L913.7 1081.4L911.3 1081.0L908.9 1080.7L906.5 1080.3L905.8 1080.2L904.1 1079.9L901.7 1079.4L899.3 1079.0L898.2 1078.8L896.9 1078.5L894.5 1078.1L892.0 1077.7L890.1 1077.3L889.6 1077.3L887.2 1076.8L884.8 1076.4L882.4 1076.0L881.9 1075.9L880.0 1075.5L877.6 1075.0L875.2 1074.5L875.2 1074.5L872.8 1073.6L871.1 1073.0L870.4 1072.4L869.4 1071.6L869.6 1070.2L870.4 1069.4L871.0 1068.7L872.8 1067.6L873.3 1067.3L875.2 1066.5L876.6 1065.9L877.6 1065.5L880.0 1064.7L880.7 1064.4L882.4 1063.9L884.8 1063.2L885.6 1063.0L887.2 1062.6L889.6 1061.9L891.1 1061.6L892.0 1061.3L894.5 1060.8L896.9 1060.2L897.0 1060.1L899.3 1059.6L901.7 1059.1L903.2 1058.7L904.1 1058.5L906.5 1058.0L908.9 1057.4L909.6 1057.3L911.3 1056.9L913.7 1056.4L916.1 1055.8L916.1 1055.8L918.5 1055.3L921.0 1054.8L922.6 1054.4L923.4 1054.2L925.8 1053.7L928.2 1053.2L929.1 1053.0L930.6 1052.6L933.0 1052.1L935.4 1051.6L935.6 1051.5L937.8 1051.0L940.2 1050.5L942.1 1050.1L942.6 1050.0L945.0 1049.4L947.5 1048.9M1023.5 1030.0L1024.5 1029.7L1026.9 1029.1L1028.8 1028.6L1029.4 1028.4L1031.8 1027.8L1034.0 1027.2L1034.2 1027.1L1036.6 1026.5L1039.0 1025.8L1039.3 1025.7L1041.4 1025.1L1043.8 1024.5L1044.5 1024.3L1046.2 1023.8L1048.6 1023.2L1049.7 1022.9L1051.0 1022.5L1053.4 1021.8L1054.9 1021.4L1055.8 1021.2L1058.3 1020.5L1060.2 1020.0L1060.7 1019.9L1063.1 1019.2L1065.4 1018.6L1065.5 1018.5L1067.9 1017.9L1070.3 1017.2L1070.6 1017.1L1072.7 1016.5L1075.1 1015.9L1075.8 1015.7L1077.5 1015.2L1079.9 1014.5L1080.9 1014.3L1082.3 1013.9L1084.8 1013.2L1086.1 1012.8L1087.2 1012.5L1089.6 1011.9L1091.3 1011.4L1092.0 1011.2L1094.4 1010.5L1096.4 1010.0L1096.8 1009.8L1099.2 1009.2L1101.5 1008.5L1101.6 1008.5L1104.0 1007.8L1106.4 1007.1L1106.6 1007.1L1108.8 1006.5L1111.3 1005.8L1111.7 1005.7L1113.7 1005.1L1116.1 1004.4L1116.7 1004.2L1118.5 1003.7L1120.9 1003.0L1121.7 1002.8L1123.3 1002.3L1125.7 1001.6L1126.7 1001.4L1128.1 1001.0L1130.5 1000.3L1131.7 999.9L1132.9 999.6L1135.3 998.9L1136.6 998.5L1137.7 998.2L1140.2 997.5L1141.5 997.1L1142.6 996.7L1145.0 996.0L1146.4 995.6L1147.4 995.3L1149.8 994.6L1151.2 994.2L1152.2 993.9L1154.6 993.2L1156.0 992.8L1157.0 992.5L1159.4 991.7L1160.8 991.3L1161.8 991.0L1164.2 990.3L1165.5 989.9L1166.7 989.5L1169.1 988.8L1170.2 988.5L1171.5 988.1L1173.9 987.3L1174.8 987.0L1176.3 986.6L1178.7 985.8L1179.5 985.6L1181.1 985.1L1183.5 984.3L1184.0 984.2L1185.9 983.6L1188.3 982.8L1188.6 982.7L1190.7 982.0L1193.0 981.3L1193.2 981.3L1195.6 980.5L1197.5 979.9L1198.0 979.7L1200.4 978.9L1201.9 978.4L1202.8 978.1L1205.2 977.3L1206.3 977.0L1207.6 976.5L1210.0 975.7L1210.6 975.6L1212.4 974.9L1214.8 974.1L1214.9 974.1L1217.2 973.3L1219.1 972.7L1219.6 972.5L1222.1 971.7L1223.3 971.3L1224.5 970.9L1226.9 970.0L1227.5 969.8L1229.3 969.2L1231.6 968.4L1231.7 968.4L1234.1 967.5L1235.7 967.0L1236.5 966.7L1238.9 965.8L1239.7 965.5L1241.3 964.9L1243.7 964.1L1243.7 964.1L1246.1 963.2L1247.7 962.7L1248.6 962.3L1251.0 961.5L1251.6 961.2L1253.4 960.6L1255.5 959.8L1255.8 959.7L1258.2 958.8L1259.4 958.4L1260.6 957.9L1263.0 957.0L1263.2 956.9L1265.4 956.1L1267.0 955.5L1267.8 955.2L1270.2 954.3L1270.8 954.1L1272.6 953.3L1274.5 952.6L1275.1 952.4L1277.5 951.5L1278.2 951.2L1279.9 950.5L1281.8 949.8L1282.3 949.6L1284.7 948.6L1285.5 948.3L1287.1 947.7L1289.1 946.9L1289.5 946.7L1291.9 945.8L1292.7 945.5L1294.3 944.8L1296.2 944.0L1296.7 943.8L1299.1 942.8L1299.7 942.6L1301.5 941.8L1303.2 941.2L1304.0 940.8L1306.4 939.8L1306.7 939.7L1308.8 938.8L1310.1 938.3L1311.2 937.8L1313.5 936.9L1313.6 936.8L1316.0 935.8" stroke="#f7dc2a"/><path d="M1035.7 1084.5L1035.7 1083.1L1034.2 1081.6L1034.2 1081.6L1031.8 1080.7L1030.5 1080.2L1029.4 1080.0L1026.9 1079.5L1024.5 1079.0L1023.4 1078.8L1022.1 1078.6L1019.7 1078.3L1017.3 1078.1L1014.9 1077.8L1012.5 1077.5L1011.4 1077.3L1010.1 1077.2L1007.7 1077.0L1005.3 1076.7L1002.9 1076.5L1000.4 1076.2L998.0 1076.0L997.3 1075.9L995.6 1075.7L993.2 1075.4L990.8 1075.1L988.4 1074.8L986.0 1074.5L985.5 1074.5L983.6 1074.1L981.2 1073.6L978.8 1073.1L978.2 1073.0L976.4 1072.1L975.4 1071.6L975.3 1070.2L976.4 1069.1L976.7 1068.7L978.8 1067.3L978.8 1067.3L981.2 1066.1L981.6 1065.9L983.6 1065.0L985.0 1064.4L986.0 1064.1L988.4 1063.2L989.0 1063.0L990.8 1062.4L993.2 1061.7L993.5 1061.6L995.6 1061.0L998.0 1060.2L998.4 1060.1L1000.4 1059.6L1002.9 1058.9L1003.7 1058.7L1005.3 1058.3L1007.7 1057.6L1009.1 1057.3M1068.9 1042.9L1070.3 1042.6L1072.7 1042.0L1074.8 1041.5L1075.1 1041.4L1077.5 1040.8L1079.9 1040.2L1080.4 1040.1L1082.3 1039.6L1084.8 1039.0L1086.0 1038.6L1087.2 1038.3L1089.6 1037.7L1091.6 1037.2L1092.0 1037.1L1094.4 1036.5L1096.8 1035.8L1097.0 1035.8L1099.2 1035.2L1101.6 1034.5L1102.4 1034.3L1104.0 1033.9L1106.4 1033.3L1107.8 1032.9L1108.8 1032.6L1111.3 1032.0L1113.1 1031.5L1113.7 1031.3L1116.1 1030.7L1118.4 1030.0L1118.5 1030.0L1120.9 1029.4L1123.3 1028.7L1123.8 1028.6L1125.7 1028.1L1128.1 1027.4L1129.1 1027.2L1130.5 1026.8L1132.9 1026.1L1134.4 1025.7L1135.3 1025.5L1137.7 1024.8L1139.8 1024.3L1140.2 1024.2L1142.6 1023.5L1145.0 1022.9L1145.1 1022.9L1147.4 1022.3L1149.8 1021.6L1150.5 1021.4L1152.2 1021.0L1154.6 1020.3L1155.9 1020.0L1157.0 1019.7L1159.4 1019.1L1161.3 1018.6L1161.8 1018.4L1164.2 1017.8L1166.7 1017.2L1166.7 1017.1L1169.1 1016.5L1171.5 1015.9L1172.2 1015.7L1173.9 1015.2L1176.3 1014.6L1177.6 1014.3L1178.7 1014.0L1181.1 1013.3L1183.0 1012.8L1183.5 1012.7L1185.9 1012.0L1188.3 1011.4L1188.3 1011.4L1190.7 1010.7L1193.2 1010.1L1193.7 1010.0L1195.6 1009.5L1198.0 1008.8L1199.0 1008.5L1200.4 1008.2L1202.8 1007.5L1204.3 1007.1L1205.2 1006.9L1207.6 1006.2L1209.6 1005.7L1210.0 1005.5L1212.4 1004.9L1214.8 1004.2L1214.8 1004.2L1217.2 1003.6L1219.6 1002.9L1220.0 1002.8L1222.1 1002.2L1224.5 1001.5L1225.1 1001.4L1226.9 1000.9L1229.3 1000.2L1230.2 999.9L1231.7 999.5L1234.1 998.8L1235.3 998.5L1236.5 998.1L1238.9 997.4L1240.2 997.1L1241.3 996.7L1243.7 996.0L1245.2 995.6L1246.1 995.3L1248.6 994.6L1250.1 994.2L1251.0 993.9L1253.4 993.2L1254.9 992.8L1255.8 992.5L1258.2 991.8L1259.7 991.3L1260.6 991.0L1263.0 990.3L1264.4 989.9L1265.4 989.6L1267.8 988.8L1269.1 988.5L1270.2 988.1L1272.6 987.3L1273.7 987.0L1275.1 986.6L1277.5 985.8L1278.2 985.6L1279.9 985.1L1282.3 984.3L1282.7 984.2L1284.7 983.5L1287.1 982.8L1287.2 982.7L1289.5 982.0L1291.6 981.3L1291.9 981.2L1294.3 980.4L1296.0 979.9L1296.7 979.6L1299.1 978.8L1300.3 978.4L1301.5 978.0L1304.0 977.2L1304.6 977.0L1306.4 976.4L1308.8 975.6L1308.8 975.6L1311.2 974.7L1313.0 974.1L1313.6 973.9L1316.0 973.1" stroke="#f5e625"/><path d="M1151.5 1084.5L1151.5 1083.1L1152.2 1082.8L1154.6 1082.0L1155.8 1081.6L1157.0 1081.5L1159.4 1081.2L1161.8 1080.9L1164.2 1080.6L1166.7 1080.3L1168.2 1080.2L1166.7 1079.7L1164.2 1078.9L1163.7 1078.8L1161.8 1078.6L1159.4 1078.4L1157.0 1078.2L1154.6 1078.0L1152.2 1077.7L1149.8 1077.5L1147.8 1077.3L1147.4 1077.3L1145.0 1077.1L1142.6 1077.0L1140.2 1076.8L1137.7 1076.6L1135.3 1076.5L1132.9 1076.3L1130.5 1076.1L1128.1 1075.9L1127.6 1075.9L1125.7 1075.8L1123.3 1075.6L1120.9 1075.4L1118.5 1075.2L1116.1 1075.0L1113.7 1074.8L1111.3 1074.6M1149.2 1048.7L1149.8 1048.5L1152.2 1047.9L1154.6 1047.3L1154.8 1047.2L1157.0 1046.7L1159.4 1046.0L1160.4 1045.8L1161.8 1045.4L1164.2 1044.8L1166.0 1044.4L1166.7 1044.2L1169.1 1043.6L1171.5 1043.0L1171.6 1042.9L1173.9 1042.4L1176.3 1041.7L1177.2 1041.5L1178.7 1041.1L1181.1 1040.5L1182.8 1040.1L1183.5 1039.9L1185.9 1039.2L1188.3 1038.6L1188.3 1038.6L1190.7 1038.0L1193.2 1037.4L1193.8 1037.2L1195.6 1036.7L1198.0 1036.1L1199.3 1035.8L1200.4 1035.5L1202.8 1034.8L1204.7 1034.3L1205.2 1034.2L1207.6 1033.6L1210.0 1033.0L1210.3 1032.9L1212.4 1032.3L1214.8 1031.7L1215.8 1031.5L1217.2 1031.1L1219.6 1030.5L1221.3 1030.0L1222.1 1029.8L1224.5 1029.2L1226.9 1028.6L1226.9 1028.6L1229.3 1028.0L1231.7 1027.4L1232.5 1027.2L1234.1 1026.7L1236.5 1026.1L1238.1 1025.7L1238.9 1025.5L1241.3 1024.9L1243.7 1024.3L1243.7 1024.3L1246.1 1023.7L1248.6 1023.1L1249.3 1022.9L1251.0 1022.4L1253.4 1021.8L1255.0 1021.4L1255.8 1021.2L1258.2 1020.6L1260.6 1020.0L1260.6 1020.0L1263.0 1019.4L1265.4 1018.8L1266.2 1018.6L1267.8 1018.2L1270.2 1017.5L1271.9 1017.1L1272.6 1016.9L1275.1 1016.3L1277.5 1015.7L1277.5 1015.7L1279.9 1015.1L1282.3 1014.4L1283.0 1014.3L1284.7 1013.8L1287.1 1013.2L1288.5 1012.8L1289.5 1012.6L1291.9 1011.9L1294.0 1011.4L1294.3 1011.3L1296.7 1010.7L1299.1 1010.0L1299.4 1010.0L1301.5 1009.4L1304.0 1008.7L1304.7 1008.5L1306.4 1008.1L1308.8 1007.4L1310.0 1007.1L1311.2 1006.8L1313.6 1006.1L1315.2 1005.7L1316.0 1005.4" stroke="#f6f11f"/><path d="M1249.1 1084.5L1249.1 1083.1L1251.0 1082.8L1253.4 1082.5L1255.8 1082.3L1258.2 1082.0L1260.6 1081.7L1261.7 1081.6L1263.0 1081.6L1265.4 1081.5L1267.8 1081.3L1270.2 1081.2L1272.6 1081.1L1275.1 1081.1L1277.5 1081.0L1279.9 1080.9L1282.3 1080.8L1284.7 1080.7L1287.1 1080.6L1289.5 1080.5L1291.9 1080.5L1294.3 1080.4L1296.7 1080.3L1299.1 1080.3L1301.5 1080.2L1301.8 1080.2L1302.7 1078.8L1301.5 1078.7L1299.1 1078.5L1296.7 1078.4L1294.3 1078.2L1291.9 1078.0L1289.5 1077.8L1287.1 1077.7L1284.7 1077.5L1282.7 1077.3L1282.3 1077.3L1279.9 1077.2L1277.5 1077.0L1275.1 1076.9L1272.6 1076.8M1226.9 1057.4L1227.2 1057.3L1229.3 1056.5L1231.0 1055.8L1231.7 1055.6L1234.1 1054.8L1235.2 1054.4L1236.5 1054.0L1238.9 1053.2L1239.7 1053.0L1241.3 1052.5L1243.7 1051.8L1244.6 1051.5L1246.1 1051.1L1248.6 1050.4L1249.8 1050.1L1251.0 1049.8L1253.4 1049.1L1255.1 1048.7L1255.8 1048.5L1258.2 1047.9L1260.6 1047.3L1260.7 1047.2L1263.0 1046.6L1265.4 1046.0L1266.4 1045.8L1267.8 1045.4L1270.2 1044.8L1272.2 1044.4L1272.6 1044.3L1275.1 1043.7L1277.5 1043.1L1278.1 1042.9L1279.9 1042.5L1282.3 1041.9L1284.1 1041.5L1284.7 1041.3L1287.1 1040.8L1289.5 1040.2L1290.1 1040.1L1291.9 1039.6L1294.3 1039.1L1296.1 1038.6L1296.7 1038.5L1299.1 1037.9L1301.5 1037.3L1302.2 1037.2L1304.0 1036.8L1306.4 1036.2L1308.3 1035.8L1308.8 1035.6L1311.2 1035.1L1313.6 1034.5L1314.4 1034.3L1316.0 1034.0" stroke="#f9fb15"/><path d="M114.0 1007.6L115.0 1007.1L116.4 1006.3L117.7 1005.7L118.8 1005.1L120.5 1004.2L121.2 1003.8L123.2 1002.8L123.6 1002.6L126.0 1001.4L126.0 1001.3L128.5 1000.1L128.8 999.9L130.9 998.8L131.5 998.5L133.3 997.6L134.3 997.1L135.7 996.3L137.0 995.6L138.1 995.1L139.8 994.2L140.5 993.8L142.5 992.8L142.9 992.5L145.2 991.3L145.3 991.3L147.7 990.0L147.9 989.9L150.1 988.7L150.6 988.5L152.5 987.4L153.2 987.0L154.9 986.1L155.8 985.6L157.4 984.7L158.4 984.2L159.8 983.4L161.0 982.7L162.2 982.0L163.5 981.3L164.6 980.7L166.0 979.9L167.0 979.3L168.5 978.4L169.4 977.9M199.7 958.4L200.7 957.6L201.7 956.9L203.1 955.9L203.7 955.5L205.5 954.2L205.7 954.1L207.6 952.6L207.9 952.4L209.6 951.2L210.4 950.6L211.5 949.8L212.8 948.8L213.4 948.3L215.2 947.0L215.3 946.9L217.2 945.5L217.6 945.1L219.1 944.0L220.0 943.3L220.9 942.6L222.4 941.4L222.8 941.2L224.6 939.7L224.8 939.5L226.4 938.3L227.2 937.7L228.2 936.9L229.6 935.7L230.0 935.4L231.8 934.0L232.0 933.8L233.6 932.6L234.4 931.9L235.4 931.1L236.8 930.0L237.2 929.7L239.0 928.3L239.3 928.0L240.7 926.8L241.7 926.0L242.5 925.4L244.1 924.1L244.2 924.0L245.9 922.5L246.5 922.1L247.7 921.1L248.9 920.1L249.4 919.7L251.1 918.2L251.3 918.1L252.8 916.8L253.7 916.0L254.5 915.3L256.1 914.0L256.2 913.9L257.9 912.5L258.5 911.9L259.6 911.0L260.9 909.9L261.2 909.6L262.9 908.2L263.3 907.8L264.5 906.7L265.8 905.7L266.2 905.3L267.8 903.9L268.2 903.6L269.4 902.4L270.6 901.4L271.0 901.0L272.6 899.6L273.0 899.3L274.2 898.1L275.4 897.1L275.8 896.7L277.4 895.3L277.8 894.9L278.9 893.8L280.2 892.6L280.4 892.4L282.0 891.0L282.6 890.4L283.5 889.5L285.0 888.1L285.0 888.1L286.5 886.7L287.4 885.8L288.0 885.2L289.5 883.8L289.8 883.5L290.9 882.4L292.3 881.1L292.4 880.9L293.9 879.5L294.7 878.7L295.3 878.1L296.7 876.6L297.1 876.3L298.1 875.2L299.5 873.8L299.5 873.8L300.9 872.3L301.9 871.3L302.3 870.9L303.7 869.5L304.3 868.8L305.0 868.0L306.4 866.6L306.7 866.3L307.7 865.2L309.1 863.7L309.1 863.7L310.4 862.3L311.5 861.1L311.7 860.9L313.0 859.4L313.9 858.4L314.3 858.0L315.6 856.6L316.3 855.7L316.9 855.1L318.1 853.7L318.7 853.0L319.4 852.3L320.6 850.8L321.2 850.2L321.9 849.4L323.1 848.0L323.6 847.4L324.3 846.5L325.6 845.1L326.0 844.6L326.8 843.7L328.0 842.2L328.4 841.7L329.2 840.8L330.4 839.4L330.8 838.8L331.5 837.9L332.7 836.5L333.2 835.9L333.9 835.1L335.1 833.6L335.6 833.0L336.2 832.2L337.4 830.8L338.0 830.0L338.5 829.3L339.7 827.9L340.4 826.9L340.8 826.5L341.9 825.0L342.8 823.9L343.0 823.6L344.2 822.2L345.2 820.8L345.3 820.7L346.4 819.3L347.5 817.9L347.7 817.7L348.6 816.4L349.7 815.0L350.1 814.5L350.8 813.6L351.9 812.1L352.5 811.4L353.0 810.7L354.1 809.3L354.9 808.2L355.1 807.8L356.2 806.4L357.3 805.0L357.3 805.0L358.4 803.5L359.4 802.1L359.7 801.7L360.5 800.7L361.5 799.2L362.1 798.5L362.6 797.8L363.6 796.4L364.5 795.2L364.7 794.9L365.7 793.5L366.8 792.1L366.9 791.9L367.8 790.6L368.9 789.2L369.3 788.6L369.9 787.8L370.9 786.3L371.7 785.2L372.0 784.9L373.0 783.5L374.0 782.0L374.2 781.9L375.0 780.6L376.1 779.2L376.6 778.5L377.1 777.7L378.1 776.3L379.0 775.1L379.1 774.9L380.1 773.4L381.1 772.0L381.4 771.7L382.2 770.6L383.2 769.1L383.8 768.2L384.2 767.7L385.2 766.3L386.2 764.8L386.2 764.8L387.2 763.4L388.2 762.0L388.6 761.3L389.2 760.5L390.2 759.1L391.0 757.9L391.2 757.7L392.2 756.2L393.1 754.8L393.4 754.4L394.1 753.4L395.1 751.9L395.8 750.9L396.1 750.5L397.1 749.1L398.1 747.6L398.2 747.4L399.0 746.2L400.0 744.8L400.6 743.9L401.0 743.3L402.0 741.9L403.0 740.5L403.1 740.3L403.9 739.0L404.9 737.6L405.5 736.8L405.9 736.2L406.8 734.7L407.8 733.3L407.9 733.2L408.8 731.9L409.7 730.4L410.3 729.6L410.7 729.0L411.6 727.6L412.6 726.1L412.7 726.0L413.6 724.7L414.5 723.3L415.1 722.4L415.5 721.8L416.4 720.4L417.4 719.0L417.5 718.7L418.3 717.5L419.3 716.1L419.9 715.1L420.2 714.7L421.2 713.2L422.1 711.8L422.3 711.4L423.0 710.4L424.0 708.9L424.7 707.8L424.9 707.5L425.8 706.1L426.8 704.6L427.1 704.1L427.7 703.2L428.6 701.8L429.6 700.3L429.6 700.3L430.5 698.9L431.4 697.5L432.0 696.6L432.3 696.0L433.3 694.6L434.2 693.2L434.4 692.9L435.1 691.7L436.0 690.3L436.8 689.1L436.9 688.9L437.8 687.4L438.7 686.0L439.2 685.3L439.6 684.6L440.5 683.1L441.5 681.7L441.6 681.5L442.4 680.3L443.2 678.8L444.0 677.6L444.1 677.4L445.0 676.0L445.9 674.5L446.4 673.7L446.8 673.1L447.7 671.7L448.6 670.2L448.8 669.9L449.5 668.8L450.4 667.4L451.2 665.9L451.2 665.9L452.1 664.5L453.0 663.1L453.6 662.0L453.9 661.6L454.7 660.2L455.6 658.8L456.1 658.0L456.5 657.3L457.3 655.9M475.8 624.4L476.7 622.9L477.5 621.5L477.7 621.0L478.3 620.1L479.1 618.6L479.9 617.2L480.1 616.8L480.7 615.8L481.5 614.3L482.3 612.9L482.5 612.5L483.1 611.5L483.9 610.0L484.7 608.6L485.0 608.2L485.5 607.2L486.3 605.7L487.1 604.3L487.4 603.8L487.9 602.9L488.7 601.4L489.5 600.0L489.8 599.4L490.3 598.6L491.1 597.1L491.8 595.7L492.2 595.0L492.6 594.3L493.4 592.8L494.2 591.4L494.6 590.6L494.9 590.0L495.7 588.5L496.5 587.1L497.0 586.1L497.3 585.7L498.0 584.2L498.8 582.8L499.4 581.6L499.6 581.3L500.3 579.9L501.1 578.5L501.8 577.1L501.9 577.0L502.6 575.6L503.4 574.2L504.1 572.7L504.2 572.6L504.9 571.3L505.6 569.9L506.4 568.4L506.6 568.0L507.1 567.0L507.9 565.6L508.6 564.1L509.0 563.4L509.4 562.7L510.1 561.3L510.9 559.8L511.5 558.7L511.6 558.4L512.4 557.0L513.1 555.5L513.8 554.1L513.9 554.1L514.6 552.7L515.3 551.2L516.0 549.8L516.3 549.4L516.8 548.4L517.5 546.9L518.2 545.5L518.7 544.6L519.0 544.1L519.7 542.6L520.4 541.2L521.1 539.9L521.2 539.8L521.9 538.3L522.6 536.9L523.3 535.5L523.5 535.1L524.1 534.0L524.8 532.6L525.5 531.2L525.9 530.4L526.2 529.7L526.9 528.3L527.6 526.9L528.3 525.5L528.4 525.4L529.1 524.0L529.8 522.6L530.5 521.1L530.7 520.7L531.2 519.7L531.9 518.3L532.6 516.8L533.1 515.9L533.4 515.4L534.1 514.0L534.8 512.5L535.5 511.1L535.5 511.0L536.2 509.7L536.9 508.2L537.6 506.8L538.0 506.1L538.3 505.4L539.0 503.9L539.7 502.5L540.4 501.2L540.4 501.1L541.1 499.6L541.8 498.2L542.5 496.8L542.8 496.3L543.2 495.3L543.9 493.9L544.6 492.5L545.2 491.3L545.3 491.0L546.0 489.6L546.7 488.2L547.4 486.7L547.6 486.3L548.1 485.3L548.8 483.9L549.5 482.4L550.0 481.4L550.2 481.0L550.9 479.6L551.6 478.1L552.2 476.7L552.4 476.4L552.9 475.3L553.6 473.8L554.3 472.4L554.8 471.4L555.0 471.0L555.7 469.5L556.4 468.1L557.1 466.7L557.2 466.4L557.8 465.2L558.4 463.8L559.1 462.4L559.6 461.3L559.8 460.9L560.5 459.5L561.2 458.1L561.9 456.6L562.0 456.3L562.6 455.2L563.2 453.8L563.9 452.3L564.4 451.2L564.6 450.9L565.3 449.5L566.0 448.0L566.7 446.6L566.9 446.2L567.3 445.2L568.0 443.7L568.7 442.3L569.3 441.1L569.4 440.9L570.1 439.4L570.7 438.0L571.4 436.6L571.7 436.0L572.1 435.1L572.8 433.7L573.5 432.3L574.1 430.9L574.1 430.8L574.8 429.4L575.5 428.0L576.2 426.5L576.5 425.8L576.8 425.1L577.5 423.7L578.2 422.2L578.9 420.8L578.9 420.7L579.5 419.4L580.2 417.9L580.9 416.5L581.3 415.6L581.6 415.1L582.2 413.6L582.9 412.2L583.6 410.8L583.7 410.5L584.3 409.3L584.9 407.9L585.6 406.5L586.1 405.4L586.3 405.0L587.0 403.6L587.6 402.2L588.3 400.7L588.5 400.2L589.0 399.3L589.6 397.9L590.3 396.4L590.9 395.1L591.0 395.0L591.6 393.6L592.3 392.1L593.0 390.7L593.4 389.9L593.7 389.3L594.3 387.8L595.0 386.4L595.7 385.0L595.8 384.7L596.3 383.5L597.0 382.1L597.7 380.7L598.2 379.6L598.3 379.2L599.0 377.8L599.7 376.4L600.3 374.9L600.6 374.4L601.0 373.5L601.7 372.1L602.3 370.6L603.0 369.2L603.0 369.2L603.6 367.8L604.3 366.3L605.0 364.9L605.4 364.0L605.6 363.5L606.3 362.0L607.0 360.6L607.6 359.2L607.8 358.8L608.3 357.7L609.0 356.3L609.6 354.9L610.2 353.6L610.3 353.4L610.9 352.0L611.6 350.6L612.3 349.1L612.6 348.3L612.9 347.7L613.6 346.3L614.2 344.8L614.9 343.4L615.0 343.1L615.6 342.0L616.2 340.5L616.9 339.1L617.4 337.8L617.5 337.7L618.2 336.2L618.8 334.8L619.5 333.4L619.9 332.6L620.2 331.9L620.8 330.5L621.5 329.1L622.1 327.6L622.3 327.3L622.8 326.2L623.4 324.8L624.1 323.3L624.7 322.1L624.7 321.9L625.4 320.5L626.1 319.0L626.7 317.6L627.1 316.8L627.4 316.2L628.0 314.7L628.7 313.3L629.3 311.9L629.5 311.5L630.0 310.4L630.6 309.0L631.3 307.6L631.9 306.2L631.9 306.1L632.6 304.7L633.2 303.3L633.9 301.8L634.3 300.9L634.5 300.4L635.2 299.0L635.8 297.5L636.5 296.1L636.7 295.6L637.1 294.7L637.8 293.2L638.4 291.8L639.1 290.4L639.1 290.2L639.7 288.9L640.4 287.5L641.0 286.1L641.5 284.9L641.7 284.6L642.3 283.2L642.9 281.8L643.6 280.3L643.9 279.5L644.2 278.9L644.9 277.5L645.5 276.0L646.2 274.6L646.3 274.2L646.8 273.2L647.5 271.7L648.1 270.3M663.2 236.4L663.4 235.9L664.1 234.4L664.7 233.0L665.3 231.6L665.6 230.9L666.0 230.1L666.6 228.7L667.2 227.3L667.9 225.8L668.0 225.5L668.5 224.4L669.1 223.0L669.8 221.5L670.4 220.1L670.4 220.0L671.0 218.7L671.7 217.2L672.3 215.8L672.8 214.6L672.9 214.4L673.6 212.9L674.2 211.5L674.8 210.1L675.3 209.1L675.4 208.6L676.1 207.2L676.7 205.8L677.3 204.3L677.7 203.6L678.0 202.9L678.6 201.5L679.2 200.0L679.9 198.6L680.1 198.1L680.5 197.2L681.1 195.7L681.7 194.3L682.4 192.9L682.5 192.6L683.0 191.4L683.6 190.0L684.2 188.6L684.9 187.1L684.9 187.1L685.5 185.7L686.1 184.3L686.8 182.8L687.3 181.6L687.4 181.4L688.0 180.0L688.6 178.5L689.3 177.1L689.7 176.1L689.9 175.7L690.5 174.2L691.1 172.8L691.8 171.4L692.1 170.6L692.4 169.9L693.0 168.5L693.6 167.1L694.3 165.6L694.5 165.0L694.9 164.2L695.5 162.8L696.1 161.3L696.8 159.9L696.9 159.5L697.4 158.5L698.0 157.0L698.6 155.6L699.3 154.2L699.3 154.0L699.9 152.7L700.5 151.3L701.1 149.9L701.7 148.4L701.8 148.4L702.4 147.0L703.0 145.6L703.6 144.1L704.2 142.9L704.2 142.7L704.9 141.3L705.5 139.8L706.1 138.4L706.6 137.4L706.7 137.0L707.4 135.5L708.0 134.1L708.6 132.7L709.0 131.8L709.2 131.2L709.9 129.8L710.5 128.4L711.1 126.9L711.4 126.3L711.7 125.5L712.3 124.1L713.0 122.6L713.6 121.2L713.8 120.7L714.2 119.8L714.8 118.3L715.5 116.9L716.1 115.5L716.2 115.2L716.7 114.0L717.3 112.6L718.0 111.2L718.6 109.7L718.6 109.7L719.2 108.3L719.8 106.9L720.5 105.4L721.0 104.1L721.1 104.0L721.7 102.6L722.3 101.1L723.0 99.7L723.4 98.6L723.6 98.3L724.2 96.8L724.8 95.4L725.5 94.0L725.8 93.1L726.1 92.5L726.7 91.1L727.3 89.7L728.0 88.2L728.2 87.6L728.6 86.8L729.2 85.4L729.9 83.9L730.5 82.5" stroke="#ff0000" stroke-dasharray="23 23"/></g>
<g clip-path="url(#ax)"><path d="M124 183.2H1297" stroke="#000" stroke-opacity="0.75" stroke-width="5.5" stroke-dasharray="22.6 23.3" fill="none"/><path d="M124 636.9H1297" stroke="#000" stroke-opacity="0.75" stroke-width="5.5" stroke-dasharray="22.6 23.3" fill="none"/></g>
<path d="M153.55 92.5V1081.5M183.10 92.5V1081.5M212.65 92.5V1081.5M242.20 92.5V1081.5M301.30 92.5V1081.5M330.85 92.5V1081.5M360.40 92.5V1081.5M389.95 92.5V1081.5M449.05 92.5V1081.5M478.60 92.5V1081.5M508.15 92.5V1081.5M537.70 92.5V1081.5M596.80 92.5V1081.5M626.35 92.5V1081.5M655.90 92.5V1081.5M685.45 92.5V1081.5M744.55 92.5V1081.5M774.10 92.5V1081.5M803.65 92.5V1081.5M833.20 92.5V1081.5M892.30 92.5V1081.5M921.85 92.5V1081.5M951.40 92.5V1081.5M980.95 92.5V1081.5M1040.05 92.5V1081.5M1069.60 92.5V1081.5M1099.15 92.5V1081.5M1128.70 92.5V1081.5M1187.80 92.5V1081.5M1217.35 92.5V1081.5M1246.90 92.5V1081.5M1276.45 92.5V1081.5M124.0 1072.43H1306.0M124.0 1054.28H1306.0M124.0 1036.13H1306.0M124.0 1017.99H1306.0M124.0 981.69H1306.0M124.0 963.55H1306.0M124.0 945.40H1306.0M124.0 927.25H1306.0M124.0 890.96H1306.0M124.0 872.81H1306.0M124.0 854.67H1306.0M124.0 836.52H1306.0M124.0 800.22H1306.0M124.0 782.08H1306.0M124.0 763.93H1306.0M124.0 745.78H1306.0M124.0 709.49H1306.0M124.0 691.34H1306.0M124.0 673.20H1306.0M124.0 655.05H1306.0M124.0 618.76H1306.0M124.0 600.61H1306.0M124.0 582.46H1306.0M124.0 564.32H1306.0M124.0 528.02H1306.0M124.0 509.88H1306.0M124.0 491.73H1306.0M124.0 473.58H1306.0M124.0 437.29H1306.0M124.0 419.14H1306.0M124.0 401.00H1306.0M124.0 382.85H1306.0M124.0 346.56H1306.0M124.0 328.41H1306.0M124.0 310.26H1306.0M124.0 292.11H1306.0M124.0 255.82H1306.0M124.0 237.67H1306.0M124.0 219.53H1306.0M124.0 201.38H1306.0M124.0 165.09H1306.0M124.0 146.94H1306.0M124.0 128.79H1306.0M124.0 110.65H1306.0" stroke="#1a1a1a" stroke-opacity="0.25" stroke-width="1.3" stroke-dasharray="1.6 1.27" fill="none"/>
<path d="M271.75 92.5V1081.5M419.50 92.5V1081.5M567.25 92.5V1081.5M715.00 92.5V1081.5M862.75 92.5V1081.5M1010.50 92.5V1081.5M1158.25 92.5V1081.5M124.0 999.84H1306.0M124.0 909.11H1306.0M124.0 818.37H1306.0M124.0 727.64H1306.0M124.0 636.90H1306.0M124.0 546.17H1306.0M124.0 455.44H1306.0M124.0 364.70H1306.0M124.0 273.97H1306.0M124.0 183.23H1306.0" stroke="#262626" stroke-opacity="0.15" stroke-width="1.3" fill="none"/>
<g class="s" font-size="30" fill="#000"><text x="0" y="0" transform="translate(142.5 201.5) rotate(-76.8)" text-anchor="middle" dy="10.6">-0.28</text><text x="0" y="0" transform="translate(150.6 284.6) rotate(-76.1)" text-anchor="middle" dy="10.6">-0.26</text><text x="0" y="0" transform="translate(160.6 357.7) rotate(-75.1)" text-anchor="middle" dy="10.6">-0.24</text><text x="0" y="0" transform="translate(171.7 423.7) rotate(-74.0)" text-anchor="middle" dy="10.6">-0.22</text><text x="0" y="0" transform="translate(275.4 181.1) rotate(-74.5)" text-anchor="middle" dy="10.6">-0.2</text><text x="0" y="0" transform="translate(147.3 592.8) rotate(-70.7)" text-anchor="middle" dy="10.6">-0.2</text><text x="0" y="0" transform="translate(297.2 225.8) rotate(-73.6)" text-anchor="middle" dy="10.6">-0.18</text><text x="0" y="0" transform="translate(159.8 634.8) rotate(-68.7)" text-anchor="middle" dy="10.6">-0.18</text><text x="0" y="0" transform="translate(318.7 270.3) rotate(-72.7)" text-anchor="middle" dy="10.6">-0.16</text><text x="0" y="0" transform="translate(171.3 676.0) rotate(-66.4)" text-anchor="middle" dy="10.6">-0.16</text><text x="0" y="0" transform="translate(341.1 310.4) rotate(-71.8)" text-anchor="middle" dy="10.6">-0.14</text><text x="0" y="0" transform="translate(183.9 711.5) rotate(-63.9)" text-anchor="middle" dy="10.6">-0.14</text><text x="0" y="0" transform="translate(362.1 353.8) rotate(-70.7)" text-anchor="middle" dy="10.6">-0.12</text><text x="0" y="0" transform="translate(197.2 743.3) rotate(-61.3)" text-anchor="middle" dy="10.6">-0.12</text><text x="0" y="0" transform="translate(387.5 385.0) rotate(-69.7)" text-anchor="middle" dy="10.6">-0.1</text><text x="0" y="0" transform="translate(209.5 774.9) rotate(-58.5)" text-anchor="middle" dy="10.6">-0.1</text><text x="0" y="0" transform="translate(414.3 413.6) rotate(-68.6)" text-anchor="middle" dy="10.6">-0.08</text><text x="0" y="0" transform="translate(226.1 797.8) rotate(-56.2)" text-anchor="middle" dy="10.6">-0.08</text><text x="0" y="0" transform="translate(443.6 438.0) rotate(-67.5)" text-anchor="middle" dy="10.6">-0.06</text><text x="0" y="0" transform="translate(245.3 816.4) rotate(-53.9)" text-anchor="middle" dy="10.6">-0.06</text><text x="0" y="0" transform="translate(591.0 180.0) rotate(-68.1)" text-anchor="middle" dy="10.6">-0.04</text><text x="0" y="0" transform="translate(421.9 572.7) rotate(-63.4)" text-anchor="middle" dy="10.6">-0.04</text><text x="0" y="0" transform="translate(174.2 928.9) rotate(-42.0)" text-anchor="middle" dy="10.6">-0.04</text><text x="0" y="0" transform="translate(628.9 202.9) rotate(-67.1)" text-anchor="middle" dy="10.6">-0.02</text><text x="0" y="0" transform="translate(448.7 598.6) rotate(-61.9)" text-anchor="middle" dy="10.6">-0.02</text><text x="0" y="0" transform="translate(195.9 936.9) rotate(-39.7)" text-anchor="middle" dy="10.6">-0.02</text><text x="0" y="0" transform="translate(655.8 253.1) rotate(-66.0)" text-anchor="middle" dy="10.6">0</text><text x="0" y="0" transform="translate(466.7 640.1) rotate(-59.6)" text-anchor="middle" dy="10.6">0</text><text x="0" y="0" transform="translate(184.8 968.4) rotate(-33.1)" text-anchor="middle" dy="10.6">0</text><text x="0" y="0" transform="translate(696.9 272.5) rotate(-65.0)" text-anchor="middle" dy="10.6">0.02</text><text x="0" y="0" transform="translate(501.6 653.0) rotate(-58.5)" text-anchor="middle" dy="10.6">0.02</text><text x="0" y="0" transform="translate(217.0 968.4) rotate(-32.8)" text-anchor="middle" dy="10.6">0.02</text><text x="0" y="0" transform="translate(735.3 300.4) rotate(-64.0)" text-anchor="middle" dy="10.6">0.04</text><text x="0" y="0" transform="translate(528.3 680.3) rotate(-56.5)" text-anchor="middle" dy="10.6">0.04</text><text x="0" y="0" transform="translate(229.6 980.8) rotate(-29.9)" text-anchor="middle" dy="10.6">0.04</text><text x="0" y="0" transform="translate(772.4 333.4) rotate(-62.9)" text-anchor="middle" dy="10.6">0.06</text><text x="0" y="0" transform="translate(558.0 703.2) rotate(-54.6)" text-anchor="middle" dy="10.6">0.06</text><text x="0" y="0" transform="translate(246.5 990.3) rotate(-27.9)" text-anchor="middle" dy="10.6">0.06</text><text x="0" y="0" transform="translate(812.2 363.5) rotate(-61.8)" text-anchor="middle" dy="10.6">0.08</text><text x="0" y="0" transform="translate(588.9 724.7) rotate(-52.6)" text-anchor="middle" dy="10.6">0.08</text><text x="0" y="0" transform="translate(260.0 1001.4) rotate(-25.4)" text-anchor="middle" dy="10.6">0.08</text><text x="0" y="0" transform="translate(848.5 402.2) rotate(-60.5)" text-anchor="middle" dy="10.6">0.1</text><text x="0" y="0" transform="translate(607.8 760.9) rotate(-49.7)" text-anchor="middle" dy="10.6">0.1</text><text x="0" y="0" transform="translate(264.2 1015.7) rotate(-21.8)" text-anchor="middle" dy="10.6">0.1</text><text x="0" y="0" transform="translate(1047.1 164.2) rotate(-59.3)" text-anchor="middle" dy="10.6">0.12</text><text x="0" y="0" transform="translate(826.1 535.5) rotate(-56.6)" text-anchor="middle" dy="10.6">0.12</text><text x="0" y="0" transform="translate(554.2 865.2) rotate(-41.4)" text-anchor="middle" dy="10.6">0.12</text><text x="0" y="0" transform="translate(1098.4 194.3) rotate(-58.5)" text-anchor="middle" dy="10.6">0.14</text><text x="0" y="0" transform="translate(869.2 559.8) rotate(-55.0)" text-anchor="middle" dy="10.6">0.14</text><text x="0" y="0" transform="translate(193.5 1057.6) rotate(-11.9)" text-anchor="middle" dy="10.6">0.14</text><text x="0" y="0" transform="translate(583.7 880.7) rotate(-38.8)" text-anchor="middle" dy="10.6">0.14</text><text x="0" y="0" transform="translate(1156.2 217.2) rotate(-57.6)" text-anchor="middle" dy="10.6">0.16</text><text x="0" y="0" transform="translate(919.7 575.6) rotate(-53.5)" text-anchor="middle" dy="10.6">0.16</text><text x="0" y="0" transform="translate(234.4 1058.3) rotate(-10.9)" text-anchor="middle" dy="10.6">0.16</text><text x="0" y="0" transform="translate(620.0 891.0) rotate(-36.6)" text-anchor="middle" dy="10.6">0.16</text><text x="0" y="0" transform="translate(1220.9 233.0) rotate(-56.8)" text-anchor="middle" dy="10.6">0.18</text><text x="0" y="0" transform="translate(974.5 588.5) rotate(-51.9)" text-anchor="middle" dy="10.6">0.18</text><text x="0" y="0" transform="translate(277.8 1059.2) rotate(-10.8)" text-anchor="middle" dy="10.6">0.18</text><text x="0" y="0" transform="translate(667.8 893.8) rotate(-34.9)" text-anchor="middle" dy="10.6">0.18</text><text x="0" y="0" transform="translate(1264.7 283.2) rotate(-56.0)" text-anchor="middle" dy="10.6">0.2</text><text x="0" y="0" transform="translate(1009.0 628.7) rotate(-49.5)" text-anchor="middle" dy="10.6">0.2</text><text x="0" y="0" transform="translate(287.6 1067.3) rotate(-11.8)" text-anchor="middle" dy="10.6">0.2</text><text x="0" y="0" transform="translate(689.1 915.3) rotate(-31.0)" text-anchor="middle" dy="10.6">0.2</text><text x="0" y="0" transform="translate(1127.4 574.2) rotate(-49.9)" text-anchor="middle" dy="10.6">0.22</text><text x="0" y="0" transform="translate(427.5 1045.8) rotate(-17.5)" text-anchor="middle" dy="10.6">0.22</text><text x="0" y="0" transform="translate(822.2 867.4) rotate(-35.3)" text-anchor="middle" dy="10.6">0.22</text><text x="0" y="0" transform="translate(1172.7 610.0) rotate(-48.0)" text-anchor="middle" dy="10.6">0.24</text><text x="0" y="0" transform="translate(456.1 1052.1) rotate(-16.0)" text-anchor="middle" dy="10.6">0.24</text><text x="0" y="0" transform="translate(851.1 890.6) rotate(-32.0)" text-anchor="middle" dy="10.6">0.24</text><text x="0" y="0" transform="translate(1220.7 643.0) rotate(-46.5)" text-anchor="middle" dy="10.6">0.26</text><text x="0" y="0" transform="translate(483.8 1058.7) rotate(-14.1)" text-anchor="middle" dy="10.6">0.26</text><text x="0" y="0" transform="translate(887.2 908.5) rotate(-29.2)" text-anchor="middle" dy="10.6">0.26</text><text x="0" y="0" transform="translate(631.6 1034.3) rotate(-15.9)" text-anchor="middle" dy="10.6">0.28</text><text x="0" y="0" transform="translate(1023.4 869.5) rotate(-32.3)" text-anchor="middle" dy="10.6">0.28</text><text x="0" y="0" transform="translate(670.2 1041.5) rotate(-14.9)" text-anchor="middle" dy="10.6">0.3</text><text x="0" y="0" transform="translate(1063.1 891.2) rotate(-29.2)" text-anchor="middle" dy="10.6">0.3</text><text x="0" y="0" transform="translate(713.8 1047.7) rotate(-13.6)" text-anchor="middle" dy="10.6">0.32</text><text x="0" y="0" transform="translate(1119.7 903.9) rotate(-26.9)" text-anchor="middle" dy="10.6">0.32</text><text x="0" y="0" transform="translate(762.0 1053.2) rotate(-12.4)" text-anchor="middle" dy="10.6">0.34</text><text x="0" y="0" transform="translate(1168.4 921.1) rotate(-24.6)" text-anchor="middle" dy="10.6">0.34</text><text x="0" y="0" transform="translate(819.8 1057.6) rotate(-12.0)" text-anchor="middle" dy="10.6">0.36</text><text x="0" y="0" transform="translate(1231.0 932.6) rotate(-23.2)" text-anchor="middle" dy="10.6">0.36</text><text x="0" y="0" transform="translate(985.2 1040.1) rotate(-14.0)" text-anchor="middle" dy="10.6">0.38</text><text x="0" y="0" transform="translate(1038.7 1050.1) rotate(-13.2)" text-anchor="middle" dy="10.6">0.4</text><text x="0" y="0" transform="translate(1111.3 1059.9) rotate(-20.9)" text-anchor="middle" dy="10.6">0.42</text><text x="0" y="0" transform="translate(1231.7 1073.9) rotate(24.0)" text-anchor="middle" dy="10.6">0.44</text></g><text class="s" x="469.8" y="649.6" font-size="36.5" fill="#ff0000">A</text><text class="s" x="687" y="196.7" font-size="37" fill="#ff0000">B</text>
<rect x="124.0" y="92.5" width="1182.0" height="989.0" fill="none" stroke="#262626" stroke-width="1.4"/>
<path d="M271.75 1081.5v-12M271.75 92.5v12M419.50 1081.5v-12M419.50 92.5v12M567.25 1081.5v-12M567.25 92.5v12M715.00 1081.5v-12M715.00 92.5v12M862.75 1081.5v-12M862.75 92.5v12M1010.50 1081.5v-12M1010.50 92.5v12M1158.25 1081.5v-12M1158.25 92.5v12M124.0 999.84h12M1306.0 999.84h-12M124.0 909.11h12M1306.0 909.11h-12M124.0 818.37h12M1306.0 818.37h-12M124.0 727.64h12M1306.0 727.64h-12M124.0 636.90h12M1306.0 636.90h-12M124.0 546.17h12M1306.0 546.17h-12M124.0 455.44h12M1306.0 455.44h-12M124.0 364.70h12M1306.0 364.70h-12M124.0 273.97h12M1306.0 273.97h-12M124.0 183.23h12M1306.0 183.23h-12" stroke="#262626" stroke-width="1.4" fill="none"/>
<text class="s" x="124.00" y="1121.90" font-size="31" text-anchor="middle" fill="#262626">4</text>
<text class="s" x="271.75" y="1121.90" font-size="31" text-anchor="middle" fill="#262626">5</text>
<text class="s" x="419.50" y="1121.90" font-size="31" text-anchor="middle" fill="#262626">6</text>
<text class="s" x="567.25" y="1121.90" font-size="31" text-anchor="middle" fill="#262626">7</text>
<text class="s" x="715.00" y="1121.90" font-size="31" text-anchor="middle" fill="#262626">8</text>
<text class="s" x="862.75" y="1121.90" font-size="31" text-anchor="middle" fill="#262626">9</text>
<text class="s" x="1010.50" y="1121.90" font-size="31" text-anchor="middle" fill="#262626">10</text>
<text class="s" x="1158.25" y="1121.90" font-size="31" text-anchor="middle" fill="#262626">11</text>
<text class="s" x="1306.00" y="1121.90" font-size="31" text-anchor="middle" fill="#262626">12</text>
<text class="s" x="112.00" y="1010.84" font-size="31" text-anchor="end" fill="#262626">0.1</text>
<text class="s" x="112.00" y="920.11" font-size="31" text-anchor="end" fill="#262626">0.2</text>
<text class="s" x="112.00" y="829.37" font-size="31" text-anchor="end" fill="#262626">0.3</text>
<text class="s" x="112.00" y="738.64" font-size="31" text-anchor="end" fill="#262626">0.4</text>
<text class="s" x="112.00" y="647.90" font-size="31" text-anchor="end" fill="#262626">0.5</text>
<text class="s" x="112.00" y="557.17" font-size="31" text-anchor="end" fill="#262626">0.6</text>
<text class="s" x="112.00" y="466.44" font-size="31" text-anchor="end" fill="#262626">0.7</text>
<text class="s" x="112.00" y="375.70" font-size="31" text-anchor="end" fill="#262626">0.8</text>
<text class="s" x="112.00" y="284.97" font-size="31" text-anchor="end" fill="#262626">0.9</text>
<text class="s" x="112.00" y="194.23" font-size="31" text-anchor="end" fill="#262626">1</text>
<text class="s" x="112.00" y="103.50" font-size="31" text-anchor="end" fill="#262626">1.1</text>
<text class="s" x="1228.40" y="1168.70" font-size="31" fill="#262626">×10</text>
<text class="s" x="1283.00" y="1154.80" font-size="24" fill="#262626">-3</text>
<text class="r" x="662.90" y="1191.30" font-size="70" fill="#262626">t</text>
<text class="r" x="681.00" y="1224.50" font-size="54" fill="#262626">f</text>
<text class="r" x="701.00" y="1187.00" font-size="64" fill="#262626">/</text>
<text class="r" x="733.00" y="1191.30" font-size="68" fill="#262626" font-style="italic">a</text>
<text class="r" transform="translate(47.8 639.5) rotate(-90)" font-size="68" fill="#262626">d/ <tspan font-style="italic">a</tspan></text>
<text class="r" x="243.10" y="55.30" font-size="52" font-weight="bold" fill="#000">E</text>
<text class="r" x="279.30" y="29.00" font-size="43" font-weight="bold" fill="#000">image</text>
<text class="r" x="281.00" y="80.90" font-size="44" font-weight="bold" fill="#000" font-style="italic">ϕ</text>
<text class="r" x="390.00" y="55.30" font-size="52" font-weight="bold" fill="#000">/E</text>
<text class="r" x="440.90" y="28.90" font-size="43" font-weight="bold" fill="#000">actual</text>
<text class="r" x="441.80" y="80.90" font-size="44" font-weight="bold" fill="#000" font-style="italic">ϕ</text>
<text class="r" x="554.30" y="55.50" font-size="54" font-weight="bold" fill="#000">;</text>
<text class="r" x="601.80" y="55.30" font-size="55" font-weight="bold" fill="#000" font-style="italic">μ</text>
<text class="r" x="631.50" y="81.80" font-size="46" font-weight="bold" fill="#000">f</text>
<text class="r" x="642.90" y="55.50" font-size="54" font-weight="bold" fill="#000">=100;</text>
<text class="r" x="789.30" y="55.50" font-size="52" font-weight="bold" fill="#000">h/</text>
<text class="r" x="846.00" y="55.50" font-size="54" font-weight="bold" fill="#000" font-style="italic">a=0.01;</text>
<text class="r" x="1029.70" y="55.50" font-size="54" font-weight="bold" fill="#000" font-style="italic">d</text>
<text class="r" x="1056.60" y="81.80" font-size="43" font-weight="bold" fill="#000" font-style="italic">min</text>
<text class="r" x="1124.70" y="55.50" font-size="54" font-weight="bold" fill="#000" font-style="italic">=h</text>
<rect x="1348.0" y="95.5" width="48.0" height="982.0" fill="url(#cb)" stroke="#262626" stroke-width="1.4"/>
<text class="s" x="1407.00" y="954.30" font-size="26.5" fill="#262626">-0.2</text>
<text class="s" x="1407.00" y="821.59" font-size="26.5" fill="#262626">-0.1</text>
<text class="s" x="1407.00" y="688.89" font-size="26.5" fill="#262626">0</text>
<text class="s" x="1407.00" y="556.19" font-size="26.5" fill="#262626">0.1</text>
<text class="s" x="1407.00" y="423.49" font-size="26.5" fill="#262626">0.2</text>
<text class="s" x="1407.00" y="290.78" font-size="26.5" fill="#262626">0.3</text>
<text class="s" x="1407.00" y="158.08" font-size="26.5" fill="#262626">0.4</text>
<path d="M1396.0 944.80h-10M1396.0 812.09h-10M1396.0 679.39h-10M1396.0 546.69h-10M1396.0 413.99h-10M1396.0 281.28h-10M1396.0 148.58h-10" stroke="#262626" stroke-width="1.4"/>
</svg></body></html>
